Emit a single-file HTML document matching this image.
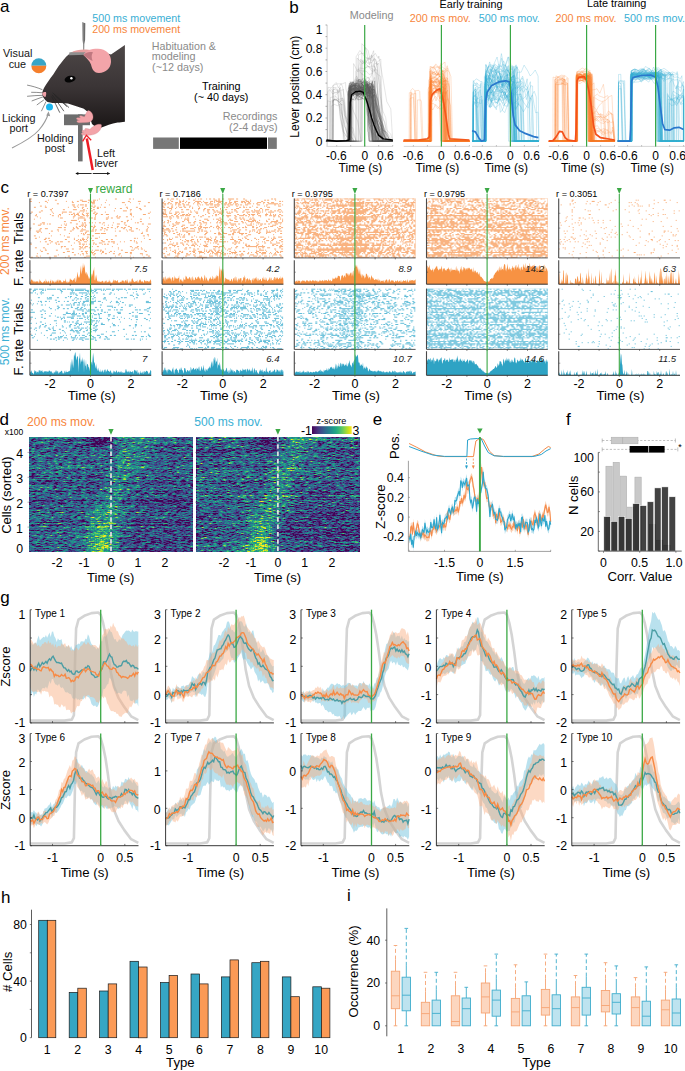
<!DOCTYPE html><html><head><meta charset="utf-8"><style>html,body{margin:0;padding:0;background:#fff}svg{display:block}</style></head><body><svg width="685" height="1071" viewBox="0 0 685 1071" font-family='"Liberation Sans", sans-serif'><rect width="685" height="1071" fill="#fff"/><text x="0.1" y="12.3" font-size="17">a</text>
<text x="92.3" y="22.4" font-size="10.7" fill="#3aafd4">500 ms movement</text>
<text x="92.2" y="32.6" font-size="10.7" fill="#f7853b">200 ms movement</text>
<text x="151.8" y="50" font-size="10.7" fill="#8a8a8a">Habituation &amp;</text>
<text x="151.8" y="60.4" font-size="10.8" fill="#8a8a8a">modeling</text>
<text x="152.1" y="70.7" font-size="10.8" fill="#8a8a8a">(~12 days)</text>
<text x="202" y="90.2" font-size="10.8">Training</text>
<text x="194.1" y="100.7" font-size="10.8">(~ 40 days)</text>
<text x="222.8" y="120" font-size="10.8" fill="#8a8a8a">Recordings</text>
<text x="229.1" y="131" font-size="10.8" fill="#8a8a8a">(2-4 days)</text>
<rect x="153.1" y="137.5" width="25.7" height="11.4" fill="#777"/>
<rect x="180" y="137.5" width="87" height="11.4" fill="#000"/>
<rect x="268" y="137.5" width="8.8" height="11.4" fill="#777"/>
<text x="3.1" y="57" font-size="10.8" fill="#151515">Visual</text>
<text x="8.7" y="67.5" font-size="10.8" fill="#151515">cue</text>
<text x="2" y="122" font-size="10.8" fill="#151515">Licking</text>
<text x="9.4" y="132.2" font-size="10.8" fill="#151515">port</text>
<text x="37" y="142.1" font-size="10.8" fill="#151515">Holding</text>
<text x="44.7" y="152" font-size="10.8" fill="#151515">post</text>
<text x="96.9" y="156.7" font-size="10.8" fill="#151515">Left</text>
<text x="94.4" y="167" font-size="10.8" fill="#151515">lever</text>
<path d="M31.3 65.8a7.5 7.5 0 0 1 15 0z" fill="#36a5c8"/>
<path d="M31.3 65.8a7.5 7.5 0 0 0 15 0z" fill="#f57f2c"/>
<defs><linearGradient id="mg" x1="0" y1="0" x2="0" y2="1"><stop offset="0" stop-color="#4d4747"/><stop offset="0.5" stop-color="#3b3536"/><stop offset="1" stop-color="#1a1616"/></linearGradient><linearGradient id="pg" x1="0" y1="0" x2="1" y2="0"><stop offset="0" stop-color="#a0a0a0"/><stop offset="1" stop-color="#5a5a5a"/></linearGradient></defs>
<path d="M82.1 22 L85.3 23.2 L85.1 40 L84.3 44 L84.2 50 L83.2 50 L83.1 44 L82.4 40z" fill="url(#pg)"/>
<path d="M12 148 C22 143 33 137 39 130 C44 124 47 118 48.2 114" stroke="#9a9a9a" stroke-width="1.1" fill="none"/>
<path d="M46.2 115.6 L48.6 111.3 L50.2 116.2z" fill="#9a9a9a"/>
<rect x="64" y="114.4" width="26" height="10.8" fill="#6d6d6d"/>
<rect x="78" y="114.4" width="4.6" height="47" fill="#6d6d6d"/>
<path d="M42.2 93.5 C42.6 91 43.3 89 44.4 87.2 C45.8 85 47 83 48.5 81 C50 78.5 51.8 76.5 53.4 74.3 C55 71.5 56.8 68.8 58.5 66.3 C60.2 64 61.9 61.8 63.6 59.7 C65.2 57.8 67 56 68.7 54.6 C70 53.6 71.2 52.7 72.5 52 L88 50.5 C95 50.2 104 52 111 54.6 L124.9 45.1 L124.9 121.8 C122 122.3 120 122.5 117.6 122.5 C114.5 123 111.5 123.8 108.8 124.7 C106 125.6 103.5 126.7 101.5 127.6 L97 128 L92 124 L91 121 L89 113 C88.3 112 87.4 111.3 86.3 110.7 C85.3 110 84.3 109.2 83.3 108.6 C81 107.8 79 107.2 77.1 106.6 C74 105.4 71 104.3 67.9 103.5 C63 103.2 57.5 103.1 52.6 103 C50.9 102.7 49.2 102.4 47.5 102 C45.8 100.7 44.5 99.2 43.4 97.4 C42.8 96.2 42.3 94.9 42.2 93.5z" fill="url(#mg)"/>
<path d="M72 52 C76 49.3 86 48.5 93 50.5 L92 53 L72 53.5z" fill="#e8a0a0"/>
<path d="M69.5 52.2 L88.4 52.2 L88.4 54.8 L69 55.2z" fill="#8f8f8f"/>
<path d="M83.5 55 C85.5 50.5 91.5 48.6 98 48.7 C106 49 111.5 54 111 62 C110.5 68.5 106 72.8 99 72.9 C93.5 73 92 68.5 91 64.5 C89.5 60.5 86.5 58 83.5 55z" fill="#f3a4a9"/>
<path d="M83.5 55 C85.5 52.3 89.5 51.2 93 52.3 C91.2 54.8 91.4 57.8 92.6 61 C90 59.6 86.5 58 83.5 55z" fill="#c07880"/>
<ellipse cx="70.1" cy="79.1" rx="5.6" ry="3.3" fill="#050505" transform="rotate(-12 70.1 79.1)"/>
<circle cx="71.4" cy="78.2" r="1.2" fill="#fff"/>
<path d="M42 93.4 C42.5 92.2 44.5 91.6 46 92 C46.4 93.6 46.2 95.6 45.4 97 C44 96.6 42.6 95.4 42 93.4z" fill="#f0a0a8"/>
<path d="M42.4 89.7 C37.5 87.6 32 86 27.1 85.1 M42.4 92.8 C38.5 92.4 34.8 92.3 31.2 92.3 M42.9 95.3 C37.5 95.4 32 95.8 27.1 96.3 M42.9 96.9 C39 98.3 35.2 99.6 31.7 101 M43.9 99.9 C41.5 101.6 39 103.3 36.8 105 M46 101.5 C44.5 104.8 43 108 41.4 111.2" stroke="#303030" stroke-width="0.55" fill="none"/>
<path d="M52.6 92.8 C58 97.5 64 102.5 69 107.6 M52.1 94.8 C56 100 60 105.5 63.9 111.2 M51.6 96.4 C54.5 101.8 57.2 107.2 59.8 112.7 M54.7 95.3 C58.8 99 62.8 102.8 66.9 106.6" stroke="#242424" stroke-width="0.7" fill="none"/>
<circle cx="49.5" cy="107.1" r="3.5" fill="#1db6ee"/>
<path d="M88 110.5 C91 111 93.5 114 93 118 C92.5 121 90 122.5 86 122.5 L80 122.8 C78 122.8 76.5 122 76.8 121 C77 120.3 78.5 120.2 79.5 120.3 C77.5 120 76 119.2 76.5 118.2 C77 117.4 79 117.6 80.5 118 C79.5 117.2 79.2 116.2 80 115.8 C81 115.4 83 116.3 84.5 116.8 C85.5 114.5 86.5 112 88 110.5z" fill="#f3a4a9" stroke="#c88088" stroke-width="0.3"/>
<path d="M101.5 125 C101.5 129 99 132.5 95 134 C92 135.2 88 135.5 84 135.2 C82 135 81 134.3 81.3 133.5 C81.6 132.8 83 132.7 84 132.8 C82.3 132.3 81.5 131.5 82 130.8 C82.5 130.2 84 130.3 85.5 130.6 C84.5 129.8 84.5 129 85.3 128.6 C86.5 128.2 88.5 129 90 129.3 C92 127 95 125 98 124.3 C100 124 101.5 124.3 101.5 125z" fill="#f3a4a9" stroke="#c88088" stroke-width="0.3"/>
<path d="M76 173.5H91.6M92.8 173.5H109.4" stroke="#111" stroke-width="0.9"/>
<path d="M75.3 173.5l3-1.6v3.2zM110.1 173.5l-3-1.6v3.2z" fill="#111"/>
<path d="M92.7 170 L86.8 138.5" stroke="#ee1c24" stroke-width="2.5" fill="none"/>
<path d="M82.6 141.4 L86.4 135.2 L91.2 140.2" stroke="#ee1c24" stroke-width="1.3" fill="none"/>
<text x="289.3" y="12.6" font-size="17">b</text>
<text x="349.7" y="19" font-size="10.8" fill="#8a8a8a">Modeling</text>
<text x="439.5" y="7.7" font-size="10.8">Early training</text>
<text x="586.9" y="7.4" font-size="10.8">Late training</text>
<text x="409.8" y="21.9" font-size="10.8" fill="#f7853b">200 ms mov.</text>
<text x="478.8" y="21.9" font-size="10.8" fill="#3aafd4">500 ms mov.</text>
<text x="555.5" y="21.9" font-size="10.8" fill="#f7853b">200 ms mov.</text>
<text x="624.1" y="21.9" font-size="10.8" fill="#3aafd4">500 ms mov.</text>
<path d="M327.1 24.9L327.1 146.4" stroke="#c0c0c0" stroke-width="0.8"/>
<path d="M325.5 141.2L327.1 141.2" stroke="#777" stroke-width="0.6"/>
<path d="M325.5 129.6L327.1 129.6" stroke="#777" stroke-width="0.6"/>
<path d="M325.5 118L327.1 118" stroke="#777" stroke-width="0.6"/>
<path d="M325.5 106.3L327.1 106.3" stroke="#777" stroke-width="0.6"/>
<path d="M325.5 94.7L327.1 94.7" stroke="#777" stroke-width="0.6"/>
<path d="M325.5 83.1L327.1 83.1" stroke="#777" stroke-width="0.6"/>
<path d="M325.5 71.5L327.1 71.5" stroke="#777" stroke-width="0.6"/>
<path d="M325.5 59.9L327.1 59.9" stroke="#777" stroke-width="0.6"/>
<path d="M325.5 48.2L327.1 48.2" stroke="#777" stroke-width="0.6"/>
<path d="M325.5 36.6L327.1 36.6" stroke="#777" stroke-width="0.6"/>
<path d="M325.5 25L327.1 25" stroke="#777" stroke-width="0.6"/>
<text x="315.7" y="145.6" font-size="12">0</text>
<text x="305.8" y="122.4" font-size="12">0.2</text>
<text x="305.5" y="99.1" font-size="12">0.4</text>
<text x="305.7" y="75.9" font-size="12">0.6</text>
<text x="305.7" y="52.6" font-size="12">0.8</text>
<text x="315.8" y="33.6" font-size="12">1</text>
<text x="298.7" y="137.7" font-size="12" transform="rotate(-90 298.7 137.7)">Lever position (cm)</text>
<path d="M326.5 146.4L392.7 146.4" stroke="#d0d0d0" stroke-width="0.9"/>
<path d="M336.7 146.4L336.7 145" stroke="#888" stroke-width="0.5"/>
<path d="M350.7 146.4L350.7 145" stroke="#888" stroke-width="0.5"/>
<path d="M364.7 146.4L364.7 145" stroke="#888" stroke-width="0.5"/>
<path d="M378.7 146.4L378.7 145" stroke="#888" stroke-width="0.5"/>
<path d="M392.7 146.4L392.7 145" stroke="#888" stroke-width="0.5"/>
<path d="M326.5 141.2l24.2 0 0.2-57.4 2.6 1.4 3.4-1.8 4.1 0.5 4.2-4.4 4.1 8.1 0.1 0.7 2 33.7 1.9 3.5 1.9 5.6 2 10.1 15.5 0M326.5 141.2l23.1 0 0.2-48.5 3.4-0.3 3.6 3.2 1.9-0.4 2.6-4.5 4.2-2.1 2.8 2.2 1.3 11.4 1.3 11.5 1.3 17.9 1.3 9.6 19.2 0M326.5 141.2l23.1 0 0.2-49.1 2 1.4 2.7-8.4 2.7 8.4 4.3 1.6 3.9-10.7 3.1 7.7 2.7-0.5 0.5 10.7 0.5 4.8 0.5 12.2 0.4 21.9 19.6 0M326.5 141.2l23.3 0 0.2-46.8 2.9 1.6 4.3-4 3.6-4.6 2.2 9.1 3.4-2.9 2.1 0.2 4.3-0.9 0.5 7.9 1.7 9.1 1.6 7.2 1.6 11.4 1.6 12.7 12.9 0M326.5 141.2l23.9 0 0.2-53.9 3.4-3.4 2.7 5.2 4.1-2 3.7 0.7 2.1-5.9 2 0.6 2.5 1.2 2.2 3.9 0.5-1.5 3.2 35.6 3.1 3 3.1 7.8 3.2 8.7 6.3 0M326.5 141.2l22.7 0 0.2-46.7 3.4 0.9 2.1-3.4 2.7-1.3 3.7 4.1 3.6-3.6 2.5 4.5 1.5 22.6 1.6 4.4 1.6 3 1.5 15.5 19.1 0M326.5 141.2l22.1 0 0.2-50.8 2.5-2.6 2.1 2.2 3.4-0.9 3.7 0.7 2.6-0.5 4.3 5 2.3 2.3 1.1-6.2 0.7 6.6 0.6 26.3 0.6 4.2 0.7 13.7 19.3 0M326.5 141.2l23.1 0 0.2-54 4.4 2 2.3-9.1 4.4 4.1 4.4 2.4 4.1-5 0.6 9.2 3.1 11.8 3.2 22.9 3.1 6.9 3.1 8.8 10.2 0M326.5 141.2l22.6 0 0.2-52.7 3.4-6.5 2.7 10.8 3.6-5.6 3.3 0.9 4.4-2.8 2.2-1.8 3.7 32 3.6 7.3 3.7 3.5 3.6 14.9 9.2 0M326.5 141.2l23.2 0 0.1-46.8 4.4-4.4 2.4 5.5 2.6-2.1 3.9-3.5 2.1 6.8 2.8 2.7 3.3-7.9 2.2-2 0.5 10.1 0.5 8.9 0.5 10.6 0.5 22.1 17.2 0M326.5 141.2l22.1 0 0.2-55.8 3.6 0.3 3.3-0.1 3-0.4 3 6 3.5-9.6 1.2 4.6 3.2 21.8 3.1 8.4 3.2 7.8 3.1 17 13.7 0M326.5 141.2l21.3 0 0.2-47.5 4.5-2.7 4-0.7 4.2 8.3 3.5-3.3 3.9-3.8 3.1 4.1 3.5 17.5 3.4 11.8 3.5 11 3.4 5.3 7.7 0M326.5 141.2l23.1 0 0.2-48.9 1.9-1.5 3.3-3.6 3 6.9 3.8 0.1 2.5-0.5 4.3-1.3 2.8-1.5 2.3 24.8 2.4 10 2.3 4 2.3 11.5 12 0M326.5 141.2l22.9 0 0.2-45 3.5-0.5 2.4-4 4.1 2.4 2.5 4.4 4.5-0.5 0.9 4.7 0.4 0.7 0.5 12.3 0.5 13 0.4 12.5 23.4 0M326.5 141.2l23.4 0 0.2-49.7 2.3-3.7 4.4 4.3 3.9 1.5 3.4-0.4 2.2-5.3 2.9-0.6 1.9 4.2 3.1 13.4 3 18.7 3 11.2 3.1 6.4 9.4 0M326.5 141.2l22.6 0 0.2-54.4 3.5-1.3 4.4 1.1 3.8-0.7 4.1-3.8 0.2 5.8 1.6 9.6 1.6 27.5 1.7 4.6 1.6 11.6 20.9 0M326.5 141.2l23.3 0 0.2-49.2 2.3-6 4.2 9.4 2-8.8 3.2 1.9 2.9 2.5 3.4 1.1 3.1-2.5 3.6-0.1 3.7 36.2 3.6 6 3.7 6.1 3.6 3.4 3.4 0M326.5 141.2l24.2 0 0.2-53.1 2.7-4.3 4.1-0.3 4.3 5.8 2.5-4.7 3.5 5 4-4.3 0.2-1.7 0.8 20.8 0.7 15.9 0.7 2.2 0.8 18.7 17.5 0M326.5 141.2l22.9 0 0.2-50.8 4.2 4.1 2.7-5.9 3.3-1 2.2 5.4 1.9-6.3 4.2 5.5 2.7 0.7 2.9 0.2 0.2-7.8 2.2 24.6 2.2 19.1 2.3 1.9 2.2 10.3 9.9 0M326.5 141.2l23.8 0 0.2-54.3 3.4-1.2 4.2 0.6 3.7-2.6 1.9-2.9 2.9 3 2.7 7.6 1.9-8.1 3.6 12.6 3.6 20.1 3.5 7.4 3.6 17.8 7.2 0M326.5 141.2l22.1 0 0.2-54.3 4.3-0.1 4-4.2 3.4 5.1 3.5 3.5 3.8-3.6 3.9 24 3.9 9.5 3.9 10.4 3.9 9.7 9.3 0M326.5 141.2l22.3 0 0.1-49.6 2.4 7.3 3.9 1.2 3.4-6.1 4.5-5 4.4 6.2 4.5 2.9 2.7-3.6 3.3 20.7 3.4 6.5 3.3 8 3.3 11.5 4.7 0M326.5 141.2l24 0 0.1-55.1 2-2.2 2.3 2.6 3.5-7.3 2.7 4.2 3.3 2.7 3.9 1.3 0.7 2.1 3.2 19.1 3.3 8.8 3.2 9.7 3.3 14.1 10.7 0M326.5 141.2l23.7 0 0.2-53.5 2.5-2.6 3.2 2.2 4.5 5 4.2-7.9 2.1 12.1 3.4-1.3 3.4-2.6 0.9-11.8 4 41.1 4 7.1 3.9 5.5 4 6.7 2.2 0M326.5 141.2l23.2 0 0.2-55.6 4.1-3.8 3.7 8.6 2.1-0.8 2.7-7.3 3.3 1.9 3.8 2.4 0.8 25.1 0.7 4.6 0.8 14.4 0.7 10.5 20.1 0M326.5 141.2l25.5 0 0.2-44.1 3.2-3.5 2.5 6.2 4-0.6 1.9-5.5 3.9 7.8 3.9 19.4 4 7.6 4 5.5 3.9 7.2 9.2 0M326.5 141.2l21.5 0 0.2-52.7 3-2.8 2.2 1.3 3.6-2.7 4.5 8.8 2.3-3.7 3 0.1 2.6-6.3 2.5 7.9 0.1-5.5 1.6 20.6 1.6 20.7 1.6 2.5 1.6 11.8 14.3 0M326.5 141.2l24 0 0.2-53.6 3.7-2.8 2.7 9.6 3.3-5.9 2.3-2.5 2.5-2.1 3.9 1.4 2.7 3.3 1.1 18.3 1.1 5.8 1.1 12.7 1.1 15.8 16.5 0M326.5 141.2l21.9 0 0.2-47.7 4.3 1.7 3.7-0.6 3.3-0.7 2.3-1.2 3.4-2.8 2.6 4.2 0.5-4.8 2.2 26.1 2.1 16.4 2.1 4.5 2.1 4.9 15.5 0M326.5 141.2l21.5 0 0.2-50.1 3.8-3 3.8 2.4 2.3-1.1 4.3 2.7 2.5-4.7 2.8 9.4 4.4-9.4 0-2 1.8 27.5 1.8 17.8 1.8 3.6 1.7 6.9 13.5 0M326.5 141.2l23.7 0 0.1-47 4.6-4.4 2.9 6.8 3.4-5.3 3.6 5.5 2.6 18.4 2.6 3.6 2.5 10.2 2.6 12.2 17.6 0M326.5 141.2l23 0 0.2-52.5 1.9-1.6 2.2 1.2 3.3 2.1 4.6-3.9 4.4 5.7 4.2 1.7 1.6-5.4 1.3 19.2 1.2 16.3 1.3 10.4 1.2 6.8 15.8 0M326.5 141.2l22 0 0.2-48.6 4.6-0.2 1.9-2.5 4.2 4.8 2.4-1.8 2.8 1.3 4.6 1.8 2.8 1.7 2.1 14.6 2.1 6.8 2.1 5.9 2.1 16.2 12.3 0M326.5 141.2l22.1 0 0.2-50.9 4.2-2 2.2-0.7 1.9 0.7 4 1 3.8 0.1 2.3 3.6 4.5-6.6 2 11.4 0.5-3.6 3.1 3.9 3.1 16.2 3.1 12.5 3.1 14.4 6.1 0M326.5 141.2l24.7 0 0.2-51.7 3.4 3.9 3-5.2 2.3 4 2.5-4.8 4.1 3.3 1.3-2.8 2.4 11.6 2.5 9.6 2.5 10.5 2.4 21.6 14.9 0M326.5 141.2l23.7 0 0.2-54.7 2.6 1.9 2.3-2.3 2.6-1.7 3.3-3.8 2.4 12.3 3.5-9.5 1.2 6.3 1.1 14.5 1 24.2 1.1 2.9 1.1 9.9 20.1 0M326.5 141.2l22.6 0 0.1-57.8 4.3 1.3 3.6-1.4 3.3-2.3 2.2-2.2 3.2 7.6 1.7 5.4 1.8 30.6 1.8 5.1 1.8 13.7 19.8 0M326.5 141.2l23.7 0 0.2-54.2 2.9 4.8 2.6-5.3 3.7 4.3 3.3 3.2 4.2-12.8 3.1 7 2.3-6.5 0.9 25.1 0.8 14.7 0.8 13.3 0.9 6.4 16.8 0M326.5 141.2l24.3 0 0.2-43.3 2.1 1.9 3.8-5.4 3.1 2.5 4.5 2.9 3.3-0.6 3.3-2.4 2.9-2 4 13.2 4.1 22 4 1.7 4 9.5 2.6 0M326.5 141.2l23.5 0 0.2-54.4 2.7-3.9 4.6 2.9 4.2 9.8 4.1-15.4 4.2 8.8 4 0.6 2.1 4.8 2.1 17.3 2.1 4.5 2.1 25 10.3 0M326.5 141.2l22.6 0 0.2-50.4 3.5-1.7 4.3 4 4-2.9 4.7 4.2 0.4-4.8 0.8 19.1 0.8 22.5 0.8 1.6 0.7 8.4 23.4 0M326.5 141.2l22.1 0 0.2-46.8 3.2 1.6 3.6-3.8 3.3 5.3 4.1-5.2 2.8 2.1 2.5-1.6 2.2 2.8 0.2 0.5 3.4 3.1 3.4 7.9 3.4 11.4 3.5 22.7 8.3 0M326.5 141.2l22.8 0 0.2-57.4 3.1-2 3.1 3.6 3.9-6.4 3.6 7.2 2 0.3 2.7 25.2 2.8 6.7 2.7 15.9 2.8 6.9 16.5 0M326.5 141.2l23.9 0 0.2-52 3.5-0.6 4.1-1.1 2.1 3.4 2.2-6.8 2.2 5.4 3.5-5 1.2 11 1.2 12.8 1.2 19.4 1.2 13.5 19.7 0M326.5 141.2l22.9 0 0.2-48.8 3.1 1.5 3.3 5.3 2.1-8.5 2.4-2.7 3.6 6.2 3.6-2 1.2 29.9 1.1 2 1.1 4.4 1.2 12.7 20.4 0M326.5 141.2l24.2 0 0.2-51.3 3.7 2.9 2 0.1 4.3-6.2 3.3 5.1 3.5-6.2 2.1 5.4 1.4 34.5 1.4 8 1.4 5 1.3 2.7 17.4 0M326.5 141.2l24.4 0 0.2-56.9 4.6 4.2 2.6-2.5 2.2-3.5 3.3 3.6 4.4-1.7 4.2-0.4 0.6 15.1 0.6 8 0.5 22.5 0.6 11.6 18 0M326.5 141.2l22.4 0 0.2-49.9 3.7-1.8 4 0.2 2.2-4.5 2.5 7.9 2.6-1.8 2.6-3.7 1.9 3.7 2.9-2.3 1.3 9.1 2.9 9.7 2.8 6 2.8 12.8 2.8 14.6 8.6 0M326.5 141.2l23.3 0 0.2-46.8 2.1-1.3 3.6 0.9 2.3-4.6 4.3 6.4 3.4-4.8 0.4-2.4 3.5 19.4 3.5 21.8 3.5 6.7 3.5 4.7 12.6 0M326.5 141.2l23.2 0 0.2-53.3 3.5 0.3 4.6-0.9 4.3-1.9 2.7 5.2 2-4.6 0.5-3.1 0.4 39.2 0.3 11.8 0.4 3.5 0.4 3.8 23.7 0M326.5 141.2l22.7 0 0.2-52.8 4.4-3 3.4-0.6 3.1 6.1 4.3 1 3.3-1.5 2 0.3 0.7 28.2 0.6 5.4 0.6 10.5 0.7 6.4 20.2 0M326.5 141.2l24 0 0.2-51.4 3.6-0.9 3.8-0.1 3.6 2.1 2.5 1.4 4.2-6.4 0 8.7 0.4 21.4 0.4 10.4 0.5 10 0.4 4.8 22.6 0M326.5 141.2l24.1 0 0.2-49.8 3.5-2.9 4.3 5.9 4.2-5.4 4.6 2.1 2.5-5.4 0.2 5.7 2.2 17.8 2.2 9 2.3 3.4 2.2 19.6 13.7 0M326.5 141.2l23 0 0.2-51.6 3.4 0 4-2.4 2-1.6 3.9 2.3 3.8 5 3.6-2.8 3.2 24.6 3.1 16 3.2 4.5 3.2 6 9.6 0M326.5 141.2l23.7 0 0.2-48.3 2 0.3 2.9 1.3 3.1-3.1 4.3-1.9 2 0.2 3.1-5.7 2.9 3.8 2.4 8.3 0.2-1.4 3.2 15.9 3.3 6.8 3.2 15.7 3.3 8.1 6.4 0M326.5 141.2l22.9 0 0.2-54.9 2.2 3.1 2 4.8 3.2-9.5 3.2-0.6 3.1-1.5 4.4 4 2.2 3.7 2.3-8.7 1.6 5.6 1.2 10.8 1.2 24.7 1.2 7.9 1.2 10.6 14.1 0" stroke="#5a5a5a" stroke-width="0.55" fill="none" opacity="0.55"/>
<path d="M326.5 141.2l6.8 0 0.2-40.8 2.1-4.3 3.1 3.5 4-1.7 1.1 2.5 3.1 23 3 2.3 3.1 2.5 3 13-7.5 0 0.2-54.1 1.9-4.3 4.5 3.6 2.9-0.1 2-2.8 2.5 7.3 2.5-5.3 2.5 0.8 2.7-3 1.9 1.4 0.7 6.2 2.7 28 2.8 2.3 2.7 3.7 2.8 16.3 8.9 0M326.5 141.2l3.2 0 0.2-51.4 2.7 4.1 4.2-1.6 3.3-2 2.6-0.2 0.7-1 1 19.8 1 9 1 6.9 1 16.4 9.6 0 0.2-83.2 2.9 3.4 3.1 2.6 3.3-5.7 3 0.6 2-1 3.8-4.5 3 5.1 0.5-2.5 4 21.8 4 23.8 4 7.3 1.9 32.3 0 0M326.5 141.2l1 0 0.2-40.7 2.3 1.5 3.3-2.4 3.9-0.7 3.1 2.8 1.9-3.5 1.6 4.2 1 23.9 1.1 2.4 1 4.9 1.1 7.6 0.1 0 0.2-49.6 2.5-2.4 3.5 2.1 1.9 0.9 2.3-0.2 3.9 1.6 3 0.3 4 8.6 4 15.1 4 13.4 4 10.2 11.3 0M326.5 141.2l35.6 0 0.2-80.3 2.9 1.4 3.8-3.3 3.1 1.4 3.7-1 0.7 2.7 1.6 13 1.5 10.6 1.6 38.3 1.6 17.2 9.9 0M326.5 141.2l24.3 0 0.2-59.4 2.5 0.5 3.7-4.7 2.9 11.1 4.3-5.3 3.8 2.1 1.2 12 1.2 28.4 1.3 9.1 1.2 6.2 19.6 0M326.5 141.2l29.3 0 0.2-69.8 2.1-2.2 3.7 1.7 4.6 0.4 2.7 3.2 2.8-0.9 2-10.1 2.1 12.7 4 39.4 4 14.6 4 3.6 3.9 7.4 0.8 0M326.5 141.2l5.9 0 0.2-40.7 3.3-1.5 3 3.5 2.8-2 1.2-0.5 2.8 18.8 2.8 8 2.7 9.5 2.8 4.9-2.6 0 0.2-50.6 2.9-1.2 2.6-0.2 4.1 4.2 3.6-4.9 2.5-2.2 3 4.1 2.8 22.3 2.8 8.2 2.8 5.3 2.7 15 11.3 0M326.5 141.2l35.5 0 0.2-67.1 4.2 2.9 3.1 1.6 4.5-7.9 4.1 4 2.1 1.3 1.6 40 1.6 3.9 1.5 2.6 1.6 18.7 6.2 0M326.5 141.2l5.1 0 0.2-37.6 2.4-3.9 3 0.7 3.3 2.8 3.5 22.1 3.4 8.4 3.5 2.8 3.5 4.7-4.4 0 0.2-52.4 2.6 2.3 3.8-0.9 4.1-4.8 3.4 12.2 0.6-1.9 3.3 11.9 3.2 15.8 3.2 9.4 3.2 8.4 15.1 0M326.5 141.2l6.5 0 0.2-52.2 2.3 0.8 2.3 1 2.2 23.6 2.3 10.2 2.2 11.6 2.2 5 3.2 0 0.2-59 3.1 1.3 3.1-0.1 4-4.5 3.8 8.3 3-5.2 2.4-2.6 3.5 2.7 1.7-4.7 2.3 11.2 2.2 22.2 2.3 6.1 2.2 24.3 9 0M326.5 141.2l3.7 0 0.1-43.6 3.5-0.9 2.8-2.7 3.6-2.7 1.1 10.3 0.5 5.6 0.6 6.3 0.5 14.1 0.5 13.6 6.6 0 0.2-59.8 2.9 6.9 3-3.1 4.3-3.9 4.4 2.1 1.9-5.1 2.1-1 0.6 5.5 2.1 10.3 2.1 7.6 2.1 27.5 2.1 13 14.9 0M326.5 141.2l6.7 0 0.2-41.2 3.7-0.3 2.9 8.2 2.9 10.1 2.9 10.8 3 12.4 1.3 0 0.2-53.1 3.6-4.9 2.6 5.8 2-5.2 2.9 6.1 3.5 2.1 2.1-2.3 2.8 0.4 1.4-3.2 3.7 24.9 3.6 8.9 3.7 5.5 3.6 15 6.9 0M326.5 141.2l25.6 0 0.2-57 4.4-8.3 4.2 12.3 4.4-9.6 2.3 8.5 2 1.6 4.1 8.6 4 12.2 4.1 8 4 23.7 6.9 0M326.5 141.2l32.5 0 0.2-73.3 4.6 0.7 3.4-1.6 3.8-0.8 3.4-0.1 1.5 3.1 1.9 18 1.8 36.2 1.9 11.4 1.9 6.4 9.3 0M326.5 141.2l34 0 0.2-80.8 4.6 3 2.6-4.7 4-3.8 3.3 9.1 4.4-3.9 1.2-1 0.5 16.6 0.5 27.8 0.5 22.1 0.5 15.6 9.9 0M326.5 141.2l1 0 0.2-49.2 2.8-3.4 3.6 3.9 2.8-0.4 2.2 0 0.4-4 2.9 37.1 2.9 10.5 2.9 1.4 2.9 4.1-1.9 0 0.1-53.3 2.2 1.2 2-3.7 2 0.3 4.4-0.5 3.7 2.5 2.6-5 3.3 8.9 2.9-11.3 2.4 11.9 2.6 5.2 2.6 20 2.7 7 2.6 16.8 7.4 0M326.5 141.2l29.5 0 0.1-84.4 3.8-6.3 4.6 6.2 3.1 1.3 2.9 0.6 3.1-7.9 0.6 7.7 2.3 54.7 2.3 8.3 2.3 3.3 2.3 16.5 9.3 0M326.5 141.2l6.5 0 0.2-55.9 4.5-1.5 4.5 0.1 3.3-1.4 0.4 6.5 3.8 11.1 3.9 11.5 3.8 8.5 3.8 21.1-10.6 0 0.2-50.6 3.6-2.8 3.4 2.7 2.2-6 3.7 9.4 3.7-6.3 3.2 0.4 2.1 2.9 0.4 6.1 0.3 22.7 0.4 11.4 0.4 10.1 18.5 0M326.5 141.2l6.1 0 0.2-50.7 2.5-2.1 3 2.8 2-4.1 4 28 4 5.2 4.1 11.8 4 9.1-6.9 0 0.1-55.8 3.9 2.5 2.1-6 4.2 2.5 2.7-2.7 3 7.8 3.1 26.4 3.2 16.8 3.2 1.8 3.1 6.7 14.6 0M326.5 141.2l1.3 0 0.2-53.9 3.6 0.6 2.1-3.2 2.6-2.2 2.1 5.5 2.6-4.4 1.6 3.2 2.1 14.4 2.2 20.8 2.1 3.3 2.2 15.9-0.4 0 0.2-57.3 4.6-2.8 4.1 0.1 4.5 1.3 4.3-1.2 2.1-0.2 1.7 17.2 1.7 29.3 1.7 6.9 1.7 6.7 15.3 0M326.5 141.2l26.9 0 0.2-77.6 4.3 8.4 2.4-12.7 2.2 1.1 2.2-0.2 2.6 3 4.6-0.7 2.8-4.3 2.5 6.7 1.5-1.7 4 53.2 4 13.6 4 4.1 2 7.1 0 0M326.5 141.2l6.2 0 0.2-53.8 3.2 0.2 1.4 1.4 2.8 29.7 2.8 13.3 2.8 2.7 2.7 6.5 1.1 0 0.2-49.5 2.7-2.6 4.5 6.1 1.9-5.3 1.9-2.1 3.8 0.9 3 7.9 1.6 27.5 1.6 7.7 1.7 2.6 1.6 6.8 18.5 0M326.5 141.2l34.3 0 0.2-77 3.3-2.3 3.2 4.2 4.2 2.2 3.2 2.4 2.2-7.7 2.8 30.9 2.9 17.1 2.9 6.5 2.9 23.7 4.1 0M326.5 141.2l4.6 0 0.2-35.3 3.4-1.5 2.6 1.3 2.5-1.4 1.2 14.6 1.3 9.5 1.2 6.4 1.3 6.4 5 0 0.2-52.9 3-2.3 3.6 2 4-0.2 4.5-1.7 2.1 0.2 0.5 8.8 0.9 3.8 0.9 25.8 0.9 11.1 0.9 5.4 21.4 0M326.5 141.2l23.8 0 0.2-56.3 3.6 6.2 2.1-11.8 4.4 2.9 3.3-4.4 4 10.9 2.9-0.7 3-4 0.3 1.5 0.8 33.1 0.8 8.2 0.8 2.5 0.9 11.9 15.3 0M326.5 141.2l35.2 0 0.2-97.5 4.6 5.1 1.7 1.9 3.5 15.5 3.6 24.3 3.6 15.2 3.5 35.5 10.3 0M326.5 141.2l3.4 0 0.2-38 4.7-3.5 3.5 1.2 3.3 4.2 0.3-1.1 0.6 10.8 0.6 4.9 0.6 14.8 0.6 6.7 3.1 0 0.2-49.5 2.3-0.7 2.8 3.3 2.6-8.7 2.7 14.6 2.7-9.2 3.7-2.8 4.4 2.4 1.7 0.4 2.8 18.6 2.8 11.2 2.8 6.8 2.8 13.6 11 0M326.5 141.2l31.8 0 0.2-86.4 3.3-1.5 1.8 0.7 2.1-6.3 3.7 17.4 2.4-9.7 0.8 46.3 0.8 4.1 0.8 17.8 0.8 17.6 17.7 0M326.5 141.2l32.3 0 0.2-71.1 3 4.3 2.4-5.4 3.6-3.4 4 5.8 2.7-1.5 2.4-0.1 0.8 33.9 0.8 11.5 0.8 6.7 0.8 19.3 12.4 0" stroke="#5a5a5a" stroke-width="0.5" fill="none" opacity="0.3"/>
<path d="M326.4 140l10.3 1.2 9.3-0.6 3.1-0.6 1.1-37.1 1.4-8.2 3.8-2.9 4.6-0.6 3.3 1.2 1.4 3.5 2.3 5.8 2.4 8.1 2.3 8.2 2.3 6.9 2.4 5.8 2.3 4.7 4.7 3.5 9.3 1.1" stroke="#000" stroke-width="1.4" fill="none" stroke-linejoin="round"/>
<path d="M364.7 25L364.7 146.4" stroke="#3aa845" stroke-width="1.2"/>
<text x="326.1" y="159.6" font-size="12">-0.6</text>
<text x="361.4" y="159.6" font-size="12">0</text>
<text x="377" y="159.6" font-size="12">0.6</text>
<text x="338.6" y="171.5" font-size="12">Time (s)</text>
<path d="M403.8 146.4L469.4 146.4" stroke="#d0d0d0" stroke-width="0.9"/>
<path d="M413.4 146.4L413.4 145" stroke="#888" stroke-width="0.5"/>
<path d="M427.4 146.4L427.4 145" stroke="#888" stroke-width="0.5"/>
<path d="M441.4 146.4L441.4 145" stroke="#888" stroke-width="0.5"/>
<path d="M455.4 146.4L455.4 145" stroke="#888" stroke-width="0.5"/>
<path d="M469.4 146.4L469.4 145" stroke="#888" stroke-width="0.5"/>
<path d="M403.8 141.2l26.6 0 0.2-57.2 3.9-3.4 3.8 5.1 3.5-6.2 3.5 2.5 3-1.1 0.9 5 2.3 55.3 17.9 0M403.8 141.2l24.2 0 0.1-52.1 2-3.8 2.8 3.2 2.9-2.7 3.4 6 2.6-5.7 2.2 2.6 1.4 13.1 1.7 39.4 22.3 0M403.8 141.2l26.2 0 0.2-69.5 3.9-4.9 4.1 8.2 2.9-12.1 0.5 9.9 0.5 68.4 27.3 0M403.8 141.2l26.2 0 0.2-49.3 4.5 0.8 3.2-2.4 3.6 4.5 2.1 46.4 25.8 0M403.8 141.2l25 0 0.2-50.5 2.4 3.9 2.8-3.3 4.4 1.3 2.6-4.5 2.9 4.1 1.8 49 23.5 0M403.8 141.2l25.4 0 0.2-56.8 2.4 1.6 3.3-6 2.1 6.4 4.2-0.8 1.2 6.3 0.6 49.3 26.2 0M403.8 141.2l27.3 0 0.2-62.4 4.4-2.4 2.1 9.2 2.6-5.8 2.4-3.6 1.6 5.1 1.7 59.9 23.3 0M403.8 141.2l5.3 0 0.2-48.5 2-0.3 0.2 48.8 20.2 0 0.2-68.2 2.6-0.8 2.4 2.7 3.8-1.1 4.6-1.4 2.3-2.5 1.5 2.4 1.6 68.9 18.7 0M403.8 141.2l26.9 0 0.2-62.9 4-0.7 3.9-4.1 4.3 8.2 3.8-1 0.8-2.8 1.6 63.3 20.1 0M403.8 141.2l27 0 0.2-63.4 3.5 1.3 3 0.6 4.5-1.7 2.6 2.7 1.1-0.7 0.3 61.2 23.4 0M403.8 141.2l26.6 0 0.1-60.2 2.2-0.5 3.6 10.4 4.5-9.4 4.7-1 0.8-3.3 0.8 64 22.3 0M403.8 141.2l25.5 0 0.2-47.8 3 2.6 3.4-3.6 3 0.9 2.2 0.5 2.1 2.1 0.9-3.6 0.7 48.9 24.6 0M403.8 141.2l26.9 0 0.1-51.3 3.7-1.7 4.6-5.7 3.9 11.2 2.2-5.5 1.5 53 22.7 0M403.8 141.2l6.1 0 0.2-42.8 3.4-1 1.5 43.8 16.2 0 0.2-66.2 2.7-3.4 1.9 3.7 3.8-2.7 2.6 0.6 1.7 68 25.3 0M403.8 141.2l6.6 0 0.2-46.3 2.9-0.4 0 0 1.8 46.7 15.1 0 0.2-68.6 2.4 0.6 3.5 2.5 4-5.5 3 1.1 2 0.1 1.2-1.7 2.3 71.5 20.4 0M403.8 141.2l25.6 0 0.2-69.9 4 0.7 2.9 3.3 3.1-4.8 3.4 3.4 2.3 6 1.9 61.3 22.2 0M403.8 141.2l26.6 0 0.2-61.6 2.5 2.7 3.1-2.9 3.8-3.8 2.7 6.3 0.4 59.3 26.3 0M403.8 141.2l26.8 0 0.2-58 2.1-0.7 4.4-4.4 2.2 5.4 2.7-0.9 1.6-4.6 1.6 63.2 24 0M403.8 141.2l26.1 0 0.1-57.5 4 2.2 2.2 3.3 2.6-4.9 0.3-3.7 1.7 60.6 28.6 0M403.8 141.2l25.9 0 0.2-72.3 3.5-2.3 1.9-0.7 3.6 1.4 3.3 3.1 2.3 3 2.2 67.8 22.7 0M403.8 141.2l27 0 0.2-37.6 2.8 0.1 4 5 4.3-5.9 2.9-4 0.9 9.6 1.6 32.8 21.9 0M403.8 141.2l6.8 0 0.2-50.9 1.9-1.8 2.3 2.4 1.5 50.3 12 0 0.2-49.3 4.4-1.2 4.2 2.3 3.2-2.9 1.5 51.1 27.4 0M403.8 141.2l27.5 0 0.2-59.6 3.6 2.5 3.4-3.5 3.2-1.5 1.5-6.2 0.4 68.3 25.8 0M403.8 141.2l7.1 0 0.1-48.3 2.7 0.9 2.1-0.6 0.4 48 14 0 0.2-48.7 4 0 2.3 0 3 6.1 3.8-7.8 0 8.4 0.5 42 25.4 0M403.8 141.2l25.8 0 0.2-64.3 3.4-0.4 4.6 3.3 2.9-6.1 3.2 1.2 0.7 4.2 1.6 62.1 23.2 0M403.8 141.2l24.9 0 0.2-53.8 2.7-3 3.7 1.6 2.9 6.3 4.3-9 2.9 1.4 3.4-1 0.5 8.8 1.5 48.7 18.6 0M403.8 141.2l26.5 0 0.2-67 4.5-2.8 2.2 1.3 2.9 4.5 2.7-6.5 2.1 1.7 0.6 68.8 23.9 0M403.8 141.2l26 0 0.2-74.8 3.7 1.8 4.4-1 2.6-2.2 2.4 2.9 2.8 1.6 1.4-3.8 2 75.5 20.1 0M403.8 141.2l25.9 0 0.2-45.8 2.8-5.8 3.3 11.3 3.8-11 4 7.3 3.9-7.2 2.3 51.2 19.4 0M403.8 141.2l25.9 0 0.2-49.4 2.9 1.7 4.6-3 2.8 8.6 1.6-8.4 0.6 50.5 27 0M403.8 141.2l26.5 0 0.2-59.5 4.4-2.6 4.4 2.3 3.4 4 0.4-4.2 1.1 60 25.2 0M403.8 141.2l27.7 0 0.2-55.1 2.8-1.4 2.2 2.1 2.5-0.7 2.5-3.6 1.7 5.1 0.8 53.6 25.2 0M403.8 141.2l26.8 0 0.2-54 4-1.8 4.3 1 3.1 0.4 3.3 2.2 1.5-3.6 1.8 55.8 20.6 0M403.8 141.2l25.9 0 0.2-36 2.9 4.8 2.8-5.6 4.2 4.6 3.4-1.1 4.6-9.4 2.8 7.2 1.1 35.5 17.7 0M403.8 141.2l26.7 0 0.2-59.2 4.5 0 3.8-1.2 2.7 1.9 4.1-2.4 0.3 1.6 1 59.3 22.3 0M403.8 141.2l27 0 0.2-67.8 3.7-5 2 3 3.2 3.6 3.5-4.2 2-0.5 2.4-2.5 3.1 8.8 1.7 64.6 16.8 0M403.8 141.2l26.9 0 0.2-65.4 2.2-1.3 2.4-1 3 1.5 3.6-4 3.5 10.7 1.3 59.5 22.5 0M403.8 141.2l26.6 0 0.2-61.4 2.4 4.5 2.9-3.4 3.1-4.6 3 1.6 3.4 8 0.9-3.3 1.8 58.6 21.3 0M403.8 141.2l26.5 0 0.2-59.8 3.8 0.5 3.4 0.3 2.5-2.3 3.6-2.8 3.6 4.6 1.6 5.2 1.2 54.3 19.2 0M403.8 141.2l11.1 0 0.2-50.4 3.6-0.5 1 1.2 2.3 49.7 8 0 0.2-56.8 4.6 0.6 4.4 2.2 2.5-3.4 3.4 1.5 2.1 55.9 22.2 0M403.8 141.2l25.9 0 0.1-50.9 3.9 4.9 2.2-6.3 3.9 2.5 2.4-8.7 2.8 11 1.2-2.6 1.3 50.1 21.9 0M403.8 141.2l26.8 0 0.1-71.4 3.2 5.7 3.1-3.5 2.6-5.5 2.4 5.5 1-2.6 1.2 71.8 25.2 0M403.8 141.2l26.2 0 0.2-62.7 2.5 4.2 3.6-0.3 3.8 2.2 0.2-5.3 2 61.9 27.1 0M403.8 141.2l26.8 0 0.2-74.5 2.5 1.2 2.5-4 3.9 4.9 3.1-5.2 2.3-1.5 0.5 79.1 23.8 0M403.8 141.2l26.5 0 0.2-51.9 2 6.6 3.7-2.6 3.3-6.5 2.3 9.8 1.2-4.6 2.2 49.2 24.2 0M403.8 141.2l28.1 0 0.2-53.3 3.5 1.2 2.6 2.8 1-4.3 1.6 53.6 28.6 0M403.8 141.2l26.6 0 0.2-52.2 3.1-3.5 3.2 4.1 2.9-1.2 2.9-1.9 2 54.7 24.7 0M403.8 141.2l13.5 0 0.2-41.3 3.3 0.1 0.7 1.9 1.5 39.3 7 0 0.2-50.2 3.8 0.8 4-0.9 3.2-0.6 2.2-0.6 0.9 51.5 25.1 0M403.8 141.2l26.7 0 0.2-49.3 4.5-3.6 2.1 0.9 3.7 4.4 1-2.5 0.9 50.1 26.5 0M403.8 141.2l24.7 0 0.2-61.4 4.5-2.5 3.5-2.3 2.9 1 3.5 8 2.1 57.2 24.2 0M403.8 141.2l25.4 0 0.2-59.9 2.9-0.2 3.7 0.6 4.7 1.1 2 5.3 1.8-2.2 1.2 55.3 23.7 0M403.8 141.2l26.2 0 0.1-59.3 2 7.6 4.2-2.6 3.8-2.9 2-9.4 1 7.1 2.1 59.5 24.2 0M403.8 141.2l27.6 0 0.2-61.4 3.6-2.3 2.4 1.2 1.8 4.5 2.7-5.7 1.8 2.9 1.4 60.8 24.1 0M403.8 141.2l26.2 0 0.2-43.3 2.2 3.5 2.9-5.2 4.6 5.5 3.1-2 3.1-7.7 2.1 7.8 1.6 41.4 19.6 0M403.8 141.2l26.1 0 0.2-55.7 3.8-0.6 4.6 3.5 2.6 0.5 3.1 0.1 0.1-4.3 0.8 56.5 24.3 0" stroke="#fb7f2c" stroke-width="0.55" fill="none" opacity="0.4"/>
<path d="M403.6 140l14.5 0 9.3-1.1 2.1-2.3 0.9-36.1 1.7-5.8 4.6-4.6 3.3-1.2 1.4 3.5 2.3 10.5 2.4 15.1 2.3 16.2 1.4 4.7 19.6 1.1" stroke="#f4591c" stroke-width="1.7" fill="none" stroke-linejoin="round"/>
<path d="M441.4 25L441.4 146.4" stroke="#3aa845" stroke-width="1.2"/>
<text x="402.8" y="159.6" font-size="12">-0.6</text>
<text x="438.1" y="159.6" font-size="12">0</text>
<text x="453.7" y="159.6" font-size="12">0.6</text>
<text x="415.6" y="171.5" font-size="12">Time (s)</text>
<path d="M472 146.4L538.9 146.4" stroke="#d0d0d0" stroke-width="0.9"/>
<path d="M482.4 146.4L482.4 145" stroke="#888" stroke-width="0.5"/>
<path d="M496.4 146.4L496.4 145" stroke="#888" stroke-width="0.5"/>
<path d="M510.4 146.4L510.4 145" stroke="#888" stroke-width="0.5"/>
<path d="M524.4 146.4L524.4 145" stroke="#888" stroke-width="0.5"/>
<path d="M538.4 146.4L538.4 145" stroke="#888" stroke-width="0.5"/>
<path d="M472 141.2l1.1 0 0.2-45.6 2.5-0.6 2.6-3.3 0.8 4 2 45.5 3.6 0 0.2-51.2 3.2 2.2 3.6 0.4 4.3 6.9 3.8-8.1 2-1.8 2.7 8.2 2-12.1 3.9 9.2 4.3-1.9 1 9.8 1.1 38.4 21.5 0M472 141.2l12.2 0 0.2-64.6 2.2-3.1 3.1-11.6 3.6 16.9 3-8.8 2.8 13.2 4.4-2.7 3.8-14.2 4.7 15.2 3.7-10.9 1.6-3.9 2.3 74.5 18.8 0M472 141.2l12.6 0 0.2-52.7 2.7 6.6 2-17.3 2.1 24.7 4.1-11.2 2.7-4.6 4.1 0.6 3.5 2.5 2-0.3 4.4 4.1 1.1-11.9 2.3 59.5 22.6 0M472 141.2l13.4 0 0.1-67.8 2.5 6.6 2.3-11 1.9 1 4.6 7.1 4.4 0.9 3.3-9.1 3.7 10.6 3.6-1.9 1.6-10.7 1.2 74.3 23.8 0M472 141.2l13.2 0 0.2-58.6 3.4-4.9 1.9 11.5 1.9-10.5 3.6 5.2 3.6 0.2 3.2 0.8 3.8 2.6 4-7 3.7 1.8 4.6 0.3 3.5-6.4 2.8 9.7 1.8-7.1 1 62.4 10.2 0M472 141.2l13.3 0 0.1-65.6 3.5 0.4 2.5 4.6 4.1-5.3 3.1-3.5 3.8-0.3 2.8 1 4.2 13.7 2.4-14.9 2.8 11.4 1.1 2.7 1.2 55.8 21.5 0M472 141.2l1.1 0 0.2-50.2 2.6-1.8 0.3 6.4 2 45.6 7.6 0 0.2-71.8 2.8-3.4 4.1-0.2 2.6 7 3.1-8.4 3 2 1.9 4.6 4.5-14.1 3.1 24.2 4.5-15.4 3.8 5.5 1.9 70 17.1 0M472 141.2l13 0 0.2-57.3 3.5-2.2 2.6 1.5 4.4 2.3 3.9-12.6 4.3 16.7 3.5-15.3 2.4 8.8 2.6 4.5 1.1 53.6 24.9 0M472 141.2l12.8 0 0.2-52.4 4.3 10 2.9-11.5 2.4 11.9 2.3-8.1 4.1-11.6 4.2 14.2 1.9 3.1 2 0.3 2.1-7.7 1.3 51.8 25.9 0M472 141.2l13.9 0 0.2-44.2 2-2.1 2-0.1 4.6 0.7 3.3 3.4 2.8 0.2 3.6-7.1 3.5 7.4 2.8-5.3 2.1-2.4 1.8 49.5 23.8 0M472 141.2l13.9 0 0.2-62.6 3.6-1.1 4.1 6.7 3.6-0.5 3.3-7.4 3.8 10.2 3.1-12.2 2.6 13.1 2.1-6.8 0.5 3.5 2.1 57.1 23.5 0M472 141.2l13.7 0 0.2-45.9 3.2-8.8 2.2 5.5 4.3 11.2 4.1-3.2 3.4 3.5 2.2-7.7 2.3-0.2 4-2.7 2.2 1.7 4.3 0.2 3.1-0.6 0.5 47 16.7 0M472 141.2l12.9 0 0.2-44.4 4.1-9.6 3.3 7.4 3.9-5.3 4.5 1.5 2 9.4 4.2-10.1 2.5 4.8 3.6-2.1 4 8.4 3-7.8 2.8 5.5 3.3-3.3 2.3-4.7 1.8 50.3 8 0M472 141.2l1.1 0 0.2-56.8 3.6-1.6 2.2 2.8 1.1-1.1 1.4 56.7 3.7 0 0.2-53.6 3.1 13 3.9-14.8 2.4-2.4 3.5 5.9 3.8-5.6 4.6 6.5 3-11.3 0.5 4.1 0.8 58.2 27.3 0M472 141.2l1.1 0 0.2-48.8 2.3 2.6 0.5 46.2 8.7 0 0.2-54.4 4.7-9 3.2 14.3 4.2-1.5 4.2 2.4 3.8-3.9 4.3 5.4 3.6-13.2 1.3 59.9 24.1 0M472 141.2l1.1 0 0.2-55.7 2.3 0.1 1.4-2.3 1.8 57.9 6 0 0.2-39.8 4.3-3.6 4.2 6.2 2.8 5.7 2.1-12.6 2.1 1.9 2.9 6.6 3.5-3.9 2.8 0.3 3.1 3.4 3.5-4.3 4.4 6 0.5 34.1 17.2 0M472 141.2l1.1 0 0.2-38.1 4.5 4.2 2.3-8.5 1.8 42.4 4 0 0.2-71.6 2.7 3.8 4.1 3.8 2.6-8 3.7 15.2 3.4-19.9 2.9 0.7 3.8 7.6 0.3 3.6 0.6 64.8 28.2 0M472 141.2l13.2 0 0.2-54.4 2.2-2.9 2.8 4.3 3.9 4.7 3.6-1.8 3.2-2.9 2.1-4.7 3.8 3.1 4 7.5 2.8-6.7 4.3-6.2 2 10 4.1-4.2 2.8 2.8 3.4-8.1 1.8 59.5 6.2 0M472 141.2l13.6 0 0.2-54.8 4-1.7 3.9 0.2 3.1-2 3.9-0.4 3.5 12.7 2.3-5.8 3.4-5.3 3.1 0.9 1.9 56.2 23.5 0M472 141.2l1.1 0 0.2-60.7 3.5 6.3 3.7 0.8 0.5-5 1.3 58.6 3.5 0 0.2-65.7 3.6-11 3.9 1 3.7 9.9 3.2 6.5 2.4-5.4 3.4-7.7 3.7 5.1 1.8 8.7 2.2 58.6 24.5 0M472 141.2l13.7 0 0.2-67.6 2.8-7.8 2.6 1.4 4.4 3 2.8-2.7 2.2 12.6 4.3 4.2 3.9-2.8 3.9-2.1 3.4-14.6 2.1 76.4 20.1 0M472 141.2l13.5 0 0.1-48.7 2.5-0.7 2.3 9.7 3.4-9.2 3 3.1 3.2 1.1 4-1.1 4.4-5.1 3.8 5.9 0.8-7.9 1.3 52.9 24.1 0M472 141.2l13.4 0 0.2-58.7 3.2 3.2 2.4-4.1 3-2.5 2.3 0.6 2.4 2.3 3.2-0.6 3.1 0.7 3 1 3 1.2 1.3-0.7 2.2 57.6 23.7 0M472 141.2l1.1 0 0.2-48.6 2.2-5.4 0.6 3.6 0.8 50.4 8.6 0 0.2-63.9 4.1 13.2 2.7-16.1 2.5 4 3.7-11.7 2.8 3.3 4.6 2.4 3.5 3.5 2.1 1.4 2.4-1.9 0.4 1.5 1.6 64.3 22.3 0M472 141.2l13.9 0 0.2-76.7 4.5 12.3 1.9-9.6 4.6-10.2 2.1 10.6 2.2-14 2.9 15.3 4.5-12 2.3 8.2 2.5 8.8 1.4 67.3 23.4 0M472 141.2l13.1 0 0.1-64.5 2.7 6.5 2.3-5 3.9 6.3 2.9-4.4 3.9-3.7 1.9 9.9 3.8-11.6 2.1 1.1 3.7-10.2 0.3 2.6 1.1 73 24.6 0M472 141.2l12.6 0 0.2-57.3 2.1 11.7 2.2-20.3 3.4 6.8 3.7 0.3 2.5-1.7 3.7 2.2 3.5-3.2 4.6 3.9 0.1-1.1 1.1 58.7 26.7 0M472 141.2l14.1 0 0.2-46.7 2.4-1.1 4.2-1.1 2.2-12.8 2.4 12.7 4.4-3.3 2.5 2.2 4.2 9.6 1.7-0.7 1.8 41.2 26.3 0M472 141.2l13 0 0.2-67.2 3.5-7.1 4.2 5.1 3.1-5 3.9 2.3 3.3 2.2 2 11.5 3.1-5.9 3.7 0.1 2.8-0.7 0.2-7.8 1.1 72.5 22.3 0M472 141.2l1.1 0 0.2-39.7 3.5 2.4 0.1-6.3 1.1 43.6 7.4 0 0.2-70 4.5 3 4.4-9.3 4.1 8.4 3-15.1 2.6 13.2 4.5-1.2 3.9-1.4 2.7 10.7 2-7.3 3.9 0 2.9-7.1 3.9 6.2 2.2 4.7 2.7-2.8 2.3-3.2 2.9 6.1 0.8 65.1-0.5 0M472 141.2l12 0 0.2-54.7 3.1 7.1 2.9-6 4.3 0.3 4.3-7.8 4.1 7.6 4.2-5.4 1.8-0.7 3.4-0.4 0.8 4.3 0.6 55.7 24.7 0M472 141.2l13.6 0 0.2-36 1.9-3.4 2.4-2.7 2.8 5.6 2 3 2.8-1.7 2.5-2.7 2.6 7.7 2 1.6 3.8-10.9 4.4 2 2.3 5.6 3.9-5.8 4.2 8.4 3.5-6 1.9-4.1 3.6-6.7 3.2 17.7 2.3-0.8 1 29.2-0.5 0M472 141.2l12.3 0 0.2-49.7 2.4 7.4 3.4 9.2 3-12.7 4.1-9 3.1 1.9 2.8 4.1 3.3 8.8 4.2-15.6 2.6 7 1.5 48.6 23.5 0M472 141.2l13.3 0 0.2-51.5 2.2-0.4 3.7 5.2 4.4-9.9 4.6 7.4 4.4 0.7 2.4 5.1 2.7-15.4 2.6-6 2.8 17.6 3-3.7 2.5-3.7 4.6-0.6 2.5 1.7 2.1 11.4 4.2-7.9 2.1 5.8 0.3 44.2 1.8 0M472 141.2l1.1 0 0.2-36.9 3.3-2.4 4.6 1.7 0.9-3.9 0.6 41.5 2 0 0.2-57.1 4.6-9.9 3.8 11.9 2 0.6 4-4.3 4.1-1.6 4.4-10.8 3.3 9.7 3-0.1 0.3 0.9 2.3 60.7 21.7 0M472 141.2l1.1 0 0.2-39.1 2.4-11 0.6 15.4 2.3 34.7 7.2 0 0.2-63.5 2.5 8.7 3.3-20 3.8 11.7 2.8-1.5 4-0.4 3.2 8.9 3.3-0.7 4.2-9.3 2.5 13.8 1.3-3.7 2 56 19.5 0M472 141.2l1.1 0 0.2-59.3 3-3.1 4.3 2.7 1.5 0.1 2.1 59.6 1.4 0 0.2-63.7 4.1-8.8 3.4 9.3 4-6.5 3.1 2.1 2.3 8.1 3.2-1.1 3-0.8 3.5-7.2 4.6-5.7 0.2 15.2 1.9 59.1 19.3 0M472 141.2l1.1 0 0.2-42.7 3.6 1.8 3.2-10.7 2.1 13.2 2.1 38.4 1.6 0 0.2-64.8 4.6-1 3.4 8.5 2-10.4 3.1-2.9 2 14 4.3 4 2.9-23.1 2.4 22.4 3.1-7.9 4.3-2.3 2.7 4 2.1 0.6 1 58.9 14.4 0M472 141.2l13.4 0 0.2-65.7 2.5 5.5 2.2-11.3 2.1 7.8 2-6.3 3.4-2.1 3.9 9.8 4.2-10.2 3.1 17.7 1.5-9.7 2.1 64.5 25.8 0M472 141.2l13.2 0 0.2-41.2 2.4-3.5 2.1 10.5 1.9-6.6 4.2-1 2.4 1.5 3.3-6.6 3.1 11.6 3.1 0.3 2.1-15 2.1 10 0.8 7.9 2.3 32.1 23.2 0M472 141.2l1.1 0 0.2-48.8 2.2-3.5 1.1 52.3 9.2 0 0.2-42.9 3.5-2.9 2.9 5.5 2.1-1.7 4.5 0.2 3.4 1.1 2.5-1.1 3.1-5.6 2.7 10.2 4.6-1.9 2.5 2.3 2.7-8.6 2.3 4.3 1.5 41.1 14.1 0M472 141.2l13.6 0 0.2-40.4 2.4-5.7 2.7 3.5 2.4-0.6 4.2 5.8 4.5-12.4 3 0.6 2.5 8.2 3.2-0.9 3-5 2 15.4 3-6.1 2.5-5.1 2.6 4.1 2.2 3.2 2.5 2 2.6-9.6 1.2 3.9 1.6 39.1 4.5 0M472 141.2l13.1 0 0.1-64.2 3.4 6.7 3.1-2 2.1-7.3 3.2 13.8 3.5-9.8 3.8-13.7 2.5 5.3 2.8 22.5 4.6-11.9 0.8-4 1.8 64.6 21.6 0M472 141.2l13.3 0 0.2-47.4 3.2 2 3.4-6.1 3.3 8.9 3.5-6.6 2.1 5.3 4 1.2 3.7-3.1 2.1 45.8 27.6 0M472 141.2l14.5 0 0.2-57 1.9 4.1 2.8 4.5 3.2-4.6 3.9-2.2 3.4 0.3 3.4-3.9 2.8 2.4 2.9 3 2.5 2.8 2.1-10.5 2 8 3.3-4.3 1-0.9 1.3 58.3 15.2 0M472 141.2l13.7 0 0.1-64.7 2.1 0.8 4.5-5.8 2.2-1.3 3.1 8.4 2.6-5.8 3.4 4.5 3.3-2.1 3.6-2.7 1.9 68.7 25.9 0M472 141.2l13.6 0 0.2-56 2.5 15.2 2.8-19.4 4-0.2 2.6-3 3.3 15.6 4-16.6 3.3 10.8 4.1 3.3 2.6 1.7 2.9-5.3 2-6.1 2.5-3.3 4 21.7 4.2-13.9 2 0.3 0.3 55.2 5.5 0M472 141.2l12.9 0 0.2-57.6 2.3-9.5 3.2 10.7 4-5.5 3.7-1.6 3.5 4.2 3.7-1 2.6 2.3 0.4 58 29.9 0M472 141.2l13.5 0 0.2-51.2 2.6-4 3.8-0.7 3.8 4.7 2.4-6.8 2.8 5.4 4.5-7 3 2.2 4.1 14.4 2.8-11.1 2.5 12.9 2.8-13 2.5 5.3 2.8-3.6 3.2 8.9 0.9 43.6 8.2 0M472 141.2l1.1 0 0.2-44.7 2.3-0.4 1.6 45.1 8 0 0.2-61.6 3.9 7.9 3.4-3.4 2-6.7 4.1 4.9 4.5-2.7 3.5 4.5 2.2-0.1 4.6-7.1 1-2.1 2.3 66.4 21.5 0M472 141.2l1.1 0 0.2-48.8 1.8-0.3 3.8-4.8 0.3 53.9 6.3 0 0.1-76.6 3.8 9.3 2.7-4.5 2.7-5.6 2.3 2.6 4.5 0 2-5.5 2.1 4.6 4 8.9 3.3-7.9 1.4-0.2 1.6 74.9 22.4 0M472 141.2l13.3 0 0.1-59 3.8-5.4 3.9 8.1 3.4 2.4 3.6-9.2 1.9 7.4 2.6-12.2 3.2 9.1 3.7-5.6 0.7 6 1.3 58.4 24.9 0M472 141.2l1.1 0 0.2-36.6 2.3-4.6 2.2 2.9 1.2 38.3 5 0 0.2-58.8 2.6-2.1 4.3 7 3.1-2.8 2-1.1 2.9 8.6 3.9-9 2.5-4.7 2.4 10.6 3.9-1.4 2.2-5.8 2.9 7.3 3.3-3.1 0.5-5.1 1.1 60.4 16.6 0M472 141.2l13.2 0 0.1-40.5 3.9 6.6 4.6-13.1 4.4-1.1 2.2 19.3 2.7-3.8 4.3-13 2.2 8.6 2.5-6.4 2.8 8.3 0 7.1 0.7 28 22.8 0M472 141.2l1.1 0 0.2-44.1 2.1-2 2.4 3.7 4.2-2.6 1 45 2.9 0 0.2-41.4 2.7-12.4 2.5 19.6 2.9-5.2 3.3 1.3 4.5-13.9 4 9.7 2.6 2.9 2.4-10.6 4.4-4 0.2 6.2 0.5 47.8 22.3 0" stroke="#35acd0" stroke-width="0.55" fill="none" opacity="0.45"/>
<path d="M472.1 130.7l3.3 1.2 3.3 5.8 2.8 3.5 3-1.2 1.2-39.5 1.4-8.1 4.6-7 7-3.5 7-1.1 3.8 1.1 1.8 12.8 1.9 20.9 1.9 9.3 4.6 5.8 4.7 2.4 9.3 3.5 4.7 1.1" stroke="#2a78cc" stroke-width="1.7" fill="none" stroke-linejoin="round"/>
<path d="M510.4 25L510.4 146.4" stroke="#3aa845" stroke-width="1.2"/>
<text x="471.8" y="159.6" font-size="12">-0.6</text>
<text x="507.1" y="159.6" font-size="12">0</text>
<text x="523.2" y="159.6" font-size="12">0.6</text>
<text x="484.4" y="171.5" font-size="12">Time (s)</text>
<path d="M548.9 146.4L615.1 146.4" stroke="#d0d0d0" stroke-width="0.9"/>
<path d="M558.6 146.4L558.6 145" stroke="#888" stroke-width="0.5"/>
<path d="M572.6 146.4L572.6 145" stroke="#888" stroke-width="0.5"/>
<path d="M586.6 146.4L586.6 145" stroke="#888" stroke-width="0.5"/>
<path d="M600.6 146.4L600.6 145" stroke="#888" stroke-width="0.5"/>
<path d="M614.6 146.4L614.6 145" stroke="#888" stroke-width="0.5"/>
<path d="M548.9 141.2l28 0 0.2-65.9 4.4-0.7 4.1 0.6 3.4 1.3 2.6-1.6 0.7 66.3 22.3 0M548.9 141.2l27.8 0 0.2-66.5 3.9 2.8 4.3-3.3 3.3 1 1.7 66 1.1 0 0.2-22.6 3.3-1.2 2.1-1.2 4.5 0.4 2.7 4.2 4.4 2.1 1-2.2 2 20.5 3.2 0M548.9 141.2l27.2 0 0.2-66.1 4.2-1.3 2-1.1 2.6 1.7 3.4 2.3 2.2-1.9 2.3 66.4 21.6 0M548.9 141.2l27.5 0 0.1-65.3 4-1.6 2.8 5.1 2.1-2.1 2.1-1.8 2.1-2.5 1.5 68.2 23.5 0M548.9 141.2l27.6 0 0.1-65.8 4.4-0.7 4.6 1.2 1.9 3.9 2.6-7.3 2.5 3.6 2.3 65.1 19.7 0M548.9 141.2l27.8 0 0.2-62.7 2.9-0.4 4.6 0.5 2-0.3 2.3-0.2 0.2 2 0.9 61.1 24.8 0M548.9 141.2l9.6 0 0.2-58.2 2 0.6 3.2-0.6 0.4-4 0.5 62.2 11.9 0 0.2-64.8 3.3-0.2 4.7 2 3.2-1.9 1.3-1.7 0.3 66.6 24.9 0M548.9 141.2l27.7 0 0.2-69.4 2.5-0.3 4.3-0.9 2.3-2.6 3.4 2.6 0.6-0.5 2.1 71.1 0.7 0 0.1-10.7 3.7 0.2 4.1-0.1 2.2 2.7 1.4-3.9 2.1 11.8 8.3 0M548.9 141.2l28.4 0 0.2-62.7 3.7-2.2 3.8 2.6 4.5-4.4 1-0.2 2.3 66.9 0.5 0 0.2-44.3 3.8-2.8 1.9 1.8 4.6 1.7 3.8-2 0.4 0.7 1.6 44.9 5 0M548.9 141.2l27.6 0 0.2-59.2 1.9 0 4.4-2.3 4 0.2 4.3 5.5 2.5-2.2 0.3-0.4 2.1 58.4 18.4 0M548.9 141.2l27.4 0 0.2-61.7 1.9 1.7 4.3-0.6 3.6-2.2 4-0.2 1.3 63 23 0M548.9 141.2l8.7 0 0.2-56.8 4.6-0.4 3.6 0.1 1.5-0.7 1.1 57.8 7.6 0 0.2-63.9 4.3 1.4 4-4.7 2.4 1.9 1.9 2.5 1.1 62.8 1.7 0 0.2-19.3 4.1-4.2 2.3 3.1 2.3 2.1 3.2 0.5 3.5-4 1.7 21.8 5.5 0M548.9 141.2l5.5 0 0.2-61.4 2.9-2.3 4 0.6 3.8 1.8 0 0.6 2.1 60.7 9.1 0 0.2-61.9 3.1 1 4.5 0.2 4-4.5 1.7 4.7 0.5 60.5 24.1 0M548.9 141.2l27.4 0 0.2-62.3 2.1-1.9 2.4-0.6 4.3 4.1 2.9-3.2 3.6 0.2 0.2 0.4 2.2 63.3 20.4 0M548.9 141.2l7.6 0 0.2-59.3 4.5-0.8 2.3-0.5 1.3 60.6 11.8 0 0.2-64.6 3.5-2.7 4.6 3.9 2.2 0.4 3.9 0.6 0.4 0.3 0.9 62.1 1.9 0 0.2-43.7 4.5 2.9 3 1.1 3.8-1.2 2.7-3.1 3.5-1.8 2.3 45.8 0.4 0M548.9 141.2l27.4 0 0.1-65.9 2.4 2.6 3.6-1.9 2.9-3 2.3 3.1 1.3-5.1 2.3 70.2 0.5 0 0.1-27 4.5-2.6 3.5 3 1-1.3 0.8 27.9 13 0M548.9 141.2l28.4 0 0.2-62.4 4.5-1.5 3.8-1.1 2.4 1.3 1.4 63.7 1.4 0 0.2-19.5 2.3 0.4 2.2-2.4 2.2 1.6 2-1.6 4.4 2 0.5 1.1 1.6 18.4 8.2 0M548.9 141.2l27.1 0 0.2-67.2 3.8 0.4 3.3 1.8 2.3-3.3 2.2 2.8 0.4 65.5 26.4 0M548.9 141.2l8.9 0 0.2-60.3 2-0.8 3-2.2 0.5 63.3 12.8 0 0.1-60.3 2.4-0.5 4.2 0 3.4 1.7 2 1.6 0.6 57.5 25.6 0M548.9 141.2l27.8 0 0.1-68.1 4.2 0 3.6-1.9 4.4 0.4 2.7 3.7 0.2 0.7 1.5 65.2 1.3 0 0.2-25.6 2 1.2 4.2 0.1 3.8 0.4 3.6-6.3 2.8 2.1 1.2 6.7 2.1 21.4 0 0M548.9 141.2l27.4 0 0.1-61.5 2.9 0.9 2.1-0.4 3.4 1.5 0.9-0.9 0.6 60.4 28.3 0M548.9 141.2l8.4 0 0.2-63.9 3.6-2.1 3.6 0.3 1.9 1.6 1.5 0.9 1 63.2 7.3 0 0.2-69.3 4.3-0.1 4-0.5 3 2 2-1 1.1 68.9 1.7 0 0.2-9.3 4.6 0.3 4-1.6 3.8 2.8 4-0.8 2.4 1.7 0.7-7.3 2.2 14.2 0 0M548.9 141.2l27.8 0 0.1-64.6 4.3 1.1 2.5-3.3 3.3 0.9 1.1 1.1 0.8 64.8 25.8 0M548.9 141.2l28.1 0 0.2-67.4 2.1 0.1 2.5-2.5 4.3 3.5 3.3-2.3 1.6 0.2 1.2 68.4 22.4 0M548.9 141.2l27.8 0 0.2-66 3.4 2 2.1 1.2 4.3-4.4 1.4-1.3 0.3 68.5 2.5 0 0.2-51.1 4-0.6 1.9-0.8 2.8 4.6 3.6-9 1.4 10.5 0.5 46.4 9.3 0M548.9 141.2l28.5 0 0.2-69.7 4.6-3.5 3.9 2.1 2.5 0.9 0.7 70.2 25.3 0M548.9 141.2l6.5 0 0.2-62.1 2.5-1.4 2.5 2.1 3.7-0.3 1 0.3 1.7 61.4 9.4 0 0.2-62 4.5-1.4 2.4 4.2 2.5-6.8 1.9 2.8 3.2-1.8 2.2 65 0.6 0 0.2-10.9 3.2-1.9 3.9 1.4 1.5 1.5 1.1 9.9 10.8 0M548.9 141.2l27.8 0 0.2-62.9 1.9-0.6 3.1 3.3 2.2-2.1 4.3-2.8 3.1 0.1 0.6 65 22.5 0M548.9 141.2l27.6 0 0.2-61.9 1.9 2.8 2.3-4.1 1.9 0.7 3.1-0.8 2.5 2.1 0.9 61.2 25.3 0M548.9 141.2l27.5 0 0.2-58.8 3.4 1.2 2.9-2 3.1 1.6 2.3-2.6 0.4 3.3 2.3 57.3 0.5 0 0.2-23.7 2.3 0.8 2 2.2 4.2-3.7 4.5 1.4 3.4 1.6 0.8 21.4 5.7 0M548.9 141.2l6.5 0 0.2-58.2 4.6-0.7 3 1.3 1.9 1.6 2.7-1.8 0.4 57.8 8.1 0 0.2-62.6 3-1.6 4.5 0.7 2.6-1.6 3.5 6.1 0.7 59 23.8 0M548.9 141.2l28.9 0 0.1-60.6 3.4 0 3-2.1 3.8 0.8 3.3 3.5 1.7 58.4 21.5 0M548.9 141.2l6.3 0 0.2-57 2.6 0.5 3.7-0.2 0.3-2.9 0.6 59.6 13.9 0 0.2-64.6 4-1.9 3.4 3.2 2.9-2 1.2 0.5 1.4 64.8 25 0M548.9 141.2l27.2 0 0.2-63.5 3.7 2.2 3.5-1.6 2.4-3.1 3.2 3.2 2.2 62.8 23.3 0M548.9 141.2l27.5 0 0.2-66.2 2.4-1.5 3.3 1.9 3.7-2 2.7-0.4 0.7 4.3 0.9 63.9 24.3 0M548.9 141.2l27.7 0 0.2-65.4 1.9 1.2 2.5 0.6 2.5-3.5 2.6 2 1.4 2.3 0.8 62.8 2 0 0.2-9.5 2.1-1.4 4.1 0.7 1.9 0.2 4.6 3.9 3.4-5 4.6 2.8 1.3-3 1.7 11.3 0.2 0M548.9 141.2l5.8 0 0.2-62.4 2.1 1.1 3-1.2 2.7-0.2 2.2 2.1 2.1-2.3 1.8 62.9 6.9 0 0.2-64.8 4.3 1 4.4-3.4 2.9 1.7 2.1 1.1 2.2 64.4 22.8 0M548.9 141.2l28.4 0 0.2-63.9 4.3-1.1 3.5 3.9 1.8-0.1 0.9 61.2 26.6 0M548.9 141.2l28.4 0 0.2-65.5 2.4 1.1 3.2-2.3 3 2.3 3.1-1.6 0 1.2 2.1 64.8 23.3 0M548.9 141.2l7.9 0 0.2-61.2 3.8-0.7 3.5 2.4 2.7 1 1.9 58.5 7.7 0 0.1-62.6 4.6-2.6 2.9 3.8 3.3-1.3 1.4 3.2 2.2 59.5 23.5 0M548.9 141.2l27.5 0 0.2-62.9 2.4-2.4 1.9-1 2.7 4.3 2-2.2 2.3 4 3-3.9 0.8 64.1 22.9 0M548.9 141.2l4 0 0.2-64.2 1.9 0.7 2.4-0.9 1.9 1 3.2 0.1 1.9-2.1 1.5 65.4 10.3 0 0.1-63.4 3.9-1.4 3.6 2.2 2.2-0.8 1.8-0.8 2.1 64.2 0.7 0 0.2-35.7 2.8 1.2 3 3.4 2.4-4.6 3-2.7 1-1.4 1.6 39.8 10 0M548.9 141.2l28 0 0.2-66.6 4.4 2.3 2.2-3 3.1-0.1 4 4.2 1 63.2 1.8 0 0.2-27.7 3.5 0.8 2.5 0.4 1.9 0.2 3 3 2.7-2.5 4.4-2.4 0.3 1.8 1.8 26.4 0.7 0M548.9 141.2l28.2 0 0.2-63.6 3.6 0.6 2.4-2.3 2.1 3.1 1.9-1.2 1.2 63.4 26.1 0M548.9 141.2l6.8 0 0.2-65.4 1.9 0.8 3-0.2 2.3-0.2 2.1 65 11.5 0 0.2-64.7 2.8 0.3 4.6 0.8 4.6-2.6 1.3-1 1 67.2 1.9 0 0.1-20.9 2-0.9 3.2-2.7 3.3 2.6 2.9 0 3.3-0.1 2.8 3.4 2.7-0.9 1.7 19.5-0.5 0M548.9 141.2l27.1 0 0.2-64.4 3.9-3.2 3.3 5.4 3.2-2.9 3 0.8 1.2 2.2 1.5 62.1 22.3 0M548.9 141.2l6.7 0 0.2-60.2 3-0.7 3.5-0.5 0.9 61.4 13.2 0 0.2-65.4 2.6 2.5 2-3.5 3.8-2.4 2.4 2.2 3.9-0.8 0.8 67.4 22.5 0M548.9 141.2l27.8 0 0.1-64.7 4 1.5 2.8-2.3 2.9 2.4 2.2-0.8 0.2 4.4 1.8 59.5 23.9 0M548.9 141.2l27.9 0 0.2-66.8 4-2.3 2.3 0.6 3.6 4.7 2.1-2.7 0.3 66.5 25.3 0M548.9 141.2l27.7 0 0.2-63.9 4.6-2.8 1.9 4.5 4.6-2.8 1.4 0.7 0.5 64.3 24.8 0M548.9 141.2l27.6 0 0.2-65.9 4.5-1.5 3.6 4.8 2-3.1 1.7 65.7 26.1 0M548.9 141.2l28.3 0 0.2-64.7 2.5 0.4 3.6-0.8 3.1 0.5 3.5-0.9 0.1-2 0.8 67.5 23.6 0M548.9 141.2l28.1 0 0.2-66.1 2.3-1.3 4.3 2.7 2.8-1.3 2.7 1.1 0.7 0.2 1.3 64.7 1.5 0 0.2-28.5 3.6-2.3 2.7 5 3.8-0.9 2.9 2.9 3.4-4.8 2.8 2.1 0.7-0.4 2 26.9-0.3 0M548.9 141.2l27.4 0 0.2-65.1 4.6-1.7 3.2 2.4 3.7 1.6 2.9-2.2 1.5-2.4 1.9 67.4 20.3 0M548.9 141.2l27.1 0 0.1-65.9 2.4 0.9 2.5-0.1 3-0.1 2.9-1.3 1.6 0.9 1.3 65.6 1.5 0 0.2-13.6 3.1-1.2 2.9-0.7 2.9 4.6 3.2-1.7 3.1 1 0.8-0.4 0.5 12 6.6 0" stroke="#fb7f2c" stroke-width="0.55" fill="none" opacity="0.4"/>
<path d="M548.8 141.2l4.2-0.6 3.3-4 3.2-5.3 2.8 0.6 2.8 5.8 2.8 2.3 7.5 1.2 0.7-11.6 0.9-48.8 1.7-3.5 5.6-0.6 2.3 4.1 2.3 10.4 2.4 15.1 2.3 19.8 2.3 8.1 4.7 3.5 14 2.3" stroke="#f4501a" stroke-width="1.7" fill="none" stroke-linejoin="round"/>
<path d="M586.6 25L586.6 146.4" stroke="#3aa845" stroke-width="1.2"/>
<text x="548" y="159.6" font-size="12">-0.6</text>
<text x="583.3" y="159.6" font-size="12">0</text>
<text x="599.4" y="159.6" font-size="12">0.6</text>
<text x="561" y="171.5" font-size="12">Time (s)</text>
<path d="M617.9 146.4L685 146.4" stroke="#d0d0d0" stroke-width="0.9"/>
<path d="M627.6 146.4L627.6 145" stroke="#888" stroke-width="0.5"/>
<path d="M641.6 146.4L641.6 145" stroke="#888" stroke-width="0.5"/>
<path d="M655.6 146.4L655.6 145" stroke="#888" stroke-width="0.5"/>
<path d="M669.6 146.4L669.6 145" stroke="#888" stroke-width="0.5"/>
<path d="M683.6 146.4L683.6 145" stroke="#888" stroke-width="0.5"/>
<path d="M617.9 141.2l13.3 0 0.2-62.1 1.9 4.1 3.7-5 4.4-0.6 2.6 0.2 3.4 1.6 2.4-0.2 2.7-2.7 2.3 4.1 4.1-3.1 2.2-0.3 1.9 1.1 2.5 1.7 4.6-1.9 4.5 2 3.4-0.5 0.1 0.6 2.2 61 3.3 0M617.9 141.2l14.1 0 0.2-65.2 3.6-0.8 1.8 1.5 2.8 0.7 4.1 0.1 3.2-1.7 3.9-4.2 1.9 2.7 4 1.5 1.1 0.5 1.9 64.9 7.4 0 0.2-41.9 2.9 0.5 2-0.2 2.3-2.5 4 2.9 4.3-3.7 0 44.9M617.9 141.2l13.2 0 0.2-62.3 4.1-0.3 4.5 0.7 2.1 0.9 4.5-3.3 2.8 0.1 2.7 2.9 2.8-1.3 2.3-0.3 1.7 2.8 0.6 60.1 24.2 0M617.9 141.2l0.4 0 0.2-60.3 3.1 0.3 3.1-0.5 0.3 60.5 5.1 0 0.2-64.8 3.2-0.5 3.9 1.3 4.5 1.3 2.2 0.1 3.1-4.2 2.7-0.7 3.1-0.7 4.6 3.4 2.5 2.8 1.2 62 22.3 0M617.9 141.2l13.4 0 0.2-65.2 4.5 1.5 2.8 0 2.2-1 4.3-3.5 2.8 2.4 3.8 3.6 3.8-3.1 3.8 1.8 0.4-1.3 1.9 64.8 21.8 0M617.9 141.2l13.8 0 0.1-64.7 1.9 1.3 3.8-0.9 3.2-1.4 4.1 3.3 2.8-0.5 4.2 0.4 2.8-4.1 3.8 4.8 4.6-4.9 0.7 2.6 1.3 64.1 18.6 0M617.9 141.2l13.8 0 0.2-61.6 2.3 2.6 4.1-0.3 3-1 3.6-1.6 3.9 2.8 2-3.5 3.7-0.5 2.4 2.5 1.4 1.3 0.3 59.3 25 0M617.9 141.2l13.4 0 0.1-67 3-1 3.6 2.1 4.4-0.4 1.8 0.5 3-2 2.2 0 2 2.3 3.6-3.3 2.8 0.6 1 5 2 63.2 6.8 0 0.2-45.7 3 4.3 4.2-2.2 2.2 0.5 3.6 5.5 2.8-4.7 0 42.3M617.9 141.2l12.9 0 0.2-70.2 2.2-1.4 3.6 0.1 3.1 2.4 2.5 0.1 3-5.7 4.5 2.5 2.6 3.2 4.6 0.6 2.8-1.8 1.3-2 0.8 72.2 21.6 0M617.9 141.2l13.3 0 0.2-68.6 4-0.1 3.4 0.4 2.6-3.1 2.6 4 2.6-4.1 2.7-1.4 3.6 6.8 3.5-2.9 4-1.7 0.7 0.1 0.9 70.6 21.6 0M617.9 141.2l13.2 0 0.2-67.9 3.5-0.4 2 0.4 4.4-1.9 4.3 2.2 4.1-0.2 3.1 2.3 3.6-1.2 1.3 2.6 1.1 64.1 24.9 0M617.9 141.2l13.4 0 0.2-67.2 2.1-1.3 3 3.6 2.7-3 2.3 4.5 3.2-1.8 2.8-1.3 2.3 2.1 2-1.1 2.5-3 3.8 4.1 0.1-5.5 2.3 69.9 23 0M617.9 141.2l13.4 0 0.2-66 4.6 0.5 3.8-1.5 4.5-0.1 2.2 2.5 2.4-0.3 3.6-1.9 2.9 0.6 2.1-1.9 3.9 1.3 4.3-0.4 1.4-0.2 0.9 67.4 15.5 0M617.9 141.2l12.5 0 0.1-66.6 4.5-0.9 3.4 1.9 3.4-0.1 2.6-0.9 2.2 2.1 2.5-0.1 2.4-4.1 3.9 2.5 3.7 0.2 2.1-2.3 0.8 0.1 0.8 68.2 10.4 0 0.1-46.6 4.4 3 4.1-3.4 1.8-5.1 0 52.1M617.9 141.2l0.4 0 0.2-66.7 2.3-0.2 1.6 66.9 8.9 0 0.2-65.5 2.9 0.8 2.5 0.4 2.9-3.3 2.9-0.1 3.7-0.3 4.1 5.6 3.3-4.5 3.6 3.9 0.7-1.3 1.1 64.3 24.4 0M617.9 141.2l0.4 0 0.2-55.3 1.8 0 2.1 55.3 9.6 0 0.2-67.4 3.6 1.7 2.1-2.6 2.3 0 3-0.6 4.3 0.7 2.7-0.3 2.3 1.4 3.2-1.6 1.9-0.2 1.7 2.2 2.2 66.7 22.1 0M617.9 141.2l13.1 0 0.2-63.9 2.7 1.3 2.3 1.2 2.5-3.7 2.1 1 2.9-1.4 2.8 1.9 3.2 0.3 3.8-3.4 2.4 2.6 4.5-2.4 3.6 6.9 1.1-6.3 0.2 65.9 18.3 0M617.9 141.2l0.4 0 0.2-58.5 2.1-2.2 3.2 1.1 2.2 59.6 5.7 0 0.2-67.1 2 0 3-0.5 2 0.6 2.7-1.8 2-2.8 2.4 3.5 3.3 2.8 2.1-3 2.8-0.4 4.4 0.3 3.5 0.6 2 1.7 3.3 1.3 3-2.4 3.1 0.7 0.9 66.5 9.2 0M617.9 141.2l12.5 0 0.2-67 2.1-0.5 2.8 3.7 2.2-4.3 2.1 0.5 3.1 1.8 2-0.6 3.8-1.7 2.7 0.8 2.9-1.2 2.8 0.4 1.1 1.1 2.1 67 23.3 0M617.9 141.2l12.9 0 0.1-66.4 3.8-2.7 3.8 3.5 2.6-1.5 2.2 2.3 2.1-2.3 3.7-0.5 2.7-1.5 3.4 1.5 1.7 0.6 0.5 67 26.2 0M617.9 141.2l13.4 0 0.1-69.8 2.8-2.3 4.2 2.1 3.9-1.6 2.4 0.5 3.8 5.1 4.1-5.2 2.2 2.9 1-5.1 1.2 73.4 14.3 0 0.2-43.3 3 5.6 4.5-7.7 3.4-2.5 1.2 5.5 0 42.4M617.9 141.2l13.5 0 0.2-64 3.2 0.1 4.3 0.8 2.7-1.7 2.4 2.3 4-0.9 2.5 0.2 4.6-1.9 4.3-0.3 0.2 3.4 1.1 62 22.7 0M617.9 141.2l13.6 0 0.1-63.9 4.4-0.7 2.5 0.3 3.7 1.9 4.3 0.8 2.9-0.1 1.9 0.1 2.4-2.1 3 0 2.7-0.6 0.3 1.9 1.8 62.4 22.1 0M617.9 141.2l13.6 0 0.2-70.5 3.4 0.4 4.1 1.1 3.8-3.3 3.3 2 2.1-0.9 2.9 3.3 3.8-1.2 2.7-2.6 3.9 1.8 2.1-0.6 4.5 2.6 4.4-1.3 4 1.8 0.5-2.2 1.3 69.6 5.1 0M617.9 141.2l13.2 0 0.2-66.7 1.8 0.9 3.7-1.6 4.4-1.3 3 3.3 2.1-0.4 3.9 1.2 2.9-3 2.7 1.7 2.7 1.9 2.3-0.1 3.6-2.7 0.3 66.8 18.9 0M617.9 141.2l13.1 0 0.2-68.5 3.3 3.1 4.4-2.7 3.6-1.8 4.5 1.2 2.2-0.2 3.5 1.2 2.4-0.2 3.5 1 3.9 0.5 2.1 1.2 4.5-3.7 2.3 1.8 1.5 67.1 10.7 0M617.9 141.2l14 0 0.2-66.7 2.1-2.7 2.3 3.3 4-0.1 3.9-1.8 3.9 4.2 4.4-5.3 4.6 3 2.2-1.1 2.4 0.1 2.9 2.9 4-3.2 2.1 2.5 1.7-3.1 1 68-4.5 0 0.2-38.5 2.2 2.8 3.7-0.9 3.3-10.1 2.1 10.1 3-1.4 0 38M617.9 141.2l13 0 0.2-64.1 2.7-0.2 3.3 1.2 3.4 1.9 2.7-1.1 3.4-4.7 2 4 3.7-1.7 2.1 0.7 3.2-0.9 4.6 2.5 4.5-1.2 2.1 1.5 1.9-4.5 4 2.7 2.6-0.4 3.1 1.8 1.5-3 0.3 65.5 1.4 0M617.9 141.2l13.7 0 0.2-65.8 3.8-0.8 3.3-0.9 4 1.1 3.1 3.7 3.7-1 3.7-2.5 4 0.3 3-2.2 0.2 4.6 2.2 63.5 20.8 0M617.9 141.2l14 0 0.2-66.2 3-5.5 2.5 6.5 3-0.8 2.7-2.2 3.7 1.2 3.2 0 2 3.5 4.4-5.2 2.4-0.8 4.6 2.9 2.1 1.2 0.7 65.4 17.2 0M617.9 141.2l13.2 0 0.2-66.8 2.6 0 4.1 1.7 2.3 3 3.8-4.1 2.1-2.5 2.9 0.3 2.9 3.9 4.6-2.6 2.5 1.6 0.1-0.7 1.3 66.2 23.1 0M617.9 141.2l13.6 0 0.2-68.2 3.1 2.4 4-2.4 2.1 0.5 2.9-0.5 2.8-1.5 3.2 1.3 3.7-1.3 3.3 2.2 3.9-4.7 2.1 5.6 2.3 66.6 18.5 0M617.9 141.2l13.8 0 0.2-70.9 2.9-0.9 4.5 1.6 4.2-2.8 2.2 3.3 3.5-2.8 2.4 2.2 2.1-0.8 2.7-2.6 0.8 73.7 26.4 0M617.9 141.2l14.1 0 0.2-67 3.6 1.8 2.6-3.4 2.6 0.2 4.4 2.7 2.3-1.7 4-0.1 3.4-0.1 1.2 0.5 2 67.1 25.3 0M617.9 141.2l13.4 0 0.2-65.8 3.6-1.8 2.5 1 2 1.1 3.8-0.8 3.2 0.2 3.6-1.8 2.1 3.9 3.7-2.2 3.9 1.2 1.6-0.7 0.3 65.7 21.8 0M617.9 141.2l13.7 0 0.1-61.2 4.6-0.3 2.8-0.5 2.1 2.9 3.7-3.3 2.3-0.2 3.8-0.2 3.2 5 2.2-1.7 2.5 0.4 2.2 59.1 8.2 0 0.2-41 3.4-0.1 3.7 5.5 4.2-8.3 2.7 0.8 0.1 0.4 0 42.7M617.9 141.2l13.6 0 0.2-65.1 2.1 3.4 3.6-4.7 2 3.2 4.6 0 3.9-3.5 2.6 2.9 2.2-2.1 2 1.2 1.7 1.4 2 63.3 16.1 0 0.1-42.7 2.1 0.7 4.5-2.8 2.4-1.2 0 46M617.9 141.2l13.1 0 0.2-64.8 2.6-1.6 4.5 0.3 4.5 2.1 4-1 2.2 0.9 4.7-0.5 3.4 1.1 2.9-1.8 2.3 65.3 21.3 0M617.9 141.2l13.5 0 0.1-68.9 4.5 1.4 3.3-4.3 2.3-1 3.2 2.5 3.1-0.6 3.2 3.1 2.7-1.1 3.2 1.3 4-0.6 2.4-0.2 3.8-0.4 3.4 0.7 0.5 68.1 12.5 0M617.9 141.2l13.7 0 0.2-67.6 2.1 0.8 3.5-0.8 2-1.6 3.9-0.5 2.8 0.1 3.6 3.3 4.3 0.3 4.4-1.3 1.6-1.8 2.1 69.1 21.5 0M617.9 141.2l13 0 0.2-67.4 4 0 4.5 0.1 2.7-1.6 3.1 3.6 4.2-1.4 3.9 0.7 3.3-0.8 4.1 1.7 2.3-2.2 2.1-0.1 1.9 67.4 16.4 0M617.9 141.2l13.4 0 0.2-65.6 2.5-0.2 4.2 1.2 3.7 0.4 2.5-1.4 3.7-0.3 3.5 0.3 3.1 2 2.7-1.9 1 1.5 1.5 64 16.5 0 0.1-54.7 4 5 2.1-6.8 1 2.3 0 54.2M617.9 141.2l14.1 0 0.1-66.6 3.1-0.1 4.1 2.2 2-2.4 4.1 0 4.2 2.7 3.6-1.7 3.6 2.6 1.9-7.2 2.4 7.4 2.1-3.1 1.6-1.1 1 67.3 17.8 0M617.9 141.2l0.4 0 0.2-52.3 2.7-0.3 1.1 52.6 8.7 0 0.1-67.1 3.1-1.7 1.9 4.6 3.8-3.7 4.3 2 4.3 1.5 4.4-3.2 3.7 2.3 3.7-3.8 3.1 3.9 2.5-1.3 3.7-1.8 1.2 1.1 1.3 67.2 4.1 0 0.2-55.6 4.2 2.2 2.9-6.2 0.1 1.3 0 58.3M617.9 141.2l13.5 0 0.2-67.7 4.6-1.5 4.2 3.3 2.1-5.4 2.2 3 3.6 0.5 4 3.2 3.1-3.6 4.5 2.1 0.6-0.3 0.6 66.4 6.2 0 0.2-47.6 3.1 6 2.5-8.4 2.7 1.8 3.3 1.8 2.5 1.1 2 1.7 0 43.6M617.9 141.2l0.4 0 0.2-58.4 2.2 0.4 2.8-0.4 2.2 58.4 5.2 0 0.2-70.4 3.7-2 3.1 1.5 3.1-0.3 3.2-0.3 2 1.7 2.7 0.6 2.1 0.1 2.7-5.1 2.2 6.2 2.1-5.8 2.8 2.8 3.2-1.9 2.1 1.5 3 2.2 1.2 69.2 13.3 0M617.9 141.2l13.6 0 0.2-66.8 2.8-3.3 3.3 2 3.1 3.1 3.7-0.5 3.1-0.2 2.2 2.2 2.8-4.7 2.8 3.2 2.4-0.4 1.1 1.2 0.3 64.2 24.3 0M617.9 141.2l13.5 0 0.2-66.4 3.7-1.9 2.4 1.5 2.7 1.1 4.3 1.2 4.2 0.6 2.4-0.2 3.2-1.3 1.1-3.2 0.5 68.6 17 0 0.2-41.5 4.3 4.2 4.6-8.6 1.4 1.2 0 44.7M617.9 141.2l13.2 0 0.2-67.5 2.6 0.1 2.4 3.4 3-5.6 2.6 3.5 3.5-0.1 3.2-1.2 4.1-0.5 3.8 0.4 3.4-2 3.3-0.4 2.8 4.2 2.8-1 4.4-0.1 2 0.7 2.7-1.4 0.3 67.5 5.4 0M617.9 141.2l14 0 0.2-66 2.7-0.1 2.6-0.6 4.6 0.4 4-2.6 4 4.5 2.6-2.2 2.1-0.6 2.3 1.6 1.9 1.6 0.2 64 10 0 0.1-57.7 2.8-4 3.9 9.5 3.9-9.3 2.9 6.1 0.9 0.2 0 55.2M617.9 141.2l0.4 0 0.2-59.2 2.8 2.2 1.8 57 8 0 0.2-66.9 3.5-0.3 2.8 1.5 3.6-2.2 4.3 0.6 2.3 1.8 1.9-0.3 1.8-0.5 2.8-0.8 3.7-1 1.9 2.4 1.7 65.7 22 0M617.9 141.2l13.2 0 0.2-67.3 3.9 3.6 3.6-3.8 3.8-0.7 3.2 0.4 3.4-1.8 2.8 0.7 3.2 4.9 2.7-2.8 1 1.7 1.6 65.1 23.1 0M617.9 141.2l13.2 0 0.1-65.8 2.3 2.1 2.4-2.8 2.1 0.4 3.3 0.5 2.7-1.5 2.3 1.1 3-0.4 2.9 1 3.8-0.1 2.5 0 2.6-1.7 0.3 2.6 0.8 64.6 21.4 0M617.9 141.2l13.1 0 0.2-66.4 4 2 4.6-1.6 3.3 0 3.7 0.9 2.9-3.6 3.6 4.3 4.4-0.3 1.2-0.9 1.8 65.6 22.9 0M617.9 141.2l12.8 0 0.2-63.8 2.5 2.1 3.8-2.2 4.1 4.2 3.1-4.9 3.4-0.7 3.9 1.6 4.5-2.7 1.4 1.1 1.6 65.3 24.4 0" stroke="#35acd0" stroke-width="0.55" fill="none" opacity="0.45"/>
<path d="M617.8 141.2l12.1 0 0.7-11.6 1-48.8 1.6-3.5 8.4-1.8 9.3-0.5 4.7 2.3 2.3 9.3 2.4 19.7 2.3 17.5 2.3 5.8 4.7 0.6 4.7-2.4 4.6-0.5 4.7 2.3" stroke="#2a78cc" stroke-width="1.7" fill="none" stroke-linejoin="round"/>
<path d="M655.6 25L655.6 146.4" stroke="#3aa845" stroke-width="1.2"/>
<text x="617" y="159.6" font-size="12">-0.6</text>
<text x="652.3" y="159.6" font-size="12">0</text>
<text x="669.3" y="159.6" font-size="12">0.6</text>
<text x="630.4" y="171.5" font-size="12">Time (s)</text>
<text x="0.4" y="192.5" font-size="17">c</text>
<text x="95.4" y="192.5" font-size="12.2" fill="#3aa845">reward</text>
<text x="27.3" y="196.5" font-size="9.1">r = 0.7397</text>
<path d="M88 188L93 188L90.5 194z" fill="#3aa845"/>
<path d="M29.9 199h2m67 0h1m15 0h2m12 0h2m2 0h1M47.9 200.2h1m6 0h2m23 0h3m5 0h3m2 0h3m1 0h1m8 0h1M29.9 201.4h2m13 0h2m19 0h1m5 0h1m4 0h2m3 0h5m3 0h2m1 0h2m33 0h2m8 0h3M38.9 202.6h1m7 0h1m24 0h2m14 0h1m2 0h4m10 0h1m16 0h3m5 0h1m17 0h2M56.9 203.8h2m33 0h3m44 0h1M71.9 204.9h3m3 0h1m1 0h4m1 0h2m14 0h1m7 0h1m15 0h1M39.9 206.1h2m3 0h1m27 0h2m2 0h1m7 0h2m4 0h2m1 0h2m48 0h2M33.9 207.3h2m9 0h2m21 0h1m5 0h2m2 0h1m3 0h2m9 0h2m2 0h2m1 0h1m3 0h2m20 0h2m8 0h2M51.9 208.5h1m29 0h1m4 0h1m3 0h1m5 0h2m16 0h1m4 0h2m5 0h1m11 0h2M49.9 209.7h2m11 0h2m8 0h4m6 0h2m8 0h2m35 0h2m8 0h2M40.9 210.9h2m8 0h1m28 0h5m1 0h1m4 0h2m21 0h1m8 0h4m3 0h1M30.9 212.1h2m6 0h2m11 0h1m9 0h5m2 0h3m7 0h1m3 0h1m10 0h2m9 0h1m44 0h1M52.9 213.3h1m8 0h1m10 0h2m2 0h2m3 0h1m3 0h3m4 0h2m1 0h2m32 0h2m16 0h2M35.9 214.5h1m13 0h1m8 0h2m8 0h1m1 0h2m1 0h1m1 0h3m3 0h2m3 0h1m7 0h2m4 0h2m3 0h3m21 0h2m11 0h3M34.9 215.7h2m15 0h2m4 0h1m1 0h1m13 0h2m2 0h2m3 0h2m1 0h3m6 0h1m21 0h1m13 0h1M36.9 216.8h1m20 0h1m14 0h2m5 0h3m4 0h1m7 0h1m12 0h1m7 0h2m1 0h2m5 0h2m5 0h1M39.9 218h1m19 0h3m10 0h1m4 0h7m4 0h4m1 0h2m10 0h3m2 0h2m4 0h3m29 0h1M33.9 219.2h1m43 0h1m5 0h2m8 0h2m10 0h2m23 0h1m8 0h2M70.9 220.4h6m7 0h2m41 0h2M63.9 221.6h2m13 0h1m41 0h2m4 0h1m12 0h2M41.9 222.8h3m25 0h2m10 0h1m1 0h2m3 0h2m1 0h1m2 0h1m3 0h2m2 0h2m8 0h1m10 0h2m9 0h1m1 0h2M32.9 224h2m5 0h2m1 0h2m2 0h1m1 0h2m13 0h1m1 0h1m9 0h2m4 0h2m1 0h1m16 0h1m14 0h3m4 0h1m17 0h2m4 0h3M37.9 225.2h3m20 0h1m3 0h2m14 0h3m1 0h2m7 0h1m9 0h1m3 0h1m3 0h1m12 0h2M75.9 226.4h1m2 0h2m1 0h1m1 0h2m5 0h2m1 0h2m21 0h2m9 0h2m17 0h1M57.9 227.6h4m2 0h2m7 0h1m2 0h2m7 0h1m7 0h2m6 0h2m4 0h2m2 0h2m4 0h1m3 0h2m1 0h2m4 0h2m16 0h1M29.9 228.7h1m9 0h2m3 0h3m25 0h2m2 0h2m3 0h1m10 0h1m8 0h1m1 0h2m9 0h1m7 0h2m6 0h1m4 0h2m9 0h1M29.9 229.9h1m8 0h2m16 0h2m5 0h2m6 0h2m7 0h5m6 0h2m1 0h2m3 0h2m4 0h2m18 0h1m2 0h3m7 0h1m6 0h2M35.9 231.1h5m10 0h2m5 0h1m11 0h2m8 0h3m3 0h3m2 0h3m1 0h1m8 0h1m10 0h1m3 0h2m6 0h1m3 0h3m12 0h2M36.9 232.3h2m2 0h1m43 0h2m55 0h1M48.9 233.5h1m19 0h1m11 0h1m1 0h1m1 0h1m9 0h5m1 0h5m35 0h2M59.9 234.7h1m22 0h2m2 0h3m57 0h2M33.9 235.9h2m15 0h1m12 0h1m13 0h1m13 0h2m21 0h2m26 0h2m3 0h1M38.9 237.1h1m27 0h3m17 0h2m10 0h1M34.9 238.3h2m8 0h2m1 0h2m24 0h1m7 0h2m3 0h1m2 0h2m3 0h3m36 0h2m1 0h1m6 0h1M43.9 239.5h2m19 0h2m7 0h1m3 0h1m1 0h1m1 0h3m1 0h1m19 0h2m3 0h2m36 0h2M48.9 240.6h2m25 0h2m2 0h2m1 0h1m3 0h1m4 0h2m7 0h2m27 0h2m2 0h1M39.9 241.8h1m4 0h2m4 0h2m4 0h2m1 0h3m5 0h2m8 0h2m4 0h3m3 0h1m11 0h3m3 0h2m1 0h4m5 0h1m3 0h1m9 0h1m1 0h1m4 0h1M49.9 243h1m4 0h2m17 0h1m4 0h2m12 0h2m4 0h3m11 0h2m21 0h2M29.9 244.2h2m15 0h2m7 0h1m1 0h2m19 0h2m1 0h3m1 0h1m2 0h1m3 0h1m1 0h2m5 0h1m1 0h2m1 0h2m8 0h1M70.9 245.4h1m11 0h1M60.9 246.6h2m1 0h2m13 0h2m1 0h1m2 0h3m4 0h1m4 0h2m13 0h1m17 0h2m5 0h2M34.9 247.8h2m6 0h2m16 0h1m18 0h3m1 0h2m3 0h2m27 0h1m13 0h1m2 0h3m3 0h1M44.9 249h1m20 0h3m3 0h2m5 0h2m2 0h1m21 0h1m12 0h1m15 0h1m3 0h1m2 0h2M39.9 250.2h1m4 0h2m9 0h2m34 0h1m2 0h4m1 0h2m19 0h2m8 0h3m10 0h1M40.9 251.4h2m24 0h3m11 0h2m2 0h3m2 0h2m2 0h1m5 0h1m1 0h2m6 0h2m2 0h1m30 0h2M62.9 252.5h2m7 0h2m12 0h1m4 0h3m8 0h2m5 0h1m15 0h3m2 0h2M36.9 253.7h1m9 0h2m29 0h1m3 0h2m2 0h2m4 0h1m1 0h2m5 0h1m3 0h2m6 0h2m4 0h2m9 0h2m8 0h3M57.9 254.9h1m15 0h2m4 0h1m2 0h1m9 0h2m23 0h2m22 0h1m3 0h2M35.9 256.1h2m2 0h1m13 0h3m11 0h2m16 0h5m24 0h1m5 0h1m8 0h1m17 0h2M30.9 257.3h2m5 0h1m10 0h2m14 0h1m18 0h2m9 0h1m37 0h1m9 0h2" stroke="#f8ab74" stroke-width="1" fill="none"/>
<path d="M29.9 284.2l0-2.9 0.5 0.8 0.5-2.2 0.5 0.2 0.5-1.7 0.5 3.2 0.5-1.8 0.5 2.8 0.5-2.1 0.5 0.7 0.5 1.4 0.5-0.6 0.5-0.9 0.5 0.4 0.5 0.1 0.5 0 0.5-0.4 0.5 0.6 0.5 1.6 0.5-2.3 0.5-2.1 0.5 2.5 0.5-0.5 0.5 1.3 0.5-0.1 0.5 0.2 0.5 0.5 0.5-1.7 0.5 1.2 0.5-1.6 0.5 0.3 0.5 1.9 0.5-4.6 0.5 3.3 0.5-0.6 0.5 0.7 0.5 0.9 0.5-1.4 0.5-0.7 0.5 3.3 0.5-2.7 0.6-0.1 0.5-2.2 0.5 4.8 0.5-1.6 0.5-2.3 0.5 2.4 0.5-1.8 0.5 2.1 0.5 0.2 0.5-2.4 0.5 1.6 0.5 0.7 0.5-1.4 0.5-1.4 0.5 1.6 0.5-3 0.5 4.5 0.5-3.7 0.5 1.7 0.5-0.8 0.5 0.2 0.5 1.3 0.5 0 0.5 1.3 0.5-0.8 0.5 0 0.5-2.1 0.5 1.8 0.5-1 0.5 0.5 0.5-3 0.5 3.9 0.5 0.2 0.5-2 0.5 3 0.5-2.3 0.5 1.3 0.5-0.2 0.5-0.9 0.5-3.2 0.5 1.5 0.5-0.1 0.5 0.4 0.5-0.2 0.5 1.7 0.5-1.6 0.5 0.3 0.5-1.6 0.5-0.7 0.5 3.9 0.5 0.3 0.5-6.3 0.5 5.6 0.5-5.6 0.5-4.2 0.5 4 0.5 1.6 0.5 0.9 0.5-1.3 0.5-3 0.5-8.5 0.5 6.2 0.5 3.2 0.5-9.9 0.5 6.7 0.5-8.8 0.5 5.2 0.5-0.2 0.5-3.5 0.5 6.2 0.5 3.9 0.5-2.3 0.5 0.6 0.5 3.4 0.5-2.9 0.5 2.8 0.5 1.2 0.5 2.2 0.5-1 0.5-1.3 0.5 1.9 0.6-1.2 0.5-3 0.5-1.3 0.5 3 0.5-6.9 0.5 2.3 0.5-5.2 0.5 13.2 0.5 1 0.5-3.7 0.5-2.6 0.5 3.4 0.5 2.4 0.5 1.6 0.5-1.3 0.5 1.2 0.5 0.5 0.5-1.1 0.5 1 0.5-0.5 0.5 0.6 0.5-0.7 0.5-0.9 0.5 0.6 0.5-0.3 0.5 1.7 0.5 0.5 0.5-1.7 0.5-0.1 0.5-0.9 0.5 2.6 0.5-2.9 0.5 1.3 0.5 1.2 0.5-0.6 0.5-0.2 0.5-2.2 0.5 2.2 0.5-0.9 0.5 1.5 0.5 0.6 0.5-0.8 0.5 1.1 0.5-1.6 0.5-0.2 0.5-2.4 0.5 2.8 0.5-2 0.5 0.6 0.5-0.2 0.5 0.7 0.5 0.4 0.5-0.7 0.5-0.9 0.5 2.5 0.5 0.5 0.5-0.8 0.5 1.1 0.5-1.3 0.5-0.1 0.5 0.5 0.5-0.7 0.5-1.7 0.5 1.4 0.5-1.3 0.5 1.6 0.5-0.4 0.5 1.9 0.5-3.3 0.5 1.2 0.5-1.5 0.5 2 0.5 0.6 0.5-3.3 0.5 3.9 0.5 1.2 0.5-3.5 0.5 2.3 0.5 0.1 0.5-1.8 0.6 1.4 0.5-3.3 0.5-0.4 0.5 0 0.5 3.4 0.5-1.9 0.5 2 0.5-0.2 0.5-0.3 0.5-0.1 0.5-0.7 0.5 0.9 0.5-2.2 0.5 3.5 0.5-2.2 0.5 2.5 0.5-2.7 0.5-0.8 0.5-0.5 0.5 1.2 0.5 0.5 0.5 1.1 0.5-0.3 0.5-0.7 0.5 1.1 0.5 0.7 0.5-3.2 0.5 0.9 0.5 0.1 0.5 1.1 0.5-1.4 0.5 1.4 0.5-1.1 0.5 0.5 0.5 0 0.5 0.9 0.5-1.7 0.5 1.9 0.5-3 0.5 0.8 0.5 1.5 0 2.6z" fill="#f79243"/>
<path d="M29.9 289.2h2m2 0h4m1 0h5m1 0h1m1 0h9m1 0h4m1 0h4m1 0h7m1 0h11m4 0h2m2 0h8m1 0h2m1 0h5m1 0h3m1 0h7m1 0h2m2 0h3m1 0h6m1 0h6m2 0h4M32.9 290.4h3m6 0h2m1 0h1m14 0h2m9 0h3m1 0h9m1 0h4m1 0h4m1 0h2m4 0h1m1 0h1m1 0h1m6 0h2m4 0h1m7 0h1m15 0h1M32.9 291.6h1m7 0h1m19 0h2m9 0h1m14 0h2m1 0h2m2 0h2m40 0h1m12 0h1M29.9 292.9h3m2 0h1m4 0h4m17 0h1m8 0h5m4 0h8m1 0h1m3 0h2m2 0h2m12 0h2m15 0h1m5 0h1m11 0h1M36.9 294.1h1m3 0h1m28 0h2m1 0h1m1 0h2m5 0h1m3 0h2m1 0h1m13 0h2m4 0h2m3 0h1m21 0h2m5 0h2M51.9 295.3h2m22 0h2m7 0h2m7 0h1m35 0h3m4 0h2M67.9 296.5h1m1 0h2m9 0h2m4 0h2m2 0h1m1 0h1m39 0h1M37.9 297.7h2m7 0h1m1 0h3m5 0h2m6 0h2m3 0h1m4 0h2m8 0h2m3 0h1m3 0h2m8 0h2m10 0h1m4 0h2m1 0h3m9 0h2m12 0h1M46.9 298.9h5m22 0h1m2 0h2m1 0h2m3 0h1m1 0h2m3 0h2m9 0h3m12 0h2m14 0h1M30.9 300.2h1m23 0h2m15 0h2m2 0h1m9 0h3m1 0h1m4 0h1m10 0h1M37.9 301.4h1m1 0h2m3 0h2m2 0h1m8 0h2m4 0h1m2 0h2m11 0h1m2 0h6m2 0h5m2 0h3m10 0h1m4 0h2m2 0h1m25 0h3M29.9 302.6h1m10 0h1m14 0h1m17 0h3m1 0h2m3 0h2m5 0h4m8 0h1m7 0h1m5 0h3m3 0h2m22 0h5M32.9 303.8h1m3 0h1m32 0h1m2 0h2m4 0h1m2 0h2m6 0h4m25 0h1M31.9 305h1m8 0h2m2 0h1m15 0h2m3 0h4m1 0h1m1 0h2m2 0h3m2 0h4m1 0h1m1 0h1m10 0h2m16 0h1m6 0h1m3 0h4M56.9 306.2h2m12 0h1m12 0h1m22 0h6m16 0h2M48.9 307.4h1m8 0h2m11 0h2m4 0h2m2 0h2m12 0h2m3 0h1m11 0h1m1 0h2m5 0h2m12 0h1m13 0h2M49.9 308.7h2m5 0h2m4 0h2m2 0h2m6 0h3m2 0h2m2 0h2m4 0h1m56 0h3M30.9 309.9h2m9 0h2m11 0h1m21 0h7m2 0h1m1 0h2m1 0h4m2 0h2m2 0h2m5 0h3m3 0h1m1 0h2m2 0h3m12 0h3m1 0h2m3 0h3M39.9 311.1h2m2 0h2m27 0h2m7 0h2m3 0h3m4 0h2m5 0h2m44 0h2M29.9 312.3h5m31 0h2m5 0h2m10 0h2m3 0h1m13 0h2m1 0h1m9 0h4m11 0h2m3 0h1m12 0h1M44.9 313.5h1m5 0h1m14 0h5m1 0h3m1 0h1m2 0h1m2 0h2m1 0h2m3 0h2m1 0h1m4 0h1m1 0h2m16 0h3m8 0h2m8 0h4M40.9 314.7h2m20 0h3m5 0h6m5 0h2m10 0h3m1 0h2m8 0h3m37 0h2M48.9 316h2m4 0h1m16 0h3m2 0h4m2 0h2m2 0h1m1 0h2m1 0h1m6 0h1m8 0h2m3 0h2m17 0h2m1 0h3M29.9 317.2h3m8 0h2m14 0h2m1 0h1m2 0h2m2 0h7m10 0h2m1 0h2m3 0h1m6 0h1m17 0h1m3 0h1m13 0h3M34.9 318.4h1m8 0h2m15 0h2m1 0h1m6 0h3m3 0h1m1 0h4m4 0h1m6 0h3m2 0h3m5 0h1m4 0h3m9 0h1m4 0h1m14 0h2m4 0h1M60.9 319.6h1m23 0h1m2 0h1m1 0h2m16 0h2m9 0h1m11 0h1m4 0h2m8 0h2M29.9 320.8h1m23 0h3m7 0h2m11 0h2m11 0h5m1 0h2m1 0h1m8 0h1m40 0h1M39.9 322h2m22 0h2m1 0h1m1 0h1m2 0h2m2 0h2m6 0h9m3 0h1m1 0h1m21 0h1m15 0h1M29.9 323.3h2m4 0h1m8 0h1m10 0h1m18 0h4m2 0h1m4 0h1m3 0h2m3 0h2m4 0h2m9 0h1M41.9 324.5h2m6 0h1m19 0h2m4 0h1m2 0h3m1 0h1m5 0h3m2 0h1m6 0h4m8 0h2m20 0h2M39.9 325.7h1m4 0h2m9 0h1m5 0h1m6 0h2m3 0h2m3 0h1m13 0h2m1 0h2m15 0h3m2 0h1m10 0h2m4 0h2m4 0h1M38.9 326.9h2m3 0h2m7 0h1m8 0h2m5 0h2m6 0h2m8 0h1m7 0h2m13 0h1m24 0h1M29.9 328.1h2m3 0h2m2 0h1m8 0h2m2 0h2m12 0h1m7 0h3m1 0h2m1 0h3m1 0h2m2 0h1m3 0h2m38 0h1m15 0h2M33.9 329.3h1m14 0h2m2 0h1m5 0h2m10 0h2m7 0h2m5 0h1m2 0h2m3 0h3m25 0h2M35.9 330.6h1m9 0h2m5 0h3m6 0h2m6 0h4m1 0h3m1 0h2m5 0h2m2 0h1m2 0h4m21 0h1M29.9 331.8h1m33 0h1m8 0h2m1 0h3m4 0h2m6 0h1m3 0h1m10 0h1m5 0h3m19 0h2m5 0h1m2 0h2M40.9 333h1m10 0h4m4 0h1m4 0h1m11 0h3m8 0h3M34.9 334.2h1m15 0h1m18 0h1m16 0h1m13 0h3m22 0h1m21 0h1M30.9 335.4h2m11 0h1m5 0h2m11 0h1m2 0h1m8 0h2m2 0h1m2 0h3m4 0h3m5 0h3m10 0h2m2 0h2m16 0h2m1 0h2m11 0h2M33.9 336.6h1m23 0h1m1 0h3m8 0h1m3 0h1m9 0h2m5 0h2m6 0h1m4 0h2m17 0h1m16 0h3m2 0h1m2 0h2M31.9 337.8h2m13 0h1m7 0h2m1 0h4m2 0h3m4 0h5m1 0h1m2 0h5m8 0h3m3 0h2m5 0h2M49.9 339.1h2m1 0h2m3 0h2m7 0h1m5 0h2m1 0h1m2 0h4m2 0h4m1 0h4m1 0h1m8 0h2m1 0h3m16 0h3m2 0h1m1 0h2m5 0h1m1 0h1m3 0h1M36.9 340.3h1m18 0h1m6 0h1m8 0h2m8 0h2m11 0h2m43 0h1" stroke="#62bdd8" stroke-width="1" fill="none"/>
<path d="M29.9 375.3l0-1.8 0.5-2.3 0.5 0.7 0.5-1.9 0.5 2.5 0.5 0.6 0.5-0.4 0.5 2.1 0.5-1.8 0.5-1.8 0.5-1.4 0.5 2 0.5-0.9 0.5 2.4 0.5-2.5 0.5 1.3 0.5 0.2 0.5 0.1 0.5-2.3 0.5 0 0.5 1.3 0.5-1.4 0.5 2 0.5-1.6 0.5 0.6 0.5 1.5 0.5-2.8 0.5 3.4 0.5-1.2 0.5-1.1 0.5 1.1 0.5-0.9 0.5 0.6 0.5-0.8 0.5 1.8 0.5-1.7 0.5 1 0.5-0.2 0.5-1.1 0.5-0.2 0.5 0.6 0.6 0.5 0.5 0.2 0.5-0.8 0.5 1.8 0.5-0.2 0.5 1.5 0.5-0.8 0.5-1.8 0.5 0.8 0.5 0.7 0.5-1.6 0.5-1.3 0.5 1.1 0.5 1.6 0.5-1.4 0.5-0.5 0.5 2.9 0.5-0.6 0.5-0.6 0.5-1 0.5 0.6 0.5-0.8 0.5-0.5 0.5 0 0.5 2 0.5 1 0.5-1.2 0.5 1.4 0.5-3.5 0.5 1.3 0.5 1.2 0.5-2.9 0.5 2.1 0.5-0.4 0.5 0.4 0.5-0.4 0.5-0.6 0.5 0.4 0.5-0.5 0.5-0.6 0.5-9.2 0.5 10.7 0.5-13.8 0.5 7.3 0.5-7 0.5 10 0.5-3.6 0.5-10.8 0.5 2.6 0.5-4.3 0.5 0 0.5 5.7 0.5 2.3 0.5-4.1 0.5 0 0.5 1.3 0.5 15 0.5-13.3 0.5-1.7 0.5-5.2 0.5 12.4 0.5-5.9 0.5 2.2 0.5 1.2 0.5-5.3 0.5 5.6 0.5-3.5 0.5 13.6 0.5-14.5 0.5 7 0.5 1.2 0.5-7.4 0.5 11.4 0.5-6.6 0.5 0.4 0.5 0.4 0.5 2.7 0.5-0.1 0.5 4.1 0.5-4.1 0.5-9.9 0.6 4.5 0.5 0.6 0.5 3.1 0.5-6.7 0.5-6.1 0.5 4.2 0.5 5.5 0.5 0.1 0.5 2.6 0.5 2.2 0.5 1.6 0.5-5.6 0.5 7.9 0.5-1.6 0.5-2 0.5 2.5 0.5 1.7 0.5-0.1 0.5-2.7 0.5 3.4 0.5-1.8 0.5 1.9 0.5-1.2 0.5-1.8 0.5 3.2 0.5-0.8 0.5-2.3 0.5 0.3 0.5 2.8 0.5-3.9 0.5 2.3 0.5 0.9 0.5-3.1 0.5 0.8 0.5 1.5 0.5-0.4 0.5 0.4 0.5 0.9 0.5-0.5 0.5-1.5 0.5 1.3 0.5 2.1 0.5-1.6 0.5 1.9 0.5-0.2 0.5-3.3 0.5 2.1 0.5-1.5 0.5 0.6 0.5 1.2 0.5-1.5 0.5-1.3 0.5 2 0.5 1 0.5-2 0.5 1.3 0.5-0.7 0.5 1.1 0.5 0.1 0.5-1 0.5-0.7 0.5 1.2 0.5 1.2 0.5-1.5 0.5 0.3 0.5 1.1 0.5-1.4 0.5 1.1 0.5-0.2 0.5-3.2 0.5-0.6 0.5 1.7 0.5 1.7 0.5-0.6 0.5-1.4 0.5 2.2 0.5-2 0.5 2.4 0.5-1.8 0.5 0.3 0.6 0.4 0.5 0.3 0.5-0.4 0.5-1 0.5 3.1 0.5-1.8 0.5-2.7 0.5 1.2 0.5-0.5 0.5 1 0.5 0.8 0.5-1.4 0.5-0.8 0.5 3.9 0.5-0.3 0.5-1.8 0.5 3.4 0.5-1.8 0.5-2.7 0.5 2.8 0.5-1 0.5 1.5 0.5-2.5 0.5 1.9 0.5 1.1 0.5-3.3 0.5 2.2 0.5-2.4 0.5 0.8 0.5 1 0.5-2 0.5 0.6 0.5 0 0.5 0.6 0.5 1.1 0.5 1.1 0.5-0.3 0.5-1 0.5-1.7 0.5-1.1 0.5 1.5 0 4z" fill="#2ea3c4"/>
<path d="M29.9 198.4L29.9 257.9" stroke="#4a4a4a" stroke-width="1.1"/>
<path d="M29.9 213.3L31.5 213.3" stroke="#444" stroke-width="0.5"/>
<path d="M29.9 228.1L31.5 228.1" stroke="#444" stroke-width="0.5"/>
<path d="M29.9 243L31.5 243" stroke="#444" stroke-width="0.5"/>
<path d="M29.9 260.3L29.9 284.2" stroke="#4a4a4a" stroke-width="1.1"/>
<path d="M29.9 272.2L31.5 272.2" stroke="#444" stroke-width="0.5"/>
<path d="M29.9 288.6L29.9 349.4" stroke="#4a4a4a" stroke-width="1.1"/>
<path d="M29.9 303.8L31.5 303.8" stroke="#444" stroke-width="0.5"/>
<path d="M29.9 319L31.5 319" stroke="#444" stroke-width="0.5"/>
<path d="M29.9 334.2L31.5 334.2" stroke="#444" stroke-width="0.5"/>
<path d="M29.9 351.2L29.9 375.3" stroke="#4a4a4a" stroke-width="1.1"/>
<path d="M29.9 363.2L31.5 363.2" stroke="#444" stroke-width="0.5"/>
<path d="M29.9 257.9L151.2 257.9" stroke="#555" stroke-width="1.0"/>
<path d="M29.9 284.2L151.2 284.2" stroke="#333" stroke-width="1.0"/>
<path d="M29.9 349.4L151.2 349.4" stroke="#555" stroke-width="1.0"/>
<path d="M29.9 375.3L151.2 375.3" stroke="#333" stroke-width="1.0"/>
<path d="M50.1 257.9L50.1 259.4" stroke="#333" stroke-width="0.6"/>
<path d="M50.1 284.2L50.1 285.7" stroke="#333" stroke-width="0.6"/>
<path d="M50.1 349.4L50.1 350.9" stroke="#333" stroke-width="0.6"/>
<path d="M50.1 375.3L50.1 376.8" stroke="#333" stroke-width="0.6"/>
<path d="M70.3 257.9L70.3 259.4" stroke="#333" stroke-width="0.6"/>
<path d="M70.3 284.2L70.3 285.7" stroke="#333" stroke-width="0.6"/>
<path d="M70.3 349.4L70.3 350.9" stroke="#333" stroke-width="0.6"/>
<path d="M70.3 375.3L70.3 376.8" stroke="#333" stroke-width="0.6"/>
<path d="M90.5 257.9L90.5 259.4" stroke="#333" stroke-width="0.6"/>
<path d="M90.5 284.2L90.5 285.7" stroke="#333" stroke-width="0.6"/>
<path d="M90.5 349.4L90.5 350.9" stroke="#333" stroke-width="0.6"/>
<path d="M90.5 375.3L90.5 376.8" stroke="#333" stroke-width="0.6"/>
<path d="M110.8 257.9L110.8 259.4" stroke="#333" stroke-width="0.6"/>
<path d="M110.8 284.2L110.8 285.7" stroke="#333" stroke-width="0.6"/>
<path d="M110.8 349.4L110.8 350.9" stroke="#333" stroke-width="0.6"/>
<path d="M110.8 375.3L110.8 376.8" stroke="#333" stroke-width="0.6"/>
<path d="M130.9 257.9L130.9 259.4" stroke="#333" stroke-width="0.6"/>
<path d="M130.9 284.2L130.9 285.7" stroke="#333" stroke-width="0.6"/>
<path d="M130.9 349.4L130.9 350.9" stroke="#333" stroke-width="0.6"/>
<path d="M130.9 375.3L130.9 376.8" stroke="#333" stroke-width="0.6"/>
<path d="M90.5 194L90.5 375.3" stroke="#3aa845" stroke-width="1.1"/>
<text x="147.4" y="272" font-size="9.6" text-anchor="end" fill="#1a1a1a" font-style="italic">7.5</text>
<text x="147.4" y="361.6" font-size="9.6" text-anchor="end" fill="#1a1a1a" font-style="italic">7</text>
<text x="44.6" y="387.9" font-size="12.5">-2</text>
<text x="87.1" y="387.9" font-size="12.5">0</text>
<text x="127.5" y="387.9" font-size="12.5">2</text>
<text x="67.7" y="400.3" font-size="13.2">Time (s)</text>
<text x="159.5" y="196.5" font-size="9.1">r = 0.7186</text>
<path d="M220.2 188L225.2 188L222.8 194z" fill="#3aa845"/>
<path d="M167.1 199h2m2 0h3m2 0h2m10 0h2m5 0h1m2 0h1m1 0h2m4 0h1m2 0h2m2 0h2m3 0h2m2 0h2m4 0h6m2 0h2m5 0h2m26 0h2m1 0h2M170.1 200.2h1m8 0h1m3 0h1m9 0h2m19 0h3m1 0h2m9 0h2m14 0h2m3 0h1m13 0h2m1 0h2m6 0h1M164.1 201.4h1m6 0h2m6 0h2m1 0h2m2 0h1m8 0h6m2 0h1m6 0h3m1 0h1m1 0h7m6 0h1m4 0h4m3 0h4m1 0h3m1 0h1m10 0h2m16 0h2m1 0h1M162.1 202.6h2m4 0h2m5 0h3m1 0h2m4 0h1m2 0h2m4 0h1m2 0h2m2 0h1m2 0h4m2 0h1m3 0h1m3 0h3m4 0h2m2 0h3m2 0h2m5 0h2m1 0h2m2 0h2m7 0h4m2 0h2m2 0h2m2 0h3M162.1 203.8h4m1 0h2m1 0h2m3 0h2m1 0h2m2 0h2m4 0h1m4 0h1m3 0h3m5 0h2m2 0h4m4 0h2m2 0h1m2 0h3m1 0h3m2 0h1m1 0h3m7 0h1m1 0h4m2 0h1m2 0h2m5 0h1m4 0h10m1 0h2M164.1 204.9h2m6 0h1m2 0h1m2 0h3m2 0h2m1 0h3m8 0h1m2 0h1m1 0h1m3 0h3m1 0h3m1 0h6m4 0h2m1 0h2m1 0h3m2 0h2m1 0h1m1 0h2m3 0h3m9 0h3m6 0h2m6 0h2m2 0h1m3 0h1M162.1 206.1h2m7 0h2m5 0h1m4 0h2m4 0h2m7 0h1m15 0h2m1 0h2m9 0h2m6 0h2m5 0h1m8 0h1m11 0h1m1 0h1m11 0h3M163.1 207.3h2m2 0h2m2 0h2m3 0h1m2 0h3m2 0h2m3 0h1m2 0h1m6 0h1m9 0h5m1 0h2m5 0h1m1 0h1m1 0h2m11 0h2m2 0h2m1 0h1m2 0h2m5 0h2m9 0h3M169.1 208.5h3m3 0h1m16 0h1m5 0h2m4 0h2m14 0h1m15 0h3m21 0h2M162.1 209.7h4m5 0h1m9 0h2m3 0h3m9 0h1m4 0h2m2 0h3m2 0h2m6 0h1m1 0h1m2 0h2m4 0h2m1 0h2m9 0h4m5 0h1m4 0h1m2 0h1m2 0h4m9 0h3M164.1 210.9h2m4 0h1m19 0h1m3 0h1m8 0h1m3 0h2m4 0h2m1 0h2m3 0h3m10 0h3m6 0h2m6 0h2m1 0h6m2 0h1m2 0h1m4 0h2m2 0h2m1 0h2m2 0h1M162.1 212.1h2m1 0h1m3 0h1m5 0h4m2 0h3m6 0h2m3 0h3m9 0h2m5 0h2m1 0h7m2 0h2m1 0h1m1 0h2m3 0h2m4 0h2m2 0h4m2 0h3m1 0h3m1 0h1m1 0h1m5 0h6m5 0h2m1 0h1M163.1 213.3h3m3 0h3m3 0h2m2 0h1m8 0h1m7 0h2m10 0h2m3 0h1m5 0h4m4 0h4m16 0h1m9 0h3m6 0h1m3 0h1M163.1 214.5h4m7 0h2m2 0h1m3 0h3m1 0h2m1 0h2m14 0h1m9 0h2m1 0h1m2 0h1m15 0h2m4 0h2m3 0h2m1 0h4m2 0h1m7 0h3m2 0h1m2 0h1m1 0h1m3 0h2M162.1 215.7h1m3 0h1m4 0h2m3 0h2m2 0h4m1 0h5m8 0h1m3 0h2m8 0h1m2 0h2m6 0h1m2 0h5m3 0h2m3 0h5m1 0h2m2 0h1m2 0h2m4 0h3m4 0h2m2 0h3m1 0h3m2 0h1m2 0h2M163.1 216.8h5m1 0h2m2 0h1m2 0h3m14 0h2m5 0h2m6 0h2m12 0h1m4 0h2m6 0h2m11 0h1m11 0h1m12 0h2m3 0h2M169.1 218h3m5 0h2m2 0h1m3 0h1m1 0h2m30 0h2m13 0h2m3 0h2m1 0h2m6 0h1m1 0h2m26 0h1M170.1 219.2h1m13 0h5m6 0h1m8 0h4m5 0h1m2 0h3m1 0h3m6 0h2m4 0h2m3 0h2m1 0h2m4 0h3m1 0h2m13 0h2m3 0h1m6 0h1m1 0h1M162.1 220.4h1m4 0h2m15 0h1m2 0h2m10 0h2m6 0h2m9 0h3m1 0h1m5 0h1m1 0h3m11 0h1m1 0h3m3 0h4m3 0h1m6 0h1m9 0h2m4 0h1M164.1 221.6h1m3 0h1m1 0h1m5 0h1m5 0h2m4 0h1m5 0h2m6 0h2m13 0h1m2 0h4m10 0h4m3 0h2m5 0h6m1 0h1m1 0h1m8 0h2m3 0h7m4 0h1M163.1 222.8h2m2 0h2m6 0h5m8 0h3m2 0h2m4 0h2m2 0h4m3 0h1m5 0h2m1 0h4m1 0h3m2 0h2m11 0h2m1 0h1m5 0h1m4 0h4m10 0h2m2 0h3m1 0h4M172.1 224h2m2 0h3m15 0h1m5 0h2m4 0h1m14 0h1m2 0h4m2 0h6m2 0h2m6 0h1m3 0h2m1 0h1m4 0h1m1 0h3m1 0h2m2 0h2m5 0h3m2 0h1M163.1 225.2h2m4 0h1m3 0h3m6 0h3m5 0h4m3 0h1m2 0h1m4 0h1m11 0h1m2 0h1m4 0h1m5 0h3m1 0h1m11 0h5m4 0h1m3 0h2m10 0h4M163.1 226.4h3m6 0h2m7 0h2m16 0h3m8 0h2m4 0h3m17 0h1m8 0h1m6 0h2m5 0h1m8 0h1m1 0h3m6 0h2M176.1 227.6h1m7 0h1m1 0h2m6 0h2m2 0h1m1 0h2m1 0h5m1 0h1m3 0h1m2 0h1m1 0h2m1 0h1m2 0h1m3 0h2m1 0h2m6 0h1m2 0h2m1 0h2m5 0h2m2 0h2m6 0h3m10 0h1m3 0h2M162.1 228.7h2m2 0h3m2 0h2m9 0h4m4 0h4m4 0h3m4 0h1m11 0h2m1 0h1m9 0h1m6 0h2m17 0h1m3 0h2m1 0h1m14 0h3M162.1 229.9h8m5 0h2m5 0h2m10 0h1m3 0h2m1 0h2m15 0h1m2 0h2m9 0h5m2 0h2m4 0h2m5 0h3m3 0h3m5 0h1m7 0h2m2 0h2M162.1 231.1h3m3 0h3m1 0h2m6 0h1m1 0h13m4 0h1m1 0h2m1 0h3m3 0h1m10 0h2m7 0h2m1 0h2m3 0h2m9 0h2m1 0h1m1 0h1m2 0h1m1 0h1m6 0h2m1 0h1m1 0h4m2 0h2m1 0h2M164.1 232.3h2m3 0h1m6 0h2m8 0h2m9 0h2m7 0h2m10 0h2m2 0h2m9 0h3m1 0h3m9 0h1m6 0h2m1 0h2m5 0h5m4 0h1M162.1 233.5h1m1 0h1m8 0h2m4 0h1m8 0h2m15 0h2m7 0h2m2 0h3m2 0h4m5 0h2m5 0h5m1 0h2m11 0h2m6 0h1m13 0h2M164.1 234.7h3m10 0h3m1 0h1m2 0h1m3 0h2m14 0h2m12 0h4m6 0h3m1 0h2m7 0h2m5 0h3m22 0h1M163.1 235.9h1m2 0h2m11 0h1m3 0h2m9 0h1m28 0h1m22 0h2M175.1 237.1h3m2 0h1m1 0h3m6 0h2m3 0h1m2 0h4m1 0h2m4 0h1m4 0h2m3 0h5m6 0h2m5 0h1m5 0h2m14 0h4m4 0h1m4 0h2m3 0h4M169.1 238.3h1m2 0h1m33 0h3m2 0h1m3 0h1m16 0h1m9 0h1m2 0h2m7 0h2m8 0h2m5 0h1m1 0h3M163.1 239.5h1m3 0h1m1 0h3m8 0h1m4 0h1m5 0h3m3 0h1m2 0h1m5 0h5m3 0h2m4 0h2m1 0h1m6 0h4m4 0h3m6 0h2m7 0h1m1 0h1m4 0h2m7 0h2m7 0h2M167.1 240.6h1m14 0h1m3 0h3m1 0h2m5 0h1m10 0h1m1 0h2m2 0h1m1 0h2m16 0h2m4 0h2m9 0h1m14 0h3m2 0h2m6 0h2M170.1 241.8h1m13 0h2m1 0h2m2 0h2m1 0h1m2 0h2m5 0h2m1 0h2m5 0h4m1 0h7m1 0h1m6 0h4m1 0h1m18 0h1m3 0h1m1 0h1m5 0h1m5 0h1m4 0h2M164.1 243h2m7 0h1m2 0h2m2 0h3m11 0h2m9 0h1m4 0h1m2 0h1m1 0h2m5 0h2m8 0h2m1 0h2m1 0h2m3 0h1m12 0h1m7 0h2m4 0h2m4 0h4M169.1 244.2h4m3 0h2m4 0h2m2 0h2m4 0h2m1 0h2m3 0h1m5 0h2m9 0h2m15 0h2m9 0h2m10 0h2m13 0h4m6 0h1M168.1 245.4h1m3 0h4m7 0h1m4 0h1m2 0h4m2 0h1m5 0h4m15 0h2m21 0h2m1 0h2m6 0h2m4 0h1m9 0h2m2 0h2m2 0h2M174.1 246.6h1m2 0h2m15 0h1m4 0h1m4 0h4m5 0h5m1 0h5m12 0h2m8 0h11m1 0h7m14 0h4M164.1 247.8h3m2 0h2m14 0h2m2 0h2m24 0h1m2 0h2m4 0h1m6 0h1m3 0h2m5 0h2m12 0h1m1 0h1m3 0h2m3 0h3m9 0h2M163.1 249h2m1 0h1m11 0h1m5 0h3m6 0h2m2 0h2m5 0h1m8 0h2m10 0h1m2 0h3m17 0h1m10 0h2m13 0h2m5 0h2M170.1 250.2h1m3 0h2m17 0h3m8 0h1m1 0h1m2 0h3m2 0h2m2 0h2m1 0h1m5 0h1m6 0h1m21 0h1m2 0h5m1 0h1m9 0h1M166.1 251.4h1m5 0h2m1 0h1m3 0h2m1 0h1m6 0h2m1 0h3m3 0h4m2 0h1m1 0h1m1 0h2m1 0h2m2 0h1m1 0h2m2 0h1m7 0h2m4 0h1m3 0h2m2 0h2m11 0h3m7 0h1m9 0h2m2 0h3M162.1 252.5h1m11 0h2m2 0h1m2 0h2m10 0h2m4 0h5m3 0h2m3 0h2m2 0h5m1 0h2m7 0h6m11 0h1m2 0h1m3 0h2m2 0h2m1 0h4m4 0h1m4 0h1m1 0h2m1 0h1M163.1 253.7h2m4 0h1m5 0h1m1 0h3m6 0h2m2 0h1m4 0h1m3 0h1m4 0h1m5 0h1m1 0h1m1 0h4m2 0h3m1 0h2m1 0h1m1 0h2m1 0h1m1 0h2m5 0h2m4 0h2m7 0h2m3 0h5m3 0h1m1 0h1m2 0h2M167.1 254.9h3m7 0h2m7 0h4m3 0h2m14 0h1m5 0h3m2 0h1m1 0h4m10 0h2m1 0h5m6 0h4m3 0h1m4 0h1m10 0h4m2 0h2M164.1 256.1h2m9 0h3m7 0h2m7 0h2m3 0h3m7 0h4m4 0h1m1 0h2m7 0h1m6 0h1m4 0h2m7 0h1m3 0h4m2 0h2m3 0h3m2 0h1m2 0h1m7 0h2M165.1 257.3h2m7 0h1m2 0h2m4 0h1m13 0h10m14 0h2m7 0h2m2 0h3m21 0h1m23 0h1" stroke="#f8ab74" stroke-width="1" fill="none"/>
<path d="M162.1 284.2l0-3.3 0.5-2.2 0.5 0.5 0.5-1.6 0.5-0.9 0.5 3 0.5 2 0.5-5.8 0.5 2 0.5 1.5 0.5 0.4 0.5-1.7 0.5-0.8 0.5 2 0.5-3 0.5 2.5 0.5-1.6 0.5 2.4 0.5-1.9 0.5 4.4 0.5-4.7 0.5-0.2 0.5 0.4 0.5 3.4 0.5-0.8 0.5-4.9 0.5 4 0.5-2 0.5 0.8 0.5 0.7 0.5 0.2 0.5-0.4 0.5-0.5 0.5 0 0.5-3.1 0.5 8 0.5-3.2 0.5-0.3 0.5-0.7 0.5 2.3 0.5-1.1 0.6 1.7 0.5 0 0.5-4.8 0.5 3.3 0.5-1.1 0.5 1.1 0.5-5 0.5 2.2 0.5-1.6 0.5 2.9 0.5 0.1 0.5-0.7 0.5 1.3 0.5-2 0.5-0.7 0.5 1.1 0.5 2.4 0.5-3.5 0.5 4.3 0.5-1.4 0.5-3.7 0.5 2.4 0.5 2.3 0.5-0.7 0.5 0.4 0.5-3.3 0.5 0.5 0.5 1 0.5 0.7 0.5-0.4 0.5-2.1 0.5 0.8 0.5-1.8 0.5 3.6 0.5-1.8 0.5 0.5 0.5 3.1 0.5-5.1 0.5 0.9 0.5 0.8 0.5 0.7 0.5 2.8 0.5-1.8 0.5-1.3 0.5-3.5 0.5 2.1 0.5 4.3 0.5-2.4 0.5-1.5 0.5 2.3 0.5 1.5 0.5-1 0.5 2 0.5-3.9 0.5 1.4 0.5-3 0.5 2.2 0.5 0 0.5 0.8 0.5-0.3 0.5-3.6 0.5 1.7 0.5 3.3 0.5-3.3 0.5 1.7 0.5-0.1 0.5-1.6 0.5-2.8 0.5 3.4 0.5-2.6 0.5 1.4 0.5-0.5 0.5 6.1 0.5-17 0.5 5.4 0.5 8.9 0.5-11.2 0.5 3.3 0.5-3 0.5 3.7 0.6-4.2 0.5 1.6 0.5 5.1 0.5 5.6 0.5 2.5 0.5-5.1 0.5 0 0.5 1.6 0.5-0.9 0.5 1 0.5 0 0.5 0.4 0.5-0.9 0.5 2.8 0.5-2.7 0.5 1.8 0.5 0.4 0.5-2.3 0.5-0.3 0.5 1.7 0.5 1.7 0.5-3.9 0.5 0.2 0.5-1.4 0.5 3.7 0.5-0.3 0.5-4.1 0.5 1.2 0.5 3.4 0.5-1.5 0.5 3 0.5-3.1 0.5-1.3 0.5 2.4 0.5-2.2 0.5 0 0.5 0 0.5-0.2 0.5 4.9 0.5-3.2 0.5 1.2 0.5-2.8 0.5-1.3 0.5 1.4 0.5-3.3 0.5 3.3 0.5 4.2 0.5-3 0.5-0.3 0.5-0.5 0.5-0.6 0.5 3 0.5-1.7 0.5-1 0.5 1.6 0.5 0.1 0.5 0.6 0.5 3.1 0.5-4.2 0.5 1.1 0.5-2.6 0.5 3.5 0.5-4.1 0.5 2.5 0.5-2 0.5-0.4 0.5 1.3 0.5 1.2 0.5-3.5 0.5 2.5 0.5 2.5 0.5-3.7 0.5 3.3 0.5-0.8 0.5-0.5 0.5-1 0.5 0.4 0.5 1.9 0.5 0.1 0.5-2.8 0.5-0.8 0.6 2.5 0.5-3.9 0.5 3.2 0.5 0.6 0.5 0.4 0.5-3.4 0.5 1.8 0.5 1.4 0.5 0.5 0.5 0.6 0.5-2.3 0.5 1.2 0.5-2 0.5-1.3 0.5 4.4 0.5-4 0.5 0.6 0.5 3.1 0.5-1 0.5 0 0.5-1.9 0.5 3.1 0.5-4.1 0.5 0 0.5 1 0.5 2.1 0.5-3.2 0.5 1.9 0.5-1.9 0.5 1.6 0.5 0.6 0.5 0 0.5-1.5 0.5 0 0.5 1.9 0.5-3.7 0.5 3 0.5-0.6 0.5-0.4 0.5-1.3 0.5 4 0 3.6z" fill="#f79243"/>
<path d="M162.1 289.2h1m9 0h1m69 0h1m33 0h2m4 0h1M175.1 290.4h2m13 0h4m1 0h4m1 0h2m1 0h2m5 0h1m2 0h2m3 0h2m8 0h3m2 0h3m1 0h5m5 0h2m8 0h2m5 0h1m6 0h4m1 0h2m2 0h2M169.1 291.6h2m2 0h2m3 0h2m2 0h1m8 0h3m8 0h1m3 0h1m10 0h3m1 0h2m6 0h2m5 0h2m8 0h2m9 0h2m4 0h1m3 0h1m4 0h2m6 0h1m1 0h1M170.1 292.9h2m1 0h1m4 0h1m1 0h1m5 0h1m3 0h1m3 0h3m1 0h2m6 0h4m1 0h3m1 0h4m2 0h10m2 0h5m9 0h5m2 0h1m2 0h1m7 0h2m4 0h2m4 0h1m3 0h1M164.1 294.1h1m3 0h1m1 0h4m2 0h2m12 0h2m1 0h1m3 0h2m2 0h5m5 0h1m4 0h10m5 0h2m8 0h2m1 0h2m1 0h3m1 0h2m4 0h2m1 0h2m3 0h2m6 0h1m1 0h3M166.1 295.3h1m2 0h2m2 0h2m1 0h1m2 0h2m12 0h4m1 0h2m5 0h1m2 0h1m1 0h5m7 0h3m2 0h1m1 0h3m12 0h1m4 0h1m4 0h1m5 0h2m1 0h1m9 0h5m1 0h2m1 0h1M163.1 296.5h2m5 0h1m6 0h2m2 0h1m1 0h1m6 0h2m13 0h1m2 0h3m1 0h4m3 0h2m1 0h1m10 0h2m16 0h2m11 0h4m3 0h1m1 0h2m1 0h2m1 0h2M164.1 297.7h4m4 0h2m3 0h1m4 0h1m1 0h1m6 0h1m1 0h2m1 0h2m6 0h4m3 0h2m1 0h2m2 0h2m4 0h2m1 0h3m2 0h1m6 0h3m1 0h2m22 0h1m2 0h1m3 0h1m2 0h1m3 0h1M166.1 298.9h2m3 0h3m7 0h3m2 0h2m3 0h2m2 0h7m7 0h2m2 0h3m3 0h3m1 0h2m5 0h2m4 0h3m2 0h4m1 0h1m6 0h1m9 0h7m3 0h2m1 0h1m1 0h2M172.1 300.2h2m3 0h1m1 0h5m10 0h1m4 0h2m3 0h1m2 0h5m2 0h4m5 0h1m3 0h2m1 0h2m1 0h1m5 0h2m1 0h2m2 0h2m3 0h1m3 0h3m5 0h1m2 0h4m4 0h1M165.1 301.4h2m3 0h1m6 0h2m13 0h3m8 0h1m3 0h1m1 0h4m1 0h4m1 0h2m3 0h2m10 0h2m13 0h1m4 0h1m1 0h2m9 0h1m1 0h1M165.1 302.6h1m2 0h1m4 0h1m1 0h2m2 0h1m1 0h2m5 0h2m3 0h3m2 0h1m4 0h1m2 0h5m1 0h4m2 0h2m1 0h1m2 0h3m9 0h2m1 0h1m1 0h3m10 0h3m3 0h3m1 0h1m3 0h2M166.1 303.8h1m9 0h2m2 0h1m5 0h2m2 0h4m1 0h1m4 0h1m8 0h5m1 0h6m3 0h1m1 0h1m9 0h2m2 0h2m3 0h4m11 0h2m3 0h1m2 0h2m9 0h2m1 0h1M165.1 305h2m5 0h2m7 0h1m2 0h1m3 0h1m1 0h2m3 0h2m3 0h3m2 0h4m1 0h2m1 0h1m1 0h1m2 0h2m3 0h2m3 0h1m2 0h2m1 0h2m2 0h1m4 0h1m5 0h2m2 0h1m2 0h2m1 0h2m1 0h2m1 0h2m1 0h2m6 0h2m1 0h2M163.1 306.2h1m2 0h2m1 0h5m1 0h2m2 0h2m1 0h1m1 0h1m1 0h1m1 0h5m6 0h1m2 0h1m2 0h3m2 0h2m2 0h5m1 0h2m5 0h1m5 0h2m1 0h4m3 0h3m1 0h1m5 0h4m5 0h3m4 0h2m5 0h3M163.1 307.4h1m1 0h5m1 0h2m2 0h3m5 0h1m1 0h1m3 0h2m6 0h2m6 0h4m6 0h3m1 0h2m2 0h1m2 0h2m3 0h6m1 0h1m1 0h6m9 0h1m5 0h1m1 0h3m5 0h1m2 0h1m3 0h2m1 0h2M164.1 308.7h1m3 0h1m2 0h1m7 0h1m3 0h4m8 0h2m4 0h2m2 0h1m6 0h7m1 0h3m7 0h3m1 0h1m1 0h2m2 0h7m3 0h2m1 0h1m2 0h4m2 0h1m2 0h3m4 0h1m7 0h2M163.1 309.9h2m5 0h1m2 0h5m7 0h2m4 0h3m1 0h5m1 0h1m7 0h2m4 0h4m2 0h5m4 0h2m9 0h2m4 0h1m6 0h1m1 0h1m1 0h3m1 0h3m1 0h1m2 0h1m2 0h1m1 0h1m4 0h1M165.1 311.1h2m1 0h3m1 0h1m3 0h1m1 0h1m2 0h3m6 0h2m4 0h2m1 0h1m2 0h2m1 0h2m3 0h2m1 0h6m1 0h5m1 0h3m4 0h2m2 0h3m8 0h1m1 0h2m4 0h2m5 0h3m2 0h2m4 0h2m1 0h5M167.1 312.3h2m6 0h3m14 0h2m19 0h1m1 0h3m1 0h2m4 0h2m8 0h1m1 0h1m13 0h2m9 0h2m2 0h5m1 0h2m4 0h1M166.1 313.5h3m5 0h2m2 0h3m2 0h3m10 0h7m1 0h2m2 0h2m1 0h2m3 0h3m6 0h3m2 0h2m1 0h2m6 0h2m13 0h2m4 0h2m11 0h2M168.1 314.7h1m2 0h1m2 0h1m1 0h2m1 0h1m3 0h6m1 0h2m2 0h2m1 0h2m3 0h3m5 0h3m2 0h5m3 0h1m5 0h6m1 0h1m6 0h6m3 0h3m2 0h1m1 0h3m1 0h3m2 0h3m2 0h3M168.1 316h7m1 0h1m3 0h3m1 0h1m1 0h4m1 0h2m6 0h2m1 0h4m8 0h1m5 0h3m3 0h5m1 0h3m3 0h1m1 0h2m1 0h3m1 0h1m1 0h2m2 0h3m6 0h5m1 0h1m7 0h3m1 0h1M165.1 317.2h1m2 0h2m9 0h1m5 0h1m1 0h3m1 0h1m13 0h2m1 0h4m4 0h2m1 0h1m4 0h3m2 0h3m4 0h1m5 0h2m6 0h2m2 0h2m1 0h1m4 0h1m2 0h2m1 0h2m11 0h2M169.1 318.4h2m9 0h3m1 0h1m2 0h1m5 0h2m1 0h2m3 0h2m1 0h2m4 0h2m3 0h1m1 0h2m15 0h1m1 0h1m3 0h1m4 0h3m1 0h4m6 0h2m1 0h2m1 0h3m6 0h5m3 0h1M167.1 319.6h2m29 0h3m4 0h2m1 0h2m3 0h4m1 0h1m6 0h1m15 0h1m15 0h1m17 0h1m4 0h1M171.1 320.8h1m2 0h3m6 0h1m1 0h3m3 0h2m1 0h1m2 0h2m11 0h1m2 0h2m4 0h1m2 0h1m2 0h2m3 0h3m1 0h3m18 0h2m15 0h4m5 0h1M181.1 322h2m1 0h1m7 0h2m1 0h3m3 0h1m3 0h1m2 0h1m1 0h2m5 0h1m1 0h2m4 0h4m5 0h2m5 0h1m14 0h3m5 0h3m6 0h1m2 0h3m1 0h1M163.1 323.3h2m19 0h2m7 0h2m1 0h2m2 0h4m1 0h1m6 0h1m3 0h1m2 0h2m1 0h2m2 0h2m17 0h2m4 0h2m4 0h2m6 0h4m7 0h2m2 0h1m1 0h1M170.1 324.5h1m5 0h5m4 0h2m1 0h2m9 0h2m2 0h4m3 0h2m1 0h2m2 0h2m8 0h1m12 0h1m1 0h1m1 0h1m5 0h1m18 0h3m6 0h2m1 0h2M162.1 325.7h1m7 0h2m1 0h2m2 0h1m1 0h4m1 0h5m2 0h2m3 0h5m1 0h1m6 0h1m1 0h6m2 0h2m1 0h1m1 0h1m2 0h1m1 0h3m1 0h1m3 0h1m1 0h4m2 0h2m1 0h2m3 0h4m2 0h6m1 0h2m2 0h2m1 0h1m2 0h2m2 0h3M174.1 326.9h1m4 0h2m3 0h4m8 0h1m3 0h1m1 0h4m5 0h1m11 0h1m2 0h1m1 0h2m3 0h1m1 0h1m3 0h4m1 0h1m4 0h5m1 0h2m4 0h1m11 0h2m2 0h2M163.1 328.1h1m5 0h3m6 0h2m3 0h1m7 0h2m3 0h2m9 0h1m5 0h1m1 0h2m3 0h3m6 0h1m7 0h3m3 0h2m7 0h2m6 0h2m8 0h1m7 0h2m2 0h1M167.1 329.3h1m1 0h2m3 0h3m5 0h4m12 0h3m8 0h3m8 0h2m12 0h3m18 0h1m5 0h2m16 0h1M163.1 330.6h2m2 0h2m3 0h4m1 0h1m8 0h2m1 0h2m1 0h2m4 0h1m3 0h2m8 0h2m1 0h1m2 0h1m4 0h6m2 0h2m8 0h1m8 0h2m4 0h2m10 0h2m3 0h1m1 0h2m4 0h1M163.1 331.8h1m4 0h2m1 0h1m6 0h1m13 0h2m4 0h1m8 0h1m1 0h5m2 0h2m1 0h1m7 0h1m1 0h1m13 0h2m5 0h2m5 0h4m10 0h7m2 0h3M164.1 333h1m3 0h2m7 0h5m2 0h1m1 0h2m1 0h1m1 0h2m14 0h1m4 0h2m1 0h4m6 0h4m2 0h3m1 0h1m4 0h1m2 0h5m2 0h1m5 0h2m2 0h3m1 0h1m3 0h4m1 0h2m7 0h1M167.1 334.2h2m1 0h4m1 0h1m1 0h3m3 0h2m7 0h5m6 0h2m1 0h1m8 0h1m1 0h8m2 0h3m2 0h1m1 0h1m1 0h4m4 0h2m2 0h1m2 0h1m2 0h3m2 0h1m1 0h1m5 0h4M164.1 335.4h3m6 0h2m1 0h2m3 0h2m2 0h4m1 0h2m2 0h2m5 0h1m2 0h1m8 0h2m1 0h1m1 0h3m2 0h1m5 0h2m3 0h3m1 0h1m2 0h1m1 0h1m1 0h2m11 0h2m5 0h3m4 0h3m4 0h2m1 0h1M164.1 336.6h2m5 0h3m4 0h1m8 0h6m17 0h3m2 0h4m6 0h2m4 0h1m3 0h2m6 0h1m1 0h1m8 0h1m4 0h2m1 0h1m4 0h1m1 0h3m2 0h2m2 0h1m2 0h1M164.1 337.8h2m2 0h2m1 0h2m6 0h1m6 0h1m1 0h1m10 0h4m10 0h2m1 0h2m2 0h2m8 0h2m1 0h4m7 0h1m4 0h2m4 0h4m6 0h2m4 0h2M166.1 339.1h2m4 0h1m5 0h2m2 0h2m1 0h3m3 0h1m3 0h1m11 0h2m8 0h2m8 0h2m1 0h2m2 0h2m5 0h2m3 0h1m2 0h2m5 0h3m1 0h1m14 0h1m3 0h2M164.1 340.3h2m8 0h2m4 0h1m8 0h8m2 0h3m1 0h2m1 0h3m2 0h1m3 0h8m1 0h1m2 0h3m1 0h5m1 0h5m3 0h2m4 0h2m4 0h2m1 0h2m1 0h7m2 0h1m3 0h3M162.1 341.5h4m1 0h2m2 0h2m4 0h3m1 0h2m2 0h4m2 0h2m1 0h1m3 0h2m2 0h2m3 0h1m1 0h2m2 0h7m2 0h1m1 0h4m4 0h5m1 0h2m1 0h2m5 0h2m4 0h1m4 0h3m1 0h3m2 0h2m7 0h1m2 0h1M164.1 342.7h1m14 0h2m8 0h2m1 0h3m5 0h2m5 0h4m3 0h2m4 0h2m3 0h2m8 0h1m13 0h4m2 0h1m2 0h2m4 0h4m4 0h1m3 0h1M168.1 343.9h2m8 0h2m7 0h1m5 0h2m1 0h1m4 0h1m2 0h2m1 0h1m5 0h2m1 0h4m3 0h2m2 0h7m6 0h1m7 0h2m2 0h2m13 0h2m1 0h1m1 0h2m2 0h1m1 0h2M162.1 345.1h1m10 0h2m12 0h2m17 0h1m12 0h2m33 0h1m15 0h1M162.1 346.4h1m23 0h1m2 0h1m17 0h2m21 0h1m3 0h2m11 0h2m13 0h2m1 0h2M162.1 347.6h1m1 0h3m6 0h6m10 0h1m8 0h5m2 0h1m1 0h2m2 0h4m6 0h3m1 0h2m4 0h1m5 0h1m3 0h8m2 0h2m3 0h2m3 0h1m1 0h4m3 0h1m1 0h2M163.1 348.8h2m7 0h3m2 0h1m2 0h3m7 0h3m1 0h1m1 0h1m7 0h3m4 0h3m2 0h5m4 0h4m3 0h2m6 0h2m4 0h2m1 0h1m2 0h1m5 0h5m2 0h1m7 0h2m2 0h5" stroke="#62bdd8" stroke-width="1" fill="none"/>
<path d="M162.1 375.3l0-3.6 0.5 0.3 0.5-0.3 0.5-2.2 0.5 1.3 0.5-3 0.5-0.3 0.5 3.1 0.5-0.8 0.5 1.2 0.5 2.6 0.5-4.4 0.5 1.8 0.5-2.3 0.5 1.4 0.5-0.8 0.5 1.1 0.5 0.2 0.5 0.1 0.5 1.9 0.5-2.9 0.5-0.6 0.5-2 0.5 4 0.5 3.1 0.5-2.5 0.5-3.2 0.5 1.8 0.5-1.1 0.5-1.3 0.5 2.2 0.5 0 0.5 2.5 0.5 0.6 0.5-3.8 0.5 0.3 0.5-2.2 0.5 2.5 0.5 0 0.5-3 0.5 3.2 0.6 0.1 0.5 2.2 0.5 0.9 0.5-5.1 0.5-0.2 0.5 0.1 0.5 1.9 0.5 2.4 0.5-1 0.5-1.3 0.5-0.1 0.5 0.3 0.5 1.3 0.5-1.7 0.5 0.7 0.5 2.5 0.5-6.5 0.5 1.4 0.5 2.7 0.5-2.3 0.5 1.5 0.5-2.1 0.5-0.1 0.5 1.5 0.5 0.6 0.5-0.8 0.5-0.4 0.5-1.3 0.5 3.7 0.5-2.7 0.5 0.6 0.5-2.5 0.5 4.1 0.5-4.5 0.5 4.4 0.5 0.8 0.5-1.2 0.5-1.8 0.5-2.5 0.5 2.8 0.5 1.9 0.5-2.6 0.5-3.1 0.5 5 0.5 1.8 0.5-3.7 0.5 4.7 0.5-3.9 0.5 1.6 0.5 0.7 0.5-2.1 0.5-0.7 0.5 0.6 0.5-2.9 0.5 1.7 0.5 1 0.5-1.8 0.5-5.7 0.5 2.4 0.5 3.9 0.5-6.8 0.5 6 0.5-8.8 0.5 3.1 0.5-3.9 0.5 0.7 0.5 6.6 0.5-3.5 0.5 1.5 0.5-4.9 0.5 11.7 0.5-4 0.5-0.8 0.5 1.8 0.5-4.3 0.5 3.1 0.5 4.1 0.5 1.2 0.5-1.8 0.5 3.6 0.6-2.4 0.5 0.3 0.5-1.4 0.5 3.2 0.5-0.7 0.5-1.5 0.5 2.3 0.5-3.7 0.5-0.3 0.5 3.1 0.5 1.4 0.5-2.5 0.5 3.7 0.5-1.1 0.5-2.9 0.5 2.9 0.5-4.9 0.5 3.6 0.5-1.8 0.5 0.8 0.5 1.4 0.5 1.3 0.5-2.8 0.5 1.6 0.5-0.5 0.5 1 0.5 0.9 0.5-3.1 0.5-0.4 0.5 0.7 0.5-0.6 0.5 1.6 0.5-0.5 0.5 0 0.5 2.7 0.5-3.2 0.5-0.7 0.5 1.8 0.5-0.3 0.5-3 0.5 3.5 0.5-2.4 0.5 1.2 0.5 0 0.5-0.9 0.5-0.2 0.5 0.3 0.5 3 0.5-3.1 0.5 0.2 0.5-1.4 0.5 3.3 0.5-1.9 0.5 0.8 0.5-1.9 0.5 2.3 0.5 0.6 0.5-0.2 0.5-1.2 0.5-2.9 0.5 3.5 0.5 2.9 0.5-3.3 0.5-2.4 0.5 1.9 0.5 0.2 0.5 2.9 0.5-2.6 0.5-0.2 0.5 3.4 0.5-1.4 0.5 1.6 0.5 0.6 0.5-4.8 0.5 2.6 0.5-1.2 0.5-2 0.5 3 0.5-1.7 0.5-0.6 0.5 2.5 0.6 0.6 0.5-2.1 0.5 0.7 0.5 0 0.5 1.4 0.5-2.9 0.5-2.6 0.5 4.6 0.5 0.3 0.5-1 0.5 2.6 0.5-2.4 0.5-0.7 0.5 0.5 0.5-1.2 0.5 3.4 0.5-1.8 0.5 1.1 0.5-0.4 0.5-1.6 0.5 1.2 0.5-1.1 0.5-1.1 0.5 0.1 0.5 2.5 0.5 0.3 0.5-0.9 0.5-2.8 0.5 1.2 0.5 0.3 0.5 0.3 0.5 1.5 0.5-0.4 0.5-1.7 0.5 0.3 0.5 2.8 0.5-4.1 0.5 1.4 0.5-0.5 0.5 2.6 0.5-2.2 0 5.1z" fill="#2ea3c4"/>
<path d="M162.1 198.4L162.1 257.9" stroke="#4a4a4a" stroke-width="1.1"/>
<path d="M162.1 213.3L163.7 213.3" stroke="#444" stroke-width="0.5"/>
<path d="M162.1 228.1L163.7 228.1" stroke="#444" stroke-width="0.5"/>
<path d="M162.1 243L163.7 243" stroke="#444" stroke-width="0.5"/>
<path d="M162.1 260.3L162.1 284.2" stroke="#4a4a4a" stroke-width="1.1"/>
<path d="M162.1 272.2L163.7 272.2" stroke="#444" stroke-width="0.5"/>
<path d="M162.1 288.6L162.1 349.4" stroke="#4a4a4a" stroke-width="1.1"/>
<path d="M162.1 303.8L163.7 303.8" stroke="#444" stroke-width="0.5"/>
<path d="M162.1 319L163.7 319" stroke="#444" stroke-width="0.5"/>
<path d="M162.1 334.2L163.7 334.2" stroke="#444" stroke-width="0.5"/>
<path d="M162.1 351.2L162.1 375.3" stroke="#4a4a4a" stroke-width="1.1"/>
<path d="M162.1 363.2L163.7 363.2" stroke="#444" stroke-width="0.5"/>
<path d="M162.1 257.9L283.4 257.9" stroke="#555" stroke-width="1.0"/>
<path d="M162.1 284.2L283.4 284.2" stroke="#333" stroke-width="1.0"/>
<path d="M162.1 349.4L283.4 349.4" stroke="#555" stroke-width="1.0"/>
<path d="M162.1 375.3L283.4 375.3" stroke="#333" stroke-width="1.0"/>
<path d="M182.3 257.9L182.3 259.4" stroke="#333" stroke-width="0.6"/>
<path d="M182.3 284.2L182.3 285.7" stroke="#333" stroke-width="0.6"/>
<path d="M182.3 349.4L182.3 350.9" stroke="#333" stroke-width="0.6"/>
<path d="M182.3 375.3L182.3 376.8" stroke="#333" stroke-width="0.6"/>
<path d="M202.6 257.9L202.6 259.4" stroke="#333" stroke-width="0.6"/>
<path d="M202.6 284.2L202.6 285.7" stroke="#333" stroke-width="0.6"/>
<path d="M202.6 349.4L202.6 350.9" stroke="#333" stroke-width="0.6"/>
<path d="M202.6 375.3L202.6 376.8" stroke="#333" stroke-width="0.6"/>
<path d="M222.8 257.9L222.8 259.4" stroke="#333" stroke-width="0.6"/>
<path d="M222.8 284.2L222.8 285.7" stroke="#333" stroke-width="0.6"/>
<path d="M222.8 349.4L222.8 350.9" stroke="#333" stroke-width="0.6"/>
<path d="M222.8 375.3L222.8 376.8" stroke="#333" stroke-width="0.6"/>
<path d="M242.9 257.9L242.9 259.4" stroke="#333" stroke-width="0.6"/>
<path d="M242.9 284.2L242.9 285.7" stroke="#333" stroke-width="0.6"/>
<path d="M242.9 349.4L242.9 350.9" stroke="#333" stroke-width="0.6"/>
<path d="M242.9 375.3L242.9 376.8" stroke="#333" stroke-width="0.6"/>
<path d="M263.1 257.9L263.1 259.4" stroke="#333" stroke-width="0.6"/>
<path d="M263.1 284.2L263.1 285.7" stroke="#333" stroke-width="0.6"/>
<path d="M263.1 349.4L263.1 350.9" stroke="#333" stroke-width="0.6"/>
<path d="M263.1 375.3L263.1 376.8" stroke="#333" stroke-width="0.6"/>
<path d="M222.8 194L222.8 375.3" stroke="#3aa845" stroke-width="1.1"/>
<text x="279.6" y="272" font-size="9.6" text-anchor="end" fill="#1a1a1a" font-style="italic">4.2</text>
<text x="279.6" y="361.6" font-size="9.6" text-anchor="end" fill="#1a1a1a" font-style="italic">6.4</text>
<text x="176.8" y="387.9" font-size="12.5">-2</text>
<text x="219.3" y="387.9" font-size="12.5">0</text>
<text x="259.7" y="387.9" font-size="12.5">2</text>
<text x="199.9" y="400.3" font-size="13.2">Time (s)</text>
<text x="291.7" y="196.5" font-size="9.1">r = 0.9795</text>
<path d="M352.4 188L357.4 188L354.9 194z" fill="#3aa845"/>
<rect x="294.3" y="198.4" width="121.3" height="59.5" fill="#f9b381"/>
<path d="M294.3 199h3m1 0h4m3 0h1m4 0h2m1 0h1m3 0h2m2 0h1m1 0h2m8 0h3m2 0h2m1 0h3m4 0h1m15 0h9m7 0h3m1 0h1m1 0h2m1 0h1m3 0h3m1 0h1m2 0h2m3 0h2m2 0h3m2 0h1M299.3 200.2h2m1 0h2m1 0h5m3 0h1m4 0h4m1 0h1m8 0h2m2 0h1m2 0h1m3 0h5m1 0h2m4 0h2m2 0h1m1 0h5m4 0h4m1 0h3m5 0h3m1 0h2m2 0h3m1 0h4m4 0h1m4 0h6M294.3 201.4h10m2 0h3m1 0h5m1 0h2m1 0h4m1 0h7m1 0h1m1 0h1m3 0h1m3 0h3m3 0h2m2 0h7m1 0h2m2 0h12m1 0h5m1 0h4m1 0h3m2 0h6m1 0h1m1 0h3m2 0h6m1 0h1M295.3 202.6h1m2 0h2m1 0h1m7 0h2m4 0h1m2 0h3m1 0h1m4 0h5m2 0h2m1 0h3m2 0h4m18 0h1m8 0h1m4 0h2m1 0h1m2 0h2m1 0h1m3 0h2m6 0h3m4 0h2m1 0h1M295.3 203.8h2m2 0h2m2 0h2m1 0h1m2 0h5m1 0h1m2 0h2m1 0h3m1 0h2m4 0h5m2 0h2m1 0h1m1 0h2m1 0h2m1 0h1m14 0h1m1 0h1m2 0h2m1 0h5m2 0h1m1 0h4m2 0h5m1 0h5m1 0h1m1 0h4m4 0h2m2 0h2M295.3 204.9h1m1 0h6m1 0h2m1 0h3m1 0h2m8 0h2m1 0h2m2 0h4m29 0h1m1 0h2m3 0h1m4 0h3m3 0h1m6 0h1m3 0h1m1 0h2m2 0h6m1 0h1m10 0h1M295.3 206.1h1m3 0h4m2 0h1m3 0h2m3 0h2m3 0h1m1 0h2m2 0h2m1 0h1m6 0h1m11 0h2m15 0h1m2 0h4m6 0h2m3 0h2m6 0h1m1 0h2m4 0h2m5 0h2m5 0h1m1 0h1M296.3 207.3h1m1 0h1m1 0h5m3 0h1m3 0h10m1 0h3m2 0h3m1 0h2m1 0h3m1 0h3m2 0h11m1 0h4m3 0h4m1 0h1m1 0h2m1 0h1m2 0h2m2 0h4m2 0h2m2 0h4m3 0h1m1 0h5m3 0h3m1 0h2m1 0h1M295.3 208.5h1m1 0h2m3 0h1m4 0h1m1 0h4m2 0h2m2 0h1m1 0h5m7 0h1m1 0h4m3 0h2m4 0h1m3 0h2m3 0h1m5 0h2m2 0h2m3 0h1m5 0h4m3 0h1m2 0h2m1 0h1m2 0h4m2 0h2m1 0h7m1 0h4M295.3 209.7h4m1 0h1m1 0h4m4 0h1m2 0h3m2 0h10m1 0h2m1 0h5m3 0h4m2 0h1m13 0h2m8 0h1m1 0h1m3 0h2m1 0h1m3 0h1m2 0h1m1 0h3m2 0h1m3 0h2m1 0h1m3 0h2m1 0h2m2 0h1M295.3 210.9h3m3 0h4m1 0h1m2 0h3m3 0h1m1 0h1m1 0h1m4 0h1m4 0h2m9 0h2m4 0h1m2 0h2m2 0h2m13 0h4m6 0h3m1 0h1m2 0h1m4 0h1m3 0h1m2 0h4m6 0h2m3 0h1M295.3 212.1h2m4 0h2m1 0h4m2 0h1m1 0h2m1 0h2m1 0h5m1 0h1m1 0h4m1 0h1m4 0h2m2 0h1m25 0h4m2 0h3m2 0h3m1 0h3m3 0h4m2 0h2m3 0h1m2 0h5m4 0h1m1 0h3M294.3 213.3h2m4 0h2m4 0h3m5 0h1m3 0h1m2 0h3m2 0h1m2 0h2m4 0h2m4 0h2m2 0h1m18 0h1m1 0h3m4 0h7m1 0h1m4 0h2m1 0h1m1 0h2m7 0h1m1 0h2m10 0h1M294.3 214.5h1m2 0h1m1 0h2m1 0h3m1 0h1m1 0h3m2 0h2m1 0h7m2 0h6m1 0h11m1 0h2m2 0h7m3 0h2m1 0h2m2 0h2m3 0h3m2 0h1m5 0h8m4 0h2m1 0h1m3 0h1m1 0h2m1 0h2m3 0h1m2 0h2M294.3 215.7h5m1 0h4m3 0h4m1 0h2m4 0h1m1 0h2m3 0h1m1 0h4m1 0h3m3 0h2m2 0h2m3 0h2m4 0h1m2 0h2m1 0h3m1 0h8m5 0h1m2 0h3m1 0h5m4 0h5m1 0h2m2 0h1m1 0h3m1 0h2m3 0h2M296.3 216.8h5m7 0h3m12 0h4m3 0h2m3 0h1m6 0h1m30 0h1m4 0h1m1 0h1m2 0h2m1 0h1m6 0h2m10 0h1m1 0h2m4 0h2M304.3 218h1m3 0h2m2 0h3m6 0h4m9 0h1m3 0h1m3 0h1m23 0h1m1 0h3m3 0h1m2 0h4m2 0h2m4 0h2m2 0h1m4 0h3m3 0h2m2 0h3m1 0h3M294.3 219.2h1m1 0h1m6 0h1m1 0h1m1 0h3m1 0h1m1 0h4m1 0h2m1 0h2m3 0h1m3 0h3m1 0h1m32 0h2m1 0h3m4 0h4m2 0h2m1 0h3m2 0h1m1 0h3m1 0h2m3 0h4m2 0h3m2 0h2M294.3 220.4h2m2 0h1m2 0h5m4 0h3m1 0h2m1 0h4m1 0h1m4 0h1m7 0h1m1 0h1m1 0h1m2 0h2m5 0h1m12 0h2m2 0h5m5 0h3m1 0h3m2 0h3m2 0h2m1 0h3m1 0h7m5 0h1m2 0h1M295.3 221.6h2m2 0h1m3 0h1m3 0h1m3 0h1m1 0h1m1 0h1m13 0h1m2 0h1m28 0h1m1 0h3m3 0h2m4 0h3m5 0h1m2 0h2m1 0h2m5 0h1m1 0h1m7 0h2m1 0h3m1 0h1M295.3 222.8h1m8 0h2m5 0h4m5 0h3m5 0h6m3 0h2m3 0h3m1 0h1m4 0h2m4 0h7m1 0h2m2 0h2m2 0h7m1 0h2m2 0h2m1 0h1m3 0h1m2 0h5m1 0h1m1 0h3m3 0h2m2 0h2M297.3 224h5m2 0h1m1 0h3m3 0h14m1 0h2m1 0h4m1 0h7m4 0h2m3 0h4m1 0h3m2 0h3m1 0h5m2 0h15m5 0h1m1 0h4m4 0h3m2 0h4m1 0h3M294.3 225.2h1m3 0h4m4 0h2m2 0h4m3 0h2m3 0h1m13 0h4m3 0h3m2 0h1m19 0h1m12 0h1m9 0h2m9 0h3m1 0h3m1 0h3M296.3 226.4h9m1 0h3m7 0h7m2 0h2m4 0h2m1 0h4m4 0h1m1 0h2m1 0h5m3 0h2m2 0h6m4 0h2m2 0h3m2 0h1m2 0h2m1 0h4m1 0h2m2 0h7m1 0h2m1 0h5m2 0h2M294.3 227.6h1m1 0h1m3 0h3m4 0h2m1 0h2m3 0h2m1 0h2m1 0h2m2 0h1m1 0h6m6 0h1m4 0h2m6 0h4m4 0h6m1 0h1m3 0h1m2 0h5m1 0h4m1 0h2m2 0h3m1 0h2m1 0h5m1 0h4m1 0h1m1 0h1m2 0h3M297.3 228.7h4m1 0h1m2 0h2m2 0h2m2 0h2m3 0h1m3 0h2m5 0h3m1 0h2m1 0h8m2 0h2m8 0h1m12 0h1m1 0h3m1 0h2m2 0h2m1 0h2m1 0h2m3 0h2m6 0h2m2 0h2m2 0h1m1 0h2m2 0h3M294.3 229.9h1m5 0h2m3 0h2m10 0h3m2 0h5m1 0h2m6 0h5m2 0h3m20 0h2m2 0h4m4 0h1m1 0h1m1 0h3m3 0h1m5 0h2m4 0h1m1 0h4m2 0h5M294.3 231.1h2m1 0h6m3 0h1m4 0h5m2 0h4m2 0h1m1 0h4m3 0h1m6 0h2m4 0h2m3 0h2m5 0h1m2 0h1m3 0h3m1 0h4m5 0h2m4 0h3m1 0h2m1 0h2m5 0h4m1 0h1m4 0h4M299.3 232.3h1m4 0h3m9 0h4m4 0h1m13 0h1m11 0h1m12 0h2m19 0h1m4 0h2m3 0h2m4 0h1m5 0h2m4 0h2M295.3 233.5h2m6 0h2m6 0h2m5 0h1m1 0h1m1 0h3m3 0h1m1 0h2m1 0h3m2 0h2m1 0h2m3 0h2m2 0h1m5 0h1m1 0h1m3 0h2m1 0h1m1 0h8m1 0h3m2 0h6m1 0h1m1 0h6m3 0h1m1 0h2m1 0h5m1 0h2M296.3 234.7h5m2 0h2m4 0h3m11 0h2m4 0h4m1 0h1m1 0h2m3 0h3m1 0h1m9 0h1m8 0h2m2 0h1m9 0h1m11 0h2m5 0h1m2 0h2m1 0h1m1 0h4m4 0h1M294.3 235.9h1m1 0h5m1 0h3m1 0h2m1 0h4m1 0h1m4 0h1m1 0h1m4 0h3m1 0h4m6 0h2m1 0h2m1 0h5m3 0h2m1 0h2m2 0h3m1 0h2m3 0h3m2 0h3m3 0h1m1 0h4m2 0h3m1 0h5m2 0h2m2 0h3m3 0h1m2 0h2M295.3 237.1h1m1 0h3m1 0h4m1 0h1m4 0h1m3 0h2m2 0h4m1 0h2m1 0h1m3 0h2m1 0h2m2 0h1m4 0h2m1 0h1m6 0h2m7 0h2m13 0h2m1 0h4m3 0h3m2 0h1m1 0h1m9 0h2m1 0h1m1 0h2m3 0h1M297.3 238.3h1m12 0h1m3 0h1m1 0h2m9 0h1m46 0h1m3 0h3m6 0h2m6 0h2m3 0h1m1 0h1m1 0h5m2 0h1m1 0h2M294.3 239.5h1m1 0h1m1 0h5m1 0h8m1 0h2m1 0h3m2 0h4m1 0h2m1 0h2m2 0h1m1 0h2m2 0h1m9 0h2m2 0h1m1 0h3m2 0h1m5 0h3m2 0h2m1 0h7m1 0h1m2 0h8m1 0h3m2 0h2m1 0h1m3 0h1m3 0h1m2 0h1M295.3 240.6h5m1 0h1m1 0h2m2 0h7m2 0h2m2 0h1m2 0h3m1 0h2m1 0h2m1 0h3m1 0h3m4 0h2m6 0h2m3 0h1m4 0h2m1 0h2m2 0h1m1 0h3m1 0h1m3 0h1m2 0h1m3 0h3m1 0h3m1 0h7m1 0h1m1 0h5m2 0h4M295.3 241.8h1m1 0h1m1 0h1m2 0h1m1 0h1m2 0h1m2 0h3m1 0h2m1 0h1m2 0h10m2 0h5m5 0h3m1 0h3m2 0h4m3 0h1m3 0h3m4 0h12m3 0h3m3 0h1m3 0h1m1 0h4m1 0h1m1 0h2m6 0h1m1 0h2M296.3 243h2m2 0h7m3 0h6m2 0h15m2 0h1m1 0h2m2 0h1m6 0h3m1 0h1m9 0h3m1 0h3m5 0h2m1 0h3m2 0h2m2 0h7m1 0h1m1 0h7m3 0h5m2 0h2M294.3 244.2h2m5 0h4m1 0h1m4 0h1m5 0h1m7 0h2m2 0h1m1 0h2m36 0h3m2 0h2m5 0h1m2 0h1m1 0h3m1 0h1m4 0h7m1 0h3m1 0h2m1 0h4M303.3 245.4h5m1 0h2m6 0h3m11 0h1m5 0h1m31 0h2m10 0h1m7 0h2m2 0h4m2 0h1m1 0h4m1 0h1m1 0h1m1 0h1m1 0h2M294.3 246.6h2m2 0h4m1 0h1m1 0h1m2 0h2m2 0h1m1 0h4m2 0h9m3 0h9m2 0h2m2 0h5m1 0h2m2 0h3m1 0h3m3 0h5m2 0h5m1 0h2m1 0h6m3 0h2m1 0h4m2 0h4m1 0h8M294.3 247.8h2m5 0h1m1 0h2m4 0h9m1 0h1m1 0h2m1 0h2m2 0h3m2 0h2m3 0h2m14 0h1m4 0h1m9 0h1m3 0h1m1 0h2m3 0h2m2 0h3m5 0h2m1 0h1m8 0h3m4 0h3M296.3 249h5m13 0h2m64 0h2m1 0h3m3 0h1m3 0h2m7 0h1m2 0h1m4 0h5M297.3 250.2h1m4 0h3m1 0h1m5 0h2m1 0h2m49 0h3m4 0h1m5 0h2m2 0h2m5 0h2m2 0h1m6 0h2m2 0h2m1 0h2M294.3 251.4h6m1 0h3m1 0h6m4 0h1m1 0h1m3 0h2m1 0h3m2 0h3m4 0h2m1 0h3m1 0h1m5 0h3m1 0h2m11 0h4m4 0h1m3 0h1m3 0h2m2 0h3m1 0h1m2 0h1m2 0h2m1 0h1m1 0h4m4 0h3M300.3 252.5h1m2 0h1m2 0h5m1 0h1m6 0h2m2 0h1m3 0h3m4 0h1m26 0h2m2 0h2m8 0h3m7 0h2m4 0h1m1 0h1m1 0h3m1 0h2m7 0h2M298.3 253.7h2m1 0h1m5 0h2m7 0h2m4 0h1m1 0h5m4 0h6m4 0h1m1 0h1m1 0h2m3 0h3m5 0h2m1 0h1m1 0h2m3 0h3m1 0h1m1 0h2m4 0h4m3 0h2m4 0h2m2 0h7m2 0h3M294.3 254.9h2m1 0h3m3 0h2m1 0h1m1 0h1m1 0h5m1 0h1m12 0h3m4 0h2m1 0h2m5 0h1m6 0h2m4 0h6m3 0h3m1 0h6m1 0h1m1 0h1m2 0h1m2 0h2m2 0h1m2 0h2m4 0h2m2 0h1m1 0h8M296.3 256.1h2m1 0h2m2 0h1m7 0h1m2 0h2m1 0h2m5 0h1m1 0h2m1 0h1m1 0h3m3 0h6m1 0h1m2 0h4m4 0h2m5 0h3m2 0h2m1 0h1m3 0h3m3 0h4m1 0h2m1 0h4m3 0h3m2 0h3m2 0h4m1 0h3m1 0h1M300.3 257.3h1m2 0h2m1 0h2m8 0h1m3 0h2m1 0h1m3 0h6m1 0h4m3 0h5m4 0h2m1 0h1m15 0h5m2 0h2m1 0h3m7 0h2m1 0h1m4 0h2m2 0h6m2 0h3" stroke="#fff" stroke-width="1.2" fill="none"/>
<path d="M294.3 284.2l0-3.3 0.5-0.1 0.5 0.5 0.5 0.6 0.5-1.6 0.5 1 0.5 0.6 0.5-1.6 0.5 0.1 0.5 0.5 0.5-0.3 0.5 0.3 0.5 0.4 0.5 2.2 0.5-2.5 0.5 0.3 0.5 0 0.5-1.5 0.5 1.4 0.5-1 0.5 1.2 0.5-1.2 0.5 1.6 0.5-0.1 0.5-1.8 0.5 0.8 0.5-0.2 0.5 0 0.5 0.8 0.5 0.2 0.5 0 0.5-1.3 0.5 0.2 0.5 0.3 0.5 0.3 0.5 0.8 0.5-2 0.5 0.9 0.5 0.4 0.5-1.1 0.5 0.7 0.6 0.9 0.5-1.8 0.5 1.4 0.5 0 0.5-0.7 0.5 0.3 0.5 1.6 0.5-1.5 0.5 0.8 0.5-0.8 0.5-1.2 0.5 0.7 0.5 0.9 0.5 0 0.5-0.7 0.5 0 0.5-0.7 0.5 1.1 0.5 0.6 0.5-2.2 0.5 1.7 0.5-0.7 0.5-0.3 0.5 0.4 0.5-0.4 0.5 1.1 0.5-0.3 0.5-2.1 0.5 1.7 0.5 0.4 0.5-0.7 0.5-0.5 0.5 1.9 0.5-0.8 0.5 0.7 0.5-2.1 0.5-1.8 0.5 1.1 0.5 0.5 0.5-0.1 0.5-1 0.5 0.2 0.5-1.8 0.5 2.6 0.5-1.5 0.5 0.4 0.5-2.2 0.5 0 0.5 0.3 0.5-0.1 0.5 0.8 0.5 4.2 0.5-1.6 0.5-3.4 0.5-0.5 0.5-0.8 0.5 1.4 0.5 2.2 0.5-2.3 0.5-0.7 0.5 0.9 0.5 1.5 0.5-4.9 0.5 0.9 0.5-0.7 0.5 2.2 0.5-2.4 0.5 3.6 0.5-3.1 0.5 2.7 0.5-2.4 0.5 0 0.5-1.4 0.5 0.6 0.5 3.7 0.5-1.9 0.5-3.2 0.5-1.1 0.5 6.6 0.5-9.2 0.5 0.4 0.6-3.7 0.5 2.7 0.5-0.6 0.5-2 0.5 5.7 0.5-3.7 0.5 7.8 0.5-5.8 0.5 5.9 0.5-6.5 0.5 8 0.5-2.7 0.5 2.9 0.5 2.4 0.5-4.7 0.5 1.6 0.5 1.2 0.5-2.4 0.5 4.9 0.5-2.1 0.5 0.7 0.5-4.8 0.5 1.3 0.5-0.3 0.5 3.4 0.5-2.7 0.5 3.7 0.5 0.2 0.5-1.8 0.5 0.4 0.5 3.5 0.5-3.5 0.5-2 0.5 1.9 0.5 0.5 0.5 1.8 0.5-1.8 0.5 2.5 0.5-0.2 0.5 0.5 0.5-1.6 0.5 0.9 0.5-0.4 0.5 1.1 0.5-0.1 0.5-1.9 0.5 1.9 0.5 1.2 0.5-1.3 0.5-0.6 0.5 3.1 0.5-2 0.5 0.6 0.5-0.6 0.5 0.2 0.5 0.7 0.5-1.7 0.5 2.6 0.5-0.2 0.5-2.6 0.5 1.5 0.5-0.9 0.5-1 0.5 0.2 0.5 1.7 0.5 1.8 0.5-2.3 0.5-1.2 0.5-0.3 0.5 1.7 0.5 1.4 0.5-1.9 0.5-0.1 0.5 0.7 0.5-0.5 0.5-0.4 0.5 0.9 0.5 0.9 0.5 0.6 0.5-1 0.6-0.9 0.5 0.6 0.5 0.6 0.5-0.9 0.5-0.9 0.5 1.6 0.5 0.3 0.5-0.6 0.5-0.2 0.5-0.9 0.5 2.3 0.5-2.6 0.5 3 0.5-1.8 0.5 1 0.5-1.2 0.5-0.9 0.5 1.1 0.5-0.1 0.5-0.1 0.5-0.6 0.5 0.5 0.5 2 0.5-3.7 0.5 1.6 0.5 1.5 0.5 0.3 0.5-2.6 0.5 1.6 0.5-2 0.5 1.5 0.5-0.5 0.5-0.1 0.5-0.4 0.5 0.6 0.5-0.8 0.5 1.5 0.5-1.1 0.5 0.7 0.5-1.1 0.5-0.4 0 4.9z" fill="#f79243"/>
<path d="M302.3 289.2h1m3 0h1m4 0h4m2 0h1m1 0h2m2 0h2m4 0h1m1 0h1m1 0h1m4 0h2m1 0h5m3 0h2m3 0h7m2 0h2m1 0h1m5 0h2m4 0h2m5 0h1m2 0h3m6 0h3m3 0h3m5 0h1m2 0h1M295.3 290.4h2m14 0h2m7 0h2m1 0h2m3 0h1m1 0h1m1 0h1m1 0h4m2 0h2m2 0h2m1 0h3m2 0h6m1 0h2m6 0h2m3 0h2m6 0h1m5 0h2m5 0h1m2 0h1m11 0h4m2 0h1M294.3 291.6h2m15 0h2m3 0h3m5 0h2m8 0h6m1 0h1m1 0h3m4 0h6m1 0h4m4 0h3m5 0h2m2 0h1m1 0h1m13 0h2m4 0h1m7 0h1m4 0h1M300.3 292.9h2m1 0h2m2 0h2m3 0h2m10 0h1m13 0h1m2 0h1m1 0h2m4 0h2m2 0h3m3 0h1m3 0h1m4 0h2m4 0h2m1 0h1m4 0h1m4 0h2m3 0h2M294.3 294.1h5m1 0h1m10 0h1m3 0h2m2 0h5m2 0h5m3 0h1m1 0h1m5 0h5m1 0h2m2 0h6m1 0h6m1 0h5m3 0h3m5 0h6m9 0h2m13 0h1M296.3 295.3h2m1 0h2m12 0h2m5 0h8m1 0h2m6 0h2m1 0h1m6 0h2m1 0h2m1 0h7m1 0h3m1 0h9m4 0h1m3 0h3m1 0h2m16 0h2m3 0h2M295.3 296.5h2m17 0h1m7 0h1m16 0h1m8 0h4m3 0h6m1 0h1m3 0h4m5 0h3m2 0h1m1 0h4m2 0h3m13 0h4m2 0h1M295.3 297.7h2m4 0h1m6 0h2m5 0h1m1 0h1m18 0h1m2 0h2m1 0h3m9 0h2m1 0h4m1 0h3m4 0h1m2 0h3m1 0h1m14 0h5m2 0h1m7 0h1M294.3 298.9h2m16 0h1m1 0h1m2 0h1m1 0h6m3 0h2m4 0h1m7 0h2m1 0h2m2 0h2m1 0h4m2 0h5m5 0h4m2 0h3m6 0h3m8 0h2m1 0h1m3 0h1m2 0h1m7 0h2M301.3 300.2h2m12 0h1m1 0h1m6 0h2m7 0h3m3 0h2m3 0h4m2 0h2m6 0h2m1 0h2m1 0h3m11 0h2m10 0h2M298.3 301.4h1m1 0h2m5 0h3m1 0h1m5 0h2m3 0h3m3 0h2m4 0h1m1 0h7m4 0h3m2 0h6m1 0h5m4 0h2m2 0h3m1 0h1m5 0h1m3 0h3m15 0h4m4 0h2M295.3 302.6h1m2 0h1m1 0h1m16 0h2m5 0h4m6 0h1m2 0h6m2 0h1m2 0h1m2 0h1m1 0h3m1 0h3m4 0h1m1 0h2m3 0h3m3 0h3m1 0h3m4 0h1m5 0h2m8 0h1m1 0h4m3 0h2M296.3 303.8h2m3 0h1m1 0h1m2 0h2m4 0h2m6 0h1m3 0h3m3 0h4m1 0h3m2 0h3m2 0h2m1 0h1m3 0h3m2 0h5m1 0h3m6 0h1m1 0h1m2 0h2m4 0h2m1 0h5m2 0h2m7 0h4m3 0h2m1 0h2M307.3 305h2m11 0h1m2 0h2m5 0h2m1 0h2m2 0h3m3 0h3m7 0h1m1 0h3m1 0h3m12 0h1m2 0h2m1 0h1m13 0h3m6 0h1m1 0h5M295.3 306.2h2m9 0h2m2 0h2m5 0h3m3 0h2m2 0h3m1 0h1m13 0h2m1 0h2m1 0h4m4 0h1m1 0h2m4 0h1m8 0h3m8 0h1m1 0h4m1 0h2m4 0h2m3 0h2M304.3 307.4h1m4 0h2m2 0h2m2 0h1m9 0h3m4 0h2m3 0h2m10 0h2m1 0h2m1 0h3m3 0h1m1 0h2m2 0h2m3 0h2m1 0h3m7 0h3m2 0h2m17 0h4M294.3 308.7h2m6 0h1m6 0h1m1 0h3m2 0h2m3 0h2m4 0h2m10 0h14m1 0h2m1 0h3m6 0h2m5 0h4m3 0h4m3 0h3m1 0h2m4 0h1m3 0h2m3 0h2m5 0h2M294.3 309.9h1m2 0h3m8 0h2m2 0h3m4 0h1m6 0h1m3 0h1m1 0h4m6 0h3m2 0h2m4 0h9m4 0h3m2 0h2m7 0h2m2 0h1m5 0h1m3 0h2m2 0h3m1 0h2m6 0h1m3 0h1M296.3 311.1h3m8 0h2m1 0h2m18 0h2m6 0h2m1 0h6m1 0h2m1 0h5m2 0h5m2 0h2m4 0h1m1 0h1m10 0h3m2 0h1m2 0h1m1 0h2m15 0h1m2 0h1M296.3 312.3h1m11 0h1m1 0h2m3 0h1m2 0h2m5 0h3m2 0h2m2 0h2m5 0h3m1 0h1m1 0h1m6 0h6m1 0h2m23 0h3m7 0h1m13 0h1M298.3 313.5h4m1 0h1m4 0h3m1 0h2m7 0h1m1 0h3m10 0h4m3 0h3m2 0h1m1 0h8m1 0h1m1 0h2m1 0h2m3 0h1m2 0h6m1 0h2m3 0h3m2 0h1m8 0h2m1 0h2m7 0h2M312.3 314.7h1m2 0h1m11 0h2m6 0h1m3 0h4m1 0h2m5 0h2m3 0h5m3 0h1m4 0h1m2 0h1m20 0h2m1 0h3m7 0h2M300.3 316h2m13 0h2m7 0h1m4 0h1m3 0h4m1 0h7m1 0h2m1 0h5m1 0h1m1 0h5m1 0h2m1 0h1m4 0h1m1 0h2m1 0h2m4 0h1m11 0h1m7 0h1m5 0h2m2 0h1M297.3 317.2h3m2 0h1m9 0h2m10 0h1m8 0h2m4 0h2m2 0h1m3 0h2m6 0h2m1 0h1m2 0h1m2 0h2m8 0h2m18 0h3m8 0h2m3 0h2M295.3 318.4h1m4 0h2m1 0h1m1 0h2m9 0h2m5 0h4m3 0h3m6 0h11m2 0h3m1 0h3m1 0h3m6 0h1m13 0h2m19 0h1M305.3 319.6h3m12 0h1m7 0h3m1 0h1m12 0h2m1 0h1m1 0h1m3 0h2m3 0h2m4 0h2m2 0h1m1 0h3m4 0h2m1 0h4m8 0h1m11 0h1m1 0h2M306.3 320.8h2m11 0h1m2 0h1m6 0h2m7 0h3m2 0h1m1 0h2m6 0h5m2 0h3m1 0h4m7 0h3m16 0h3m3 0h3m7 0h3M302.3 322h2m1 0h1m9 0h2m3 0h5m5 0h6m1 0h1m5 0h3m2 0h2m1 0h1m1 0h1m2 0h4m6 0h1m6 0h2m1 0h2m9 0h3m5 0h2m14 0h1M297.3 323.3h1m4 0h4m2 0h4m3 0h2m9 0h2m2 0h3m3 0h1m2 0h2m2 0h5m1 0h7m1 0h2m1 0h2m2 0h1m5 0h1m5 0h2m7 0h2m4 0h1m8 0h4m5 0h1M295.3 324.5h2m7 0h1m2 0h1m11 0h1m4 0h1m1 0h3m9 0h3m3 0h3m5 0h1m1 0h4m5 0h1m2 0h2m2 0h2m1 0h1m1 0h1m5 0h1m1 0h2m1 0h2m1 0h1m5 0h3m6 0h2M296.3 325.7h2m5 0h3m2 0h2m1 0h1m8 0h1m11 0h1m2 0h2m2 0h4m1 0h1m2 0h1m3 0h3m1 0h4m2 0h1m2 0h1m22 0h2m2 0h2m13 0h4M299.3 326.9h1m8 0h1m11 0h3m4 0h1m2 0h1m11 0h1m3 0h2m4 0h1m4 0h1m11 0h3m2 0h2m3 0h1m3 0h2m11 0h1m9 0h3m4 0h1M294.3 328.1h2m8 0h1m5 0h2m11 0h1m1 0h3m2 0h3m3 0h1m2 0h2m1 0h3m2 0h2m5 0h3m3 0h1m1 0h1m1 0h2m6 0h2m5 0h2m1 0h1m5 0h4m3 0h2m16 0h1M295.3 329.3h2m10 0h4m4 0h2m1 0h1m6 0h3m1 0h3m2 0h2m1 0h2m1 0h1m1 0h4m1 0h1m5 0h1m4 0h3m5 0h2m2 0h3m11 0h3m6 0h3m11 0h2m3 0h2M298.3 330.6h1m15 0h3m9 0h2m5 0h1m1 0h2m2 0h1m1 0h2m2 0h1m1 0h2m1 0h6m2 0h2m3 0h1m22 0h2m2 0h2m5 0h5m3 0h2m5 0h3M302.3 331.8h1m9 0h3m4 0h1m3 0h1m19 0h2m1 0h3m1 0h3m6 0h2m3 0h6m1 0h4m7 0h5m1 0h1m3 0h1m7 0h1m2 0h1m2 0h1m1 0h4m2 0h1M297.3 333h1m1 0h1m6 0h1m14 0h2m2 0h1m4 0h2m7 0h2m1 0h3m6 0h2m3 0h3m1 0h1m4 0h2m1 0h2m1 0h5m5 0h1m1 0h2m7 0h2m7 0h4m8 0h1M295.3 334.2h2m3 0h2m1 0h3m3 0h2m1 0h2m1 0h2m2 0h1m1 0h3m1 0h1m1 0h6m2 0h2m3 0h1m1 0h3m1 0h2m1 0h1m1 0h3m1 0h1m2 0h2m4 0h2m5 0h2m5 0h2m9 0h2m2 0h1m2 0h2m8 0h1M297.3 335.4h2m6 0h6m6 0h1m2 0h5m6 0h8m2 0h2m2 0h2m1 0h2m3 0h2m1 0h1m1 0h1m2 0h8m1 0h2m2 0h2m5 0h1m5 0h1m4 0h2m1 0h2m14 0h4M299.3 336.6h1m22 0h2m6 0h1m6 0h2m4 0h1m1 0h3m2 0h3m4 0h1m1 0h2m13 0h2m9 0h3m8 0h1m1 0h6m5 0h2m2 0h2M309.3 337.8h1m10 0h4m2 0h2m3 0h2m6 0h8m8 0h8m6 0h2m2 0h2m1 0h2m13 0h3m1 0h5M301.3 339.1h2m17 0h2m4 0h1m17 0h2m7 0h1m1 0h2m1 0h2m25 0h1M296.3 340.3h2m3 0h1m5 0h2m2 0h1m2 0h1m2 0h2m3 0h2m11 0h7m6 0h8m1 0h1m1 0h1m7 0h4m21 0h2m6 0h1m4 0h2m4 0h1m2 0h1M303.3 341.5h1m14 0h1m2 0h2m15 0h2m19 0h3m17 0h2m13 0h2m4 0h1M298.3 342.7h2m3 0h2m1 0h2m1 0h2m3 0h5m3 0h2m1 0h1m1 0h1m4 0h2m3 0h2m7 0h5m3 0h1m1 0h3m1 0h4m3 0h2m11 0h2m12 0h1m11 0h4m3 0h1M296.3 343.9h2m4 0h4m7 0h2m3 0h2m3 0h2m1 0h1m1 0h1m1 0h1m5 0h10m2 0h3m5 0h3m2 0h1m7 0h2m1 0h2m2 0h2m3 0h2m9 0h1m2 0h6m4 0h6m2 0h1M296.3 345.1h3m2 0h1m2 0h2m4 0h1m6 0h3m7 0h6m2 0h1m2 0h4m5 0h2m1 0h2m1 0h2m2 0h3m4 0h2m1 0h2m2 0h3m1 0h2m13 0h5m2 0h1m4 0h2m5 0h4m1 0h1M294.3 346.4h3m4 0h1m13 0h1m4 0h3m5 0h4m1 0h2m1 0h1m2 0h1m3 0h3m1 0h4m3 0h1m1 0h2m1 0h2m3 0h1m2 0h1m8 0h2m1 0h1m11 0h2m6 0h1m2 0h2m7 0h2M300.3 347.6h2m1 0h1m4 0h2m7 0h1m5 0h2m8 0h1m1 0h1m5 0h1m4 0h2m6 0h2m1 0h2m2 0h1m9 0h1m5 0h2m23 0h2m5 0h1M301.3 348.8h1m7 0h3m1 0h2m1 0h1m2 0h1m1 0h4m1 0h3m2 0h2m2 0h1m3 0h2m3 0h3m4 0h5m1 0h2m1 0h1m3 0h3m1 0h1m5 0h1m2 0h1m11 0h2m10 0h2m2 0h2m1 0h3" stroke="#62bdd8" stroke-width="1" fill="none"/>
<path d="M294.3 375.3l0-5.3 0.5 2.7 0.5 0.1 0.5-1 0.5-0.5 0.5 0.7 0.5-0.6 0.5 1.2 0.5-1 0.5 1 0.5-1.6 0.5 1.7 0.5 0.4 0.5-2.2 0.5 1.4 0.5 0.4 0.5-0.5 0.5-0.6 0.5-1.4 0.5 1.8 0.5-0.6 0.5 1.5 0.5-0.6 0.5-0.3 0.5-0.4 0.5 1.1 0.5-0.2 0.5-1.8 0.5 0.6 0.5 1 0.5 0.3 0.5-0.1 0.5-0.4 0.5-0.4 0.5 0.3 0.5 0.4 0.5 0.3 0.5-0.6 0.5-0.3 0.5 0.3 0.5-0.1 0.6 0.4 0.5-1.3 0.5 0.7 0.5-0.3 0.5-0.1 0.5 1.2 0.5-1.1 0.5-0.2 0.5 0.2 0.5-0.6 0.5-0.9 0.5-0.6 0.5 2.8 0.5-1.2 0.5-0.6 0.5 1.1 0.5 0.5 0.5 0.6 0.5-3.1 0.5 1.9 0.5-1.6 0.5 0.6 0.5-0.5 0.5 0.4 0.5-2.2 0.5 1.9 0.5 1.1 0.5-1.3 0.5-2 0.5 2 0.5-1.2 0.5-1.3 0.5 0 0.5 0.2 0.5-0.9 0.5 2.2 0.5-0.3 0.5 0.5 0.5-2.2 0.5 2 0.5 0.9 0.5-3.3 0.5-2.8 0.5 1.6 0.5 4.1 0.5-1.8 0.5-2.3 0.5 1.6 0.5-4.2 0.5 3.8 0.5 0.8 0.5-4.6 0.5 0.8 0.5 0.3 0.5 3.2 0.5-3 0.5-0.3 0.5 1.1 0.5-1.5 0.5 2.8 0.5-0.4 0.5-0.6 0.5-1.1 0.5 2.6 0.5-4.2 0.5 4.3 0.5-0.4 0.5-2.5 0.5-0.9 0.5-2.8 0.5 3.4 0.5 1.8 0.5 0.2 0.5 2.1 0.5-2.3 0.5-2.7 0.5 0.5 0.5-2.6 0.5 4.8 0.5-5.7 0.5 0.5 0.6-5.8 0.5 1.9 0.5 1 0.5-1.6 0.5-1.1 0.5 1.8 0.5 5.7 0.5 1 0.5-0.6 0.5 4 0.5-0.8 0.5-1.6 0.5 0.8 0.5 0.7 0.5 0.9 0.5-4.1 0.5 7.6 0.5-2.7 0.5 1.3 0.5-2.5 0.5 3.4 0.5-1.2 0.5-2.1 0.5 1.9 0.5-0.4 0.5 3.5 0.5 0.4 0.5-2 0.5-0.8 0.5 2 0.5-0.2 0.5 0.1 0.5 0.5 0.5 0 0.5-0.3 0.5 1.5 0.5-1.1 0.5 0.2 0.5 0 0.5-0.8 0.5 1.4 0.5-1.5 0.5 1.4 0.5 0.7 0.5-1.9 0.5 0.4 0.5-0.7 0.5 0.4 0.5 0.4 0.5 0.8 0.5-1.1 0.5 0.4 0.5 0.6 0.5-0.2 0.5 0.1 0.5 1 0.5-1.7 0.5 0.4 0.5 1.3 0.5-0.6 0.5 0.3 0.5-0.1 0.5-0.3 0.5-0.7 0.5 1.5 0.5-1.2 0.5 1.3 0.5-1 0.5-0.6 0.5-0.4 0.5 1.3 0.5 0.2 0.5-0.2 0.5 0.2 0.5-2 0.5 0.7 0.5 1.5 0.5-1.8 0.5-0.1 0.5 2.6 0.6-2.5 0.5 1.2 0.5 0.2 0.5 0.7 0.5-0.9 0.5 0.9 0.5-1.2 0.5 1 0.5-1.2 0.5 1.4 0.5-1.4 0.5 0 0.5 1.5 0.5-1.2 0.5 1.8 0.5-2.6 0.5 0.1 0.5 1.5 0.5-0.3 0.5-0.4 0.5 2.1 0.5-2.2 0.5-0.2 0.5 0.9 0.5-1.4 0.5 0.3 0.5 0.2 0.5 0 0.5-1.1 0.5 2.7 0.5-2.9 0.5 1.3 0.5-0.3 0.5 1.1 0.5 1.4 0.5-1.1 0.5-0.7 0.5 0.2 0.5-0.2 0.5-0.6 0.5 0.4 0 3.5z" fill="#2ea3c4"/>
<path d="M294.3 198.4L294.3 257.9" stroke="#4a4a4a" stroke-width="1.1"/>
<path d="M294.3 213.3L295.9 213.3" stroke="#444" stroke-width="0.5"/>
<path d="M294.3 228.1L295.9 228.1" stroke="#444" stroke-width="0.5"/>
<path d="M294.3 243L295.9 243" stroke="#444" stroke-width="0.5"/>
<path d="M294.3 260.3L294.3 284.2" stroke="#4a4a4a" stroke-width="1.1"/>
<path d="M294.3 272.2L295.9 272.2" stroke="#444" stroke-width="0.5"/>
<path d="M294.3 288.6L294.3 349.4" stroke="#4a4a4a" stroke-width="1.1"/>
<path d="M294.3 303.8L295.9 303.8" stroke="#444" stroke-width="0.5"/>
<path d="M294.3 319L295.9 319" stroke="#444" stroke-width="0.5"/>
<path d="M294.3 334.2L295.9 334.2" stroke="#444" stroke-width="0.5"/>
<path d="M294.3 351.2L294.3 375.3" stroke="#4a4a4a" stroke-width="1.1"/>
<path d="M294.3 363.2L295.9 363.2" stroke="#444" stroke-width="0.5"/>
<path d="M294.3 257.9L415.6 257.9" stroke="#555" stroke-width="1.0"/>
<path d="M294.3 284.2L415.6 284.2" stroke="#333" stroke-width="1.0"/>
<path d="M294.3 349.4L415.6 349.4" stroke="#555" stroke-width="1.0"/>
<path d="M294.3 375.3L415.6 375.3" stroke="#333" stroke-width="1.0"/>
<path d="M314.5 257.9L314.5 259.4" stroke="#333" stroke-width="0.6"/>
<path d="M314.5 284.2L314.5 285.7" stroke="#333" stroke-width="0.6"/>
<path d="M314.5 349.4L314.5 350.9" stroke="#333" stroke-width="0.6"/>
<path d="M314.5 375.3L314.5 376.8" stroke="#333" stroke-width="0.6"/>
<path d="M334.7 257.9L334.7 259.4" stroke="#333" stroke-width="0.6"/>
<path d="M334.7 284.2L334.7 285.7" stroke="#333" stroke-width="0.6"/>
<path d="M334.7 349.4L334.7 350.9" stroke="#333" stroke-width="0.6"/>
<path d="M334.7 375.3L334.7 376.8" stroke="#333" stroke-width="0.6"/>
<path d="M354.9 257.9L354.9 259.4" stroke="#333" stroke-width="0.6"/>
<path d="M354.9 284.2L354.9 285.7" stroke="#333" stroke-width="0.6"/>
<path d="M354.9 349.4L354.9 350.9" stroke="#333" stroke-width="0.6"/>
<path d="M354.9 375.3L354.9 376.8" stroke="#333" stroke-width="0.6"/>
<path d="M375.1 257.9L375.1 259.4" stroke="#333" stroke-width="0.6"/>
<path d="M375.1 284.2L375.1 285.7" stroke="#333" stroke-width="0.6"/>
<path d="M375.1 349.4L375.1 350.9" stroke="#333" stroke-width="0.6"/>
<path d="M375.1 375.3L375.1 376.8" stroke="#333" stroke-width="0.6"/>
<path d="M395.3 257.9L395.3 259.4" stroke="#333" stroke-width="0.6"/>
<path d="M395.3 284.2L395.3 285.7" stroke="#333" stroke-width="0.6"/>
<path d="M395.3 349.4L395.3 350.9" stroke="#333" stroke-width="0.6"/>
<path d="M395.3 375.3L395.3 376.8" stroke="#333" stroke-width="0.6"/>
<path d="M354.9 194L354.9 375.3" stroke="#3aa845" stroke-width="1.1"/>
<text x="411.8" y="272" font-size="9.6" text-anchor="end" fill="#1a1a1a" font-style="italic">8.9</text>
<text x="411.8" y="361.6" font-size="9.6" text-anchor="end" fill="#1a1a1a" font-style="italic">10.7</text>
<text x="309" y="387.9" font-size="12.5">-2</text>
<text x="351.5" y="387.9" font-size="12.5">0</text>
<text x="391.9" y="387.9" font-size="12.5">2</text>
<text x="332.1" y="400.3" font-size="13.2">Time (s)</text>
<text x="423.9" y="196.5" font-size="9.1">r = 0.9795</text>
<path d="M484.6 188L489.6 188L487.1 194z" fill="#3aa845"/>
<rect x="426.5" y="198.4" width="121.3" height="59.5" fill="#f9b381"/>
<path d="M426.5 199h2m1 0h2m7 0h1m2 0h3m11 0h2m7 0h1m2 0h3m1 0h1m1 0h1m4 0h1m1 0h6m4 0h2m1 0h2m2 0h2m6 0h1m5 0h4m12 0h4m1 0h2m3 0h3m2 0h1m1 0h3M426.5 200.2h6m1 0h2m1 0h1m1 0h2m2 0h3m5 0h4m1 0h6m1 0h1m1 0h5m1 0h2m7 0h2m1 0h5m1 0h5m2 0h4m2 0h7m2 0h1m2 0h3m2 0h1m1 0h3m3 0h1m7 0h13M426.5 201.4h2m2 0h2m2 0h3m1 0h2m2 0h2m1 0h1m2 0h1m5 0h1m6 0h2m1 0h3m6 0h3m2 0h3m1 0h5m1 0h1m2 0h1m1 0h2m3 0h2m9 0h4m1 0h2m2 0h4m3 0h3m1 0h3m4 0h1m1 0h6m1 0h2M426.5 202.6h1m1 0h1m1 0h2m1 0h5m1 0h2m4 0h2m2 0h1m2 0h4m5 0h2m1 0h7m1 0h2m2 0h1m3 0h1m2 0h2m1 0h10m1 0h4m1 0h1m1 0h5m2 0h1m3 0h5m3 0h2m2 0h2m4 0h2m1 0h1m1 0h1m1 0h3m1 0h3M427.5 203.8h4m1 0h8m3 0h2m1 0h4m1 0h3m1 0h2m1 0h1m3 0h2m1 0h3m1 0h13m2 0h3m5 0h1m2 0h1m1 0h6m1 0h3m3 0h2m2 0h2m1 0h1m4 0h2m2 0h2m4 0h2m2 0h1m2 0h1m4 0h2M426.5 204.9h2m1 0h2m6 0h1m1 0h4m3 0h2m3 0h3m2 0h1m2 0h4m1 0h3m6 0h3m5 0h1m2 0h1m2 0h1m1 0h2m2 0h2m4 0h2m7 0h3m1 0h2m1 0h4m1 0h4m4 0h1m2 0h1m2 0h2m2 0h3m1 0h3M426.5 206.1h4m11 0h1m1 0h11m2 0h1m1 0h1m2 0h1m1 0h2m1 0h5m2 0h2m1 0h2m3 0h2m1 0h4m1 0h4m6 0h6m1 0h4m5 0h1m1 0h1m2 0h6m1 0h1m3 0h3m4 0h4m1 0h2M429.5 207.3h2m1 0h2m1 0h2m1 0h1m2 0h1m1 0h10m3 0h6m1 0h1m1 0h5m1 0h1m3 0h2m1 0h4m1 0h2m1 0h2m2 0h1m2 0h2m9 0h4m1 0h1m1 0h6m1 0h1m1 0h3m1 0h1m3 0h3m2 0h1m1 0h1m1 0h1m1 0h2m2 0h2m1 0h1M436.5 208.5h4m3 0h3m2 0h1m3 0h3m6 0h2m5 0h2m1 0h2m3 0h4m1 0h5m1 0h1m1 0h2m20 0h2m1 0h1m2 0h7m1 0h2m3 0h4m2 0h1M426.5 209.7h2m1 0h1m1 0h1m6 0h1m2 0h1m1 0h3m2 0h1m1 0h3m1 0h2m1 0h5m15 0h3m2 0h1m2 0h4m2 0h2m3 0h4m4 0h5m7 0h2m2 0h1m4 0h2m1 0h2m5 0h2m1 0h5M426.5 210.9h4m6 0h9m1 0h1m3 0h2m2 0h5m3 0h5m2 0h2m2 0h3m1 0h2m1 0h1m2 0h1m4 0h1m1 0h2m2 0h1m1 0h4m1 0h3m3 0h11m1 0h3m4 0h10m3 0h1m2 0h5M426.5 212.1h1m1 0h2m2 0h2m4 0h1m1 0h4m1 0h1m3 0h2m2 0h1m2 0h3m4 0h10m1 0h3m2 0h4m2 0h1m2 0h1m1 0h5m1 0h1m1 0h2m1 0h1m1 0h2m2 0h1m2 0h4m1 0h4m3 0h1m2 0h1m1 0h2m1 0h2m2 0h6m2 0h3m1 0h1M427.5 213.3h2m4 0h1m4 0h1m3 0h4m2 0h6m1 0h1m11 0h5m1 0h3m1 0h2m1 0h1m1 0h3m2 0h2m4 0h3m3 0h1m1 0h1m3 0h2m4 0h4m3 0h2m1 0h1m4 0h1m2 0h2m3 0h3m3 0h4m1 0h2M426.5 214.5h4m1 0h3m1 0h6m2 0h1m2 0h3m3 0h1m1 0h7m2 0h2m3 0h4m1 0h5m2 0h1m1 0h3m1 0h4m1 0h1m2 0h6m2 0h3m2 0h2m1 0h1m1 0h2m2 0h5m3 0h4m4 0h10m1 0h4M488.5 215.7h1m4 0h3m48 0h1M428.5 216.8h2m3 0h4m1 0h1m1 0h3m1 0h1m2 0h2m1 0h3m3 0h3m1 0h1m2 0h2m1 0h2m1 0h1m2 0h2m1 0h2m3 0h3m3 0h4m1 0h2m3 0h4m5 0h2m2 0h2m2 0h2m2 0h1m4 0h2m2 0h5m2 0h1m1 0h2m1 0h2m4 0h3M426.5 218h1m1 0h1m4 0h4m2 0h4m1 0h2m2 0h3m1 0h2m4 0h1m2 0h3m1 0h2m1 0h3m2 0h2m6 0h1m2 0h1m1 0h4m2 0h1m2 0h1m3 0h1m2 0h3m1 0h5m3 0h2m6 0h3m3 0h2m1 0h1m1 0h1m2 0h1m1 0h6M428.5 219.2h2m1 0h2m21 0h3m9 0h1m10 0h2m13 0h4m12 0h1m6 0h5m6 0h2M426.5 220.4h3m2 0h1m3 0h1m3 0h4m3 0h1m1 0h2m2 0h5m3 0h1m8 0h5m5 0h4m1 0h3m3 0h1m3 0h2m1 0h9m2 0h4m2 0h2m10 0h2m2 0h3m3 0h1m3 0h1m1 0h1m1 0h3M426.5 221.6h2m2 0h4m5 0h1m5 0h1m1 0h2m5 0h2m1 0h3m2 0h1m10 0h2m1 0h3m2 0h3m3 0h1m1 0h3m1 0h2m1 0h3m1 0h1m1 0h1m2 0h3m1 0h3m3 0h2m2 0h4m3 0h1m1 0h3m2 0h2m1 0h2m1 0h6M444.5 222.8h1m2 0h2m8 0h2m3 0h2m4 0h5m1 0h1m6 0h4m1 0h6m5 0h1m1 0h2m3 0h1m6 0h2m1 0h4m2 0h3m1 0h3m3 0h2m6 0h2m1 0h4M431.5 224h1m13 0h1m3 0h1m28 0h4m2 0h2m6 0h2m3 0h1m39 0h2M431.5 225.2h4m1 0h2m4 0h2m1 0h1m2 0h2m4 0h2m2 0h7m1 0h2m2 0h3m1 0h3m1 0h4m1 0h4m5 0h1m1 0h2m7 0h1m1 0h8m2 0h3m3 0h5m2 0h3m1 0h2m2 0h4m5 0h2M430.5 226.4h1m6 0h3m2 0h2m7 0h1m5 0h2m2 0h1m1 0h1m6 0h2m1 0h6m3 0h2m2 0h1m4 0h1m3 0h2m4 0h5m2 0h2m4 0h1m2 0h2m2 0h3m1 0h2m1 0h1m1 0h2m2 0h1m1 0h4m1 0h5M446.5 227.6h2m6 0h1m2 0h2m10 0h1m4 0h4m3 0h2m2 0h1m8 0h2m16 0h1m4 0h2m3 0h2m19 0h4M426.5 228.7h9m1 0h5m1 0h9m2 0h4m1 0h2m1 0h3m1 0h2m3 0h5m2 0h5m2 0h7m2 0h1m2 0h4m1 0h3m2 0h6m5 0h3m2 0h5m1 0h2m5 0h1m1 0h2m1 0h2m1 0h4M515.5 229.9h3m28 0h1M426.5 231.1h2m2 0h1m3 0h1m6 0h2m3 0h1m2 0h1m1 0h2m2 0h1m4 0h2m4 0h4m3 0h1m3 0h1m2 0h4m1 0h2m1 0h2m2 0h1m7 0h1m2 0h1m7 0h2m1 0h2m2 0h2m9 0h3m1 0h1m2 0h2M430.5 232.3h2m3 0h1m3 0h1m1 0h4m1 0h5m2 0h6m1 0h5m1 0h3m3 0h3m1 0h7m2 0h3m1 0h8m2 0h2m3 0h3m2 0h3m3 0h2m3 0h2m1 0h2m2 0h1m1 0h5m1 0h1m1 0h2m1 0h1m2 0h2M427.5 233.5h2m2 0h2m1 0h6m1 0h3m3 0h2m2 0h6m1 0h2m4 0h8m1 0h1m2 0h2m1 0h6m1 0h2m1 0h6m1 0h6m2 0h5m1 0h1m1 0h2m1 0h1m2 0h1m1 0h1m3 0h1m2 0h5m3 0h2m2 0h1m1 0h1m1 0h4M426.5 234.7h1m13 0h3m2 0h4m1 0h2m1 0h2m4 0h2m1 0h1m9 0h1m1 0h2m6 0h7m1 0h3m2 0h4m3 0h2m3 0h1m4 0h2m1 0h1m2 0h1m12 0h1m2 0h1m3 0h2m1 0h2M432.5 235.9h1m2 0h1m3 0h3m1 0h2m1 0h1m4 0h1m1 0h6m2 0h1m2 0h3m1 0h4m1 0h3m2 0h2m5 0h6m1 0h2m2 0h4m2 0h2m1 0h2m3 0h2m2 0h1m1 0h2m1 0h1m6 0h1m3 0h1m1 0h3m1 0h2m2 0h2m1 0h2M427.5 237.1h2m2 0h8m1 0h4m2 0h4m1 0h5m1 0h1m1 0h2m8 0h1m2 0h2m2 0h3m1 0h3m2 0h1m1 0h2m2 0h2m2 0h2m1 0h2m9 0h1m3 0h2m2 0h2m2 0h2m4 0h2m1 0h1m7 0h1m2 0h2M429.5 238.3h2m6 0h2m4 0h2m3 0h2m5 0h2m3 0h4m6 0h3m6 0h3m1 0h2m1 0h7m8 0h2m4 0h3m3 0h1m4 0h4m8 0h2m3 0h5m5 0h2M426.5 239.5h1m2 0h2m14 0h3m4 0h2m3 0h1m18 0h2m6 0h2m2 0h3m49 0h2M438.5 240.6h1m12 0h3m2 0h1m1 0h1m1 0h1m2 0h2m9 0h1m2 0h1m3 0h1m2 0h4m1 0h2m1 0h3m2 0h2m1 0h2m1 0h2m2 0h1m8 0h3m3 0h2m1 0h1m5 0h4m5 0h2m2 0h2M426.5 241.8h2m1 0h3m1 0h1m3 0h3m9 0h7m1 0h2m1 0h2m1 0h1m1 0h3m2 0h1m3 0h2m1 0h3m4 0h1m1 0h4m3 0h2m1 0h1m2 0h3m2 0h1m2 0h1m1 0h1m1 0h2m1 0h4m1 0h1m1 0h8m1 0h2m1 0h3m3 0h2M443.5 243h1m10 0h1m3 0h2m14 0h1m1 0h2m4 0h1m1 0h2m1 0h1m8 0h1m7 0h1m12 0h3m10 0h1m5 0h3m2 0h1m1 0h1M426.5 244.2h5m2 0h1m1 0h1m2 0h2m8 0h2m3 0h1m1 0h1m4 0h2m2 0h3m4 0h1m1 0h2m1 0h2m1 0h5m3 0h3m7 0h1m1 0h2m10 0h1m6 0h1m7 0h1m1 0h1m5 0h1m1 0h2m5 0h3M429.5 245.4h2m1 0h2m2 0h2m3 0h1m3 0h2m4 0h3m1 0h3m2 0h2m1 0h1m4 0h3m4 0h1m6 0h3m2 0h5m6 0h4m6 0h3m3 0h2m5 0h2m1 0h2m1 0h6m4 0h1m1 0h1m3 0h4M426.5 246.6h5m1 0h4m5 0h8m2 0h1m1 0h2m1 0h3m9 0h4m1 0h3m1 0h1m6 0h1m1 0h1m1 0h1m1 0h3m5 0h2m1 0h2m3 0h4m3 0h3m5 0h3m5 0h2m3 0h2m2 0h3m1 0h1m3 0h1M443.5 247.8h1m1 0h1m6 0h4m6 0h1m6 0h2m3 0h1m6 0h3m1 0h3m6 0h2m1 0h1m6 0h2m7 0h2m14 0h1M428.5 249h1m4 0h1m5 0h1m1 0h1m5 0h3m1 0h5m4 0h1m1 0h1m1 0h1m6 0h3m1 0h1m1 0h1m1 0h4m1 0h3m3 0h8m2 0h4m2 0h5m2 0h2m1 0h1m1 0h2m1 0h3m5 0h6m1 0h1m2 0h1m1 0h2m1 0h3M426.5 250.2h4m6 0h3m1 0h4m1 0h1m1 0h3m7 0h1m2 0h4m2 0h1m4 0h2m2 0h4m6 0h3m1 0h2m1 0h2m1 0h2m1 0h1m3 0h2m3 0h1m5 0h4m5 0h2m5 0h3m4 0h1m1 0h1m1 0h1m3 0h2M427.5 251.4h5m1 0h4m1 0h2m3 0h2m1 0h3m1 0h1m2 0h1m1 0h2m6 0h7m1 0h1m1 0h2m4 0h2m1 0h2m1 0h2m1 0h2m2 0h3m1 0h2m2 0h2m4 0h2m1 0h3m2 0h2m4 0h1m2 0h3m4 0h3m13 0h1M429.5 252.5h3m50 0h3m57 0h1M428.5 253.7h5m10 0h4m2 0h1m2 0h1m1 0h4m1 0h3m1 0h1m2 0h1m1 0h2m8 0h1m2 0h9m2 0h7m1 0h1m3 0h4m3 0h1m3 0h2m1 0h3m1 0h2m2 0h6m3 0h5m5 0h2M442.5 254.9h2m2 0h1m33 0h5m6 0h2M426.5 256.1h1m3 0h1m4 0h2m4 0h2m3 0h2m1 0h2m1 0h1m1 0h1m1 0h1m5 0h1m9 0h1m1 0h2m2 0h1m1 0h2m2 0h3m1 0h4m4 0h2m1 0h3m2 0h6m2 0h4m1 0h2m2 0h5m2 0h2m1 0h1m2 0h1m1 0h1m5 0h3M428.5 257.3h1m5 0h1m3 0h1m1 0h1m2 0h1m3 0h1m1 0h1m4 0h1m2 0h5m1 0h1m2 0h6m1 0h2m1 0h8m2 0h1m1 0h5m1 0h1m2 0h2m2 0h3m2 0h2m1 0h1m7 0h12m9 0h1m1 0h2m1 0h1m2 0h1" stroke="#fff" stroke-width="1.2" fill="none"/>
<path d="M426.5 284.2l0-15.9 0.5 3 0.5-5.7 0.5 0.7 0.5 1.6 0.5-1 0.5-2.4 0.5 5.8 0.5-1.7 0.5 1.4 0.5 0.5 0.5-0.2 0.5-0.7 0.5-1.7 0.5 4.6 0.5-3 0.5-0.1 0.5-1 0.5-0.5 0.5-1.4 0.5 0.3 0.5-1.3 0.5 3.3 0.5 0.1 0.5 1.5 0.5-0.5 0.5-1.6 0.5 1.6 0.5-1.7 0.5 1.4 0.5-4.2 0.5 2.6 0.5 4.2 0.5-4.3 0.5 1.6 0.5-1.7 0.5 0.7 0.5 1.3 0.5 0.1 0.5 1 0.5-0.6 0.6-1.8 0.5 0.7 0.5-0.5 0.5-1.7 0.5 2.7 0.5-0.9 0.5 3.8 0.5-3.1 0.5-2 0.5 3.8 0.5-2.2 0.5 1.4 0.5-0.9 0.5 0.6 0.5-0.6 0.5 0.5 0.5-0.2 0.5 0.8 0.5-4.9 0.5 3.6 0.5 2 0.5-3.5 0.5 3.6 0.5-1.1 0.5-0.1 0.5 3.7 0.5-4.4 0.5-0.3 0.5-3.6 0.5 3 0.5 3.3 0.5-3 0.5 1.4 0.5-3.5 0.5 0.4 0.5 1.5 0.5-0.9 0.5 2.9 0.5-3 0.5 1.2 0.5 1.1 0.5-2.7 0.5 1.7 0.5-1.7 0.5 0.9 0.5-0.7 0.5 2.1 0.5-0.4 0.5 0.1 0.5-1.2 0.5 2.5 0.5 1.7 0.5-5.3 0.5 4.5 0.5 1.2 0.5-2.3 0.5 0.5 0.5-0.8 0.5 3.3 0.5-1.3 0.5-0.5 0.5 0.3 0.5 2.4 0.5-1.4 0.5 3.2 0.5-4.6 0.5 3.9 0.5 1.5 0.5-0.3 0.5 0.3 0.5 1 0.5 0.5 0.5 0.5 0.5 1.2 0.5 0.8 0.5 0.1 0.5 0.5 0.5-0.2 0.5 0.4 0.5 0.2 0.5-0.2 0.6-0.6 0.5 0.6 0.5-0.2 0.5-0.2 0.5-0.8 0.5-1.6 0.5 0.1 0.5-0.4 0.5-1 0.5 1.5 0.5-1.8 0.5 0.8 0.5-2.8 0.5-0.5 0.5-0.9 0.5-0.9 0.5-0.7 0.5-0.1 0.5-1.1 0.5-0.5 0.5-1.3 0.5 2.6 0.5-2.2 0.5-3.7 0.5 3.8 0.5 0.6 0.5-2.4 0.5-1.8 0.5 4.3 0.5-1.6 0.5-0.3 0.5 1.7 0.5-3.8 0.5-2.4 0.5-0.3 0.5 1.1 0.5 6 0.5-3.3 0.5 4.1 0.5-8.6 0.5 3.2 0.5 2.7 0.5 1 0.5-3.5 0.5 2.6 0.5 0.6 0.5-1.6 0.5 3.2 0.5-3.5 0.5 0.1 0.5-2.4 0.5 1.8 0.5 1.2 0.5-2.2 0.5 4.2 0.5-3.3 0.5-1.7 0.5-0.9 0.5 5.1 0.5-3.3 0.5 1.7 0.5-4.8 0.5 4.8 0.5 1.4 0.5-2.6 0.5 4.1 0.5-3.1 0.5-1.5 0.5 1.1 0.5 2.7 0.5-1.5 0.5-5.4 0.5 3.1 0.5 1.4 0.5-0.9 0.5-4.2 0.5 6.1 0.5-0.9 0.5 0.5 0.5-3.7 0.6 1.6 0.5 1.3 0.5 1.7 0.5-3.2 0.5-3.6 0.5 5.1 0.5-1.9 0.5 1.3 0.5-0.8 0.5-0.1 0.5-0.6 0.5-0.9 0.5 2.5 0.5 1.6 0.5-5.2 0.5 6.9 0.5-3.5 0.5 1.6 0.5-2.6 0.5 0.5 0.5 2.2 0.5 1.3 0.5-4.2 0.5 1 0.5-2.1 0.5 1.7 0.5 3.9 0.5-0.4 0.5 0.2 0.5-0.7 0.5-0.3 0.5-4.4 0.5 2.4 0.5-2.8 0.5 6.8 0.5 0 0.5-5.7 0.5 4.4 0.5-2.4 0.5 2.9 0.5 1.4 0 12.5z" fill="#f79243"/>
<rect x="426.5" y="288.6" width="121.3" height="60.8" fill="#80cae0"/>
<path d="M433.5 289.2h5m1 0h7m5 0h4m1 0h6m1 0h2m1 0h2m2 0h8m1 0h8m1 0h1m2 0h2m1 0h2m3 0h5m1 0h3m1 0h3m4 0h2m2 0h14m1 0h4m2 0h2m1 0h2M430.5 290.4h1m1 0h1m2 0h1m1 0h2m4 0h2m1 0h1m9 0h2m1 0h2m1 0h1m1 0h5m4 0h2m2 0h1m1 0h2m3 0h10m3 0h2m3 0h1m6 0h1m1 0h2m1 0h4m3 0h3m6 0h1m6 0h2m1 0h3m2 0h1M426.5 291.6h1m7 0h2m6 0h2m1 0h2m2 0h4m8 0h1m6 0h1m4 0h2m7 0h2m8 0h1m2 0h2m1 0h2m2 0h2m5 0h1m9 0h1m2 0h1m5 0h2m1 0h2m9 0h2m2 0h1M428.5 292.9h3m1 0h2m2 0h1m4 0h1m5 0h2m2 0h4m6 0h3m1 0h3m4 0h2m3 0h3m2 0h1m6 0h1m1 0h2m3 0h1m12 0h2m1 0h2m5 0h1m2 0h2m1 0h2m3 0h1m4 0h2m5 0h2M426.5 294.1h1m3 0h2m9 0h2m9 0h2m1 0h1m29 0h1m1 0h2m1 0h2m10 0h5m3 0h2m3 0h2m8 0h3m5 0h3M431.5 295.3h5m9 0h1m9 0h1m1 0h2m4 0h1m4 0h1m2 0h2m2 0h1m3 0h2m4 0h4m1 0h1m3 0h1m3 0h3m4 0h2m5 0h2m13 0h1m2 0h1m5 0h2m2 0h2m3 0h2M426.5 296.5h2m2 0h1m1 0h2m1 0h2m1 0h4m1 0h3m3 0h1m2 0h1m6 0h4m1 0h2m2 0h3m1 0h2m2 0h5m1 0h3m1 0h3m1 0h3m1 0h11m1 0h1m1 0h8m1 0h1m3 0h4m2 0h2m1 0h2m1 0h3m2 0h8M426.5 297.7h3m1 0h1m2 0h2m1 0h2m1 0h1m3 0h1m5 0h2m2 0h3m6 0h12m1 0h1m4 0h3m1 0h2m2 0h2m1 0h4m1 0h9m2 0h7m1 0h1m4 0h4m3 0h2m1 0h1m9 0h7M428.5 298.9h3m1 0h5m1 0h1m1 0h2m2 0h2m1 0h1m1 0h2m1 0h1m3 0h1m5 0h2m1 0h2m11 0h3m4 0h5m2 0h2m4 0h3m1 0h1m1 0h2m4 0h2m1 0h1m3 0h6m2 0h2m1 0h1m5 0h5m3 0h4M427.5 300.2h2m3 0h3m2 0h3m1 0h5m1 0h2m2 0h2m1 0h2m1 0h2m2 0h4m1 0h2m1 0h1m1 0h3m1 0h1m1 0h4m2 0h4m2 0h2m5 0h3m1 0h6m1 0h1m3 0h2m1 0h9m2 0h3m4 0h1m2 0h5m1 0h2m1 0h1m1 0h1M441.5 301.4h2m1 0h3m2 0h1m2 0h2m10 0h3m6 0h2m6 0h2m1 0h7m1 0h2m1 0h2m11 0h1m16 0h1m3 0h2m7 0h2M431.5 302.6h2m2 0h1m1 0h2m1 0h2m2 0h2m1 0h5m2 0h2m5 0h2m3 0h2m7 0h3m2 0h2m1 0h3m1 0h1m5 0h2m1 0h2m4 0h2m3 0h3m10 0h1m11 0h2m3 0h2M426.5 303.8h3m3 0h4m2 0h4m10 0h1m3 0h2m1 0h13m3 0h2m1 0h2m5 0h1m1 0h1m2 0h5m5 0h2m1 0h3m2 0h2m6 0h1m1 0h1m1 0h7m1 0h2m2 0h5m2 0h2m1 0h1m1 0h3M427.5 305h3m2 0h1m3 0h1m1 0h2m1 0h2m1 0h1m2 0h1m1 0h2m1 0h7m1 0h1m2 0h2m1 0h2m2 0h4m4 0h5m2 0h4m1 0h4m1 0h1m1 0h5m2 0h2m2 0h1m1 0h2m4 0h1m1 0h4m1 0h1m1 0h4m1 0h2m3 0h3m1 0h5M443.5 306.2h3m1 0h1m2 0h1m4 0h1m1 0h2m6 0h2m1 0h2m2 0h1m1 0h2m2 0h1m5 0h4m2 0h1m8 0h1m1 0h4m5 0h2m6 0h3m6 0h2m3 0h2m4 0h2m6 0h1M426.5 307.4h2m3 0h4m1 0h6m4 0h4m1 0h2m2 0h7m5 0h1m7 0h1m2 0h1m2 0h4m2 0h1m10 0h2m2 0h2m1 0h2m1 0h2m4 0h2m4 0h1m3 0h2m5 0h1m1 0h10m1 0h3M426.5 308.7h1m2 0h1m40 0h1m11 0h1m2 0h3m6 0h1M426.5 309.9h2m1 0h2m1 0h2m2 0h1m4 0h2m2 0h2m1 0h6m2 0h2m1 0h2m1 0h2m1 0h2m1 0h3m5 0h1m1 0h5m2 0h1m1 0h2m1 0h3m2 0h2m2 0h9m1 0h3m2 0h7m1 0h2m1 0h4m2 0h6m1 0h3m1 0h5M426.5 311.1h3m1 0h1m2 0h2m2 0h8m4 0h3m1 0h4m1 0h1m1 0h3m1 0h1m1 0h4m1 0h2m1 0h3m1 0h6m1 0h9m1 0h1m1 0h2m2 0h2m1 0h13m2 0h10m1 0h7m1 0h2m2 0h5M429.5 312.3h1m8 0h1m8 0h1m5 0h2m1 0h2m6 0h2m8 0h2m5 0h1m2 0h3m1 0h3m2 0h2m1 0h1m8 0h1m3 0h2m5 0h5m20 0h1m1 0h1M427.5 313.5h2m1 0h1m1 0h4m1 0h4m2 0h2m2 0h6m1 0h2m3 0h2m1 0h2m1 0h2m3 0h3m1 0h1m3 0h1m1 0h2m1 0h3m3 0h1m1 0h1m2 0h3m2 0h2m1 0h1m3 0h6m1 0h1m1 0h2m1 0h3m3 0h4m2 0h2m1 0h2m1 0h3m1 0h7M426.5 314.7h1m1 0h1m3 0h3m4 0h1m3 0h3m1 0h1m6 0h1m5 0h3m1 0h4m3 0h4m3 0h2m1 0h2m8 0h2m5 0h3m4 0h2m1 0h6m1 0h3m1 0h9m1 0h5m1 0h4m1 0h5m1 0h1M427.5 316h5m3 0h2m5 0h2m1 0h2m1 0h2m6 0h1m3 0h1m2 0h2m2 0h1m1 0h3m1 0h2m1 0h3m4 0h1m1 0h2m1 0h1m1 0h3m1 0h3m2 0h1m1 0h1m5 0h1m2 0h1m2 0h3m1 0h2m1 0h2m4 0h1m4 0h4m3 0h1m1 0h1m3 0h1M431.5 317.2h2m6 0h1m4 0h1m1 0h2m3 0h3m1 0h1m1 0h4m6 0h1m4 0h2m2 0h1m6 0h3m2 0h1m7 0h1m1 0h2m2 0h1m3 0h2m4 0h3m2 0h1m6 0h1m7 0h2m1 0h7M433.5 318.4h2m10 0h3m2 0h1m6 0h2m13 0h1m4 0h2m6 0h1m13 0h1m15 0h1M426.5 319.6h2m1 0h5m2 0h1m2 0h5m1 0h3m1 0h4m2 0h1m1 0h2m1 0h1m1 0h4m1 0h4m3 0h5m2 0h2m1 0h1m3 0h4m6 0h1m1 0h1m1 0h1m2 0h2m3 0h3m1 0h3m5 0h3m2 0h2m1 0h1m1 0h1m1 0h1m2 0h3m5 0h2M428.5 320.8h1m1 0h1m1 0h5m2 0h2m1 0h1m3 0h7m5 0h5m2 0h5m4 0h2m3 0h1m1 0h2m1 0h3m1 0h5m4 0h2m6 0h2m4 0h2m8 0h4m3 0h1m1 0h5m5 0h2m3 0h2M431.5 322h1m2 0h1m2 0h2m3 0h1m2 0h1m2 0h2m2 0h1m1 0h2m2 0h3m17 0h2m2 0h1m2 0h1m2 0h2m3 0h1m3 0h3m3 0h3m11 0h1m4 0h3m2 0h2m2 0h2m2 0h3m3 0h1M428.5 323.3h3m1 0h4m1 0h1m1 0h2m3 0h4m1 0h2m1 0h2m1 0h2m1 0h4m1 0h7m2 0h2m1 0h1m1 0h5m1 0h2m1 0h1m2 0h6m1 0h8m1 0h2m1 0h9m1 0h4m1 0h2m1 0h6m1 0h5m1 0h2m2 0h4M428.5 324.5h2m2 0h2m1 0h1m6 0h1m2 0h2m3 0h2m7 0h2m7 0h2m1 0h2m1 0h2m1 0h3m1 0h2m5 0h1m13 0h4m2 0h1m5 0h1m9 0h1m14 0h2M426.5 325.7h1m2 0h1m3 0h3m8 0h1m3 0h1m2 0h4m2 0h1m2 0h1m2 0h1m2 0h5m3 0h5m1 0h2m1 0h3m1 0h2m3 0h2m1 0h1m3 0h2m1 0h4m3 0h1m3 0h3m10 0h1m1 0h3m6 0h2m3 0h3m1 0h1M426.5 326.9h4m1 0h1m1 0h2m1 0h1m2 0h5m1 0h1m7 0h3m2 0h1m1 0h2m2 0h3m2 0h1m1 0h4m1 0h2m2 0h5m1 0h2m1 0h5m1 0h3m1 0h2m7 0h3m3 0h2m1 0h2m4 0h3m4 0h2m1 0h2m7 0h1m1 0h1M427.5 328.1h2m1 0h2m1 0h1m1 0h1m1 0h2m2 0h3m1 0h2m4 0h1m1 0h2m2 0h2m2 0h1m1 0h2m1 0h6m1 0h2m4 0h2m1 0h5m2 0h2m3 0h3m1 0h2m5 0h8m2 0h5m3 0h3m1 0h1m1 0h2m3 0h2m1 0h1m3 0h3M426.5 329.3h4m2 0h1m3 0h2m4 0h2m4 0h1m4 0h1m4 0h1m12 0h1m9 0h2m4 0h2m3 0h2m1 0h1m2 0h1m7 0h3m10 0h1m12 0h2M427.5 330.6h1m10 0h2m1 0h2m1 0h1m1 0h4m15 0h1m2 0h3m2 0h8m1 0h1m1 0h1m1 0h2m2 0h3m1 0h4m1 0h2m3 0h2m5 0h1m1 0h2m1 0h2m4 0h4m2 0h1m2 0h2m3 0h1m1 0h1m3 0h1m3 0h1M431.5 331.8h3m1 0h13m2 0h4m2 0h2m2 0h2m2 0h5m2 0h2m1 0h2m2 0h1m1 0h1m1 0h4m1 0h2m2 0h4m1 0h8m1 0h2m3 0h2m2 0h2m5 0h1m2 0h1m1 0h2m2 0h6m3 0h3m2 0h2M427.5 333h1m2 0h3m2 0h2m3 0h1m2 0h1m2 0h4m3 0h3m6 0h4m2 0h1m3 0h3m2 0h6m1 0h3m2 0h8m2 0h1m2 0h1m1 0h2m1 0h2m2 0h3m5 0h1m1 0h2m1 0h1m2 0h1m7 0h2m7 0h1m1 0h1M436.5 334.2h2m18 0h1m5 0h1m5 0h1m3 0h1m3 0h1m9 0h7m2 0h1m4 0h2m22 0h2m10 0h1M427.5 335.4h1m1 0h3m11 0h1m4 0h4m1 0h1m1 0h2m1 0h2m1 0h2m1 0h2m4 0h1m1 0h1m1 0h3m1 0h3m3 0h3m10 0h2m1 0h7m1 0h1m6 0h1m6 0h3m2 0h1m6 0h5m2 0h1M433.5 336.6h1m3 0h3m2 0h1m5 0h1m5 0h2m3 0h2m2 0h2m1 0h2m3 0h1m4 0h1m4 0h2m4 0h2m6 0h2m5 0h2m5 0h1m4 0h1m1 0h1m4 0h1m2 0h2m1 0h1m3 0h1m1 0h1m8 0h3M431.5 337.8h3m1 0h1m12 0h3m1 0h2m12 0h1m6 0h2m5 0h1m6 0h1m1 0h3m3 0h1m6 0h4m1 0h1m2 0h2m2 0h1m8 0h1m1 0h1m3 0h3m2 0h3m3 0h2M428.5 339.1h1m5 0h1m2 0h1m1 0h5m1 0h1m1 0h7m1 0h5m1 0h2m1 0h1m1 0h2m2 0h1m2 0h7m1 0h5m1 0h1m1 0h2m1 0h2m2 0h7m1 0h1m1 0h2m1 0h2m3 0h5m1 0h1m2 0h10m2 0h1m1 0h2m1 0h5m1 0h1M426.5 340.3h2m4 0h6m1 0h4m1 0h3m1 0h1m7 0h4m2 0h2m1 0h1m1 0h1m4 0h2m3 0h2m3 0h5m2 0h4m2 0h2m1 0h2m1 0h2m2 0h2m3 0h3m1 0h1m1 0h1m1 0h3m2 0h8m2 0h2m1 0h1m2 0h3m2 0h3M428.5 341.5h1m17 0h1m12 0h1m1 0h1m6 0h2m4 0h1m4 0h1m3 0h2m2 0h3m5 0h2m18 0h1m12 0h1M430.5 342.7h1m1 0h2m1 0h2m3 0h3m2 0h3m3 0h2m4 0h3m6 0h2m1 0h8m2 0h6m2 0h2m1 0h1m4 0h1m2 0h3m3 0h2m6 0h2m1 0h2m1 0h2m1 0h1m3 0h3m3 0h1m1 0h2m1 0h3m2 0h2M475.5 343.9h1m4 0h1m28 0h2m30 0h1m2 0h1M427.5 345.1h1m4 0h1m2 0h2m6 0h1m1 0h2m6 0h2m5 0h1m2 0h6m3 0h1m1 0h2m2 0h1m2 0h9m3 0h2m5 0h1m2 0h3m3 0h2m7 0h1m2 0h1m6 0h2m3 0h1m5 0h2m3 0h3M426.5 346.4h2m2 0h1m1 0h3m2 0h2m4 0h2m1 0h4m1 0h6m2 0h2m1 0h1m5 0h2m1 0h5m1 0h2m1 0h2m2 0h2m2 0h6m1 0h2m3 0h3m1 0h3m1 0h1m1 0h3m2 0h4m1 0h1m1 0h4m2 0h2m2 0h2m1 0h3m3 0h2m1 0h2M429.5 347.6h1m7 0h1m4 0h1m8 0h3m2 0h3m2 0h1m1 0h3m4 0h1m4 0h1m1 0h2m4 0h5m3 0h1m2 0h1m1 0h1m6 0h2m6 0h2m14 0h3m2 0h1m3 0h1m2 0h2m3 0h3M426.5 348.8h2m1 0h2m1 0h8m2 0h1m2 0h5m1 0h1m4 0h1m1 0h3m2 0h1m1 0h2m2 0h2m1 0h4m2 0h4m3 0h3m2 0h1m1 0h8m1 0h2m2 0h2m2 0h7m1 0h3m1 0h1m3 0h1m1 0h2m3 0h3m2 0h2m4 0h3" stroke="#fff" stroke-width="1.2" fill="none"/>
<path d="M426.5 375.3l0-14.9 0.5-1.3 0.5 1.6 0.5-0.4 0.5-1.9 0.5 0.8 0.5 0.7 0.5-0.8 0.5-1.4 0.5 4.8 0.5-2.9 0.5 0.8 0.5-0.2 0.5-1.9 0.5-1 0.5 7.5 0.5-5.4 0.5 1.8 0.5-0.3 0.5 0.7 0.5-2.1 0.5-1.3 0.5 1.1 0.5 0.5 0.5 2.6 0.5-3.4 0.5 1.1 0.5 0.4 0.5-2 0.5-0.8 0.5-0.5 0.5 5.3 0.5 1.2 0.5-3.2 0.5-0.6 0.5 0.4 0.5-1.6 0.5-0.9 0.5 3.9 0.5-1.1 0.5-1.2 0.6 1.2 0.5-1.3 0.5 0.9 0.5 2.1 0.5-0.9 0.5-4.2 0.5 2.6 0.5 0.1 0.5 0.2 0.5-0.5 0.5-0.8 0.5 1.2 0.5-1.3 0.5 3.1 0.5 0.3 0.5-2.4 0.5 0 0.5 2.9 0.5-5.3 0.5 2.9 0.5-1.1 0.5-3.8 0.5 4.5 0.5 2.5 0.5-3.3 0.5 2.9 0.5-3.6 0.5 0.9 0.5 1.6 0.5 0.3 0.5-2.1 0.5 3.5 0.5-1.8 0.5 0.3 0.5-2.2 0.5 2.1 0.5 0.7 0.5 0.8 0.5-0.9 0.5-0.4 0.5-1 0.5-1 0.5 2 0.5 2.9 0.5-4.4 0.5 1.5 0.5-0.8 0.5 0 0.5 1.6 0.5-1.6 0.5 0.5 0.5 2.4 0.5-2.5 0.5 0.3 0.5 3.8 0.5-3.7 0.5 3.1 0.5-0.1 0.5 0.6 0.5-1.3 0.5 1.7 0.5 0.6 0.5 0.4 0.5 1.6 0.5 0.1 0.5 1 0.5-1 0.5 0.9 0.5 0.4 0.5 1.2 0.5-0.8 0.5 1.9 0.5-0.8 0.5 0.9 0.5 1 0.5-0.4 0.5 0.8 0.5-0.2 0.5 0.4 0.5-0.2 0.5 0.1 0.6 0.2 0.5 0.3 0.5-0.7 0.5-0.3 0.5 0.2 0.5-1.2 0.5-0.3 0.5-0.4 0.5-0.3 0.5-0.2 0.5-0.7 0.5-0.6 0.5 0.1 0.5-0.6 0.5-0.7 0.5-1.3 0.5-0.4 0.5 0.9 0.5 1.2 0.5-1.7 0.5-3.2 0.5 1 0.5 1.6 0.5-1.4 0.5-3.4 0.5 0 0.5 0.6 0.5 0 0.5 2.3 0.5 0.4 0.5 2.2 0.5-6.4 0.5-1.6 0.5 2.4 0.5 2.7 0.5-4.6 0.5 2.5 0.5-4.3 0.5 4.1 0.5-2.9 0.5 1.9 0.5 0.5 0.5-2.3 0.5 0.1 0.5 3.3 0.5 0.9 0.5-2.4 0.5 2.1 0.5-3.1 0.5 0.3 0.5 1.7 0.5 0.7 0.5 0 0.5-3.4 0.5-1.5 0.5 1 0.5 4.8 0.5-1 0.5 1.6 0.5-3.6 0.5-0.7 0.5 2.5 0.5-1.2 0.5 0 0.5 0.8 0.5-4 0.5 3.6 0.5-2.5 0.5 2.5 0.5-1.5 0.5-0.4 0.5 2.4 0.5-1.2 0.5 2.4 0.5-0.5 0.5-4.8 0.5 1 0.5 2.1 0.5 2.8 0.5-4.2 0.6-0.1 0.5 4 0.5-0.5 0.5-0.5 0.5-0.6 0.5 0.1 0.5-1.6 0.5 2.8 0.5-2.2 0.5-1 0.5 0.8 0.5 1 0.5-2.1 0.5 0.1 0.5 1.1 0.5 0.5 0.5 1.7 0.5 0.3 0.5-2.4 0.5-0.6 0.5 1.4 0.5-0.7 0.5 0.7 0.5-3.7 0.5 1 0.5 4.5 0.5-4.1 0.5-2.3 0.5 2.4 0.5 0.8 0.5 1.2 0.5-0.4 0.5-2.6 0.5 4 0.5-1.6 0.5 0.1 0.5 3.4 0.5-5.3 0.5 2.9 0.5 0.4 0.5-2.2 0 15.4z" fill="#2ea3c4"/>
<path d="M426.5 198.4L426.5 257.9" stroke="#4a4a4a" stroke-width="1.1"/>
<path d="M426.5 213.3L428.1 213.3" stroke="#444" stroke-width="0.5"/>
<path d="M426.5 228.1L428.1 228.1" stroke="#444" stroke-width="0.5"/>
<path d="M426.5 243L428.1 243" stroke="#444" stroke-width="0.5"/>
<path d="M426.5 260.3L426.5 284.2" stroke="#4a4a4a" stroke-width="1.1"/>
<path d="M426.5 272.2L428.1 272.2" stroke="#444" stroke-width="0.5"/>
<path d="M426.5 288.6L426.5 349.4" stroke="#4a4a4a" stroke-width="1.1"/>
<path d="M426.5 303.8L428.1 303.8" stroke="#444" stroke-width="0.5"/>
<path d="M426.5 319L428.1 319" stroke="#444" stroke-width="0.5"/>
<path d="M426.5 334.2L428.1 334.2" stroke="#444" stroke-width="0.5"/>
<path d="M426.5 351.2L426.5 375.3" stroke="#4a4a4a" stroke-width="1.1"/>
<path d="M426.5 363.2L428.1 363.2" stroke="#444" stroke-width="0.5"/>
<path d="M426.5 257.9L547.8 257.9" stroke="#555" stroke-width="1.0"/>
<path d="M426.5 284.2L547.8 284.2" stroke="#333" stroke-width="1.0"/>
<path d="M426.5 349.4L547.8 349.4" stroke="#555" stroke-width="1.0"/>
<path d="M426.5 375.3L547.8 375.3" stroke="#333" stroke-width="1.0"/>
<path d="M446.7 257.9L446.7 259.4" stroke="#333" stroke-width="0.6"/>
<path d="M446.7 284.2L446.7 285.7" stroke="#333" stroke-width="0.6"/>
<path d="M446.7 349.4L446.7 350.9" stroke="#333" stroke-width="0.6"/>
<path d="M446.7 375.3L446.7 376.8" stroke="#333" stroke-width="0.6"/>
<path d="M466.9 257.9L466.9 259.4" stroke="#333" stroke-width="0.6"/>
<path d="M466.9 284.2L466.9 285.7" stroke="#333" stroke-width="0.6"/>
<path d="M466.9 349.4L466.9 350.9" stroke="#333" stroke-width="0.6"/>
<path d="M466.9 375.3L466.9 376.8" stroke="#333" stroke-width="0.6"/>
<path d="M487.1 257.9L487.1 259.4" stroke="#333" stroke-width="0.6"/>
<path d="M487.1 284.2L487.1 285.7" stroke="#333" stroke-width="0.6"/>
<path d="M487.1 349.4L487.1 350.9" stroke="#333" stroke-width="0.6"/>
<path d="M487.1 375.3L487.1 376.8" stroke="#333" stroke-width="0.6"/>
<path d="M507.3 257.9L507.3 259.4" stroke="#333" stroke-width="0.6"/>
<path d="M507.3 284.2L507.3 285.7" stroke="#333" stroke-width="0.6"/>
<path d="M507.3 349.4L507.3 350.9" stroke="#333" stroke-width="0.6"/>
<path d="M507.3 375.3L507.3 376.8" stroke="#333" stroke-width="0.6"/>
<path d="M527.5 257.9L527.5 259.4" stroke="#333" stroke-width="0.6"/>
<path d="M527.5 284.2L527.5 285.7" stroke="#333" stroke-width="0.6"/>
<path d="M527.5 349.4L527.5 350.9" stroke="#333" stroke-width="0.6"/>
<path d="M527.5 375.3L527.5 376.8" stroke="#333" stroke-width="0.6"/>
<path d="M487.1 194L487.1 375.3" stroke="#3aa845" stroke-width="1.1"/>
<text x="544" y="272" font-size="9.6" text-anchor="end" fill="#1a1a1a" font-style="italic">14.2</text>
<text x="544" y="361.6" font-size="9.6" text-anchor="end" fill="#1a1a1a" font-style="italic">14.6</text>
<text x="441.2" y="387.9" font-size="12.5">-2</text>
<text x="483.7" y="387.9" font-size="12.5">0</text>
<text x="524.1" y="387.9" font-size="12.5">2</text>
<text x="464.3" y="400.3" font-size="13.2">Time (s)</text>
<text x="556.1" y="196.5" font-size="9.1">r = 0.3051</text>
<path d="M616.8 188L621.8 188L619.3 194z" fill="#3aa845"/>
<path d="M571.7 200.2h2m41 0h1m20 0h1m1 0h1m15 0h1m9 0h2m4 0h1M571.7 201.4h1m14 0h1m4 0h3m5 0h1M574.7 202.6h1m22 0h1m12 0h1m7 0h1m9 0h1m1 0h1m3 0h1m22 0h1m7 0h1m10 0h1M569.7 203.8h1m2 0h1m12 0h1m3 0h1m18 0h1m27 0h1m16 0h1M560.7 204.9h1m8 0h1m26 0h1m7 0h2m25 0h1m5 0h1m10 0h1M628.7 206.1h1m4 0h1m3 0h1m1 0h1m1 0h1m6 0h1M573.7 207.3h1m33 0h1M652.7 208.5h1M571.7 209.7h1m12 0h1m13 0h1m16 0h1m8 0h1m13 0h1m23 0h1M571.7 210.9h1m15 0h1m1 0h1m22 0h1m24 0h1m7 0h1m27 0h1m4 0h1M571.7 212.1h1m56 0h1M638.7 213.3h1m18 0h1m15 0h1M588.7 214.5h2m58 0h1m3 0h1m9 0h1m1 0h1M571.7 215.7h1m78 0h1m6 0h1M566.7 216.8h1M565.7 218h1m12 0h2m2 0h1m5 0h1m2 0h1m74 0h1M571.7 219.2h1m12 0h1m56 0h1m3 0h1M565.7 220.4h1m12 0h1m13 0h1m4 0h1m4 0h1m6 0h1m19 0h1m45 0h1M564.7 221.6h1m87 0h1m7 0h1M559.7 222.8h1m14 0h1m2 0h1m2 0h1m12 0h1m3 0h1m4 0h1M571.7 224h1m8 0h1m39 0h1M560.7 225.2h1m17 0h1m48 0h1m12 0h1M568.7 226.4h1m45 0h1m6 0h1m10 0h1m29 0h1m7 0h1M572.7 227.6h1m27 0h1m4 0h1M603.7 228.7h1m33 0h1m38 0h1M572.7 229.9h1m7 0h1m30 0h1M563.7 231.1h1m2 0h1m18 0h1m8 0h1m44 0h1m11 0h1m11 0h2m2 0h1m9 0h1M610.7 232.3h1m4 0h1m10 0h1m36 0h1m6 0h1M564.7 233.5h1m7 0h1m22 0h1m8 0h1m9 0h1m33 0h1M583.7 234.7h1m5 0h1m18 0h1m7 0h1m4 0h1m26 0h1m23 0h1m2 0h1M579.7 235.9h1m5 0h1m5 0h1m36 0h1m32 0h1m10 0h1m1 0h1M564.7 237.1h1m5 0h2m34 0h1m3 0h1m3 0h1m14 0h1m9 0h1m13 0h1M572.7 238.3h1m1 0h1m12 0h1m7 0h1m5 0h1M559.7 239.5h1m3 0h1m4 0h1m4 0h1m10 0h1m1 0h1m15 0h1m29 0h1m17 0h2m7 0h1m8 0h1M566.7 240.6h1m39 0h1m38 0h1m5 0h1m6 0h1m15 0h1m2 0h1M560.7 241.8h1m3 0h1m4 0h1m4 0h1m2 0h1m8 0h1m1 0h1m58 0h1m8 0h1m7 0h1M582.7 243h1m16 0h1m38 0h1M559.7 244.2h1m2 0h1m21 0h1m14 0h1m59 0h1m6 0h1M588.7 245.4h1m1 0h1m44 0h1m8 0h1m17 0h1m8 0h1m4 0h1M581.7 246.6h1m83 0h1m10 0h1M562.7 247.8h1m1 0h1m8 0h1m12 0h1m17 0h1m57 0h1M558.7 249h1m5 0h1m57 0h1m30 0h1m23 0h1M592.7 250.2h1m9 0h1m13 0h1m3 0h1m6 0h1m25 0h1m17 0h1M572.7 251.4h1m22 0h1m6 0h1M585.7 252.5h1m10 0h1m11 0h1m24 0h2m15 0h1m1 0h1m22 0h1M568.7 253.7h1m10 0h1m70 0h1m16 0h1M571.7 254.9h1m30 0h1m33 0h1m1 0h1m1 0h1m2 0h1M597.7 256.1h1m13 0h1m10 0h1m37 0h1M572.7 257.3h1m12 0h1m17 0h1m53 0h1" stroke="#f8ab74" stroke-width="1" fill="none"/>
<path d="M558.7 284.2l0-9.8 0.5-1.3 0.5 8.3 0.5 2.1 0.5 0.6 0.5-5.6 0.5 5 0.5-3.4 0.5 3.4 0.5-13 0.5 0.1 0.5 13.6 0.5-1.7 0.5 1.1 0.5-11.1 0.5 11 0.5-11.5 0.5 2.7 0.5 1 0.5 7.8 0.5 0.7 0.5 0 0.5-0.1 0.5-4.5 0.5 3.9 0.5 0 0.5-1.5 0.5 1.5 0.5-1 0.5 1 0.5 0 0.5 0.4 0.5-0.4 0.5-5.3 0.5 0.5 0.5 0.5 0.5 4.3 0.5-6.2 0.5-1.6 0.5 3.3 0.5 3.8 0.6-2.2 0.5 1.7 0.5-8.4 0.5-1.4 0.5 11 0.5-1.2 0.5 1.7 0.5-7.4 0.5 5.6 0.5 2 0.5-0.7 0.5 0.5 0.5 0 0.5-4.1 0.5-7.1 0.5 5.1 0.5 1 0.5 4.6 0.5-15.4 0.5 12 0.5-4.9 0.5 8.3 0.5 0.5 0.5-0.5 0.5-11.2 0.5 11.2 0.5-0.5 0.5 0.5 0.5 0 0.5-6.2 0.5 6.2 0.5 0.7 0.5-6.9 0.5-2.1 0.5 8.3 0.5 0 0.5 0.7 0.5-0.7 0.5 0.3 0.5 0.4 0.5-15.2 0.5 7.7 0.5 7.4 0.5-0.6 0.5-12.2 0.5 12.2 0.5-0.5 0.5 0.5 0.5-1.3 0.5 1.8 0.5-0.5 0.5 0.4 0.5 0.2 0.5-0.6 0.5-0.1 0.5-6.2 0.5 6.3 0.5-3.4 0.5 0.2 0.5 3.2 0.5-10.8 0.5 10.8 0.5 0 0.5-11.1 0.5-4.5 0.5 15.6 0.5-0.4 0.5-0.8 0.5-1.8 0.5 3.7 0.5-0.4 0.5-8.9 0.5 1 0.5-7.2 0.5 15.5 0.5-3.2 0.5 1 0.5 2.1 0.5 0.1 0.5-2.1 0.5 1.3 0.6 0.7 0.5-0.1 0.5 0.2 0.5-0.1 0.5 0 0.5-2.7 0.5 2.1 0.5-9.7 0.5 9.7 0.5 0 0.5 0 0.5 0.6 0.5-1.3 0.5-0.7 0.5-2.3 0.5 4.4 0.5-3.7 0.5 3 0.5 0 0.5-11.6 0.5 11.6 0.5 0 0.5 0.3 0.5-0.6 0.5 1 0.5-0.7 0.5 0 0.5-5.4 0.5 1.5 0.5 3.9 0.5-7.5 0.5 6.4 0.5-0.5 0.5 1.6 0.5 0 0.5 0.2 0.5 0.5 0.5-10.7 0.5 10 0.5 0.6 0.5-1.8 0.5-5.9 0.5 7.1 0.5-13.9 0.5 14.5 0.5-0.6 0.5 0 0.5 0 0.5 0 0.5-0.8 0.5-4 0.5-8.5 0.5 8.6 0.5 4.7 0.5-6.3 0.5 4 0.5 2.7 0.5-0.4 0.5 0 0.5-6.8 0.5-5.7 0.5 11.9 0.5-7.4 0.5 7.2 0.5-4.4 0.5 3.8 0.5 1.4 0.5 0 0.5-2.2 0.5-6.4 0.5-2.9 0.5 11.5 0.5 0.7 0.5-9.3 0.5 7.7 0.5 0.1 0.5 0.8 0.5 0.7 0.5-0.7 0.5-13 0.6 13 0.5-14.8 0.5-0.3 0.5 4.1 0.5 9.1 0.5-5.5 0.5 7.4 0.5 0.4 0.5-5.1 0.5 0 0.5 5.4 0.5-8.9 0.5 8.2 0.5-12.5 0.5 13.2 0.5-0.7 0.5-9 0.5 9 0.5-8.2 0.5 8.5 0.5-2.2 0.5-7.1 0.5-2.7 0.5 1.3 0.5 9.7 0.5 0.7 0.5-13.7 0.5 8.5 0.5 5.2 0.5 0 0.5 0 0.5-2.4 0.5-3 0.5 4.7 0.5 0.7 0.5 0 0.5 0 0.5-14.2 0.5 14.4 0.5-10.6 0.5 11.1 0 0z" fill="#f79243"/>
<path d="M561.7 289.2h1m19 0h1m47 0h1m4 0h1M582.7 290.4h1m6 0h1m24 0h1m5 0h1M650.7 291.6h2M592.7 294.1h1m17 0h1m2 0h1m7 0h1m5 0h1m19 0h1m16 0h1m2 0h2m8 0h1M592.7 295.3h1m24 0h1m1 0h1m14 0h1M603.7 296.5h1m24 0h1m10 0h1m30 0h1M590.7 297.7h1m26 0h1m1 0h2m16 0h1m2 0h1M619.7 298.9h1m12 0h1m21 0h1m3 0h1M562.7 300.2h1m23 0h1m56 0h1M561.7 301.4h1m10 0h1m4 0h1m9 0h1m9 0h1M587.7 302.6h1m23 0h1m10 0h1m12 0h1m38 0h1M568.7 303.8h1m10 0h1m34 0h1m5 0h1m39 0h1m6 0h1M563.7 305h1m48 0h2M571.7 306.2h1m41 0h1m1 0h1m12 0h1m13 0h1M569.7 307.4h1m8 0h1m49 0h1m6 0h1m12 0h1m24 0h1M561.7 308.7h1m24 0h1m20 0h1m59 0h1M569.7 309.9h1m24 0h1m17 0h1m2 0h1m15 0h1M586.7 311.1h1m7 0h1m29 0h1m9 0h1M564.7 312.3h1m11 0h1m3 0h1m25 0h1m31 0h1M676.7 313.5h1M577.7 314.7h1m75 0h1m10 0h1M568.7 316h1m24 0h1m44 0h1m1 0h1m2 0h1m32 0h1M567.7 317.2h1m51 0h1m33 0h1m6 0h1M561.7 318.4h1m18 0h1m35 0h1m24 0h1m35 0h1M577.7 319.6h1m6 0h1m20 0h1m14 0h1m24 0h1m28 0h1M583.7 320.8h1m22 0h1m3 0h1m19 0h1m2 0h1m32 0h1M570.7 322h1m27 0h1m45 0h1m1 0h1m16 0h1M563.7 323.3h1M564.7 325.7h1m22 0h1m9 0h1m3 0h1m61 0h1m14 0h1M616.7 326.9h1m3 0h1m48 0h1M620.7 328.1h1m2 0h1m43 0h1M565.7 329.3h1m24 0h1m24 0h1m52 0h1M598.7 330.6h1m14 0h1M570.7 331.8h1M563.7 333h1m47 0h1m10 0h1M568.7 334.2h1m12 0h1m18 0h1m3 0h1m33 0h1m14 0h1M580.7 335.4h1m84 0h1M599.7 336.6h1m11 0h1m17 0h1m48 0h1M608.7 337.8h1m9 0h1m6 0h1m8 0h1m21 0h1m8 0h2m3 0h1m5 0h1M568.7 339.1h1m64 0h1m12 0h1M610.7 340.3h1m8 0h1m12 0h1m23 0h1m8 0h1M575.7 341.5h1m16 0h1m5 0h1m22 0h1m18 0h1m24 0h1m3 0h1M581.7 342.7h1m5 0h1m3 0h1m1 0h1m23 0h2m41 0h1m16 0h1M575.7 343.9h1m22 0h1m19 0h1m9 0h1m5 0h1m10 0h1m5 0h1m5 0h1M605.7 345.1h1m20 0h1m22 0h1M577.7 346.4h2m18 0h1m11 0h1m34 0h1m3 0h1m21 0h1M631.7 347.6h1m1 0h1M607.7 348.8h1m11 0h1m23 0h1m4 0h1m8 0h1" stroke="#62bdd8" stroke-width="1" fill="none"/>
<path d="M558.7 375.3l0-5.2 0.5 4.7 0.5-2.9 0.5 2.9 0.5 0 0.5 0 0.5-5.1 0.5 5.1 0.5 0.5 0.5-6.3 0.5 5.8 0.5 0 0.5-2.9 0.5 2.5 0.5 0.7 0.5-2 0.5-1.4 0.5 3 0.5-4.9 0.5 4.3 0.5 0.7 0.5-0.8 0.5-2 0.5-1.7 0.5 3.7 0.5 0.8 0.5 0.5 0.5-0.4 0.5-0.1 0.5 0.1 0.5 0.4 0.5-3.5 0.5 2.7 0.5 0.3 0.5 0 0.5-2 0.5-0.3 0.5-1.4 0.5 3.7 0.5 0 0.5 0.5 0.6-0.5 0.5 0 0.5 0 0.5 0 0.5 0 0.5 0 0.5-5 0.5 5.4 0.5-4.8 0.5 4.4 0.5-4.2 0.5 4.2 0.5 0 0.5 0 0.5-4.4 0.5 3.3 0.5 1.1 0.5 0.5 0.5-0.1 0.5-0.9 0.5 1 0.5-0.5 0.5-3.7 0.5 3.9 0.5-0.2 0.5-1.8 0.5 0.4 0.5-0.6 0.5 2.4 0.5-3.8 0.5 3.4 0.5 0 0.5-4.7 0.5 4 0.5-0.5 0.5 1.2 0.5-6.3 0.5 6 0.5 0.6 0.5 0.2 0.5-1 0.5 0.4 0.5-1.7 0.5 0.5 0.5 1.3 0.5-2.7 0.5 2.7 0.5 0 0.5 0 0.5-0.6 0.5-0.4 0.5 1 0.5-3.8 0.5 3.2 0.5 1 0.5-0.2 0.5-2.3 0.5 1.8 0.5 0.3 0.5 0.5 0.5-0.3 0.5 0.3 0.5-0.5 0.5 0.5 0.5-0.2 0.5-0.3 0.5 0 0.5 0 0.5-3.9 0.5 3 0.5 1.2 0.5-0.3 0.5-4.8 0.5 5.3 0.5-3.1 0.5 2.6 0.5 0 0.5 0 0.5-0.1 0.5-2 0.5-0.7 0.6-5.5 0.5-7.9 0.5-5.3 0.5 2.2 0.5 7.9 0.5 1.9 0.5 7 0.5 2.2 0.5-1 0.5-3.9 0.5 5.6 0.5-0.9 0.5 0.5 0.5-4.2 0.5 3.4 0.5 1.2 0.5-3.4 0.5 3 0.5 0 0.5 0 0.5 0 0.5 0.5 0.5-0.5 0.5 0 0.5-5.9 0.5 5.9 0.5 0.2 0.5-0.2 0.5 0 0.5 0.2 0.5-0.5 0.5 0.3 0.5-0.5 0.5 1 0.5-2.1 0.5 1.6 0.5 0 0.5 0.5 0.5-2.2 0.5 2.1 0.5-0.4 0.5-0.3 0.5 0.3 0.5 0 0.5-1.6 0.5 1.6 0.5 0 0.5 0 0.5-1.7 0.5 1.7 0.5 0 0.5 0 0.5 0 0.5 0 0.5 0.5 0.5-4.3 0.5 0.1 0.5 0.9 0.5 2.8 0.5 0 0.5-2.6 0.5 2.6 0.5 0.1 0.5-0.1 0.5 0 0.5 0 0.5 0.1 0.5 0.4 0.5-4.6 0.5 4.1 0.5-1 0.5 1 0.5-0.3 0.5 0.8 0.5-4.5 0.5 3.4 0.5-1.9 0.5-0.4 0.5 3.1 0.5-0.2 0.6-1.2 0.5 1.2 0.5-4.7 0.5 4.7 0.5 0 0.5 0 0.5 0 0.5-1.8 0.5 1.8 0.5 0.2 0.5 0.1 0.5-0.3 0.5-3.9 0.5 0.8 0.5 3.6 0.5-3.1 0.5 2.9 0.5 0.2 0.5-0.3 0.5-6.6 0.5 6.4 0.5 0.2 0.5-0.8 0.5 0.2 0.5 0.4 0.5 0 0.5-4.1 0.5 4.1 0.5 0.5 0.5-2 0.5 1.5 0.5 0.4 0.5-5.1 0.5 5.2 0.5-0.5 0.5 0.4 0.5 0 0.5-0.4 0.5 0 0.5 0.3 0.5-0.3 0 0.5z" fill="#2ea3c4"/>
<path d="M558.7 198.4L558.7 257.9" stroke="#4a4a4a" stroke-width="1.1"/>
<path d="M558.7 213.3L560.3 213.3" stroke="#444" stroke-width="0.5"/>
<path d="M558.7 228.1L560.3 228.1" stroke="#444" stroke-width="0.5"/>
<path d="M558.7 243L560.3 243" stroke="#444" stroke-width="0.5"/>
<path d="M558.7 260.3L558.7 284.2" stroke="#4a4a4a" stroke-width="1.1"/>
<path d="M558.7 272.2L560.3 272.2" stroke="#444" stroke-width="0.5"/>
<path d="M558.7 288.6L558.7 349.4" stroke="#4a4a4a" stroke-width="1.1"/>
<path d="M558.7 303.8L560.3 303.8" stroke="#444" stroke-width="0.5"/>
<path d="M558.7 319L560.3 319" stroke="#444" stroke-width="0.5"/>
<path d="M558.7 334.2L560.3 334.2" stroke="#444" stroke-width="0.5"/>
<path d="M558.7 351.2L558.7 375.3" stroke="#4a4a4a" stroke-width="1.1"/>
<path d="M558.7 363.2L560.3 363.2" stroke="#444" stroke-width="0.5"/>
<path d="M558.7 257.9L680 257.9" stroke="#555" stroke-width="1.0"/>
<path d="M558.7 284.2L680 284.2" stroke="#333" stroke-width="1.0"/>
<path d="M558.7 349.4L680 349.4" stroke="#555" stroke-width="1.0"/>
<path d="M558.7 375.3L680 375.3" stroke="#333" stroke-width="1.0"/>
<path d="M578.9 257.9L578.9 259.4" stroke="#333" stroke-width="0.6"/>
<path d="M578.9 284.2L578.9 285.7" stroke="#333" stroke-width="0.6"/>
<path d="M578.9 349.4L578.9 350.9" stroke="#333" stroke-width="0.6"/>
<path d="M578.9 375.3L578.9 376.8" stroke="#333" stroke-width="0.6"/>
<path d="M599.1 257.9L599.1 259.4" stroke="#333" stroke-width="0.6"/>
<path d="M599.1 284.2L599.1 285.7" stroke="#333" stroke-width="0.6"/>
<path d="M599.1 349.4L599.1 350.9" stroke="#333" stroke-width="0.6"/>
<path d="M599.1 375.3L599.1 376.8" stroke="#333" stroke-width="0.6"/>
<path d="M619.3 257.9L619.3 259.4" stroke="#333" stroke-width="0.6"/>
<path d="M619.3 284.2L619.3 285.7" stroke="#333" stroke-width="0.6"/>
<path d="M619.3 349.4L619.3 350.9" stroke="#333" stroke-width="0.6"/>
<path d="M619.3 375.3L619.3 376.8" stroke="#333" stroke-width="0.6"/>
<path d="M639.5 257.9L639.5 259.4" stroke="#333" stroke-width="0.6"/>
<path d="M639.5 284.2L639.5 285.7" stroke="#333" stroke-width="0.6"/>
<path d="M639.5 349.4L639.5 350.9" stroke="#333" stroke-width="0.6"/>
<path d="M639.5 375.3L639.5 376.8" stroke="#333" stroke-width="0.6"/>
<path d="M659.7 257.9L659.7 259.4" stroke="#333" stroke-width="0.6"/>
<path d="M659.7 284.2L659.7 285.7" stroke="#333" stroke-width="0.6"/>
<path d="M659.7 349.4L659.7 350.9" stroke="#333" stroke-width="0.6"/>
<path d="M659.7 375.3L659.7 376.8" stroke="#333" stroke-width="0.6"/>
<path d="M619.3 194L619.3 375.3" stroke="#3aa845" stroke-width="1.1"/>
<text x="676.2" y="272" font-size="9.6" text-anchor="end" fill="#1a1a1a" font-style="italic">6.3</text>
<text x="676.2" y="361.6" font-size="9.6" text-anchor="end" fill="#1a1a1a" font-style="italic">11.5</text>
<text x="573.4" y="387.9" font-size="12.5">-2</text>
<text x="615.9" y="387.9" font-size="12.5">0</text>
<text x="656.3" y="387.9" font-size="12.5">2</text>
<text x="596.5" y="400.3" font-size="13.2">Time (s)</text>
<text x="8.6" y="274.9" font-size="12" fill="#f7853b" transform="rotate(-90 8.6 274.9)">200 ms mov.</text>
<text x="22.8" y="244.2" font-size="13.2" transform="rotate(-90 22.8 244.2)">Trials</text>
<text x="22.8" y="286.1" font-size="13.2" transform="rotate(-90 22.8 286.1)">F. rate</text>
<text x="8.7" y="365.2" font-size="12" fill="#3aafd4" transform="rotate(-90 8.7 365.2)">500 ms mov.</text>
<text x="23.2" y="334.7" font-size="13.2" transform="rotate(-90 23.2 334.7)">Trials</text>
<text x="23.2" y="375.5" font-size="13.2" transform="rotate(-90 23.2 375.5)">F. rate</text>
<text x="-0.6" y="424.8" font-size="17">d</text>
<text x="27.1" y="425.5" font-size="12.1" fill="#f7853b">200 ms mov.</text>
<text x="194.2" y="425.5" font-size="12.1" fill="#3aafd4">500 ms mov.</text>
<text x="4.8" y="434.9" font-size="8.5">x100</text>
<defs><filter id="h1" x="0" y="0" width="1" height="1" color-interpolation-filters="sRGB"><feTurbulence type="fractalNoise" baseFrequency="0.22 2.2" numOctaves="3" seed="21" result="n"/><feColorMatrix in="n" type="matrix" values="1 0 0 0 0 1 0 0 0 0 1 0 0 0 0 0 0 0 0 1" result="g"/><feComposite in="SourceGraphic" in2="g" operator="arithmetic" k1="0" k2="1" k3="1.450" k4="-0.725" result="c"/><feComponentTransfer in="c"><feFuncR type="table" tableValues="0.267 0.282 0.278 0.255 0.224 0.192 0.165 0.137 0.122 0.133 0.208 0.329 0.478 0.647 0.824 0.992"/><feFuncG type="table" tableValues="0.004 0.102 0.184 0.267 0.337 0.408 0.471 0.537 0.604 0.659 0.718 0.773 0.820 0.859 0.886 0.906"/><feFuncB type="table" tableValues="0.329 0.424 0.490 0.529 0.549 0.557 0.557 0.557 0.541 0.518 0.475 0.408 0.318 0.212 0.106 0.145"/><feFuncA type="linear" slope="0" intercept="1"/></feComponentTransfer></filter></defs>
<g filter="url(#h1)">
<rect x="29" y="437" width="163.6" height="115" fill="#505050"/>
<path d="M92.8 437.5h12M94.8 438.5h8M88.9 439.5h20M88.9 440.5h20M90.8 441.5h16M92.8 443.5h12M90.8 444.5h18M136.7 500.5h55.9M134.7 525.5h57.9" stroke="#050505" fill="none"/>
<path d="M90.8 437.5h2M104.8 437.5h2M92.8 438.5h2M102.8 438.5h2M86.9 439.5h2M108.8 439.5h2M86.9 440.5h2M108.8 440.5h2M94.8 442.5h8M90.8 443.5h2M104.8 443.5h2M88.9 444.5h2M108.8 444.5h2M92.8 445.5h12M29 500.5h59.9M130.8 500.5h6M126.8 525.5h8M128.8 548.5h63.8" stroke="#101010" fill="none"/>
<path d="M88.9 437.5h2M90.8 438.5h2M104.8 438.5h2M84.9 439.5h2M110.8 439.5h2M84.9 440.5h2M110.8 440.5h2M88.9 441.5h2M106.8 441.5h2M92.8 442.5h2M102.8 442.5h2M88.9 443.5h2M106.8 443.5h2M84.9 444.5h4M110.8 444.5h2M88.9 445.5h4M104.8 445.5h4M88.9 500.5h6M126.8 500.5h4M142.7 503.5h49.9M136.7 522.5h55.9M132.7 524.5h59.9M29 525.5h47.9M124.8 525.5h2M132.7 538.5h59.9M122.8 548.5h6M128.8 550.5h63.8" stroke="#1b1b1b" fill="none"/>
<path d="M86.9 437.5h2M106.8 437.5h2M88.9 438.5h2M106.8 438.5h2M82.9 439.5h2M112.8 439.5h2M80.9 440.5h4M112.8 440.5h2M86.9 441.5h2M108.8 441.5h2M90.8 442.5h2M104.8 442.5h2M86.9 443.5h2M108.8 443.5h2M82.9 444.5h2M112.8 444.5h2M86.9 445.5h2M108.8 445.5h4M86.9 482.5h14M140.7 482.5h51.9M144.7 483.5h47.9M94.8 500.5h4M122.8 500.5h4M140.7 501.5h51.9M132.7 503.5h10M134.7 507.5h57.9M132.7 511.5h59.9M134.7 520.5h57.9M128.8 522.5h8M126.8 524.5h6M76.9 525.5h8M120.8 525.5h4M132.7 530.5h59.9M124.8 538.5h8M132.7 543.5h59.9M120.8 548.5h2M122.8 550.5h6" stroke="#252525" fill="none"/>
<path d="M108.8 437.5h2M86.9 438.5h2M78.9 439.5h4M114.8 439.5h2M76.9 440.5h4M114.8 440.5h2M84.9 441.5h2M110.8 441.5h2M88.9 442.5h2M106.8 442.5h2M84.9 443.5h2M110.8 443.5h2M74.9 444.5h8M114.8 444.5h2M82.9 445.5h4M112.8 445.5h2M90.8 446.5h18M98.8 458.5h8M166.7 458.5h25.9M88.9 469.5h18M146.7 469.5h45.9M29 482.5h57.9M100.8 482.5h4M134.7 482.5h6M29 483.5h73.8M136.7 483.5h8M146.7 484.5h45.9M152.7 488.5h39.9M138.7 490.5h53.9M140.7 491.5h51.9M138.7 493.5h53.9M140.7 499.5h51.9M98.8 500.5h4M120.8 500.5h2M132.7 501.5h8M29 503.5h59.9M128.8 503.5h4M140.7 504.5h51.9M29 507.5h49.9M128.8 507.5h6M138.7 508.5h53.9M29 511.5h47.9M128.8 511.5h4M132.7 513.5h59.9M128.8 520.5h6M130.8 521.5h61.8M29 522.5h47.9M124.8 522.5h4M29 524.5h49.9M124.8 524.5h2M84.9 525.5h4M118.8 525.5h2M130.8 528.5h61.8M126.8 530.5h6M126.8 531.5h65.8M126.8 534.5h65.8M122.8 538.5h2M126.8 540.5h65.8M130.8 541.5h61.8M124.8 543.5h8M29 548.5h51.9M118.8 548.5h2M128.8 549.5h63.8M120.8 550.5h2M126.8 551.5h65.8" stroke="#303030" fill="none"/>
<path d="M84.9 437.5h2M110.8 437.5h2M108.8 438.5h2M29 439.5h49.9M116.8 439.5h2M172.6 439.5h20M29 440.5h47.9M116.8 440.5h2M166.7 440.5h25.9M82.9 441.5h2M112.8 441.5h2M86.9 442.5h2M108.8 442.5h2M82.9 443.5h2M112.8 443.5h2M29 444.5h45.9M116.8 444.5h2M156.7 444.5h35.9M29 445.5h53.9M114.8 445.5h2M166.7 445.5h25.9M86.9 446.5h4M108.8 446.5h4M29 452.5h49.9M96.8 452.5h14M158.7 452.5h33.9M29 458.5h69.8M106.8 458.5h4M148.7 458.5h18M96.8 461.5h10M158.7 461.5h33.9M98.8 464.5h6M29 469.5h59.9M106.8 469.5h4M140.7 469.5h6M88.9 471.5h18M146.7 471.5h45.9M88.9 476.5h16M144.7 476.5h47.9M29 478.5h39.9M82.9 478.5h21.9M142.7 478.5h49.9M90.8 480.5h10M144.7 480.5h47.9M104.8 482.5h4M130.8 482.5h4M102.8 483.5h4M132.7 483.5h4M29 484.5h71.8M136.7 484.5h10M86.9 488.5h10M138.7 488.5h14M29 490.5h69.8M132.7 490.5h6M29 491.5h67.8M134.7 491.5h6M29 493.5h67.8M132.7 493.5h6M144.7 496.5h47.9M146.7 498.5h45.9M132.7 499.5h8M102.8 500.5h4M114.8 500.5h6M29 501.5h63.8M128.8 501.5h4M140.7 502.5h51.9M88.9 503.5h6M124.8 503.5h4M132.7 504.5h8M78.9 507.5h10M126.8 507.5h2M130.8 508.5h8M148.7 509.5h43.9M76.9 511.5h10M124.8 511.5h4M29 513.5h47.9M126.8 513.5h6M132.7 515.5h59.9M134.7 519.5h57.9M29 520.5h51.9M124.8 520.5h4M126.8 521.5h4M76.9 522.5h8M122.8 522.5h2M78.9 524.5h6M120.8 524.5h4M88.9 525.5h2M116.8 525.5h2M126.8 528.5h4M29 530.5h45.9M122.8 530.5h4M124.8 531.5h2M138.7 532.5h53.9M132.7 533.5h59.9M122.8 534.5h4M126.8 537.5h65.8M29 538.5h51.9M120.8 538.5h2M126.8 539.5h65.8M122.8 540.5h4M124.8 541.5h6M120.8 543.5h4M126.8 544.5h65.8M126.8 546.5h65.8M80.9 548.5h2M116.8 548.5h2M122.8 549.5h6M29 550.5h51.9M118.8 550.5h2M122.8 551.5h4" stroke="#3a3a3a" fill="none"/>
<path d="M80.9 437.5h4M112.8 437.5h2M84.9 438.5h2M110.8 438.5h2M118.8 439.5h2M158.7 439.5h14M118.8 440.5h2M156.7 440.5h10M78.9 441.5h4M114.8 441.5h2M84.9 442.5h2M110.8 442.5h2M80.9 443.5h2M114.8 443.5h2M118.8 444.5h2M150.7 444.5h6M116.8 445.5h2M154.7 445.5h12M76.9 446.5h10M112.8 446.5h2M174.6 446.5h18M102.8 448.5h8M176.6 448.5h16M29 449.5h85.8M158.7 449.5h33.9M29 450.5h57.9M96.8 450.5h16M160.7 450.5h31.9M78.9 452.5h18M110.8 452.5h4M148.7 452.5h10M100.8 453.5h8M166.7 453.5h25.9M96.8 456.5h12M158.7 456.5h33.9M110.8 458.5h4M142.7 458.5h6M98.8 460.5h8M174.6 460.5h18M29 461.5h67.8M106.8 461.5h4M146.7 461.5h12M94.8 462.5h14M154.7 462.5h37.9M29 464.5h69.8M104.8 464.5h4M146.7 464.5h45.9M110.8 469.5h2M134.7 469.5h6M98.8 470.5h4M29 471.5h59.9M106.8 471.5h2M138.7 471.5h8M90.8 473.5h14M148.7 473.5h43.9M94.8 474.5h8M152.7 474.5h39.9M29 476.5h59.9M104.8 476.5h2M138.7 476.5h6M90.8 477.5h12M146.7 477.5h45.9M68.9 478.5h14M104.8 478.5h2M136.7 478.5h6M29 480.5h61.8M100.8 480.5h4M136.7 480.5h8M88.9 481.5h12M142.7 481.5h49.9M108.8 482.5h2M126.8 482.5h4M106.8 483.5h2M128.8 483.5h4M100.8 484.5h4M132.7 484.5h4M144.7 487.5h47.9M29 488.5h57.9M96.8 488.5h4M132.7 488.5h6M98.8 490.5h4M128.8 490.5h4M96.8 491.5h4M128.8 491.5h6M146.7 492.5h45.9M96.8 493.5h4M128.8 493.5h4M138.7 494.5h53.9M134.7 496.5h10M140.7 497.5h51.9M134.7 498.5h12M29 499.5h65.8M128.8 499.5h4M106.8 500.5h8M92.8 501.5h4M124.8 501.5h4M132.7 502.5h8M94.8 503.5h4M122.8 503.5h2M29 504.5h59.9M128.8 504.5h4M134.7 505.5h57.9M88.9 507.5h6M122.8 507.5h4M29 508.5h55.9M126.8 508.5h4M132.7 509.5h16M136.7 510.5h55.9M86.9 511.5h4M122.8 511.5h2M76.9 513.5h10M124.8 513.5h2M29 515.5h43.9M126.8 515.5h6M132.7 516.5h59.9M136.7 518.5h55.9M128.8 519.5h6M80.9 520.5h6M122.8 520.5h2M29 521.5h53.9M122.8 521.5h4M84.9 522.5h4M120.8 522.5h2M84.9 524.5h4M118.8 524.5h2M90.8 525.5h2M114.8 525.5h2M29 528.5h47.9M122.8 528.5h4M132.7 529.5h59.9M74.9 530.5h8M120.8 530.5h2M29 531.5h51.9M120.8 531.5h4M126.8 532.5h12M124.8 533.5h8M29 534.5h49.9M120.8 534.5h2M128.8 536.5h63.8M122.8 537.5h4M80.9 538.5h4M118.8 538.5h2M122.8 539.5h4M29 540.5h47.9M120.8 540.5h2M120.8 541.5h4M126.8 542.5h65.8M29 543.5h49.9M118.8 543.5h2M122.8 544.5h4M126.8 545.5h65.8M122.8 546.5h4M82.9 548.5h2M114.8 548.5h2M120.8 549.5h2M80.9 550.5h2M116.8 550.5h2M120.8 551.5h2" stroke="#454545" fill="none"/>
<path d="M29 437.5h47.9M118.8 437.5h2M168.7 437.5h23.9M76.9 438.5h4M114.8 438.5h4M124.8 439.5h2M146.7 439.5h6M124.8 440.5h2M144.7 440.5h6M118.8 441.5h2M156.7 441.5h14M80.9 442.5h2M118.8 443.5h2M156.7 443.5h14M124.8 444.5h2M138.7 444.5h6M120.8 445.5h4M142.7 445.5h6M116.8 446.5h4M148.7 446.5h8M29 447.5h61.8M110.8 447.5h4M164.7 447.5h27.9M114.8 448.5h4M148.7 448.5h6M116.8 449.5h4M142.7 449.5h6M116.8 450.5h2M144.7 450.5h6M112.8 451.5h4M146.7 451.5h8M118.8 452.5h2M138.7 452.5h4M112.8 453.5h4M144.7 453.5h6M110.8 454.5h4M146.7 454.5h8M112.8 456.5h4M142.7 456.5h6M29 457.5h47.9M94.8 457.5h16M154.7 457.5h37.9M116.8 458.5h4M130.8 458.5h6M29 459.5h81.8M150.7 459.5h41.9M110.8 460.5h4M142.7 460.5h6M114.8 461.5h2M134.7 461.5h6M110.8 462.5h4M138.7 462.5h6M29 463.5h79.8M148.7 463.5h43.9M112.8 464.5h2M136.7 464.5h4M90.8 465.5h18M150.7 465.5h41.9M116.8 469.5h14M106.8 470.5h4M138.7 470.5h6M112.8 471.5h4M128.8 471.5h6M29 472.5h69.8M100.8 472.5h6M144.7 472.5h47.9M108.8 473.5h2M134.7 473.5h6M106.8 474.5h4M136.7 474.5h4M29 475.5h57.9M104.8 475.5h4M136.7 475.5h8M110.8 476.5h2M128.8 476.5h4M106.8 477.5h2M132.7 477.5h6M110.8 478.5h2M126.8 478.5h4M108.8 480.5h2M128.8 480.5h4M104.8 481.5h4M130.8 481.5h6M112.8 483.5h10M108.8 484.5h4M122.8 484.5h6M29 485.5h71.8M136.7 485.5h8M29 486.5h71.8M136.7 486.5h6M98.8 487.5h4M130.8 487.5h6M104.8 488.5h4M124.8 488.5h4M106.8 490.5h4M120.8 490.5h4M104.8 491.5h4M120.8 491.5h4M29 492.5h57.9M92.8 492.5h6M130.8 492.5h6M104.8 493.5h4M118.8 493.5h6M94.8 494.5h4M128.8 494.5h4M29 495.5h43.9M80.9 495.5h10M132.7 495.5h10M96.8 496.5h4M126.8 496.5h2M70.9 497.5h25.9M128.8 497.5h4M92.8 498.5h6M126.8 498.5h4M98.8 499.5h4M120.8 499.5h4M100.8 501.5h4M118.8 501.5h2M90.8 502.5h4M124.8 502.5h4M102.8 503.5h4M114.8 503.5h4M94.8 504.5h4M122.8 504.5h2M84.9 505.5h8M126.8 505.5h2M132.7 506.5h27.9M96.8 507.5h4M116.8 507.5h4M90.8 508.5h4M120.8 508.5h4M80.9 509.5h8M124.8 509.5h4M29 510.5h55.9M126.8 510.5h4M94.8 511.5h4M116.8 511.5h2M140.7 512.5h51.9M90.8 513.5h4M118.8 513.5h4M128.8 514.5h6M84.9 515.5h6M122.8 515.5h2M66.9 516.5h18M124.8 516.5h2M132.7 517.5h59.9M29 518.5h51.9M124.8 518.5h4M80.9 519.5h6M122.8 519.5h2M90.8 520.5h2M116.8 520.5h4M86.9 521.5h4M118.8 521.5h2M90.8 522.5h4M116.8 522.5h2M138.7 523.5h53.9M90.8 524.5h2M114.8 524.5h2M94.8 525.5h2M110.8 525.5h2M128.8 526.5h63.8M126.8 527.5h4M84.9 528.5h2M118.8 528.5h2M29 529.5h47.9M122.8 529.5h4M86.9 530.5h2M116.8 530.5h2M84.9 531.5h2M116.8 531.5h2M29 532.5h51.9M120.8 532.5h2M68.9 533.5h12M120.8 533.5h2M82.9 534.5h4M116.8 534.5h2M126.8 535.5h8M29 536.5h47.9M120.8 536.5h2M76.9 537.5h6M118.8 537.5h2M86.9 538.5h2M114.8 538.5h2M78.9 539.5h4M118.8 539.5h2M82.9 540.5h2M116.8 540.5h2M80.9 541.5h2M116.8 541.5h2M29 542.5h47.9M120.8 542.5h2M82.9 543.5h2M74.9 544.5h6M118.8 544.5h2M29 545.5h47.9M120.8 545.5h2M72.9 546.5h8M118.8 546.5h2M132.7 547.5h59.9M86.9 548.5h2M112.8 548.5h2M80.9 549.5h2M116.8 549.5h2M84.9 550.5h2M80.9 551.5h2M116.8 551.5h2" stroke="#5a5a5a" fill="none"/>
<path d="M120.8 437.5h2M158.7 437.5h10M29 438.5h47.9M118.8 438.5h2M166.7 438.5h25.9M126.8 439.5h4M138.7 439.5h8M126.8 440.5h6M136.7 440.5h8M120.8 441.5h2M150.7 441.5h6M74.9 442.5h6M114.8 442.5h2M120.8 443.5h2M150.7 443.5h6M126.8 444.5h12M124.8 445.5h4M134.7 445.5h8M120.8 446.5h2M142.7 446.5h6M114.8 447.5h2M152.7 447.5h12M118.8 448.5h2M142.7 448.5h6M120.8 449.5h2M138.7 449.5h4M118.8 450.5h4M138.7 450.5h6M116.8 451.5h2M142.7 451.5h4M120.8 452.5h6M130.8 452.5h8M116.8 453.5h2M138.7 453.5h6M114.8 454.5h2M140.7 454.5h6M98.8 455.5h10M160.7 455.5h31.9M116.8 456.5h2M136.7 456.5h6M76.9 457.5h18M110.8 457.5h2M146.7 457.5h8M120.8 458.5h10M110.8 459.5h2M144.7 459.5h6M114.8 460.5h2M136.7 460.5h6M116.8 461.5h6M128.8 461.5h6M114.8 462.5h2M134.7 462.5h4M108.8 463.5h4M142.7 463.5h6M114.8 464.5h4M130.8 464.5h6M29 465.5h61.8M108.8 465.5h2M142.7 465.5h8M29 466.5h49.9M88.9 466.5h20M148.7 466.5h43.9M90.8 467.5h16M150.7 467.5h41.9M90.8 468.5h16M148.7 468.5h43.9M110.8 470.5h2M134.7 470.5h4M116.8 471.5h12M106.8 472.5h2M138.7 472.5h6M110.8 473.5h4M130.8 473.5h4M110.8 474.5h2M130.8 474.5h6M108.8 475.5h2M132.7 475.5h4M112.8 476.5h16M108.8 477.5h4M128.8 477.5h4M112.8 478.5h14M158.7 479.5h33.9M110.8 480.5h4M122.8 480.5h6M108.8 481.5h2M126.8 481.5h4M112.8 484.5h10M100.8 485.5h4M130.8 485.5h6M100.8 486.5h4M130.8 486.5h6M102.8 487.5h4M126.8 487.5h4M108.8 488.5h6M116.8 488.5h8M140.7 489.5h51.9M110.8 490.5h10M108.8 491.5h12M98.8 492.5h4M126.8 492.5h4M108.8 493.5h10M98.8 494.5h4M124.8 494.5h4M72.9 495.5h8M90.8 495.5h8M128.8 495.5h4M100.8 496.5h4M122.8 496.5h4M96.8 497.5h4M124.8 497.5h4M98.8 498.5h4M122.8 498.5h4M102.8 499.5h4M116.8 499.5h4M104.8 501.5h14M94.8 502.5h4M122.8 502.5h2M106.8 503.5h8M98.8 504.5h2M118.8 504.5h4M92.8 505.5h4M122.8 505.5h4M29 506.5h53.9M128.8 506.5h4M100.8 507.5h4M112.8 507.5h4M94.8 508.5h4M118.8 508.5h2M88.9 509.5h4M122.8 509.5h2M84.9 510.5h6M122.8 510.5h4M98.8 511.5h4M112.8 511.5h4M130.8 512.5h10M94.8 513.5h2M116.8 513.5h2M29 514.5h55.9M124.8 514.5h4M90.8 515.5h2M118.8 515.5h4M84.9 516.5h4M122.8 516.5h2M128.8 517.5h4M80.9 518.5h6M122.8 518.5h2M86.9 519.5h4M120.8 519.5h2M92.8 520.5h2M114.8 520.5h2M90.8 521.5h2M116.8 521.5h2M94.8 522.5h2M112.8 522.5h4M128.8 523.5h10M92.8 524.5h4M112.8 524.5h2M96.8 525.5h4M108.8 525.5h2M124.8 526.5h4M29 527.5h49.9M122.8 527.5h4M86.9 528.5h4M116.8 528.5h2M76.9 529.5h6M120.8 529.5h2M88.9 530.5h2M114.8 530.5h2M86.9 531.5h2M114.8 531.5h2M80.9 532.5h4M118.8 532.5h2M80.9 533.5h4M118.8 533.5h2M86.9 534.5h2M114.8 534.5h2M122.8 535.5h4M76.9 536.5h6M118.8 536.5h2M82.9 537.5h2M116.8 537.5h2M88.9 538.5h2M112.8 538.5h2M82.9 539.5h2M116.8 539.5h2M84.9 540.5h2M114.8 540.5h2M82.9 541.5h4M76.9 542.5h6M118.8 542.5h2M84.9 543.5h2M114.8 543.5h2M80.9 544.5h4M116.8 544.5h2M76.9 545.5h6M118.8 545.5h2M80.9 546.5h4M116.8 546.5h2M124.8 547.5h8M88.9 548.5h2M82.9 549.5h2M114.8 549.5h2M86.9 550.5h2M112.8 550.5h2M82.9 551.5h2M114.8 551.5h2" stroke="#656565" fill="none"/>
<path d="M122.8 437.5h2M152.7 437.5h6M120.8 438.5h2M156.7 438.5h10M130.8 439.5h8M132.7 440.5h4M122.8 441.5h4M144.7 441.5h6M29 442.5h45.9M116.8 442.5h2M160.7 442.5h31.9M122.8 443.5h2M144.7 443.5h6M128.8 445.5h6M122.8 446.5h4M136.7 446.5h6M116.8 447.5h4M146.7 447.5h6M120.8 448.5h4M136.7 448.5h6M122.8 449.5h16M122.8 450.5h16M118.8 451.5h4M136.7 451.5h6M126.8 452.5h4M118.8 453.5h6M132.7 453.5h6M116.8 454.5h4M134.7 454.5h6M29 455.5h69.8M108.8 455.5h4M148.7 455.5h12M118.8 456.5h6M130.8 456.5h6M112.8 457.5h4M140.7 457.5h6M112.8 459.5h4M138.7 459.5h6M116.8 460.5h4M130.8 460.5h6M122.8 461.5h6M116.8 462.5h6M126.8 462.5h8M112.8 463.5h2M136.7 463.5h6M118.8 464.5h12M110.8 465.5h4M136.7 465.5h6M78.9 466.5h10M108.8 466.5h2M140.7 466.5h8M29 467.5h61.8M106.8 467.5h4M142.7 467.5h8M29 468.5h61.8M106.8 468.5h4M140.7 468.5h8M112.8 470.5h4M128.8 470.5h6M108.8 472.5h4M132.7 472.5h6M114.8 473.5h4M122.8 473.5h8M112.8 474.5h4M124.8 474.5h6M110.8 475.5h4M128.8 475.5h4M112.8 477.5h4M122.8 477.5h6M29 479.5h75.8M140.7 479.5h18M114.8 480.5h8M110.8 481.5h6M120.8 481.5h6M104.8 485.5h4M126.8 485.5h4M104.8 486.5h2M126.8 486.5h4M106.8 487.5h4M122.8 487.5h4M114.8 488.5h2M29 489.5h69.8M134.7 489.5h6M102.8 492.5h4M122.8 492.5h4M102.8 494.5h4M120.8 494.5h4M98.8 495.5h2M124.8 495.5h4M104.8 496.5h4M116.8 496.5h6M100.8 497.5h4M120.8 497.5h4M102.8 498.5h2M118.8 498.5h4M106.8 499.5h10M98.8 502.5h4M118.8 502.5h4M100.8 504.5h6M114.8 504.5h4M96.8 505.5h2M120.8 505.5h2M82.9 506.5h8M124.8 506.5h4M104.8 507.5h8M98.8 508.5h4M114.8 508.5h4M92.8 509.5h4M118.8 509.5h4M90.8 510.5h4M120.8 510.5h2M102.8 511.5h10M29 512.5h51.9M126.8 512.5h4M96.8 513.5h4M112.8 513.5h4M84.9 514.5h4M122.8 514.5h2M92.8 515.5h4M116.8 515.5h2M88.9 516.5h4M118.8 516.5h4M29 517.5h53.9M124.8 517.5h4M86.9 518.5h4M120.8 518.5h2M90.8 519.5h2M118.8 519.5h2M94.8 520.5h4M112.8 520.5h2M92.8 521.5h4M114.8 521.5h2M96.8 522.5h2M110.8 522.5h2M29 523.5h45.9M124.8 523.5h4M96.8 524.5h2M110.8 524.5h2M100.8 525.5h8M29 526.5h51.9M122.8 526.5h2M78.9 527.5h6M120.8 527.5h2M90.8 528.5h2M114.8 528.5h2M82.9 529.5h4M118.8 529.5h2M90.8 530.5h2M112.8 530.5h2M88.9 531.5h2M84.9 532.5h2M116.8 532.5h2M84.9 533.5h2M116.8 533.5h2M88.9 534.5h2M29 535.5h51.9M120.8 535.5h2M82.9 536.5h2M116.8 536.5h2M84.9 537.5h2M114.8 537.5h2M84.9 539.5h2M114.8 539.5h2M86.9 540.5h2M86.9 541.5h2M114.8 541.5h2M82.9 542.5h2M116.8 542.5h2M86.9 543.5h2M112.8 543.5h2M84.9 544.5h2M114.8 544.5h2M82.9 545.5h2M116.8 545.5h2M84.9 546.5h2M114.8 546.5h2M120.8 547.5h4M110.8 548.5h2M84.9 549.5h2M88.9 550.5h2M110.8 550.5h2M84.9 551.5h2" stroke="#707070" fill="none"/>
<path d="M124.8 437.5h4M146.7 437.5h6M122.8 438.5h2M150.7 438.5h6M126.8 441.5h4M138.7 441.5h6M118.8 442.5h4M152.7 442.5h8M124.8 443.5h4M136.7 443.5h8M126.8 446.5h10M120.8 447.5h2M140.7 447.5h6M124.8 448.5h12M122.8 451.5h14M124.8 453.5h8M120.8 454.5h14M112.8 455.5h4M142.7 455.5h6M124.8 456.5h6M116.8 457.5h2M134.7 457.5h6M116.8 459.5h4M132.7 459.5h6M120.8 460.5h10M122.8 462.5h4M114.8 463.5h4M132.7 463.5h4M114.8 465.5h2M132.7 465.5h4M110.8 466.5h4M136.7 466.5h4M110.8 467.5h2M136.7 467.5h6M110.8 468.5h2M136.7 468.5h4M116.8 470.5h12M112.8 472.5h4M128.8 472.5h4M118.8 473.5h4M116.8 474.5h8M114.8 475.5h14M116.8 477.5h6M104.8 479.5h2M134.7 479.5h6M116.8 481.5h4M108.8 485.5h4M122.8 485.5h4M106.8 486.5h4M122.8 486.5h4M110.8 487.5h12M98.8 489.5h4M128.8 489.5h6M106.8 492.5h6M116.8 492.5h6M106.8 494.5h14M100.8 495.5h4M120.8 495.5h4M108.8 496.5h8M104.8 497.5h4M116.8 497.5h4M104.8 498.5h14M102.8 502.5h6M112.8 502.5h6M106.8 504.5h8M98.8 505.5h4M116.8 505.5h4M90.8 506.5h4M122.8 506.5h2M102.8 508.5h12M96.8 509.5h4M116.8 509.5h2M94.8 510.5h2M118.8 510.5h2M80.9 512.5h8M124.8 512.5h2M100.8 513.5h12M88.9 514.5h4M120.8 514.5h2M96.8 515.5h2M114.8 515.5h2M92.8 516.5h2M116.8 516.5h2M82.9 517.5h6M122.8 517.5h2M90.8 518.5h2M118.8 518.5h2M92.8 519.5h2M114.8 519.5h4M98.8 520.5h2M110.8 520.5h2M96.8 521.5h2M112.8 521.5h2M98.8 522.5h4M106.8 522.5h4M74.9 523.5h10M122.8 523.5h2M98.8 524.5h4M106.8 524.5h4M80.9 526.5h6M120.8 526.5h2M84.9 527.5h4M118.8 527.5h2M92.8 528.5h2M112.8 528.5h2M86.9 529.5h2M116.8 529.5h2M92.8 530.5h2M110.8 530.5h2M90.8 531.5h2M112.8 531.5h2M86.9 532.5h2M114.8 532.5h2M86.9 533.5h2M114.8 533.5h2M90.8 534.5h2M112.8 534.5h2M80.9 535.5h4M118.8 535.5h2M84.9 536.5h2M114.8 536.5h2M86.9 537.5h2M90.8 538.5h2M110.8 538.5h2M86.9 539.5h2M88.9 540.5h2M112.8 540.5h2M112.8 541.5h2M84.9 542.5h2M114.8 542.5h2M88.9 543.5h2M86.9 544.5h2M84.9 545.5h2M114.8 545.5h2M86.9 546.5h2M29 547.5h49.9M118.8 547.5h2M90.8 548.5h2M108.8 548.5h2M86.9 549.5h2M112.8 549.5h2M86.9 551.5h2M112.8 551.5h2" stroke="#7a7a7a" fill="none"/>
<path d="M128.8 437.5h6M138.7 437.5h8M124.8 438.5h4M144.7 438.5h6M130.8 441.5h8M122.8 442.5h2M146.7 442.5h6M128.8 443.5h8M122.8 447.5h6M134.7 447.5h6M116.8 455.5h2M136.7 455.5h6M118.8 457.5h16M120.8 459.5h12M118.8 463.5h14M116.8 465.5h16M114.8 466.5h2M130.8 466.5h6M112.8 467.5h4M130.8 467.5h6M112.8 468.5h4M130.8 468.5h6M116.8 472.5h12M106.8 479.5h4M130.8 479.5h4M112.8 485.5h10M110.8 486.5h12M102.8 489.5h4M124.8 489.5h4M112.8 492.5h4M104.8 495.5h6M114.8 495.5h6M108.8 497.5h8M108.8 502.5h4M102.8 505.5h14M94.8 506.5h4M118.8 506.5h4M100.8 509.5h4M112.8 509.5h4M96.8 510.5h4M114.8 510.5h4M88.9 512.5h4M120.8 512.5h4M92.8 514.5h2M116.8 514.5h4M98.8 515.5h4M110.8 515.5h4M94.8 516.5h4M114.8 516.5h2M88.9 517.5h2M120.8 517.5h2M92.8 518.5h4M116.8 518.5h2M94.8 519.5h4M112.8 519.5h2M100.8 520.5h10M98.8 521.5h4M108.8 521.5h4M102.8 522.5h4M84.9 523.5h4M120.8 523.5h2M102.8 524.5h4M86.9 526.5h2M118.8 526.5h2M88.9 527.5h2M116.8 527.5h2M94.8 528.5h2M110.8 528.5h2M88.9 529.5h2M114.8 529.5h2M94.8 530.5h2M108.8 530.5h2M92.8 531.5h2M110.8 531.5h2M88.9 532.5h2M112.8 532.5h2M88.9 533.5h2M112.8 533.5h2M92.8 534.5h2M110.8 534.5h2M84.9 535.5h2M116.8 535.5h2M86.9 536.5h2M88.9 537.5h2M112.8 537.5h2M92.8 538.5h2M108.8 538.5h2M88.9 539.5h2M112.8 539.5h2M90.8 540.5h2M110.8 540.5h2M88.9 541.5h2M86.9 542.5h2M90.8 543.5h2M110.8 543.5h2M88.9 544.5h2M112.8 544.5h2M86.9 545.5h2M112.8 546.5h2M78.9 547.5h4M116.8 547.5h2M92.8 548.5h2M88.9 549.5h2M110.8 549.5h2M90.8 550.5h2M108.8 550.5h2M88.9 551.5h2M110.8 551.5h2" stroke="#858585" fill="none"/>
<path d="M134.7 437.5h4M128.8 438.5h16M124.8 442.5h2M140.7 442.5h6M128.8 447.5h6M118.8 455.5h6M130.8 455.5h6M116.8 466.5h14M116.8 467.5h14M116.8 468.5h14M110.8 479.5h2M126.8 479.5h4M106.8 489.5h4M120.8 489.5h4M110.8 495.5h4M98.8 506.5h4M116.8 506.5h2M104.8 509.5h8M100.8 510.5h14M92.8 512.5h2M118.8 512.5h2M94.8 514.5h4M114.8 514.5h2M102.8 515.5h8M98.8 516.5h4M110.8 516.5h4M90.8 517.5h4M116.8 517.5h4M96.8 518.5h2M112.8 518.5h4M98.8 519.5h4M110.8 519.5h2M102.8 521.5h6M88.9 523.5h2M118.8 523.5h2M88.9 526.5h2M116.8 526.5h2M90.8 527.5h2M114.8 527.5h2M96.8 528.5h2M108.8 528.5h2M90.8 529.5h2M112.8 529.5h2M96.8 530.5h4M106.8 530.5h2M94.8 531.5h4M108.8 531.5h2M90.8 532.5h2M90.8 533.5h2M110.8 533.5h2M108.8 534.5h2M86.9 535.5h2M114.8 535.5h2M88.9 536.5h2M112.8 536.5h2M90.8 537.5h2M110.8 537.5h2M94.8 538.5h2M106.8 538.5h2M90.8 539.5h2M110.8 539.5h2M90.8 541.5h2M110.8 541.5h2M88.9 542.5h2M112.8 542.5h2M108.8 543.5h2M110.8 544.5h2M88.9 545.5h2M112.8 545.5h2M88.9 546.5h2M110.8 546.5h2M82.9 547.5h2M106.8 548.5h2M92.8 550.5h2" stroke="#8f8f8f" fill="none"/>
<path d="M126.8 442.5h14M124.8 455.5h6M112.8 479.5h14M110.8 489.5h10M102.8 506.5h14M94.8 512.5h4M116.8 512.5h2M98.8 514.5h4M110.8 514.5h4M102.8 516.5h8M94.8 517.5h2M114.8 517.5h2M98.8 518.5h4M110.8 518.5h2M102.8 519.5h8M90.8 523.5h2M116.8 523.5h2M90.8 526.5h2M114.8 526.5h2M92.8 527.5h2M112.8 527.5h2M98.8 528.5h10M92.8 529.5h2M110.8 529.5h2M100.8 530.5h6M98.8 531.5h4M104.8 531.5h4M92.8 532.5h2M110.8 532.5h2M92.8 533.5h2M94.8 534.5h4M106.8 534.5h2M88.9 535.5h2M112.8 535.5h2M90.8 536.5h2M110.8 536.5h2M92.8 537.5h2M108.8 537.5h2M96.8 538.5h2M104.8 538.5h2M92.8 539.5h2M92.8 540.5h2M108.8 540.5h2M92.8 541.5h2M108.8 541.5h2M110.8 542.5h2M92.8 543.5h2M90.8 544.5h2M110.8 545.5h2M90.8 546.5h2M84.9 547.5h2M114.8 547.5h2M94.8 548.5h2M104.8 548.5h2M90.8 549.5h2M108.8 549.5h2M106.8 550.5h2M90.8 551.5h2M108.8 551.5h2" stroke="#9a9a9a" fill="none"/>
<path d="M98.8 512.5h4M112.8 512.5h4M102.8 514.5h8M96.8 517.5h4M112.8 517.5h2M102.8 518.5h8M92.8 523.5h2M114.8 523.5h2M92.8 526.5h4M112.8 526.5h2M94.8 527.5h2M110.8 527.5h2M94.8 529.5h4M108.8 529.5h2M102.8 531.5h2M94.8 532.5h2M108.8 532.5h2M94.8 533.5h2M108.8 533.5h2M98.8 534.5h8M90.8 535.5h2M92.8 536.5h2M108.8 536.5h2M94.8 537.5h2M98.8 538.5h6M108.8 539.5h2M94.8 540.5h2M106.8 540.5h2M90.8 542.5h2M94.8 543.5h2M106.8 543.5h2M92.8 544.5h2M108.8 544.5h2M90.8 545.5h2M108.8 546.5h2M86.9 547.5h2M112.8 547.5h2M96.8 548.5h4M102.8 548.5h2M92.8 549.5h2M94.8 550.5h2M104.8 550.5h2" stroke="#a5a5a5" fill="none"/>
<path d="M102.8 512.5h10M100.8 517.5h12M94.8 523.5h4M110.8 523.5h4M96.8 526.5h2M110.8 526.5h2M96.8 527.5h4M108.8 527.5h2M98.8 529.5h2M104.8 529.5h4M96.8 532.5h4M104.8 532.5h4M96.8 533.5h4M104.8 533.5h4M92.8 535.5h2M110.8 535.5h2M94.8 536.5h2M96.8 537.5h2M104.8 537.5h4M94.8 539.5h2M106.8 539.5h2M96.8 540.5h2M104.8 540.5h2M94.8 541.5h2M106.8 541.5h2M92.8 542.5h2M108.8 542.5h2M96.8 543.5h2M104.8 543.5h2M106.8 544.5h2M92.8 545.5h2M108.8 545.5h2M92.8 546.5h2M88.9 547.5h2M100.8 548.5h2M106.8 549.5h2M96.8 550.5h2M102.8 550.5h2M92.8 551.5h2M106.8 551.5h2" stroke="#afafaf" fill="none"/>
<path d="M98.8 523.5h2M108.8 523.5h2M98.8 526.5h4M106.8 526.5h4M100.8 527.5h8M100.8 529.5h4M100.8 532.5h4M100.8 533.5h4M94.8 535.5h2M108.8 535.5h2M96.8 536.5h2M104.8 536.5h4M98.8 537.5h6M96.8 539.5h4M102.8 539.5h4M98.8 540.5h6M96.8 541.5h4M102.8 541.5h4M94.8 542.5h2M106.8 542.5h2M98.8 543.5h6M94.8 544.5h2M106.8 545.5h2M94.8 546.5h2M106.8 546.5h2M110.8 547.5h2M94.8 549.5h2M104.8 549.5h2M98.8 550.5h4M94.8 551.5h2M104.8 551.5h2" stroke="#bababa" fill="none"/>
<path d="M100.8 523.5h8M102.8 526.5h4M96.8 535.5h2M106.8 535.5h2M98.8 536.5h6M100.8 539.5h2M100.8 541.5h2M96.8 542.5h2M104.8 542.5h2M96.8 544.5h2M102.8 544.5h4M94.8 545.5h2M96.8 546.5h2M104.8 546.5h2M90.8 547.5h2M96.8 549.5h2M102.8 549.5h2M96.8 551.5h2M102.8 551.5h2" stroke="#c5c5c5" fill="none"/>
<path d="M98.8 535.5h8M98.8 542.5h6M98.8 544.5h4M96.8 545.5h2M102.8 545.5h4M98.8 546.5h6M92.8 547.5h2M108.8 547.5h2M98.8 549.5h4M98.8 551.5h4" stroke="#cfcfcf" fill="none"/>
<path d="M98.8 545.5h4M106.8 547.5h2" stroke="#dadada" fill="none"/>
<path d="M94.8 547.5h2M104.8 547.5h2" stroke="#e4e4e4" fill="none"/>
<path d="M96.8 547.5h2M102.8 547.5h2" stroke="#efefef" fill="none"/>
<path d="M98.8 547.5h4" stroke="#fafafa" fill="none"/>
</g>
<defs><filter id="h2" x="0" y="0" width="1" height="1" color-interpolation-filters="sRGB"><feTurbulence type="fractalNoise" baseFrequency="0.22 2.2" numOctaves="3" seed="22" result="n"/><feColorMatrix in="n" type="matrix" values="1 0 0 0 0 1 0 0 0 0 1 0 0 0 0 0 0 0 0 1" result="g"/><feComposite in="SourceGraphic" in2="g" operator="arithmetic" k1="0" k2="1" k3="1.450" k4="-0.725" result="c"/><feComponentTransfer in="c"><feFuncR type="table" tableValues="0.267 0.282 0.278 0.255 0.224 0.192 0.165 0.137 0.122 0.133 0.208 0.329 0.478 0.647 0.824 0.992"/><feFuncG type="table" tableValues="0.004 0.102 0.184 0.267 0.337 0.408 0.471 0.537 0.604 0.659 0.718 0.773 0.820 0.859 0.886 0.906"/><feFuncB type="table" tableValues="0.329 0.424 0.490 0.529 0.549 0.557 0.557 0.557 0.541 0.518 0.475 0.408 0.318 0.212 0.106 0.145"/><feFuncA type="linear" slope="0" intercept="1"/></feComponentTransfer></filter></defs>
<g filter="url(#h2)">
<rect x="196.6" y="437" width="163.2" height="115" fill="#454545"/>
<path d="M260.3 437.5h11.9M258.3 438.5h15.9M260.3 440.5h11.9M258.3 441.5h15.9M260.3 442.5h13.9M258.3 443.5h15.9M260.3 444.5h13.9" stroke="#050505" fill="none"/>
<path d="M258.3 437.5h2M272.2 437.5h2M256.3 438.5h2M274.2 438.5h2M258.3 440.5h2M272.2 440.5h2M256.3 441.5h2M274.2 441.5h2M258.3 442.5h2M256.3 443.5h2M274.2 443.5h2M256.3 444.5h4M274.2 444.5h2M290.1 534.5h69.7M288.2 535.5h71.6" stroke="#101010" fill="none"/>
<path d="M256.3 437.5h2M274.2 437.5h2M254.3 438.5h2M276.2 438.5h2M256.3 440.5h2M274.2 440.5h2M256.3 442.5h2M274.2 442.5h2M254.3 443.5h2M276.2 443.5h2M254.3 444.5h2M276.2 444.5h2M266.3 446.5h4M266.3 452.5h6M298.1 499.5h61.7M294.1 513.5h65.7M292.1 519.5h67.7M296.1 525.5h63.7M288.2 529.5h71.6M284.2 534.5h6M284.2 535.5h4M286.2 536.5h73.6" stroke="#1b1b1b" fill="none"/>
<path d="M254.3 437.5h2M276.2 437.5h2M252.3 438.5h2M278.2 438.5h2M254.3 440.5h2M276.2 440.5h2M254.3 441.5h2M276.2 441.5h2M254.3 442.5h2M276.2 442.5h2M252.3 443.5h2M278.2 443.5h2M252.3 444.5h2M262.3 445.5h10M260.3 446.5h6M270.2 446.5h4M196.6 449.5h53.7M260.3 449.5h15.9M324 449.5h35.8M196.6 452.5h69.7M272.2 452.5h4M316 452.5h43.8M324 481.5h35.8M314 483.5h45.8M310 494.5h49.8M196.6 499.5h51.7M292.1 499.5h6M308.1 507.5h51.7M288.2 513.5h6M286.2 519.5h6M290.1 524.5h69.7M286.2 525.5h10M284.2 529.5h4M300.1 531.5h59.7M290.1 532.5h69.7M196.6 534.5h31.8M280.2 534.5h4M196.6 535.5h35.8M280.2 535.5h4M282.2 536.5h4M290.1 539.5h69.7M288.2 540.5h71.6M286.2 543.5h73.6" stroke="#252525" fill="none"/>
<path d="M252.3 437.5h2M250.3 438.5h2M262.3 439.5h8M252.3 440.5h2M252.3 441.5h2M278.2 441.5h2M252.3 442.5h2M248.3 443.5h4M248.3 444.5h4M278.2 444.5h2M258.3 445.5h4M272.2 445.5h2M254.3 446.5h6M274.2 446.5h2M250.3 449.5h10M276.2 449.5h4M314 449.5h10M196.6 450.5h79.6M322 450.5h37.8M276.2 452.5h4M310 452.5h6M266.3 456.5h4M260.3 460.5h10M320 460.5h39.8M196.6 466.5h73.6M310 466.5h49.8M244.4 481.5h19.9M302.1 481.5h21.9M196.6 483.5h39.8M240.4 483.5h21.9M300.1 483.5h13.9M302.1 487.5h57.7M298.1 491.5h61.7M308.1 493.5h51.7M296.1 494.5h13.9M302.1 497.5h57.7M248.3 499.5h8M288.2 499.5h4M314 503.5h45.8M306.1 506.5h53.7M292.1 507.5h15.9M300.1 509.5h59.7M196.6 513.5h47.8M284.2 513.5h4M296.1 514.5h63.7M296.1 515.5h63.7M294.1 516.5h65.7M296.1 518.5h63.7M196.6 519.5h43.8M284.2 519.5h2M290.1 522.5h69.7M286.2 524.5h4M196.6 525.5h37.8M284.2 525.5h2M294.1 526.5h65.7M298.1 528.5h61.7M196.6 529.5h41.8M280.2 529.5h4M286.2 531.5h13.9M284.2 532.5h6M228.4 534.5h11.9M278.2 534.5h2M232.4 535.5h8M278.2 535.5h2M196.6 536.5h39.8M280.2 536.5h2M284.2 539.5h6M282.2 540.5h6M282.2 543.5h4M284.2 547.5h75.6M292.1 549.5h67.7" stroke="#303030" fill="none"/>
<path d="M250.3 437.5h2M278.2 437.5h2M246.4 438.5h4M280.2 438.5h2M260.3 439.5h2M270.2 439.5h2M250.3 440.5h2M278.2 440.5h2M248.3 441.5h4M250.3 442.5h2M278.2 442.5h2M242.4 443.5h6M280.2 443.5h2M196.6 444.5h51.7M280.2 444.5h2M328 444.5h31.8M254.3 445.5h4M274.2 445.5h2M248.3 446.5h6M276.2 446.5h2M280.2 449.5h2M308.1 449.5h6M276.2 450.5h4M312 450.5h10M196.6 451.5h79.6M318 451.5h41.8M280.2 452.5h2M304.1 452.5h6M196.6 456.5h69.7M270.2 456.5h4M314 456.5h45.8M196.6 460.5h63.7M270.2 460.5h4M310 460.5h10M254.3 462.5h17.9M314 462.5h45.8M260.3 464.5h8M335.9 464.5h23.9M258.3 465.5h10M318 465.5h41.8M270.2 466.5h4M304.1 466.5h6M196.6 469.5h19.9M250.3 469.5h19.9M310 469.5h49.8M254.3 472.5h11.9M312 472.5h47.8M254.3 475.5h10M314 475.5h45.8M250.3 476.5h15.9M306.1 476.5h53.7M196.6 481.5h47.8M264.3 481.5h4M296.1 481.5h6M236.4 483.5h4M262.3 483.5h4M294.1 483.5h6M254.3 486.5h2M302.1 486.5h57.7M196.6 487.5h65.7M296.1 487.5h6M300.1 489.5h59.7M196.6 491.5h63.7M292.1 491.5h6M300.1 492.5h59.7M296.1 493.5h11.9M196.6 494.5h61.7M290.1 494.5h6M294.1 497.5h8M256.3 499.5h4M284.2 499.5h4M294.1 502.5h65.7M294.1 503.5h19.9M292.1 506.5h13.9M196.6 507.5h45.8M288.2 507.5h4M294.1 508.5h65.7M290.1 509.5h10M298.1 511.5h61.7M302.1 512.5h57.7M244.4 513.5h6M282.2 513.5h2M290.1 514.5h6M288.2 515.5h8M288.2 516.5h6M290.1 517.5h69.7M288.2 518.5h8M240.4 519.5h6M282.2 519.5h2M286.2 522.5h4M196.6 524.5h41.8M282.2 524.5h4M234.4 525.5h8M280.2 525.5h4M286.2 526.5h8M286.2 528.5h11.9M238.4 529.5h6M278.2 529.5h2M290.1 530.5h69.7M282.2 531.5h4M196.6 532.5h35.8M282.2 532.5h2M290.1 533.5h69.7M240.4 534.5h4M276.2 534.5h2M240.4 535.5h4M276.2 535.5h2M236.4 536.5h6M278.2 536.5h2M284.2 538.5h75.6M280.2 539.5h4M196.6 540.5h29.9M280.2 540.5h2M196.6 543.5h33.8M278.2 543.5h4M284.2 544.5h75.6M292.1 546.5h67.7M280.2 547.5h4M284.2 548.5h75.6M282.2 549.5h10M292.1 550.5h67.7M284.2 551.5h75.6" stroke="#3a3a3a" fill="none"/>
<path d="M240.4 437.5h8M282.2 437.5h2M284.2 438.5h2M322 438.5h17.9M256.3 439.5h2M274.2 439.5h2M240.4 440.5h8M196.6 441.5h47.8M282.2 441.5h2M326 441.5h33.8M236.4 442.5h11.9M337.9 442.5h21.9M284.2 443.5h2M314 443.5h8M284.2 444.5h2M310 444.5h8M244.4 445.5h8M278.2 445.5h2M282.2 446.5h2M312 446.5h8M256.3 447.5h8M272.2 447.5h4M252.3 448.5h8M276.2 448.5h4M314 448.5h10M286.2 449.5h6M294.1 449.5h8M282.2 450.5h4M302.1 450.5h4M280.2 451.5h2M306.1 451.5h4M286.2 452.5h11.9M196.6 453.5h63.7M274.2 453.5h4M312 453.5h11.9M274.2 454.5h4M310 454.5h6M278.2 456.5h2M302.1 456.5h6M274.2 457.5h2M308.1 457.5h8M260.3 458.5h11.9M324 458.5h35.8M264.3 459.5h4M278.2 460.5h2M298.1 460.5h6M274.2 462.5h4M302.1 462.5h4M272.2 464.5h2M304.1 464.5h6M272.2 465.5h4M302.1 465.5h6M276.2 466.5h4M292.1 466.5h6M238.4 467.5h11.9M270.2 467.5h2M304.1 467.5h6M272.2 469.5h4M296.1 469.5h6M270.2 472.5h2M298.1 472.5h6M268.2 475.5h4M298.1 475.5h4M270.2 476.5h2M294.1 476.5h6M196.6 478.5h59.7M260.3 478.5h6M302.1 478.5h15.9M246.4 480.5h17.9M302.1 480.5h57.7M270.2 481.5h4M286.2 481.5h6M196.6 482.5h49.8M262.3 482.5h4M296.1 482.5h6M270.2 483.5h2M286.2 483.5h4M306.1 484.5h53.7M304.1 485.5h55.7M262.3 486.5h4M292.1 486.5h4M266.3 487.5h2M286.2 487.5h6M306.1 488.5h53.7M260.3 489.5h4M290.1 489.5h4M264.3 491.5h2M284.2 491.5h4M258.3 492.5h4M290.1 492.5h4M258.3 493.5h4M288.2 493.5h4M262.3 494.5h4M282.2 494.5h4M256.3 497.5h4M286.2 497.5h4M298.1 498.5h61.7M264.3 499.5h4M276.2 499.5h4M302.1 501.5h57.7M248.3 502.5h6M286.2 502.5h4M248.3 503.5h6M286.2 503.5h4M196.6 504.5h47.8M290.1 504.5h4M290.1 505.5h8M244.4 506.5h8M286.2 506.5h2M250.3 507.5h4M282.2 507.5h2M240.4 508.5h10M286.2 508.5h2M244.4 509.5h6M284.2 509.5h2M292.1 510.5h15.9M196.6 511.5h45.8M286.2 511.5h4M196.6 512.5h43.8M286.2 512.5h6M252.3 513.5h4M276.2 513.5h4M240.4 514.5h8M282.2 514.5h4M240.4 515.5h6M282.2 515.5h4M242.4 516.5h6M282.2 516.5h2M222.5 517.5h21.9M284.2 517.5h2M238.4 518.5h8M282.2 518.5h2M250.3 519.5h2M276.2 519.5h2M290.1 520.5h69.7M288.2 521.5h17.9M240.4 522.5h6M280.2 522.5h2M286.2 523.5h4M244.4 524.5h4M278.2 524.5h2M246.4 525.5h2M276.2 525.5h2M234.4 526.5h8M280.2 526.5h2M196.6 528.5h43.8M280.2 528.5h2M246.4 529.5h2M274.2 529.5h2M196.6 530.5h39.8M282.2 530.5h2M240.4 531.5h4M278.2 531.5h2M240.4 532.5h4M276.2 532.5h2M196.6 533.5h33.8M280.2 533.5h4M246.4 534.5h2M246.4 535.5h2M272.2 535.5h2M244.4 536.5h2M274.2 536.5h2M284.2 537.5h13.9M196.6 538.5h39.8M278.2 538.5h4M238.4 539.5h4M276.2 539.5h2M238.4 540.5h4M276.2 540.5h2M280.2 541.5h4M284.2 542.5h75.6M238.4 543.5h4M274.2 543.5h2M196.6 544.5h35.8M278.2 544.5h2M280.2 546.5h2M234.4 547.5h6M276.2 547.5h2M196.6 548.5h33.8M278.2 548.5h2M196.6 549.5h39.8M276.2 549.5h2M278.2 550.5h4M196.6 551.5h31.8M276.2 551.5h4" stroke="#505050" fill="none"/>
<path d="M196.6 437.5h43.8M284.2 437.5h2M326 437.5h33.8M286.2 438.5h2M316 438.5h6M196.6 440.5h43.8M282.2 440.5h2M322 440.5h37.8M284.2 441.5h2M318 441.5h8M196.6 442.5h39.8M282.2 442.5h2M320 442.5h17.9M286.2 443.5h2M308.1 443.5h6M286.2 444.5h2M306.1 444.5h4M196.6 445.5h47.8M280.2 445.5h2M320 445.5h39.8M284.2 446.5h2M306.1 446.5h6M196.6 447.5h59.7M276.2 447.5h2M324 447.5h35.8M280.2 448.5h2M308.1 448.5h6M292.1 449.5h2M286.2 450.5h15.9M282.2 451.5h4M300.1 451.5h6M278.2 453.5h2M306.1 453.5h6M278.2 454.5h4M304.1 454.5h6M196.6 455.5h43.8M258.3 455.5h15.9M320 455.5h39.8M280.2 456.5h4M296.1 456.5h6M276.2 457.5h4M302.1 457.5h6M196.6 458.5h63.7M272.2 458.5h2M310 458.5h13.9M196.6 459.5h67.7M268.2 459.5h6M312 459.5h47.8M280.2 460.5h6M292.1 460.5h6M278.2 462.5h2M296.1 462.5h6M260.3 463.5h8M322 463.5h37.8M274.2 464.5h4M298.1 464.5h6M276.2 465.5h2M296.1 465.5h6M280.2 466.5h11.9M272.2 467.5h4M298.1 467.5h6M276.2 469.5h2M292.1 469.5h4M258.3 471.5h8M320 471.5h39.8M272.2 472.5h4M292.1 472.5h6M252.3 473.5h13.9M310 473.5h49.8M258.3 474.5h6M322 474.5h37.8M272.2 475.5h2M292.1 475.5h6M272.2 476.5h4M290.1 476.5h4M250.3 477.5h15.9M306.1 477.5h53.7M266.3 478.5h4M296.1 478.5h6M196.6 480.5h49.8M264.3 480.5h4M296.1 480.5h6M274.2 481.5h11.9M266.3 482.5h4M292.1 482.5h4M272.2 483.5h13.9M196.6 484.5h67.7M298.1 484.5h8M196.6 485.5h65.7M296.1 485.5h8M266.3 486.5h4M286.2 486.5h6M268.2 487.5h4M282.2 487.5h4M196.6 488.5h63.7M298.1 488.5h8M264.3 489.5h4M286.2 489.5h4M300.1 490.5h59.7M266.3 491.5h6M280.2 491.5h4M262.3 492.5h4M286.2 492.5h4M262.3 493.5h4M284.2 493.5h4M266.3 494.5h4M278.2 494.5h4M318 496.5h41.8M260.3 497.5h4M282.2 497.5h4M196.6 498.5h53.7M292.1 498.5h6M268.2 499.5h8M296.1 500.5h63.7M294.1 501.5h8M254.3 502.5h4M282.2 502.5h4M254.3 503.5h4M282.2 503.5h4M244.4 504.5h8M286.2 504.5h4M196.6 505.5h53.7M288.2 505.5h2M252.3 506.5h4M282.2 506.5h4M254.3 507.5h4M280.2 507.5h2M250.3 508.5h4M282.2 508.5h4M250.3 509.5h4M282.2 509.5h2M196.6 510.5h43.8M288.2 510.5h4M242.4 511.5h6M284.2 511.5h2M240.4 512.5h6M284.2 512.5h2M256.3 513.5h2M274.2 513.5h2M248.3 514.5h2M280.2 514.5h2M246.4 515.5h4M280.2 515.5h2M248.3 516.5h2M280.2 516.5h2M244.4 517.5h4M280.2 517.5h4M246.4 518.5h2M280.2 518.5h2M252.3 519.5h2M274.2 519.5h2M196.6 520.5h25.9M286.2 520.5h4M196.6 521.5h33.8M284.2 521.5h4M246.4 522.5h2M278.2 522.5h2M196.6 523.5h43.8M282.2 523.5h4M248.3 524.5h2M276.2 524.5h2M248.3 525.5h4M274.2 525.5h2M242.4 526.5h4M278.2 526.5h2M288.2 527.5h71.6M240.4 528.5h4M278.2 528.5h2M248.3 529.5h2M272.2 529.5h2M236.4 530.5h6M278.2 530.5h4M244.4 531.5h2M276.2 531.5h2M244.4 532.5h2M230.4 533.5h10M278.2 533.5h2M248.3 534.5h2M272.2 534.5h2M248.3 535.5h2M246.4 536.5h2M272.2 536.5h2M280.2 537.5h4M236.4 538.5h6M276.2 538.5h2M242.4 539.5h2M274.2 539.5h2M242.4 540.5h2M274.2 540.5h2M196.6 541.5h39.8M278.2 541.5h2M280.2 542.5h4M242.4 543.5h2M232.4 544.5h8M276.2 544.5h2M196.6 546.5h39.8M276.2 546.5h4M240.4 547.5h2M274.2 547.5h2M230.4 548.5h8M276.2 548.5h2M236.4 549.5h4M274.2 549.5h2M196.6 550.5h39.8M276.2 550.5h2M228.4 551.5h10M274.2 551.5h2" stroke="#5a5a5a" fill="none"/>
<path d="M318 437.5h8M288.2 438.5h2M310 438.5h6M254.3 439.5h2M276.2 439.5h2M284.2 440.5h2M316 440.5h6M286.2 441.5h2M312 441.5h6M284.2 442.5h2M314 442.5h6M288.2 443.5h2M302.1 443.5h6M288.2 444.5h4M298.1 444.5h8M282.2 445.5h2M312 445.5h8M286.2 446.5h2M302.1 446.5h4M278.2 447.5h4M314 447.5h10M282.2 448.5h4M302.1 448.5h6M286.2 451.5h13.9M280.2 453.5h4M302.1 453.5h4M282.2 454.5h2M298.1 454.5h6M240.4 455.5h17.9M274.2 455.5h2M310 455.5h10M284.2 456.5h11.9M280.2 457.5h4M298.1 457.5h4M274.2 458.5h4M304.1 458.5h6M274.2 459.5h2M306.1 459.5h6M286.2 460.5h6M256.3 461.5h15.9M316 461.5h43.8M280.2 462.5h15.9M196.6 463.5h63.7M268.2 463.5h4M308.1 463.5h13.9M278.2 464.5h4M292.1 464.5h6M278.2 465.5h4M290.1 465.5h6M276.2 467.5h4M292.1 467.5h6M278.2 469.5h13.9M252.3 470.5h15.9M310 470.5h49.8M196.6 471.5h61.7M266.3 471.5h4M306.1 471.5h13.9M276.2 472.5h4M286.2 472.5h6M196.6 473.5h55.7M266.3 473.5h4M302.1 473.5h8M196.6 474.5h61.7M264.3 474.5h4M304.1 474.5h17.9M274.2 475.5h4M286.2 475.5h6M276.2 476.5h13.9M196.6 477.5h53.7M266.3 477.5h2M300.1 477.5h6M270.2 478.5h2M292.1 478.5h4M268.2 480.5h2M292.1 480.5h4M270.2 482.5h2M288.2 482.5h4M264.3 484.5h2M292.1 484.5h6M262.3 485.5h4M292.1 485.5h4M270.2 486.5h4M282.2 486.5h4M272.2 487.5h10M260.3 488.5h4M292.1 488.5h6M268.2 489.5h4M282.2 489.5h4M196.6 490.5h63.7M294.1 490.5h6M272.2 491.5h8M266.3 492.5h2M282.2 492.5h4M266.3 493.5h6M278.2 493.5h6M270.2 494.5h8M296.1 496.5h21.9M264.3 497.5h4M278.2 497.5h4M250.3 498.5h6M288.2 498.5h4M196.6 500.5h53.7M290.1 500.5h6M196.6 501.5h55.7M288.2 501.5h6M258.3 502.5h4M280.2 502.5h2M258.3 503.5h4M280.2 503.5h2M252.3 504.5h4M282.2 504.5h4M250.3 505.5h4M284.2 505.5h4M256.3 506.5h2M280.2 506.5h2M258.3 507.5h4M276.2 507.5h4M254.3 508.5h2M280.2 508.5h2M254.3 509.5h4M278.2 509.5h4M240.4 510.5h8M284.2 510.5h4M248.3 511.5h4M280.2 511.5h4M246.4 512.5h6M282.2 512.5h2M258.3 513.5h6M270.2 513.5h4M250.3 514.5h4M278.2 514.5h2M250.3 515.5h4M278.2 515.5h2M250.3 516.5h4M276.2 516.5h4M248.3 517.5h4M278.2 517.5h2M248.3 518.5h4M278.2 518.5h2M254.3 519.5h4M272.2 519.5h2M222.5 520.5h19.9M282.2 520.5h4M230.4 521.5h11.9M282.2 521.5h2M248.3 522.5h4M276.2 522.5h2M240.4 523.5h4M280.2 523.5h2M250.3 524.5h2M274.2 524.5h2M252.3 525.5h2M272.2 525.5h2M246.4 526.5h2M276.2 526.5h2M284.2 527.5h4M244.4 528.5h4M276.2 528.5h2M250.3 529.5h4M242.4 530.5h4M276.2 530.5h2M246.4 531.5h2M274.2 531.5h2M246.4 532.5h2M274.2 532.5h2M240.4 533.5h4M276.2 533.5h2M250.3 534.5h2M270.2 534.5h2M250.3 535.5h2M270.2 535.5h2M248.3 536.5h2M270.2 536.5h2M196.6 537.5h41.8M278.2 537.5h2M242.4 538.5h2M244.4 539.5h2M272.2 539.5h2M244.4 540.5h2M272.2 540.5h2M236.4 541.5h4M276.2 541.5h2M196.6 542.5h37.8M278.2 542.5h2M244.4 543.5h2M272.2 543.5h2M240.4 544.5h2M274.2 544.5h2M284.2 545.5h75.6M236.4 546.5h4M242.4 547.5h2M272.2 547.5h2M238.4 548.5h4M274.2 548.5h2M240.4 549.5h2M236.4 550.5h4M274.2 550.5h2M238.4 551.5h4" stroke="#656565" fill="none"/>
<path d="M286.2 437.5h4M312 437.5h6M290.1 438.5h4M302.1 438.5h8M252.3 439.5h2M278.2 439.5h2M286.2 440.5h2M310 440.5h6M288.2 441.5h2M306.1 441.5h6M286.2 442.5h2M308.1 442.5h6M290.1 443.5h11.9M292.1 444.5h6M284.2 445.5h2M306.1 445.5h6M288.2 446.5h13.9M282.2 447.5h2M308.1 447.5h6M286.2 448.5h15.9M284.2 453.5h4M294.1 453.5h8M284.2 454.5h13.9M276.2 455.5h4M304.1 455.5h6M284.2 457.5h13.9M278.2 458.5h2M300.1 458.5h4M276.2 459.5h4M300.1 459.5h6M196.6 461.5h59.7M272.2 461.5h2M308.1 461.5h8M272.2 463.5h4M302.1 463.5h6M282.2 464.5h10M282.2 465.5h8M280.2 467.5h11.9M260.3 468.5h6M328 468.5h31.8M196.6 470.5h55.7M268.2 470.5h4M302.1 470.5h8M270.2 471.5h2M300.1 471.5h6M280.2 472.5h6M270.2 473.5h2M296.1 473.5h6M268.2 474.5h2M298.1 474.5h6M278.2 475.5h8M268.2 477.5h4M294.1 477.5h6M272.2 478.5h4M288.2 478.5h4M250.3 479.5h13.9M304.1 479.5h55.7M270.2 480.5h4M288.2 480.5h4M272.2 482.5h15.9M266.3 484.5h4M288.2 484.5h4M266.3 485.5h4M288.2 485.5h4M274.2 486.5h8M264.3 488.5h2M288.2 488.5h4M272.2 489.5h10M260.3 490.5h4M290.1 490.5h4M268.2 492.5h13.9M272.2 493.5h6M316 495.5h43.8M196.6 496.5h59.7M290.1 496.5h6M268.2 497.5h10M256.3 498.5h4M284.2 498.5h4M250.3 500.5h6M286.2 500.5h4M252.3 501.5h4M286.2 501.5h2M262.3 502.5h4M276.2 502.5h4M262.3 503.5h4M276.2 503.5h4M256.3 504.5h4M280.2 504.5h2M254.3 505.5h4M280.2 505.5h4M258.3 506.5h4M276.2 506.5h4M262.3 507.5h6M270.2 507.5h6M256.3 508.5h4M276.2 508.5h4M258.3 509.5h2M276.2 509.5h2M248.3 510.5h4M282.2 510.5h2M252.3 511.5h4M278.2 511.5h2M252.3 512.5h2M278.2 512.5h4M264.3 513.5h6M254.3 514.5h4M276.2 514.5h2M254.3 515.5h2M274.2 515.5h4M254.3 516.5h2M274.2 516.5h2M252.3 517.5h2M276.2 517.5h2M252.3 518.5h2M276.2 518.5h2M258.3 519.5h4M268.2 519.5h4M242.4 520.5h6M280.2 520.5h2M242.4 521.5h4M280.2 521.5h2M252.3 522.5h2M274.2 522.5h2M244.4 523.5h4M278.2 523.5h2M252.3 524.5h2M272.2 524.5h2M254.3 525.5h2M270.2 525.5h2M248.3 526.5h2M274.2 526.5h2M196.6 527.5h43.8M280.2 527.5h4M248.3 528.5h2M274.2 528.5h2M254.3 529.5h2M270.2 529.5h2M246.4 530.5h2M248.3 531.5h2M272.2 531.5h2M248.3 532.5h2M272.2 532.5h2M244.4 533.5h2M274.2 533.5h2M252.3 534.5h2M268.2 534.5h2M268.2 535.5h2M250.3 536.5h2M238.4 537.5h4M276.2 537.5h2M244.4 538.5h2M274.2 538.5h2M246.4 539.5h2M246.4 540.5h2M240.4 541.5h4M274.2 541.5h2M234.4 542.5h6M276.2 542.5h2M246.4 543.5h2M270.2 543.5h2M242.4 544.5h2M280.2 545.5h4M240.4 546.5h2M274.2 546.5h2M244.4 547.5h2M242.4 548.5h2M272.2 548.5h2M242.4 549.5h2M272.2 549.5h2M240.4 550.5h2M272.2 550.5h2M242.4 551.5h2M272.2 551.5h2" stroke="#707070" fill="none"/>
<path d="M290.1 437.5h2M306.1 437.5h6M294.1 438.5h8M250.3 439.5h2M288.2 440.5h4M304.1 440.5h6M290.1 441.5h15.9M288.2 442.5h4M302.1 442.5h6M286.2 445.5h4M300.1 445.5h6M284.2 447.5h2M302.1 447.5h6M288.2 453.5h6M280.2 455.5h4M300.1 455.5h4M280.2 458.5h6M294.1 458.5h6M280.2 459.5h4M296.1 459.5h4M274.2 461.5h4M302.1 461.5h6M276.2 463.5h2M298.1 463.5h4M196.6 468.5h63.7M266.3 468.5h4M308.1 468.5h19.9M272.2 470.5h2M296.1 470.5h6M272.2 471.5h4M294.1 471.5h6M272.2 473.5h4M292.1 473.5h4M270.2 474.5h4M294.1 474.5h4M272.2 477.5h2M290.1 477.5h4M276.2 478.5h11.9M196.6 479.5h53.7M264.3 479.5h4M298.1 479.5h6M274.2 480.5h13.9M270.2 484.5h4M284.2 484.5h4M270.2 485.5h4M282.2 485.5h6M266.3 488.5h4M284.2 488.5h4M264.3 490.5h2M286.2 490.5h4M296.1 495.5h19.9M256.3 496.5h4M288.2 496.5h2M260.3 498.5h4M280.2 498.5h4M256.3 500.5h4M284.2 500.5h2M256.3 501.5h4M282.2 501.5h4M266.3 502.5h10M266.3 503.5h10M260.3 504.5h4M276.2 504.5h4M258.3 505.5h4M278.2 505.5h2M262.3 506.5h13.9M268.2 507.5h2M260.3 508.5h4M272.2 508.5h4M260.3 509.5h6M270.2 509.5h6M252.3 510.5h4M278.2 510.5h4M256.3 511.5h4M274.2 511.5h4M254.3 512.5h4M276.2 512.5h2M258.3 514.5h2M272.2 514.5h4M256.3 515.5h4M272.2 515.5h2M256.3 516.5h4M272.2 516.5h2M254.3 517.5h2M274.2 517.5h2M254.3 518.5h4M272.2 518.5h4M262.3 519.5h6M248.3 520.5h2M278.2 520.5h2M246.4 521.5h4M278.2 521.5h2M254.3 522.5h2M272.2 522.5h2M248.3 523.5h2M276.2 523.5h2M254.3 524.5h4M270.2 524.5h2M256.3 525.5h2M268.2 525.5h2M250.3 526.5h4M272.2 526.5h2M240.4 527.5h4M278.2 527.5h2M250.3 528.5h2M272.2 528.5h2M256.3 529.5h2M266.3 529.5h4M248.3 530.5h2M274.2 530.5h2M250.3 531.5h2M270.2 531.5h2M250.3 532.5h2M270.2 532.5h2M246.4 533.5h2M254.3 534.5h2M266.3 534.5h2M252.3 535.5h2M266.3 535.5h2M252.3 536.5h2M268.2 536.5h2M242.4 537.5h2M274.2 537.5h2M246.4 538.5h2M272.2 538.5h2M248.3 539.5h2M270.2 539.5h2M248.3 540.5h2M270.2 540.5h2M244.4 541.5h2M240.4 542.5h2M274.2 542.5h2M244.4 544.5h2M272.2 544.5h2M196.6 545.5h37.8M278.2 545.5h2M242.4 546.5h2M272.2 546.5h2M246.4 547.5h2M270.2 547.5h2M244.4 548.5h2M244.4 549.5h2M270.2 549.5h2M242.4 550.5h2M270.2 551.5h2" stroke="#7a7a7a" fill="none"/>
<path d="M292.1 437.5h13.9M246.4 439.5h4M280.2 439.5h2M292.1 440.5h11.9M292.1 442.5h10M290.1 445.5h10M286.2 447.5h15.9M284.2 455.5h15.9M286.2 458.5h8M284.2 459.5h11.9M278.2 461.5h2M296.1 461.5h6M278.2 463.5h6M292.1 463.5h6M270.2 468.5h4M302.1 468.5h6M274.2 470.5h4M292.1 470.5h4M276.2 471.5h4M288.2 471.5h6M276.2 473.5h15.9M274.2 474.5h4M288.2 474.5h6M274.2 477.5h6M282.2 477.5h8M268.2 479.5h2M294.1 479.5h4M274.2 484.5h10M274.2 485.5h8M270.2 488.5h13.9M266.3 490.5h4M280.2 490.5h6M196.6 495.5h59.7M292.1 495.5h4M260.3 496.5h4M284.2 496.5h4M264.3 498.5h6M276.2 498.5h4M260.3 500.5h4M280.2 500.5h4M260.3 501.5h4M278.2 501.5h4M264.3 504.5h11.9M262.3 505.5h4M274.2 505.5h4M264.3 508.5h8M266.3 509.5h4M256.3 510.5h2M276.2 510.5h2M260.3 511.5h4M270.2 511.5h4M258.3 512.5h4M272.2 512.5h4M260.3 514.5h11.9M260.3 515.5h11.9M260.3 516.5h11.9M256.3 517.5h4M270.2 517.5h4M258.3 518.5h2M270.2 518.5h2M250.3 520.5h2M276.2 520.5h2M250.3 521.5h2M276.2 521.5h2M256.3 522.5h4M268.2 522.5h4M250.3 523.5h4M274.2 523.5h2M258.3 524.5h4M266.3 524.5h4M258.3 525.5h10M254.3 526.5h2M270.2 526.5h2M244.4 527.5h4M276.2 527.5h2M252.3 528.5h2M270.2 528.5h2M258.3 529.5h8M250.3 530.5h2M272.2 530.5h2M252.3 531.5h2M268.2 531.5h2M252.3 532.5h2M268.2 532.5h2M248.3 533.5h2M272.2 533.5h2M256.3 534.5h2M264.3 534.5h2M254.3 535.5h4M264.3 535.5h2M254.3 536.5h2M266.3 536.5h2M244.4 537.5h2M248.3 538.5h2M270.2 538.5h2M250.3 539.5h2M268.2 539.5h2M250.3 540.5h2M268.2 540.5h2M272.2 541.5h2M242.4 542.5h2M248.3 543.5h2M268.2 543.5h2M246.4 544.5h2M270.2 544.5h2M234.4 545.5h6M276.2 545.5h2M244.4 546.5h2M268.2 547.5h2M270.2 548.5h2M246.4 549.5h2M244.4 550.5h2M270.2 550.5h2M244.4 551.5h2" stroke="#858585" fill="none"/>
<path d="M196.6 439.5h49.8M282.2 439.5h2M329.9 439.5h29.9M280.2 461.5h15.9M284.2 463.5h8M274.2 468.5h2M296.1 468.5h6M278.2 470.5h13.9M280.2 471.5h8M278.2 474.5h10M280.2 477.5h2M270.2 479.5h4M288.2 479.5h6M270.2 490.5h10M256.3 495.5h4M288.2 495.5h4M264.3 496.5h4M280.2 496.5h4M270.2 498.5h6M264.3 500.5h4M274.2 500.5h6M264.3 501.5h6M272.2 501.5h6M266.3 505.5h8M258.3 510.5h4M272.2 510.5h4M264.3 511.5h6M262.3 512.5h10M260.3 517.5h10M260.3 518.5h10M252.3 520.5h4M274.2 520.5h2M252.3 521.5h4M274.2 521.5h2M260.3 522.5h8M254.3 523.5h2M272.2 523.5h2M262.3 524.5h4M256.3 526.5h2M268.2 526.5h2M248.3 527.5h2M274.2 527.5h2M254.3 528.5h2M268.2 528.5h2M252.3 530.5h2M270.2 530.5h2M254.3 531.5h2M266.3 531.5h2M254.3 532.5h2M266.3 532.5h2M250.3 533.5h2M270.2 533.5h2M258.3 534.5h6M258.3 535.5h6M256.3 536.5h2M264.3 536.5h2M246.4 537.5h2M272.2 537.5h2M246.4 541.5h2M270.2 541.5h2M244.4 542.5h2M272.2 542.5h2M250.3 543.5h2M240.4 545.5h2M274.2 545.5h2M246.4 546.5h2M270.2 546.5h2M248.3 547.5h2M246.4 548.5h2M268.2 548.5h2M268.2 549.5h2M246.4 551.5h2M268.2 551.5h2" stroke="#8f8f8f" fill="none"/>
<path d="M284.2 439.5h2M320 439.5h10M276.2 468.5h4M290.1 468.5h6M274.2 479.5h13.9M260.3 495.5h4M284.2 495.5h4M268.2 496.5h11.9M268.2 500.5h6M270.2 501.5h2M262.3 510.5h10M256.3 520.5h2M270.2 520.5h4M256.3 521.5h2M270.2 521.5h4M256.3 523.5h2M270.2 523.5h2M258.3 526.5h10M250.3 527.5h2M272.2 527.5h2M256.3 528.5h4M266.3 528.5h2M254.3 530.5h2M268.2 530.5h2M256.3 531.5h10M256.3 532.5h10M252.3 533.5h2M268.2 533.5h2M258.3 536.5h6M248.3 537.5h2M270.2 537.5h2M250.3 538.5h2M268.2 538.5h2M252.3 539.5h2M266.3 539.5h2M252.3 540.5h2M266.3 540.5h2M248.3 541.5h2M246.4 542.5h2M270.2 542.5h2M252.3 543.5h2M266.3 543.5h2M248.3 544.5h2M268.2 544.5h2M242.4 545.5h2M272.2 545.5h2M248.3 546.5h2M268.2 546.5h2M250.3 547.5h2M266.3 547.5h2M248.3 548.5h2M248.3 549.5h2M246.4 550.5h2M268.2 550.5h2" stroke="#9a9a9a" fill="none"/>
<path d="M286.2 439.5h2M312 439.5h8M280.2 468.5h10M264.3 495.5h4M278.2 495.5h6M258.3 520.5h4M266.3 520.5h4M258.3 521.5h4M268.2 521.5h2M258.3 523.5h11.9M252.3 527.5h2M270.2 527.5h2M260.3 528.5h6M256.3 530.5h4M264.3 530.5h4M254.3 533.5h2M266.3 533.5h2M250.3 537.5h2M252.3 538.5h2M266.3 538.5h2M254.3 539.5h2M264.3 539.5h2M254.3 540.5h2M264.3 540.5h2M250.3 541.5h2M268.2 541.5h2M248.3 542.5h2M264.3 543.5h2M250.3 544.5h2M266.3 544.5h2M244.4 545.5h2M266.3 548.5h2M266.3 549.5h2M248.3 550.5h2M248.3 551.5h2M266.3 551.5h2" stroke="#a5a5a5" fill="none"/>
<path d="M288.2 439.5h2M308.1 439.5h4M268.2 495.5h10M262.3 520.5h4M262.3 521.5h6M254.3 527.5h2M268.2 527.5h2M260.3 530.5h4M256.3 533.5h4M264.3 533.5h2M252.3 537.5h2M268.2 537.5h2M254.3 538.5h2M264.3 538.5h2M256.3 539.5h8M256.3 540.5h8M266.3 541.5h2M268.2 542.5h2M254.3 543.5h4M262.3 543.5h2M252.3 544.5h2M246.4 545.5h2M270.2 545.5h2M250.3 546.5h2M266.3 546.5h2M252.3 547.5h2M264.3 547.5h2M250.3 548.5h2M250.3 549.5h2M264.3 549.5h2M266.3 550.5h2M250.3 551.5h2" stroke="#afafaf" fill="none"/>
<path d="M290.1 439.5h6M300.1 439.5h8M256.3 527.5h4M266.3 527.5h2M260.3 533.5h4M266.3 537.5h2M256.3 538.5h8M252.3 541.5h2M264.3 541.5h2M250.3 542.5h2M266.3 542.5h2M258.3 543.5h4M264.3 544.5h2M252.3 546.5h2M264.3 546.5h2M254.3 547.5h2M262.3 547.5h2M252.3 548.5h2M264.3 548.5h2M252.3 549.5h2M250.3 550.5h2M264.3 550.5h2M264.3 551.5h2" stroke="#bababa" fill="none"/>
<path d="M296.1 439.5h4M260.3 527.5h6M254.3 537.5h4M264.3 537.5h2M254.3 541.5h2M262.3 541.5h2M252.3 542.5h2M254.3 544.5h4M262.3 544.5h2M248.3 545.5h2M268.2 545.5h2M256.3 547.5h6M254.3 548.5h2M262.3 548.5h2M254.3 549.5h2M262.3 549.5h2M252.3 550.5h2M252.3 551.5h2M262.3 551.5h2" stroke="#c5c5c5" fill="none"/>
<path d="M258.3 537.5h6M256.3 541.5h6M254.3 542.5h2M264.3 542.5h2M258.3 544.5h4M250.3 545.5h2M266.3 545.5h2M254.3 546.5h4M260.3 546.5h4M256.3 548.5h6M256.3 549.5h6M254.3 550.5h2M262.3 550.5h2M254.3 551.5h2M260.3 551.5h2" stroke="#cfcfcf" fill="none"/>
<path d="M256.3 542.5h8M258.3 546.5h2M256.3 550.5h6M256.3 551.5h4" stroke="#dadada" fill="none"/>
<path d="M252.3 545.5h2M264.3 545.5h2" stroke="#e4e4e4" fill="none"/>
<path d="M254.3 545.5h2M262.3 545.5h2" stroke="#efefef" fill="none"/>
<path d="M256.3 545.5h6" stroke="#fafafa" fill="none"/>
</g>
<path d="M111 437L111 552" stroke="#e6e6e6" stroke-width="1.7" stroke-dasharray="4.5 2.8"/>
<path d="M108.4 429L113.6 429L111 434.7z" fill="#3aa845"/>
<text x="51.6" y="566.6" font-size="12.3">-2</text>
<text x="78.6" y="566.6" font-size="12.3">-1</text>
<text x="107.6" y="566.6" font-size="12.3">0</text>
<text x="134.4" y="566.6" font-size="12.3">1</text>
<text x="161.6" y="566.6" font-size="12.3">2</text>
<text x="87.1" y="582" font-size="13">Time (s)</text>
<path d="M27.5 527.1L29 527.1" stroke="#666" stroke-width="0.5"/>
<path d="M27.5 502.2L29 502.2" stroke="#666" stroke-width="0.5"/>
<path d="M27.5 477.3L29 477.3" stroke="#666" stroke-width="0.5"/>
<path d="M27.5 452.4L29 452.4" stroke="#666" stroke-width="0.5"/>
<path d="M277.9 437L277.9 552" stroke="#e6e6e6" stroke-width="1.7" stroke-dasharray="4.5 2.8"/>
<path d="M275.3 429L280.5 429L277.9 434.7z" fill="#3aa845"/>
<text x="218.5" y="566.6" font-size="12.3">-2</text>
<text x="245.5" y="566.6" font-size="12.3">-1</text>
<text x="274.5" y="566.6" font-size="12.3">0</text>
<text x="301.3" y="566.6" font-size="12.3">1</text>
<text x="328.5" y="566.6" font-size="12.3">2</text>
<text x="254" y="582" font-size="13">Time (s)</text>
<path d="M195.1 527.1L196.6 527.1" stroke="#666" stroke-width="0.5"/>
<path d="M195.1 502.2L196.6 502.2" stroke="#666" stroke-width="0.5"/>
<path d="M195.1 477.3L196.6 477.3" stroke="#666" stroke-width="0.5"/>
<path d="M195.1 452.4L196.6 452.4" stroke="#666" stroke-width="0.5"/>
<text x="16.3" y="553" font-size="12.3">0</text>
<text x="16.1" y="533" font-size="12.3">1</text>
<text x="16.3" y="508.1" font-size="12.3">2</text>
<text x="16.3" y="483.2" font-size="12.3">3</text>
<text x="16.3" y="458.2" font-size="12.3">4</text>
<text x="11.5" y="533.8" font-size="13" transform="rotate(-90 11.5 533.8)">Cells (sorted)</text>
<defs><linearGradient id="vg" x1="0" x2="1" y1="0" y2="0"><stop offset="0.000" stop-color="#440154"/><stop offset="0.067" stop-color="#481a6c"/><stop offset="0.133" stop-color="#472f7d"/><stop offset="0.200" stop-color="#414487"/><stop offset="0.267" stop-color="#39568c"/><stop offset="0.333" stop-color="#31688e"/><stop offset="0.400" stop-color="#2a788e"/><stop offset="0.467" stop-color="#23898e"/><stop offset="0.533" stop-color="#1f9a8a"/><stop offset="0.600" stop-color="#22a884"/><stop offset="0.667" stop-color="#35b779"/><stop offset="0.733" stop-color="#54c568"/><stop offset="0.800" stop-color="#7ad151"/><stop offset="0.867" stop-color="#a5db36"/><stop offset="0.933" stop-color="#d2e21b"/><stop offset="1.000" stop-color="#fde725"/></linearGradient></defs>
<rect x="312" y="426.2" width="39.7" height="7.8" fill="url(#vg)"/>
<text x="316.5" y="423.6" font-size="9.1">z-score</text>
<text x="300.9" y="434.7" font-size="12.3">-1</text>
<text x="352.6" y="434.7" font-size="12.3">3</text>
<text x="372.7" y="425.2" font-size="17">e</text>
<path d="M409.1 443.5l7.1 3.5 9.4 5 11.8 4 7.1 0.6 29 0 1.2-8.6 1.2-7 4-2.8 3.5 1.3 2.4 4.5 3.5 7 4.8 4.5 9.4 1.1 28.3 0 7.1-2.6 5.9-5 3.5-2.5 2.4 1" stroke="#f38a4a" stroke-width="1" fill="none"/>
<path d="M409.1 446.5l11.8 4.5 11.8 4 11.8 1.4 22.4 0 0.7-16.4 2.9-1 7-0.5 3.6 0 3.5 7.5 3.6 6.5 5.9 3.3 9.4 0.6 30.7 0 7.1-1.9 4.7-3.5 4.7-2.4" stroke="#2aa2cc" stroke-width="1" fill="none"/>
<text x="399.2" y="458.9" font-size="13" transform="rotate(-90 399.2 458.9)">Pos.</text>
<path d="M466.5 458.5v7.5" stroke-width="0.9" stroke-dasharray="2 1.5" fill="none" stroke="#3aa6cc"/>
<path d="M473.3 458.5v7.5" stroke-width="0.9" stroke-dasharray="2 1.5" fill="none" stroke="#f59a60"/>
<path d="M465 465.5l1.5 3.5 1.5-3.5z" fill="#2aa2cc"/><path d="M471.8 465.5l1.5 3.5 1.5-3.5z" fill="#f38a4a"/>
<path d="M409.1 535.3l0.8-1.2 0.9-11 0.8-0.8 0.8 8.2 0.9-12.1 0.8 8.1 0.8 5.2 0.9-3 0.8-5 0.8-3.9 0.9 1.5 0.8 6.3 0.8 2.2 0.9 4.2 0.8-4.4 0.8 1.1 0.9-3 0.8 5.2 0.8-1.8 0.9 1 0.8 1.4 0.8 0.3 0.9-0.7 0.8 0.4 0.8-7 0.9 0.1 0.8 5.6 0.8-6 0.9-0.9 0.8-5.4 0.8 4.9 0.9 0.9 0.8 1.8 0.8-3.3 0.9-2.7 0.8 0.3 0.8 1.4 0.9-3.4 0.8 0.7 0.8-0.9 0.9 4.1 0.8-4 0.8 3.4 0.8-0.2 0.9-4.5 0.8-9.4 0.8 1.7 0.9 4 0.8 0.6 0.8-5.6 0.9-4.1 0.8-1.4 0.8 4.3 0.9-1.5 0.8 0.3 0.8-1.4 0.9 0.6 0.8-3.6 0.8 5.5 0.9-3.3 0.8-8 0.8 2.9 0.9-5.9 0.8 5.3 0.8-3.1 0.9-5.2 0.8 3.1 0.8-1.8 0.9-14.6 0.8 7.8 0.8 0.4 0.9-3.4 0.8-5.9 0.8-1.9 0.9-1.7 0.8 2.2 0.8 7.2 0.9 3.6 0.8 7 0.8 4 0.9 0.1 0.8-3.1 0.8 4.3 0.9-4.6 0.8-10.9 0.8-5.6 0.9-14.2 0.8 6.5 0.8 7.2 0.9 4.4 0.8-1.7 0.8 8.2 0.9 6.9 0.8-0.4 0.8-0.3 0.9 7.5 0.8 3.7 0.8-3.6 0.9 0.5 0.8 1.4 0.8 8.2 0.9-1.1 0.8-0.3 0.8 9 0.9-9.3 0.8 2.5 0.8 2.9 0.9-9.3 0.8 6.6 0.8 5.7 0.9-0.8 0.8-2.3 0.8-1.1 0.9 3.5 0.8 4.2 0.8 0.7 0.9 0.8 0.8 1.4 0.8-3.6 0.9 1.2 0.8-1.7 0.8 3.3 0.9 1.2 0.8-2.2 0.8 0.3 0.9-5.8 0.8 7.1 0.8-2.7 0.8 0.2 0.9 5.1 0.8-6.9 0.8 0.4 0.9 9.2 0.8-8.6 0.8-3.6 0.9 6.1 0.8-8.6 0.8 4 0.9 6.2 0.8-5.4 0.8 2.3 0.9 4.4 0.8 4 0.8-8.8 0.9 1.4 0.8-5.4 0.8-0.6 0.9 3.2 0.8 0.6 0.8-9.3 0.9-2.4 0.8 3 0.8 4.9 0.9 3.5 0.8-1.7 0.8-9.1 0.9 1.4 0.8 2.4 0.8 3.4 0.9-5.7 0.8 1.8 0.8-4.1 0.9-4.9 0.8-3.5 0.8 3.7 0.9 4.1 0.8-0.2 0.8-5.3 0.9 5.4 0.8 9.5 0 7.9-0.8-9.5-0.9-5.4-0.8 5.3-0.8 0.2-0.9-4.1-0.8-3.7-0.8 3.5-0.9 4.9-0.8 4.1-0.8-1.8-0.9 5.7-0.8-3.4-0.8-2.5-0.9-1.4-0.8 9.1-0.8 1.8-0.9-3.5-0.8-4.9-0.8-3-0.9 2.4-0.8 9.3-0.8-0.6-0.9-3.2-0.8 0.6-0.8 5.4-0.9-1.5-0.8 8.9-0.8-4-0.9-4.4-0.8-2.3-0.8 5.4-0.9-6.2-0.8-4-0.8 8.6-0.9-6.1-0.8 3.6-0.8 8.6-0.9-9.2-0.8-0.4-0.8 6.9-0.9-5.1-0.8-0.2-0.8 2.7-0.8-7.1-0.9 5.8-0.8-0.3-0.8 2.2-0.9-1.2-0.8-3.3-0.8 1.6-0.9-1.2-0.8 3.6-0.8-1.3-0.9-0.9-0.8-0.6-0.8-4.3-0.9-3.4-0.8 1.1-0.8 2.2-0.9 0.8-0.8-5.6-0.8-6.6-0.9 9.3-0.8-2.9-0.8-2.5-0.9 9.3-0.8-9.1-0.8 0.4-0.9 1.1-0.8-8.3-0.8-1.3-0.9-0.6-0.8 3.6-0.8-3.6-0.9-7.6-0.8 0.3-0.8 0.5-0.9-6.9-0.8-8.2-0.8 1.7-0.9-4.5-0.8-7.2-0.8-6.4-0.9 14.2-0.8 5.6-0.8 10.9-0.9 4.6-0.8-4.3-0.8 3.1-0.9-0.1-0.8-4-0.8-7.1-0.9-3.5-0.8-7.2-0.8-2.2-0.9 1.7-0.8 1.9-0.8 5.9-0.9 3.4-0.8-0.5-0.8-7.7-0.9 14.6-0.8 1.8-0.8-3.1-0.9 5.2-0.8 3.1-0.8-5.3-0.9 5.8-0.8-2.8-0.8 8-0.9 3.3-0.8-5.5-0.8 3.6-0.9-0.6-0.8 1.4-0.8-0.4-0.9 1.6-0.8-4.3-0.8 1.4-0.9 4-0.8 5.7-0.8-0.7-0.9-3.9-0.8-1.7-0.8 9.4-0.9 4.5-0.8 0.2-0.8-3.4-0.8 4-0.9-4.1-0.8 0.9-0.8-0.7-0.9 3.3-0.8-1.4-0.8-0.2-0.9 2.7-0.8 3.2-0.8-1.7-0.9-0.9-0.8-5-0.8 5.4-0.9 1-0.8 6-0.8-5.7-0.9 0-0.8 7-0.8-0.4-0.9 0.6-0.8-0.2-0.8-1.5-0.9-0.9-0.8 1.8-0.8-5.3-0.9 3.1-0.8-1.1-0.8 4.4-0.9-4.2-0.8-2.2-0.8-6.4-0.9-1.4-0.8 3.8-0.8 5.1-0.9 3-0.8-5.3-0.8-8.1-0.9 12.2-0.8-8.2-0.8 0.8-0.9 11-0.8 1.2z" fill="#f9c6a2" opacity="0.8"/>
<path d="M409.1 533.6l0.8 2 0.9-5.8 0.8 11 0.8-5 0.9 7.9 0.8-11.2 0.8-0.3 0.9-5.5 0.8 5.2 0.8-3 0.9 1.1 0.8 1.9 0.8-3.2 0.9 4.6 0.8-2.6 0.8-4.9 0.9 1.1 0.8 1.9 0.8-9.9 0.9 5.7 0.8 3.8 0.8-2.1 0.9 1.9 0.8-0.2 0.8-0.4 0.9-9.6 0.8 5.3 0.8 0.6 0.9-2.2 0.8-6.3 0.8 6.9 0.9 2.9 0.8-11.9 0.8 12.2 0.9-1.7 0.8-4.9 0.8-7.9 0.9 10.3 0.8 8 0.8-10.7 0.9 1.3 0.8-1 0.8-4.2 0.8-0.9 0.9-1.1 0.8 1.8 0.8-7 0.9-3.3 0.8 3.9 0.8 1.8 0.9-5.2 0.8-1.4 0.8 4.6 0.9-2.3 0.8-8.8 0.8 0.4 0.9-1 0.8-4.3 0.8-2.1 0.9-2.6 0.8 4.8 0.8-15.4 0.9 2.1 0.8 5.2 0.8-5.9 0.9 1.3 0.8 1.6 0.8-3.5 0.9-3.3 0.8 7.7 0.8-0.3 0.9-0.6 0.8 14.1 0.8 3.3 0.9-2.6 0.8 8.8 0.8-3.5 0.9-7.1 0.8-0.7 0.8 2.7 0.9 11.8 0.8-12.6 0.8 5.2 0.9-3 0.8-8.3 0.8-0.4 0.9-4.8 0.8-4 0.8-12 0.9 10.9 0.8 2.8 0.8 3.2 0.9 0.2 0.8 2.9 0.8 4.3 0.9 9.7 0.8 11.2 0.8-9 0.9-1.4 0.8-2.8 0.8 5.9 0.9 4.7 0.8-2.5 0.8 7.6 0.9 0.4 0.8 0.5 0.8-4.5 0.9-7.7 0.8 3.8 0.8 0 0.9 4.1 0.8 1.4 0.8 3.7 0.9 0.5 0.8 8.7 0.8-2.5 0.9-0.1 0.8-8.3 0.8-1.2 0.9-2 0.8-2 0.8 7 0.9-3.5 0.8-4.2 0.8 6.8 0.9-2.5 0.8 4.5 0.8 7 0.8-5 0.9 2.5 0.8-2.9 0.8 1.6 0.9-2.5 0.8 9.1 0.8-14.2 0.9-0.6 0.8 6.6 0.8 4 0.9-2.5 0.8-3.1 0.8 0.3 0.9 0.1 0.8 9.2 0.8-1.2 0.9-10.2 0.8 1.7 0.8 7.2 0.9-1 0.8 1.9 0.8-1.3 0.9-9.2 0.8 3.1 0.8-4.8 0.9 2.4 0.8 7.2 0.8-1.8 0.9-12.2 0.8 9.1 0.8 3.3 0.9-8.4 0.8 2.4 0.8 0.9 0.9-5.8 0.8 11.4 0.8-5.4 0.9 5.1 0.8 3.2 0.8-1 0.9-7.6 0.8 3.8 0 7.8-0.8-3.8-0.9 7.7-0.8 1-0.8-3.2-0.9-5.1-0.8 5.4-0.8-11.4-0.9 5.7-0.8-0.9-0.8-2.3-0.9 8.4-0.8-3.4-0.8-9-0.9 12.2-0.8 1.8-0.8-7.2-0.9-2.4-0.8 4.7-0.8-3-0.9 9.1-0.8 1.4-0.8-1.9-0.9 0.9-0.8-7.2-0.8-1.6-0.9 10.2-0.8 1.2-0.8-9.2-0.9-0.2-0.8-0.3-0.8 3.2-0.9 2.5-0.8-4-0.8-6.7-0.9 0.6-0.8 14.3-0.8-9.2-0.9 2.6-0.8-1.6-0.8 2.9-0.9-2.6-0.8 5-0.8-6.9-0.8-4.5-0.9 2.5-0.8-6.9-0.8 4.3-0.9 3.4-0.8-6.9-0.8 1.9-0.9 2.1-0.8 1.2-0.8 8.2-0.9 0.2-0.8 2.5-0.8-8.7-0.9-0.5-0.8-3.7-0.8-1.4-0.9-4.1-0.8 0-0.8-3.8-0.9 7.7-0.8 4.5-0.8-0.5-0.9-0.4-0.8-7.7-0.8 2.6-0.9-4.8-0.8-5.8-0.8 2.8-0.9 1.4-0.8 9-0.8-11.2-0.9-9.7-0.8-4.3-0.8-2.9-0.9-0.2-0.8-3.2-0.8-2.8-0.9-10.9-0.8 11.9-0.8 4.1-0.9 4.8-0.8 0.4-0.8 8.3-0.9 2.9-0.8-5.1-0.8 12.5-0.9-11.7-0.8-2.8-0.8 0.8-0.9 7-0.8 3.6-0.8-8.8-0.9 2.6-0.8-3.3-0.8-14.1-0.9 0.6-0.8 0.3-0.8-7.7-0.9 3.2-0.8 3.6-0.8-1.6-0.9-1.3-0.8 5.9-0.8-5.2-0.9-2.1-0.8 15.4-0.8-4.9-0.9 2.7-0.8 2.1-0.8 4.3-0.9 1-0.8-0.4-0.8 8.7-0.9 2.4-0.8-4.6-0.8 1.4-0.9 5.2-0.8-1.8-0.8-3.9-0.9 3.3-0.8 7-0.8-1.8-0.9 1.1-0.8 0.9-0.8 4.2-0.8 0.9-0.9-1.2-0.8 10.7-0.8-8-0.9-10.4-0.8 8-0.8 4.9-0.9 1.7-0.8-12.2-0.8 11.9-0.9-2.9-0.8-6.9-0.8 6.3-0.9 2.2-0.8-0.6-0.8-5.3-0.9 9.6-0.8 0.4-0.8 0.2-0.9-2-0.8 2.2-0.8-3.8-0.9-5.7-0.8 9.9-0.8-2-0.9-1.1-0.8 5-0.8 2.6-0.9-4.6-0.8 3.1-0.8-1.8-0.9-1.1-0.8 3-0.8-5.2-0.9 5.4-0.8 0.4-0.8 11.2-0.9-7.9-0.8 5-0.8-11-0.9 5.8-0.8-2.1z" fill="#a8d8ea" opacity="0.8"/>
<path d="M409.1 539.2l0.8-1.1 0.9-11 0.8-0.8 0.8 8.2 0.9-12.2 0.8 8.1 0.8 5.3 0.9-3 0.8-5.1 0.8-3.9 0.9 1.5 0.8 6.3 0.8 2.2 0.9 4.3 0.8-4.4 0.8 1 0.9-3 0.8 5.2 0.8-1.8 0.9 1 0.8 1.5 0.8 0.2 0.9-0.7 0.8 0.5 0.8-7.1 0.9 0.1 0.8 5.7 0.8-6.1 0.9-0.9 0.8-5.4 0.8 4.9 0.9 0.9 0.8 1.8 0.8-3.2 0.9-2.7 0.8 0.2 0.8 1.4 0.9-3.3 0.8 0.6 0.8-0.8 0.9 4.1 0.8-4 0.8 3.4 0.8-0.2 0.9-4.6 0.8-9.4 0.8 1.7 0.9 4 0.8 0.6 0.8-5.6 0.9-4 0.8-1.4 0.8 4.2 0.9-1.5 0.8 0.3 0.8-1.4 0.9 0.7 0.8-3.6 0.8 5.5 0.9-3.4 0.8-7.9 0.8 2.8 0.9-5.9 0.8 5.3 0.8-3 0.9-5.3 0.8 3.2 0.8-1.9 0.9-14.6 0.8 7.8 0.8 0.4 0.9-3.4 0.8-5.9 0.8-1.8 0.9-1.8 0.8 2.2 0.8 7.3 0.9 3.5 0.8 7.1 0.8 4 0.9 0.1 0.8-3.2 0.8 4.3 0.9-4.5 0.8-11 0.8-5.5 0.9-14.2 0.8 6.4 0.8 7.2 0.9 4.5 0.8-1.7 0.8 8.1 0.9 6.9 0.8-0.4 0.8-0.3 0.9 7.5 0.8 3.7 0.8-3.6 0.9 0.6 0.8 1.3 0.8 8.3 0.9-1.2 0.8-0.3 0.8 9.1 0.9-9.4 0.8 2.6 0.8 2.8 0.9-9.3 0.8 6.7 0.8 5.6 0.9-0.8 0.8-2.3 0.8-1.1 0.9 3.5 0.8 4.3 0.8 0.6 0.9 0.8 0.8 1.4 0.8-3.6 0.9 1.2 0.8-1.7 0.8 3.4 0.9 1.2 0.8-2.3 0.8 0.3 0.9-5.7 0.8 7 0.8-2.6 0.8 0.2 0.9 5.1 0.8-7 0.8 0.5 0.9 9.2 0.8-8.7 0.8-3.5 0.9 6 0.8-8.5 0.8 3.9 0.9 6.3 0.8-5.4 0.8 2.3 0.9 4.3 0.8 4.1 0.8-8.9 0.9 1.5 0.8-5.5 0.8-0.6 0.9 3.3 0.8 0.6 0.8-9.4 0.9-2.3 0.8 2.9 0.8 5 0.9 3.5 0.8-1.8 0.8-9.1 0.9 1.4 0.8 2.4 0.8 3.4 0.9-5.7 0.8 1.8 0.8-4 0.9-4.9 0.8-3.5 0.8 3.6 0.9 4.2 0.8-0.3 0.8-5.3 0.9 5.4 0.8 9.6" stroke="#f58d4e" stroke-width="1.1" fill="none"/>
<path d="M409.1 537.5l0.8 2.1 0.9-5.9 0.8 11 0.8-4.9 0.9 7.9 0.8-11.2 0.8-0.4 0.9-5.4 0.8 5.2 0.8-3.1 0.9 1.2 0.8 1.8 0.8-3.1 0.9 4.5 0.8-2.5 0.8-5 0.9 1.1 0.8 1.9 0.8-9.9 0.9 5.8 0.8 3.8 0.8-2.2 0.9 2 0.8-0.3 0.8-0.3 0.9-9.6 0.8 5.3 0.8 0.5 0.9-2.2 0.8-6.2 0.8 6.8 0.9 2.9 0.8-11.8 0.8 12.1 0.9-1.6 0.8-4.9 0.8-8 0.9 10.3 0.8 8.1 0.8-10.7 0.9 1.2 0.8-0.9 0.8-4.3 0.8-0.8 0.9-1.2 0.8 1.9 0.8-7 0.9-3.3 0.8 3.9 0.8 1.8 0.9-5.3 0.8-1.3 0.8 4.6 0.9-2.4 0.8-8.8 0.8 0.4 0.9-0.9 0.8-4.4 0.8-2 0.9-2.7 0.8 4.8 0.8-15.4 0.9 2.2 0.8 5.1 0.8-5.9 0.9 1.3 0.8 1.6 0.8-3.5 0.9-3.3 0.8 7.8 0.8-0.4 0.9-0.6 0.8 14.1 0.8 3.3 0.9-2.5 0.8 8.7 0.8-3.5 0.9-7 0.8-0.8 0.8 2.7 0.9 11.8 0.8-12.6 0.8 5.2 0.9-2.9 0.8-8.3 0.8-0.4 0.9-4.8 0.8-4.1 0.8-12 0.9 11 0.8 2.8 0.8 3.1 0.9 0.2 0.8 3 0.8 4.2 0.9 9.7 0.8 11.3 0.8-9.1 0.9-1.3 0.8-2.8 0.8 5.8 0.9 4.8 0.8-2.6 0.8 7.6 0.9 0.4 0.8 0.5 0.8-4.4 0.9-7.7 0.8 3.8 0.8 0 0.9 4.1 0.8 1.3 0.8 3.8 0.9 0.4 0.8 8.7 0.8-2.5 0.9-0.1 0.8-8.3 0.8-1.2 0.9-2 0.8-2 0.8 7 0.9-3.5 0.8-4.2 0.8 6.8 0.9-2.4 0.8 4.5 0.8 6.9 0.8-5 0.9 2.6 0.8-3 0.8 1.7 0.9-2.6 0.8 9.1 0.8-14.2 0.9-0.6 0.8 6.7 0.8 4 0.9-2.5 0.8-3.2 0.8 0.3 0.9 0.2 0.8 9.1 0.8-1.1 0.9-10.2 0.8 1.6 0.8 7.2 0.9-0.9 0.8 1.9 0.8-1.4 0.9-9.2 0.8 3.1 0.8-4.7 0.9 2.4 0.8 7.1 0.8-1.7 0.9-12.3 0.8 9.1 0.8 3.3 0.9-8.4 0.8 2.4 0.8 0.9 0.9-5.8 0.8 11.5 0.8-5.5 0.9 5.2 0.8 3.2 0.8-1.1 0.9-7.6 0.8 3.8" stroke="#2ea6cc" stroke-width="1.1" fill="none"/>
<path d="M408.4 460.8L408.4 551.4" stroke="#777" stroke-width="0.7"/>
<path d="M408.4 551.4L551 551.4" stroke="#777" stroke-width="0.7"/>
<path d="M409.1 551.4L409.1 549.8" stroke="#777" stroke-width="0.6"/>
<path d="M444.5 551.4L444.5 549.8" stroke="#777" stroke-width="0.6"/>
<path d="M479.9 551.4L479.9 549.8" stroke="#777" stroke-width="0.6"/>
<path d="M515.3 551.4L515.3 549.8" stroke="#777" stroke-width="0.6"/>
<path d="M550.7 551.4L550.7 549.8" stroke="#777" stroke-width="0.6"/>
<path d="M408.4 536.8L410 536.8" stroke="#777" stroke-width="0.6"/>
<path d="M408.4 517.1L410 517.1" stroke="#777" stroke-width="0.6"/>
<path d="M408.4 497.4L410 497.4" stroke="#777" stroke-width="0.6"/>
<path d="M408.4 477.7L410 477.7" stroke="#777" stroke-width="0.6"/>
<path d="M479.9 437L479.9 551.4" stroke="#3aa845" stroke-width="1.9"/>
<path d="M477.1 428.5L482.6 428.5L479.9 433.5z" fill="#3aa845"/>
<text x="386.7" y="482.1" font-size="12.3">0.4</text>
<text x="387" y="501.8" font-size="12.3">0.2</text>
<text x="397.1" y="521.5" font-size="12.3">0</text>
<text x="382.9" y="541.2" font-size="12.3">-0.2</text>
<text x="433.9" y="566.5" font-size="12.3">-1.5</text>
<text x="476.5" y="566.5" font-size="12.3">0</text>
<text x="506.5" y="566.5" font-size="12.3">1.5</text>
<text x="455.9" y="581.4" font-size="13.2">Time (s)</text>
<text x="384.5" y="529" font-size="13.2" transform="rotate(-90 384.5 529)">Z-score</text>
<text x="566" y="424.6" font-size="17">f</text>
<rect x="605.9" y="466.2" width="6.3" height="84.9" fill="#c9c9c9" stroke="#a9a9a9" stroke-width="0.5"/>
<rect x="613.1" y="462.3" width="6.3" height="88.8" fill="#c9c9c9" stroke="#a9a9a9" stroke-width="0.5"/>
<rect x="620.4" y="476.1" width="6.3" height="75" fill="#c9c9c9" stroke="#a9a9a9" stroke-width="0.5"/>
<rect x="627.6" y="507.1" width="6.3" height="44" fill="#c9c9c9" stroke="#a9a9a9" stroke-width="0.5"/>
<rect x="634.9" y="477.1" width="6.3" height="74" fill="#c9c9c9" stroke="#a9a9a9" stroke-width="0.5"/>
<rect x="649.3" y="524.5" width="6.3" height="26.6" fill="#c9c9c9" stroke="#a9a9a9" stroke-width="0.5"/>
<rect x="656.6" y="540.2" width="6.3" height="10.9" fill="#c9c9c9" stroke="#a9a9a9" stroke-width="0.5"/>
<rect x="663.8" y="545.2" width="6.3" height="5.9" fill="#c9c9c9" stroke="#a9a9a9" stroke-width="0.5"/>
<rect x="603.8" y="516.6" width="6.5" height="34.5" fill="#0d0d0d" stroke="#fff" stroke-width="0.5" fill-opacity="0.78"/>
<rect x="611" y="521.5" width="6.5" height="29.6" fill="#0d0d0d" stroke="#fff" stroke-width="0.5" fill-opacity="0.78"/>
<rect x="618.3" y="516.6" width="6.5" height="34.5" fill="#0d0d0d" stroke="#fff" stroke-width="0.5" fill-opacity="0.78"/>
<rect x="625.5" y="518.5" width="6.5" height="32.6" fill="#0d0d0d" stroke="#fff" stroke-width="0.5" fill-opacity="0.78"/>
<rect x="632.8" y="503.7" width="6.5" height="47.4" fill="#0d0d0d" stroke="#fff" stroke-width="0.5" fill-opacity="0.78"/>
<rect x="640" y="505.7" width="6.5" height="45.4" fill="#0d0d0d" stroke="#fff" stroke-width="0.5" fill-opacity="0.78"/>
<rect x="647.2" y="501.8" width="6.5" height="49.4" fill="#0d0d0d" stroke="#fff" stroke-width="0.5" fill-opacity="0.78"/>
<rect x="654.5" y="487.9" width="6.5" height="63.2" fill="#0d0d0d" stroke="#fff" stroke-width="0.5" fill-opacity="0.78"/>
<rect x="661.7" y="486.9" width="6.5" height="64.2" fill="#0d0d0d" stroke="#fff" stroke-width="0.5" fill-opacity="0.78"/>
<rect x="669" y="496.8" width="6.5" height="54.3" fill="#0d0d0d" stroke="#fff" stroke-width="0.5" fill-opacity="0.78"/>
<path d="M598.3 452.3L598.3 551.1" stroke="#444" stroke-width="0.8"/>
<path d="M598.3 551.1L681.7 551.1" stroke="#444" stroke-width="0.8"/>
<path d="M598.3 551.1L600 551.1" stroke="#444" stroke-width="0.6"/>
<path d="M598.3 531.4L600 531.4" stroke="#444" stroke-width="0.6"/>
<path d="M598.3 511.6L600 511.6" stroke="#444" stroke-width="0.6"/>
<path d="M598.3 491.9L600 491.9" stroke="#444" stroke-width="0.6"/>
<path d="M598.3 472.1L600 472.1" stroke="#444" stroke-width="0.6"/>
<path d="M598.3 452.4L600 452.4" stroke="#444" stroke-width="0.6"/>
<path d="M603.5 551.1L603.5 552.8" stroke="#444" stroke-width="0.6"/>
<path d="M639.7 551.1L639.7 552.8" stroke="#444" stroke-width="0.6"/>
<path d="M675.9 551.1L675.9 552.8" stroke="#444" stroke-width="0.6"/>
<text x="573.4" y="462.4" font-size="12.3">100</text>
<text x="580.2" y="496.3" font-size="12.3">60</text>
<text x="580.2" y="535.8" font-size="12.3">20</text>
<text x="600" y="566.6" font-size="12.3">0</text>
<text x="631" y="566.6" font-size="12.3">0.5</text>
<text x="665.5" y="566.6" font-size="12.3">1.0</text>
<text x="607.4" y="581.4" font-size="13.2">Corr. Value</text>
<text x="578.3" y="515.1" font-size="13.2" transform="rotate(-90 578.3 515.1)">N cells</text>
<path d="M602.2 440.5H675.4M602.2 449.4H677.8" stroke="#999" stroke-width="0.6" stroke-dasharray="2.2 1.6" fill="none"/>
<path d="M602.2 438.5v4M675.4 438.5v4M602.2 447.4v4M677.8 447.4v4" stroke="#999" stroke-width="0.6"/>
<rect x="611.2" y="437.2" width="26.8" height="6.6" fill="#c9c9c9" stroke="#aaa" stroke-width="0.5"/>
<path d="M622.6 437.2L622.6 443.8" stroke="#aaa" stroke-width="0.6"/>
<rect x="629.6" y="446" width="35" height="6.6" fill="#000"/>
<path d="M648.6 446L648.6 452.6" stroke="#fff" stroke-width="0.7"/>
<text x="680.1" y="449.5" font-size="9" text-anchor="middle">*</text>
<text x="0.2" y="602.8" font-size="17">g</text>
<path d="M30.3 720.6l34.2 0 7.3-1 2.1-4.4 1-48.6 1.2-37.9 2.4-9.1 5.8-3.8 7.2-2.7 6.8-0.6 2.4 2.2 2.4 8.1 2.4 11.9 2.4 16.2 2.4 18.9 3.4 16.2 4.8 11.9 5.8 9.2 6.8 9.2 7.2 3.8" stroke="#d4d4d4" stroke-width="2.6" fill="none" stroke-linejoin="round"/>
<path d="M30.3 647.3l1.2-5 1.2 2.6 1.2-0.6 1.2-2.1 1.2 1.6 1.2-5 1.2-3.4 1.2 5.1 1.2-1.6 1.2-1 1.2-1.1 1.2 0.7 1.2-2.5 1.2 2.7 1.2-2.5 1.2-2.6 1.2 4.4 1.2-5.2 1.2-0.2 1.2 4.6 1.2 2 1.2 3.7 1.2-3.6 1.2 1.6 1.2 0 1.2-0.9 1.2 5.6 1.2 0.9 1.2 2.4 1.2-2.2 1.2 1.5 1.2-2 1.2 3.1 1.2-2.3 1.2 2.9 1.2 1.2 1.2-2.2 1.2-3 1.2-0.2 1.2-1.1 1.2 0.7 1.2-2.9 1.2-0.1 1.2 0.1 1.2 0.1 1.2-3 1.2 1.1 1.2-5.3 1.2 2 1.2 4.8 1.2 2.8 1.2 1.3 1.2 1.8 1.2-0.1 1.2 2.6 1.2-2.1 1.2 1.8 1.2-4.7 1.2-3.2 1.2 0 1.2-4.8 1.2-0.2 1.2 0.5 1.2-2.3 1.2-2.7 1.2-2.6 1.2 2.5 1.2 0.5 1.2 4.1 1.2 3.1 1.2-0.5 1.2 2.8 1.2 0.1 1.2-2.8 1.2 1.5 1.2-2.7 1.2-3.1 1.2-1.3 1.2-1.6 1.2-1.3 1.2 0.3 1.2-0.4 1.2 0.9 1.2 1.2 1.2-2.9 1.2 2 1.2 0.2 1.2-0.7 1.2 0.4 1.2 0.1 0 74.9-1.2-3.6-1.2 0.5-1.2 0.2-1.2-4-1.2 1.8-1.2-0.7-1.2-0.3-1.2-6-1.2 2.7-1.2-5.8-1.2-0.5-1.2-0.3-1.2 1.1-1.2 2.5-1.2-0.7-1.2-0.7-1.2 0.4-1.2 0.6-1.2-2.5-1.2-0.9-1.2-4.2-1.2-4.5-1.2-2.4-1.2-1.6-1.2 6.3-1.2 0.7-1.2 2.7-1.2 1.6-1.2 0.2-1.2 7.1-1.2 0-1.2 4.1-1.2 4.2-1.2 2.3-1.2 0.1-1.2-1.6-1.2 1-1.2-1.1-1.2-1.2-1.2-4.3-1.2-2.2-1.2-0.5-1.2-1.1-1.2 0.6-1.2 1.7-1.2 1.4-1.2-0.6-1.2-0.1-1.2 1.3-1.2-1.2-1.2 0.7-1.2-2.3-1.2 2.3-1.2-1.2-1.2-0.3-1.2-3.9-1.2-0.2-1.2-0.9-1.2-0.9-1.2 0.1-1.2-0.3-1.2-2.8-1.2-2.1-1.2 0.8-1.2-1.1-1.2-3.4-1.2 2.2-1.2-1-1.2-0.2-1.2-2.1-1.2-3.4-1.2-0.1-1.2 5-1.2-3.1-1.2 4.7-1.2 3.5-1.2-2.6-1.2 2-1.2-0.5-1.2 0.4-1.2 2.4-1.2 2-1.2-2.8-1.2-0.3-1.2 4.8-1.2-0.9-1.2 3.5-1.2-5.8-1.2 3.5-1.2 2.3z" fill="#67bedb" opacity="0.46"/>
<path d="M30.3 639.1l1.2 1 1.2 2 1.2 2.2 1.2-1.7 1.2 1 1.2 2.6 1.2-1.5 1.2 2.4 1.2-0.9 1.2-2.1 1.2-0.4 1.2-1.7 1.2 0.2 1.2 2 1.2-4 1.2 3.2 1.2-1.2 1.2 3.2 1.2-2.1 1.2 4.1 1.2-3.6 1.2 4.1 1.2-2 1.2-0.1 1.2 0.6 1.2-3.1 1.2 1.4 1.2-0.5 1.2-1.1 1.2 3.7 1.2-0.5 1.2-1.6 1.2 2.7 1.2 3.4 1.2-0.9 1.2 0.8 1.2-0.1 1.2-3.4 1.2 0.8 1.2 2.2 1.2-1.8 1.2-2.3 1.2-0.6 1.2-1.8 1.2-1.7 1.2 2.3 1.2 0.3 1.2-2.9 1.2 1.7 1.2 1.8 1.2 0.4 1.2-0.9 1.2 0.6 1.2-0.3 1.2 1 1.2 1.5 1.2 0.4 1.2-4.5 1.2-2.1 1.2-6 1.2-1.9 1.2-4.3 1.2-0.3 1.2 1 1.2-1.8 1.2 1.2 1.2-3.6 1.2 2 1.2-4.8 1.2 3.4 1.2 1.2 1.2 3.8 1.2 0 1.2 3.7 1.2 1.6 1.2 1.9 1.2 0 1.2 0.3 1.2 2.2 1.2 0.7 1.2 2.4 1.2 1.5 1.2-1.2 1.2 1.8 1.2 0.2 1.2-1.3 1.2 1.9 1.2-2.8 1.2 3.1 1.2-2.5 0 53.2-1.2 2.5-1.2-1.1-1.2 4.4-1.2-1.5-1.2 3-1.2 2.3-1.2-1.3-1.2 3.3-1.2 3.8-1.2-0.3-1.2-0.2-1.2 1.1-1.2 0.8-1.2 2.4-1.2-0.7-1.2-0.2-1.2-2.4-1.2 0.3-1.2-2.1-1.2-0.1-1.2-0.8-1.2 0.1-1.2-0.5-1.2-2.2-1.2-3.4-1.2-1.8-1.2-5.3-1.2-1.7-1.2 2.2-1.2-1.9-1.2 3.8-1.2-0.9-1.2 4-1.2-1.5-1.2 0.3-1.2-3.1-1.2-1.4-1.2-0.6-1.2-0.1-1.2 0-1.2-1.8-1.2 0-1.2 0.4-1.2 3.9-1.2-4.4-1.2 1.5-1.2 4.2-1.2 0.4-1.2 4.8-1.2 0.2-1.2-0.4-1.2 3-1.2 3-1.2-0.2-1.2 0.4-1.2 1.5-1.2-3.5-1.2-0.4-1.2 0.1-1.2 0.4-1.2-4.6-1.2 1.7-1.2-1.7-1.2-1.3-1.2 3.3-1.2-0.5-1.2-2.3-1.2-0.1-1.2-0.8-1.2 0.5-1.2-6.3-1.2-1.8-1.2-0.7-1.2 2-1.2-5.3-1.2-0.7-1.2 0.2-1.2-1-1.2 0.7-1.2-0.7-1.2 4-1.2-2.8-1.2-0.4-1.2 0.6-1.2-0.7-1.2-0.2-1.2 0.8-1.2-0.6-1.2-0.7-1.2-3.9z" fill="#f8ac7e" opacity="0.46"/>
<path d="M30.3 671.2l1.2-2.8 1.2-0.7 1.2 2.2 1.2-2.9 1.2 2.9 1.2-4.3 1.2-2.3 1.2 3.5 1.2-1.8 1.2-2.4 1.2 1.4 1.2-1.1 1.2-1.5 1.2 1.9 1.2-3 1.2-1.5 1.2 1.4 1.2-2.7 1.2-1.3 1.2 2.4 1.2 2.3 1.2 1.7 1.2-0.1 1.2 0.2 1.2 0.8 1.2-0.4 1.2 2.6 1.2 2.1 1.2 0.1 1.2 1.6 1.2 1.7 1.2-1.5 1.2 2.1 1.2-0.7 1.2 2.6 1.2 0.6 1.2-0.2 1.2-3 1.2-0.1 1.2 1.5 1.2-0.3 1.2-1.3 1.2-1 1.2-0.1 1.2-0.4 1.2-2.1 1.2 0.5 1.2-2.1 1.2 0.8 1.2 3.4 1.2 4.1 1.2 0.8 1.2 0.9 1.2 1.8 1.2-0.3 1.2-0.5 1.2-1.7 1.2-2.9 1.2-2.5 1.2-0.7 1.2-6.9 1.2 0 1.2 0 1.2-2.2 1.2-3 1.2-2.7 1.2 2.6 1.2 0.4 1.2 4.8 1.2 2.8 1.2 0.3 1.2 2.1 1.2-0.1 1.2-1 1.2 0 1.2-0.6 1.2-3.3 1.2-1 1.2 0.6 1.2-1.2 1.2 2.4 1.2-0.2 1.2 1.9 1.2 2 1.2-1.2 1.2 0.3 1.2 2.2 1.2-0.4 1.2 0.6 1.2 1.3" stroke="#4b9da4" stroke-width="1.4" fill="none"/>
<path d="M30.3 664l1.2 0.9 1.2 1.8 1.2 1.4 1.2-0.3 1.2 0.6 1.2 1.1 1.2-0.4 1.2 1.3 1.2 0.5 1.2-2.9 1.2-1.2 1.2 0.4 1.2 0.6 1.2 0.1 1.2-0.5 1.2 3 1.2-1.2 1.2 1.7 1.2 1 1.2 4.5 1.2-2 1.2 1.2 1.2-0.4 1.2 1.4 1.2-0.5 1.2-1.6 1.2 1.2 1.2 0.3 1.2-1.7 1.2 3.9 1.2-0.1 1.2-0.5 1.2 1.2 1.2 2.8 1.2-1.4 1.2 1.2 1.2-0.9 1.2-3 1.2-0.9 1.2 1.2 1.2-2.6 1.2-1.9 1.2-1.5 1.2-2.1 1.2-0.8 1.2 2.8 1.2-1.6 1.2-1.6 1.2 0.9 1.2 1.4 1.2 0.6 1.2 0.2 1.2 0.5 1.2 0.3 1.2 2.4 1.2 0.3 1.2 0.9 1.2-3.9 1.2-1.5 1.2-3.7 1.2-1.7 1.2-2.5 1.2 1.3 1.2 2 1.2 0.4 1.2 2.3 1.2 0.4 1.2 0.3 1.2-1.8 1.2 0.8 1.2 0.3 1.2 3.5 1.2 0.7 1.2 2.3 1.2 0.6 1.2 1.9 1.2-1.2 1.2 0.3 1.2 0.2 1.2 0.3 1.2 1.1 1.2-0.8 1.2-1.9 1.2 0.5 1.2-1.2 1.2-1.7 1.2 2.7 1.2-3.4 1.2 1.4 1.2-2.2" stroke="#f78a45" stroke-width="1.4" fill="none"/>
<path d="M30.2 609.7L30.2 722.9" stroke="#222" stroke-width="0.9"/>
<path d="M30.2 722.9L138.5 722.9" stroke="#222" stroke-width="0.9"/>
<path d="M30.2 722.9L32 722.9" stroke="#222" stroke-width="0.6"/>
<path d="M30.2 694.6L32 694.6" stroke="#222" stroke-width="0.6"/>
<path d="M30.2 666.3L32 666.3" stroke="#222" stroke-width="0.6"/>
<path d="M30.2 638L32 638" stroke="#222" stroke-width="0.6"/>
<path d="M30.2 609.7L32 609.7" stroke="#222" stroke-width="0.6"/>
<text x="14.5" y="726.8" font-size="12.3">-1</text>
<text x="18.4" y="671.8" font-size="12.3">0</text>
<text x="18.6" y="619.3" font-size="12.3">1</text>
<path d="M52.5 722.9L52.5 721.1" stroke="#222" stroke-width="0.6"/>
<path d="M100.7 722.9L100.7 721.1" stroke="#222" stroke-width="0.6"/>
<path d="M124.8 722.9L124.8 721.1" stroke="#222" stroke-width="0.6"/>
<path d="M100.7 609.7L100.7 722.9" stroke="#3aa845" stroke-width="1.3"/>
<text x="35.1" y="616.7" font-size="10">Type 1</text>
<path d="M165.7 720.6l34.2 0 7.3-1 2.1-4.4 1-48.6 1.2-37.9 2.4-9.1 5.8-3.8 7.2-2.7 6.8-0.6 2.4 2.2 2.4 8.1 2.4 11.9 2.4 16.2 2.4 18.9 3.4 16.2 4.8 11.9 5.8 9.2 6.8 9.2 7.2 3.8" stroke="#d4d4d4" stroke-width="2.6" fill="none" stroke-linejoin="round"/>
<path d="M165.7 690.8l1.2-0.1 1.2 0.6 1.2-3.5 1.2 1.1 1.2 4.4 1.2-5.9 1.2 2.4 1.2-1.3 1.2-2 1.2 0.1 1.2 0.6 1.2 2.3 1.2-3.2 1.2-0.3 1.2-0.6 1.2 1.9 1.2-1.7 1.2-0.6 1.2-0.3 1.2-1.3 1.2-2.1 1.2-5.4 1.2 1.5 1.2 0.9 1.2 2 1.2-2.9 1.2-2.6 1.2-0.7 1.2-0.3 1.2 2.3 1.2-4.5 1.2 0.8 1.2-0.2 1.2-4.1 1.2-7.3 1.2-3.6 1.2-5.5 1.2 2.5 1.2-3.2 1.2-5.3 1.2-0.9 1.2-2.9 1.2-3.5 1.2-3.3 1.2-0.1 1.2 0.7 1.2-3.7 1.2-1.3 1.2-2 1.2-1 1.2-5.1 1.2-1.5 1.2 1.3 1.2 4.8 1.2 3.3 1.2-0.5 1.2 2.4 1.2-0.8 1.2-2.4 1.2-4.3 1.2-3 1.2-0.7 1.2 0 1.2 1.2 1.2 3.8 1.2 0.4 1.2-3.3 1.2 5.1 1.2 3.9 1.2-0.9 1.2 3.3 1.2-3.9 1.2-0.3 1.2 6.2 1.2 4 1.2 2.2 1.2 7 1.2-2.9 1.2 5.4 1.2-0.9 1.2-2.5 1.2 2.9 1.2 3.4 1.2-0.5 1.2 0.9 1.2 2.1 1.2 4.5 1.2 2.2 1.2 2.1 1.2-0.9 0 26.4-1.2 1-1.2-3.2-1.2-0.3-1.2-4.2-1.2-2.5-1.2 0.4-1.2 0.3-1.2-0.4-1.2-2.7-1.2 0.9-1.2 1.4-1.2-3.6-1.2 2.2-1.2-5.7-1.2-2-1.2-1.9-1.2-5.4-1.2 1.5-1.2 1.7-1.2-2.8-1.2-1.8-1.2-2-1.2-2.7-1.2-1.7-1.2 1.5-1.2-2.1-1.2-5.7-1.2 1.6-1.2 2.7-1.2 1.5-1.2 3.5-1.2-0.4-1.2 1.7-1.2-4.9-1.2 0.5-1.2-2.8-1.2-6.6-1.2 0.4-1.2 1.4-1.2 1.7-1.2 0.1-1.2 6.1-1.2 1-1.2 1.5-1.2 1.4-1.2 0.1-1.2 0.8-1.2 4.3-1.2 3.9-1.2 3.4-1.2 2.5-1.2 3.2-1.2-1.4-1.2-0.2-1.2 3.4-1.2 10.2-1.2 4.1-1.2-0.4-1.2-2.7-1.2 1.2-1.2-1.4-1.2-0.1-1.2-0.5-1.2 1.4-1.2 2.8-1.2-5.6-1.2 0.5-1.2-1.1-1.2 1.5-1.2 0.5-1.2 3.3-1.2-1.7-1.2-0.1-1.2 2.7-1.2-3.3-1.2 1.9-1.2-1.6-1.2 3.8-1.2-3.3-1.2 0.4-1.2 1.4-1.2 0.7-1.2-1-1.2 0.3-1.2 6.7-1.2-3.3-1.2-3.4-1.2 2.1-1.2 1.4-1.2-0.9z" fill="#67bedb" opacity="0.46"/>
<path d="M165.7 690.8l1.2-2.1 1.2-3.1 1.2 1.2 1.2 2.5 1.2 2.4 1.2 0.8 1.2-0.7 1.2-3.6 1.2-4.1 1.2 4 1.2-0.6 1.2 0.8 1.2-0.4 1.2 1.2 1.2 2.5 1.2-4.8 1.2-1.9 1.2 1.9 1.2 0 1.2-4.3 1.2-1 1.2 1.2 1.2-2.8 1.2 2.2 1.2-5.1 1.2 2.4 1.2-1.1 1.2-5.9 1.2 1.1 1.2-2.5 1.2-0.8 1.2-3.5 1.2-1.5 1.2-5 1.2-0.1 1.2 0.5 1.2-2.8 1.2-2.4 1.2-2.8 1.2 0.5 1.2-1.1 1.2-2.5 1.2-1.4 1.2-3.8 1.2-4.4 1.2 1.1 1.2-2.6 1.2-0.4 1.2-5.4 1.2-2.4 1.2 2.9 1.2-6.6 1.2 2.9 1.2-3.5 1.2-2 1.2 1.4 1.2-0.6 1.2-2.1 1.2-2.2 1.2-0.5 1.2-3 1.2 1.1 1.2-1.7 1.2 0.3 1.2-1 1.2 3.6 1.2 6 1.2 2 1.2 1.9 1.2 1.1 1.2 1.9 1.2 1.3 1.2 1.8 1.2 2.9 1.2 0.1 1.2 4.9 1.2-2.7 1.2 2.1 1.2 2.5 1.2 1.2 1.2 1.3 1.2-1 1.2 2.5 1.2 4.2 1.2 2.3 1.2 1.3 1.2 1.8 1.2 0.4 1.2 0.8 1.2 0.1 0 29.6-1.2-1.8-1.2-0.3-1.2 0-1.2-4-1.2 0.4-1.2-5.3-1.2-1.1-1.2-3.7-1.2 3.2-1.2-5.6-1.2-0.7-1.2 1.1-1.2-4.6-1.2 1.9-1.2-1.4-1.2-1.6-1.2-0.8-1.2-3.6-1.2 1.3-1.2-3.3-1.2-0.7-1.2 0.2-1.2-5.8-1.2-0.7-1.2-1.9-1.2-1.8-1.2 1.8-1.2 3.9-1.2-0.3-1.2 2-1.2-0.8-1.2 4.8-1.2 0-1.2-0.4-1.2 0.2-1.2 1.8-1.2 0.7-1.2-3.6-1.2 6.5-1.2-2-1.2 2.2-1.2 4.6-1.2-1.3-1.2 1.2-1.2-0.4-1.2 4.3-1.2 3.4-1.2-3.4-1.2 6.7-1.2-2.4-1.2 2.3-1.2-0.1-1.2 1.4-1.2 0.8-1.2-0.6-1.2 1-1.2 2-1.2-0.5-1.2 3.8-1.2-0.3-1.2 3.2-1.2 0.7-1.2 2.2-1.2 3-1.2-3.2-1.2 1.4-1.2-0.6-1.2 2.6-1.2-0.8-1.2-0.9-1.2 1-1.2-0.1-1.2-0.7-1.2 1.5-1.2 4.3-1.2-0.3-1.2-4.2-1.2 1.5-1.2-0.3-1.2 1.3-1.2-3.5-1.2-0.7-1.2 6.1-1.2-0.6-1.2 1.5-1.2-3.8-1.2 0-1.2-3.4-1.2 0.9-1.2 2.6z" fill="#f8ac7e" opacity="0.46"/>
<path d="M165.7 696.2l1.2 0.1 1.2-1.6 1.2-1.5 1.2 1.6 1.2 2.5 1.2-4.9 1.2 0.4 1.2 0 1.2-1.6 1.2-0.7 1.2 0.8 1.2 3.1 1.2-3.6 1.2 1.3 1.2-2.1 1.2 1 1.2-0.3 1.2-0.3 1.2 0.5 1.2-2.1 1.2-1.5 1.2-4 1.2 1.8 1.2-0.9 1.2 5.3 1.2-2.9 1.2-2.6 1.2 0.2 1.2-0.8 1.2 1.6 1.2-2.7 1.2 0.1 1.2 2.4 1.2-4.5 1.2-8 1.2-2.4 1.2-2.5 1.2-0.5 1.2-3.4 1.2-3.7 1.2-1.5 1.2-4.7 1.2-3.8 1.2-0.2 1.2-0.7 1.2 0 1.2-2.9 1.2-1.3 1.2-3.1 1.2-1.6 1.2-3 1.2-2 1.2 1.4 1.2 4.8 1.2 2.7 1.2 0 1.2 3.4 1.2-0.3 1.2-2.3 1.2-3 1.2-3.1 1.2-2.3 1.2 1.5 1.2 1.4 1.2 3.6 1.2 0.6 1.2-0.7 1.2 3.9 1.2 2.2 1.2 1.1 1.2 1.2 1.2-1.9 1.2 0.3 1.2 4.8 1.2 3.7 1.2 1.7 1.2 4.5 1.2-1.3 1.2 3.5 1.2 0.3 1.2-1.5 1.2 2 1.2 1.7 1.2 0.8 1.2 0.5 1.2 2 1.2 4.1 1.2 1.4 1.2 2.9 1.2-0.2" stroke="#4b9da4" stroke-width="1.4" fill="none"/>
<path d="M165.7 694.3l1.2-1.6 1.2-2.1 1.2 1.8 1.2 1.1 1.2 1.8 1.2 0.5 1.2 0.5 1.2-4.7 1.2-1.6 1.2 4 1.2-1.4 1.2 1 1.2-1.3 1.2 2.5 1.2 2.2 1.2-5.2 1.2-0.2 1.2 1.2 1.2-0.8 1.2-2.1 1.2-0.2 1.2-0.1 1.2-2.2 1.2 1 1.2-2.9 1.2 2 1.2-1.8 1.2-2.8 1.2-0.6 1.2-2.3 1.2-2.3 1.2-0.4 1.2-2 1.2-2.6 1.2-0.6 1.2-0.9 1.2-1.4 1.2-1.4 1.2-3.3 1.2 0.7 1.2-0.1 1.2-3.6 1.2-0.8 1.2-2.1 1.2-3.1 1.2-0.1 1.2-1.9 1.2-0.8 1.2-3 1.2-3.6 1.2 2.1 1.2-5.4 1.2 2.6 1.2-2.5 1.2-1.1 1.2 0.7 1.2-1.7 1.2-0.8 1.2-3.3 1.2 0.2 1.2-1.3 1.2-0.6 1.2-2.6 1.2-0.4 1.2 0.2 1.2 2.7 1.2 3 1.2 4.4 1.2 1.9 1.2 0.9 1.2 1.5 1.2 1.3 1.2 0.7 1.2 2.7 1.2 1.2 1.2 2 1.2-1.3 1.2 1.9 1.2 2.2 1.2 1.2 1.2 3.2 1.2-3.2 1.2 5 1.2 2 1.2 3.4 1.2 1.5 1.2 2 1.2-0.4 1.2 1.3 1.2-0.2" stroke="#f78a45" stroke-width="1.4" fill="none"/>
<path d="M165.6 609.7L165.6 722.9" stroke="#222" stroke-width="0.9"/>
<path d="M165.6 722.9L273.9 722.9" stroke="#222" stroke-width="0.9"/>
<path d="M165.6 722.9L167.4 722.9" stroke="#222" stroke-width="0.6"/>
<path d="M165.6 694.6L167.4 694.6" stroke="#222" stroke-width="0.6"/>
<path d="M165.6 666.3L167.4 666.3" stroke="#222" stroke-width="0.6"/>
<path d="M165.6 638L167.4 638" stroke="#222" stroke-width="0.6"/>
<path d="M165.6 609.7L167.4 609.7" stroke="#222" stroke-width="0.6"/>
<text x="149.9" y="726.8" font-size="12.3">-1</text>
<text x="153.8" y="700.1" font-size="12.3">0</text>
<text x="154" y="671.8" font-size="12.3">1</text>
<text x="154" y="643.5" font-size="12.3">2</text>
<text x="153.9" y="619.3" font-size="12.3">3</text>
<path d="M187.9 722.9L187.9 721.1" stroke="#222" stroke-width="0.6"/>
<path d="M236.1 722.9L236.1 721.1" stroke="#222" stroke-width="0.6"/>
<path d="M260.2 722.9L260.2 721.1" stroke="#222" stroke-width="0.6"/>
<path d="M236.1 609.7L236.1 722.9" stroke="#3aa845" stroke-width="1.3"/>
<text x="170.5" y="616.7" font-size="10">Type 2</text>
<path d="M301.1 720.6l34.3 0 7.2-1 2.1-4.4 1-48.6 1.2-37.9 2.4-9.1 5.8-3.8 7.2-2.7 6.8-0.6 2.4 2.2 2.4 8.1 2.4 11.9 2.4 16.2 2.4 18.9 3.4 16.2 4.8 11.9 5.8 9.2 6.8 9.2 7.2 3.8" stroke="#d4d4d4" stroke-width="2.6" fill="none" stroke-linejoin="round"/>
<path d="M301.1 691.2l1.2 2.4 1.2-3.1 1.2 4.2 1.2-1.1 1.2-0.3 1.2-1.1 1.2-2 1.2 2.4 1.2 1 1.2-0.5 1.2 0 1.2 2.8 1.2-2 1.2-0.2 1.2 0.2 1.2-2.5 1.2 1.4 1.2-4.8 1.2 3.4 1.2-0.4 1.2-1.5 1.2-2 1.2 0.3 1.2-2.3 1.2-1.7 1.2-0.1 1.2 0.9 1.2 0.8 1.2-0.8 1.2-1.5 1.2 1.2 1.2-0.4 1.2 1.4 1.2 0.6 1.2-1.4 1.2 1.4 1.2-0.7 1.2-0.8 1.2-1.7 1.2 0.2 1.2 0.1 1.2 2.5 1.2-0.3 1.2 0.1 1.2 0.5 1.2-0.5 1.2 1.2 1.2-2.7 1.2-0.8 1.2-0.1 1.2 1.7 1.2-3.7 1.2 2.9 1.2 0.9 1.2 0 1.2 1 1.2-2.5 1.2 3.7 1.2-2 1.2 3.1 1.2-4.4 1.2-0.4 1.2-4.9 1.2-1.2 1.2-4.6 1.2-3.7 1.2-3.2 1.2-5.6 1.2-5.1 1.2-5.6 1.2-5.3 1.2-0.5 1.2-3 1.2-2.7 1.2-3.5 1.2 1.3 1.2-3.6 1.2 1.1 1.2 4.6 1.2-2.1 1.2 0.6 1.2-0.8 1.2 3.5 1.2-3.7 1.2 4.6 1.2-1.8 1.2 1.9 1.2 0.2 1.2 1.8 1.2-1 0 25.2-1.2 4.4-1.2-1.5-1.2-0.9-1.2-1.7-1.2 1.2-1.2-3.2-1.2 1.6-1.2-1-1.2-0.2-1.2-3.5-1.2 4.3-1.2-3.1-1.2-0.6-1.2 1.6-1.2-3.1-1.2 2.7-1.2 5.5-1.2 1.7-1.2 1.5-1.2 3.8-1.2 4.3-1.2 6.8-1.2 4.6-1.2 1.4-1.2 4.1-1.2 0-1.2 4.5-1.2 5.7-1.2 2.8-1.2 0.8-1.2-0.6-1.2 1.2-1.2-4-1.2 0.8-1.2-0.2-1.2 2.4-1.2-1.2-1.2-2-1.2 2.1-1.2 1.8-1.2 0.2-1.2-0.4-1.2 1.2-1.2 1.1-1.2 1.9-1.2-2.9-1.2 1.7-1.2 1.5-1.2-3.3-1.2 1.7-1.2 1-1.2 1.7-1.2 1.2-1.2 1.8-1.2-3.7-1.2 4-1.2-1.5-1.2-2.4-1.2 0.9-1.2 0-1.2-0.6-1.2 0-1.2-2.2-1.2 0.7-1.2-2.2-1.2-0.9-1.2 1.2-1.2-1.3-1.2-1.4-1.2 0.2-1.2-3-1.2-2.6-1.2 1.7-1.2-3.1-1.2 0-1.2 0.6-1.2-1.2-1.2 0.3-1.2-2.6-1.2 1.8-1.2-1.9-1.2 0-1.2-0.6-1.2 1.8-1.2-2-1.2 0.4-1.2 1.9-1.2 0.5-1.2-1.5-1.2-1.6z" fill="#67bedb" opacity="0.46"/>
<path d="M301.1 691.8l1.2 0.2 1.2 0.5 1.2 0.6 1.2-1.5 1.2-0.3 1.2 0.2 1.2 0.5 1.2-0.6 1.2-0.3 1.2-1.1 1.2 0 1.2-2.6 1.2 0.7 1.2-2 1.2 2.2 1.2-1.5 1.2 2.1 1.2 3.1 1.2-2.2 1.2 2.4 1.2-3.1 1.2 0.9 1.2 1.4 1.2-1.8 1.2 0 1.2-2.1 1.2-3 1.2 5 1.2-1.1 1.2-2.4 1.2 2.3 1.2-0.1 1.2-1.1 1.2 1.6 1.2-1.3 1.2 1.3 1.2-1.3 1.2-0.4 1.2-1.4 1.2-2.6 1.2 1.2 1.2 1.9 1.2-2 1.2 2.3 1.2 1 1.2 0.9 1.2 1 1.2-3.9 1.2-3 1.2 4 1.2-3.1 1.2-0.7 1.2 0.7 1.2 2.3 1.2-0.5 1.2 2.8 1.2 1.1 1.2 2.9 1.2-3.2 1.2-0.8 1.2 2 1.2-5 1.2-4.3 1.2-2.8 1.2-7.9 1.2-5.2 1.2-3.4 1.2-4.5 1.2-4.7 1.2 0.9 1.2-4.2 1.2-5.1 1.2-3.8 1.2-4.7 1.2-1.7 1.2-2.9 1.2 2.7 1.2-0.6 1.2-0.7 1.2 1.4 1.2-0.4 1.2-0.2 1.2-3.2 1.2-1.5 1.2 0.6 1.2 0.2 1.2 1.6 1.2 4.4 1.2-3.3 1.2 5.7 0 26.4-1.2 0-1.2-0.7-1.2-2.6-1.2-3.6-1.2-0.7-1.2-0.4-1.2 0.4-1.2 2.1-1.2-1.8-1.2 2.4-1.2-1.3-1.2 0.1-1.2-1.3-1.2-1.4-1.2 1.6-1.2 1.1-1.2 4.5-1.2 4.1-1.2 4-1.2 2.9-1.2-1.8-1.2 2.1-1.2 4.8-1.2 6.8-1.2 2.8-1.2 4.5-1.2 2.8-1.2 4.7-1.2 1.3-1.2 0.5-1.2-0.4-1.2 3.4-1.2-2.1-1.2 0.6-1.2-4.2-1.2-0.7-1.2 0.8-1.2-1.3-1.2 0.2-1.2 2.1-1.2 0.4-1.2 3.1-1.2-0.8-1.2-0.2-1.2 0.1-1.2-0.1-1.2-0.5-1.2 1.3-1.2-2.6-1.2 0.1-1.2 2.5-1.2-2-1.2 2.3-1.2 1.6-1.2-2.5-1.2 1-1.2-3.5-1.2 2.2-1.2-0.4-1.2-4.6-1.2 3.4-1.2-1.9-1.2-2.7-1.2 4.5-1.2 0.1-1.2 0.4-1.2-0.2-1.2 1-1.2-2.6-1.2 2.4-1.2-0.9-1.2-0.7-1.2 1.7-1.2-4-1.2 0.4-1.2-1.3-1.2-0.3-1.2 1.8-1.2 1.4-1.2 0.7-1.2 0.2-1.2 2.1-1.2-1.4-1.2 0.4-1.2-0.4-1.2-1.5-1.2 2.9-1.2-3.9-1.2 0.3-1.2-1z" fill="#f8ac7e" opacity="0.46"/>
<path d="M301.1 695.4l1.2 0.8 1.2-0.1 1.2 0.2 1.2 0.9 1.2-0.9 1.2 0.3 1.2-1.2 1.2 0 1.2 1.1 1.2 1.7 1.2-1.2 1.2 2.1 1.2-1.6 1.2 0 1.2 1.2 1.2-0.8 1.2 0.9 1.2-2.1 1.2 1.3 1.2 1.7 1.2-0.1 1.2-0.3 1.2 0.7 1.2-2 1.2 0.8 1.2 1.1 1.2-0.9 1.2 1.8 1.2-0.1 1.2-1.1 1.2 1.5 1.2-0.4 1.2 0.1 1.2 2.6 1.2-2.3 1.2 0.8 1.2-0.8 1.2-1.2 1.2 0.1 1.2-1 1.2-0.9 1.2 1.5 1.2-0.1 1.2-0.7 1.2 1.7 1.2-0.4 1.2-0.8 1.2-2.5 1.2 0.3 1.2 0.6 1.2-0.7 1.2-2.1 1.2 0.5 1.2 1.1 1.2-0.2 1.2 0.2 1.2 0 1.2 2.4 1.2 0 1.2 0.1 1.2-1.5 1.2-2.1 1.2-4.6 1.2-3 1.2-4.1 1.2-2.7 1.2-2.6 1.2-5.7 1.2-3.5 1.2-6.8 1.2-4.5 1.2-0.9 1.2-2.2 1.2-4.8 1.2-2 1.2 0.8 1.2-1.1 1.2-0.6 1.2 4 1.2-2.1 1.2 2.3 1.2-1.1 1.2 1.9 1.2-2.3 1.2 2.5 1.2-1.3 1.2 2.9 1.2 0.4 1.2 2.5 1.2-3" stroke="#4b9da4" stroke-width="1.4" fill="none"/>
<path d="M301.1 694.6l1.2 1 1.2 1 1.2 1.9 1.2-2.8 1.2 1.9 1.2 0.1 1.2-0.8 1.2 0 1.2-0.3 1.2-1.9 1.2 0 1.2-2 1.2 0.7 1.2-1.4 1.2 1.1 1.2-0.2 1.2 1.1 1.2 2.5 1.2-1.5 1.2 1.7 1.2-2.8 1.2 2.9 1.2 0.1 1.2-1.9 1.2-1.2 1.2 1.1 1.2-3.7 1.2 3.6 1.2-0.8 1.2-1.8 1.2 1.8 1.2 1 1.2-1.5 1.2 1.5 1.2 0 1.2 3.3 1.2-3.1 1.2-0.5 1.2 0 1.2-4.1 1.2 1.5 1.2 2.4 1.2-1.1 1.2 1.7 1.2-0.2 1.2 0.2 1.2 0.2 1.2-0.8 1.2-3.3 1.2 2 1.2-2 1.2-1.6 1.2 1.6 1.2 0.5 1.2-0.1 1.2 3.4 1.2 0.5 1.2 0.8 1.2 0.4 1.2-1.4 1.2-0.8 1.2-2.7 1.2-3.7 1.2-3.9 1.2-4.3 1.2-4 1.2-6.3 1.2-5.3 1.2-2 1.2 0.6 1.2-3.7 1.2-4.1 1.2-3.7 1.2-5 1.2-0.9 1.2-3.1 1.2 2.5 1.2-0.4 1.2 0.8 1.2 0.6 1.2-1.2 1.2 0.9 1.2-1.7 1.2-1.3 1.2-0.8 1.2 1.6 1.2 1.1 1.2 4 1.2-0.6 1.2 3" stroke="#f78a45" stroke-width="1.4" fill="none"/>
<path d="M301 609.7L301 722.9" stroke="#222" stroke-width="0.9"/>
<path d="M301 722.9L409.3 722.9" stroke="#222" stroke-width="0.9"/>
<path d="M301 722.9L302.8 722.9" stroke="#222" stroke-width="0.6"/>
<path d="M301 694.6L302.8 694.6" stroke="#222" stroke-width="0.6"/>
<path d="M301 666.3L302.8 666.3" stroke="#222" stroke-width="0.6"/>
<path d="M301 638L302.8 638" stroke="#222" stroke-width="0.6"/>
<path d="M301 609.7L302.8 609.7" stroke="#222" stroke-width="0.6"/>
<text x="285.3" y="726.8" font-size="12.3">-1</text>
<text x="289.2" y="700.1" font-size="12.3">0</text>
<text x="289.4" y="671.8" font-size="12.3">1</text>
<text x="289.4" y="643.5" font-size="12.3">2</text>
<text x="289.3" y="619.3" font-size="12.3">3</text>
<path d="M323.3 722.9L323.3 721.1" stroke="#222" stroke-width="0.6"/>
<path d="M371.5 722.9L371.5 721.1" stroke="#222" stroke-width="0.6"/>
<path d="M395.6 722.9L395.6 721.1" stroke="#222" stroke-width="0.6"/>
<path d="M371.5 609.7L371.5 722.9" stroke="#3aa845" stroke-width="1.3"/>
<text x="305.9" y="616.7" font-size="10">Type 3</text>
<path d="M436.5 720.6l34.3 0 7.2-1 2.1-4.4 1-48.6 1.2-37.9 2.4-9.1 5.8-3.8 7.2-2.7 6.8-0.6 2.4 2.2 2.4 8.1 2.4 11.9 2.4 16.2 2.4 18.9 3.4 16.2 4.8 11.9 5.8 9.2 6.8 9.2 7.2 3.8" stroke="#d4d4d4" stroke-width="2.6" fill="none" stroke-linejoin="round"/>
<path d="M436.5 665.7l1.2-3.8 1.2-2.5 1.2-1.4 1.2 1.2 1.2 0.4 1.2-2.3 1.2 1.2 1.2-3.4 1.2 0.1 1.2 1.2 1.2-0.5 1.2-0.8 1.2-1.8 1.2 4.3 1.2-1.2 1.2-2.9 1.2-2.5 1.2-3.8 1.2 2.3 1.2-2.1 1.2-1.2 1.2 0.2 1.2-4.1 1.2-0.2 1.2-2.4 1.2-5.5 1.2-4.2 1.2-3.1 1.2-0.6 1.2-4.7 1.2 1.4 1.2 0.7 1.2-1.9 1.2-4.5 1.2 0.5 1.2 5.6 1.2 8.9 1.2-0.9 1.2 4.7 1.2 1.1 1.2 3.6 1.2 0.5 1.2 1.5 1.2 2.4 1.2 1.8 1.2 0.9 1.2 3.7 1.2 0 1.2 3.3 1.2-1.8 1.2 2.9 1.2 2.9 1.2 0.4 1.2-2.4 1.2 2.3 1.2 3 1.2 4 1.2 0.7 1.2 0.2 1.2 2.4 1.2-2.1 1.2 1.4 1.2-1.9 1.2 0.1 1.2 4.8 1.2 1.8 1.2-0.2 1.2 0.1 1.2 0.8 1.2 4.4 1.2 0.5 1.2 3.2 1.2 1.6 1.2-1.2 1.2-2.9 1.2-1 1.2-1.1 1.2 2.4 1.2-4.5 1.2 0.4 1.2-0.8 1.2 0.5 1.2 1.1 1.2 1.8 1.2-2.9 1.2 4.6 1.2-1.5 1.2-0.9 1.2 0.5 1.2-1.5 0 24.1-1.2 1.9-1.2-2.9-1.2 4.4-1.2-0.9-1.2-2.2-1.2 2.2-1.2-4-1.2 5.4-1.2-3.1-1.2 3-1.2-1.7-1.2 4.5-1.2-4.3-1.2 3.1-1.2 2.5-1.2 1.8-1.2-1.8-1.2-1.8-1.2-4.1-1.2-1-1.2-1.9-1.2-2.8-1.2-2.2-1.2 3.4-1.2-4.4-1.2-2.8-1.2-1.7-1.2-1.2-1.2 2.8-1.2 0.9-1.2-4.1-1.2 3.6-1.2-2.1-1.2-5.4-1.2-0.6-1.2-1.4-1.2 2.4-1.2 0.8-1.2-3.9-1.2-2.4-1.2 2.5-1.2-1-1.2-2.4-1.2-3.9-1.2 0.4-1.2-1.1-1.2-3.2-1.2 0.6-1.2 0.2-1.2-4.9-1.2-4.5-1.2-0.5-1.2-0.2-1.2-7.3-1.2-7.7-1.2-2.1-1.2 5.6-1.2 0.5-1.2 1.4-1.2-2.4-1.2 2.5-1.2-0.5-1.2 3-1.2 3.9-1.2 1.7-1.2 4-1.2 0.2-1.2 0.9-1.2 0.6-1.2 0.9-1.2 1.3-1.2-0.8-1.2-0.8-1.2 4.9-1.2 2.1-1.2 0.6-1.2-1.5-1.2-2-1.2 2.4-1.2 0.7-1.2-1.2-1.2 1-1.2 1.6-1.2-1.7-1.2 1.1-1.2-0.4-1.2 0-1.2 1.1-1.2 2.2-1.2 0.2z" fill="#67bedb" opacity="0.46"/>
<path d="M436.5 672.7l1.2-5.1 1.2-0.1 1.2 0.4 1.2-3.9 1.2-1.2 1.2-1.2 1.2-3.8 1.2-1.6 1.2 1.3 1.2-0.9 1.2-3.3 1.2 0.5 1.2-0.3 1.2 0.4 1.2 3 1.2 1.1 1.2-10.5 1.2 2.7 1.2-1.6 1.2-1.4 1.2-6.4 1.2-1 1.2-0.3 1.2-3.4 1.2 0.2 1.2-1.5 1.2-5 1.2-2.9 1.2-2.4 1.2-1.6 1.2-0.3 1.2-1.1 1.2-4.3 1.2 7.9 1.2-1.2 1.2-1.3 1.2 1.6 1.2 4.9 1.2 2.1 1.2 3.3 1.2 0 1.2 6.8 1.2-3.7 1.2 2.2 1.2 1.6 1.2 5.5 1.2 1.6 1.2-0.8 1.2 5.1 1.2-1.2 1.2 3 1.2 2 1.2 1.7 1.2 3.1 1.2-0.7 1.2 1 1.2 3.1 1.2 1.8 1.2 3.3 1.2-2 1.2-0.7 1.2 0.4 1.2 2.6 1.2 0.2 1.2 0.5 1.2-1.1 1.2 1.4 1.2-0.4 1.2 2.1 1.2 2.1 1.2 0.2 1.2 2.3 1.2 2.3 1.2-0.2 1.2 0.3 1.2-0.7 1.2 1.7 1.2-3 1.2 2.1 1.2 2.2 1.2-0.2 1.2 4.9 1.2 0.4 1.2-2.8 1.2-2 1.2-0.4 1.2 2 1.2-3.4 1.2-0.3 1.2 1.8 0 20.3-1.2-0.6-1.2 2.6-1.2 3.6-1.2-0.2-1.2-0.5-1.2 0.1-1.2 5.4-1.2 0.9-1.2-4.1-1.2-3.1-1.2 0.4-1.2-1.6-1.2 0.7-1.2-3-1.2 3.2-1.2-1.3-1.2 0.7-1.2-4-1.2 0.5-1.2-2.5-1.2-0.1-1.2-3-1.2 0.6-1.2-3.2-1.2-1.6-1.2 0.7-1.2 0.9-1.2-3.7-1.2 2.3-1.2-3-1.2 3.1-1.2-1.7-1.2-3.5-1.2-3.4-1.2 0.2-1.2 1.1-1.2-1.6-1.2-0.1-1.2-3.9-1.2-1.1-1.2-0.7-1.2-1.1-1.2-0.7-1.2-1.5-1.2-2.7-1.2-2.6-1.2-0.9-1.2 1.6-1.2-3.9-1.2-0.7-1.2-1-1.2-3-1.2-4-1.2-2.9-1.2 0.9-1.2-0.3-1.2-4.8-1.2-0.1-1.2 2.4-1.2-2.7-1.2 5.3-1.2 0.7-1.2 0.5-1.2-0.2-1.2 4.1-1.2-1.2-1.2 3.2-1.2-2-1.2 0.7-1.2 7.2-1.2 0.5-1.2 1-1.2-3.1-1.2 6.8-1.2 0.7-1.2-2.7-1.2 0.2-1.2 0.4-1.2-1.4-1.2 3.9-1.2-0.5-1.2 1.4-1.2 0.3-1.2 0.2-1.2 1.1-1.2 3.5-1.2 2.1-1.2-0.9-1.2 0.8-1.2 5.8z" fill="#f8ac7e" opacity="0.46"/>
<path d="M436.5 671.2l1.2-1.6 1.2-1.7 1.2-1.5 1.2 0.2 1.2-0.3 1.2-1.1 1.2 0.9 1.2-3 1.2 1.1 1.2-0.1 1.2-0.6 1.2 0.6 1.2-1.3 1.2 3.8 1.2-2.5 1.2-1.4 1.2-4 1.2-1.1 1.2 0.1 1.2-1.4 1.2 0.6 1.2-1.4 1.2-1.8 1.2-0.1 1.2-2.9 1.2-4.4 1.2-3.5 1.2-2.2 1.2-2.6 1.2-1.3 1.2 0.1 1.2 0.2 1.2-2.3 1.2-4.7 1.2 2.3 1.2 7.7 1.2 6 1.2 0.6 1.2 2.7 1.2 2.9 1.2 3.5 1.2-1.1 1.2 1.3 1.2 3.3 1.2 2.2 1.2 1 1.2 2 1.2 2.8 1.2-0.1 1.2-0.7 1.2 3.1 1.2 2.1 1.2 0 1.2-1.8 1.2 2.1 1.2 2.3 1.2 2.7 1.2 2 1.2-0.7 1.2 2.3 1.2-0.2 1.2-0.3 1.2-0.5 1.2 0.4 1.2 3.4 1.2 1.7 1.2-0.7 1.2 1.1 1.2 3.3 1.2 1.8 1.2 1.4 1.2 2.7 1.2 1.9 1.2 0.6 1.2-3.6 1.2-0.3 1.2-3.1 1.2 3.3 1.2-3.5 1.2 0.2 1.2-1.8 1.2 2.2 1.2-1.9 1.2 2.7 1.2-1.5 1.2 0.7 1.2 0.8 1.2-2.3 1.2 0.9 1.2-1" stroke="#4b9da4" stroke-width="1.4" fill="none"/>
<path d="M436.5 679.1l1.2-3.7 1.2-0.5 1.2 0.6 1.2-2.9 1.2-3.1 1.2-0.2 1.2-2.2 1.2-0.6 1.2-0.8 1.2-1.3 1.2-2.8 1.2 2.2 1.2-1 1.2 1.1 1.2 1.3 1.2 0.2 1.2-7.8 1.2 0.4 1.2 1 1.2-2.2 1.2-5 1.2-1.3 1.2 1.1 1.2-2.9 1.2 0.2 1.2-3.4 1.2-0.9 1.2-3.1 1.2-1 1.2-3 1.2-0.5 1.2-1.4 1.2-0.6 1.2 5 1.2-0.7 1.2-0.9 1.2 2.6 1.2 5.4 1.2 1.8 1.2 1.4 1.2 1.3 1.2 4.9 1.2-2.5 1.2 1.4 1.2 2.6 1.2 3.9 1.2 2.1 1.2-1.9 1.2 4.2 1.2-0.7 1.2 1.9 1.2 2.8 1.2 3 1.2 1.5 1.2-1.8 1.2 1 1.2 2.1 1.2 3.1 1.2 2 1.2-0.7 1.2 0.1 1.2 0.9 1.2 2.3 1.2-1.1 1.2 0.4 1.2 0.5 1.2 1.2 1.2 0 1.2 2.4 1.2 1 1.2 1.8 1.2 0 1.2 1.6 1.2 1.5 1.2 1 1.2-1.5 1.2 2.4 1.2-1.6 1.2 0.8 1.2 0.4 1.2 3.1 1.2 2.2 1.2-0.1 1.2-3.1 1.2-1.4 1.2 0.7 1.2 0.4 1.2-2.3 1.2-1.6 1.2 1.8" stroke="#f78a45" stroke-width="1.4" fill="none"/>
<path d="M436.4 609.7L436.4 722.9" stroke="#222" stroke-width="0.9"/>
<path d="M436.4 722.9L544.7 722.9" stroke="#222" stroke-width="0.9"/>
<path d="M436.4 722.9L438.2 722.9" stroke="#222" stroke-width="0.6"/>
<path d="M436.4 694.6L438.2 694.6" stroke="#222" stroke-width="0.6"/>
<path d="M436.4 666.3L438.2 666.3" stroke="#222" stroke-width="0.6"/>
<path d="M436.4 638L438.2 638" stroke="#222" stroke-width="0.6"/>
<path d="M436.4 609.7L438.2 609.7" stroke="#222" stroke-width="0.6"/>
<text x="420.7" y="726.8" font-size="12.3">-2</text>
<text x="420.7" y="700.1" font-size="12.3">-1</text>
<text x="424.6" y="671.8" font-size="12.3">0</text>
<text x="424.8" y="643.5" font-size="12.3">1</text>
<text x="424.8" y="619.3" font-size="12.3">2</text>
<path d="M458.7 722.9L458.7 721.1" stroke="#222" stroke-width="0.6"/>
<path d="M506.9 722.9L506.9 721.1" stroke="#222" stroke-width="0.6"/>
<path d="M531 722.9L531 721.1" stroke="#222" stroke-width="0.6"/>
<path d="M506.9 609.7L506.9 722.9" stroke="#3aa845" stroke-width="1.3"/>
<text x="441.3" y="616.7" font-size="10">Type 4</text>
<path d="M571.9 720.6l34.3 0 7.2-1 2.1-4.4 1-48.6 1.2-37.9 2.4-9.1 5.8-3.8 7.2-2.7 6.8-0.6 2.4 2.2 2.4 8.1 2.4 11.9 2.4 16.2 2.4 18.9 3.4 16.2 4.8 11.9 5.8 9.2 6.8 9.2 7.2 3.8" stroke="#d4d4d4" stroke-width="2.6" fill="none" stroke-linejoin="round"/>
<path d="M571.9 662.2l1.2-1 1.2-3.1 1.2 4.6 1.2 0.2 1.2-1.2 1.2 0.1 1.2 1.6 1.2 1.8 1.2-1.2 1.2-1.9 1.2-1.5 1.2-0.8 1.2-2.4 1.2 1 1.2 2.3 1.2 2.8 1.2-2.2 1.2 3.3 1.2-1.9 1.2 1.9 1.2-2 1.2 4.9 1.2-1.7 1.2 1.2 1.2 1.3 1.2-2.3 1.2-0.5 1.2 2.5 1.2 0.7 1.2 0.8 1.2-0.4 1.2 1.3 1.2 2.3 1.2-0.2 1.2 0.4 1.2 4.1 1.2 1 1.2 0.6 1.2-0.7 1.2 5.2 1.2 0.5 1.2-3.1 1.2-2.2 1.2-0.8 1.2 4.9 1.2-4.3 1.2-2.2 1.2 4.4 1.2-2.8 1.2-0.7 1.2-1.7 1.2 3.5 1.2-1.6 1.2-2.4 1.2-0.5 1.2-2.9 1.2-2.8 1.2-0.9 1.2-0.4 1.2-7.1 1.2-5.5 1.2-7.2 1.2-8.9 1.2-7.9 1.2-5.1 1.2-4.4 1.2-9.2 1.2 1.7 1.2-1.6 1.2 2.8 1.2 2.9 1.2 2.2 1.2-0.5 1.2 3 1.2 3.3 1.2 6 1.2-1.5 1.2 1.7 1.2 4 1.2 5.1 1.2 1.5 1.2 3.8 1.2-0.2 1.2 1.3 1.2 1.9 1.2-3.4 1.2 1.6 1.2 3.2 1.2-0.7 1.2 1.6 0 16.5-1.2 0-1.2-2.5-1.2-0.7-1.2 3.4-1.2 1.8-1.2-1-1.2 2-1.2-0.2-1.2-1.9-1.2-1.4-1.2-3.2-1.2-4.3-1.2-0.7-1.2-0.2-1.2-3.1-1.2 0.1-1.2-3-1.2-0.4-1.2-1.9-1.2-2.6-1.2-0.9-1.2 1.6-1.2-2.1-1.2 9.4-1.2 1.9-1.2 2.2-1.2 8.2-1.2 5.4-1.2 3.5-1.2 3.4-1.2 4.9-1.2-1.1-1.2 2.8-1.2 1-1.2 5.5-1.2-0.6-1.2 1.5-1.2-0.5-1.2-3.1-1.2 2.5-1.2 0.8-1.2 0.6-1.2-0.5-1.2 2.1-1.2 2.2-1.2-2.9-1.2 1.1-1.2 5.9-1.2 1.5-1.2-0.4-1.2-5.4-1.2 0.4-1.2-0.5-1.2-0.7-1.2-1.7-1.2 1.8-1.2-2.4-1.2-2.6-1.2-2-1.2-0.7-1.2-2.5-1.2-3.2-1.2 2.9-1.2-3.9-1.2 1.7-1.2 0.6-1.2-2.6-1.2-0.1-1.2-3.7-1.2-0.3-1.2 3.7-1.2-2-1.2-3.7-1.2-1.2-1.2-1.1-1.2-2.7-1.2-0.9-1.2 2-1.2-0.6-1.2 3.5-1.2 0.6-1.2 1.4-1.2-2.3-1.2-1.3-1.2 0.2-1.2-0.3-1.2 1.2-1.2-3.6-1.2 2-1.2-1z" fill="#67bedb" opacity="0.46"/>
<path d="M571.9 658.8l1.2 1.8 1.2 0.1 1.2-0.9 1.2 0.9 1.2-1.7 1.2 0.4 1.2 0.1 1.2-4 1.2 3.1 1.2-0.2 1.2 0.7 1.2 2 1.2-1.2 1.2 2.6 1.2-0.2 1.2-0.6 1.2 2.8 1.2-0.8 1.2-0.3 1.2 0.4 1.2 0.3 1.2 0.9 1.2 0.7 1.2 0.6 1.2-3 1.2 2 1.2 2.7 1.2 0 1.2 3.7 1.2-0.5 1.2 7 1.2-1.1 1.2 2.9 1.2 4.3 1.2 1.6 1.2 0.3 1.2 3 1.2 3.2 1.2 0 1.2-0.6 1.2-3 1.2-0.6 1.2-2.6 1.2-0.6 1.2 1.3 1.2 0.9 1.2-0.9 1.2-5.1 1.2-3 1.2 3.7 1.2-0.5 1.2 1.9 1.2-2.7 1.2-3.7 1.2 1.7 1.2 3 1.2-4.4 1.2-1.6 1.2-1.9 1.2-7.2 1.2-2.8 1.2-2.5 1.2 0.7 1.2-5 1.2-3.7 1.2 0.3 1.2-2.4 1.2-3.7 1.2 1 1.2-1.4 1.2-0.7 1.2-2.7 1.2 3.8 1.2-2.8 1.2 0.8 1.2 3.5 1.2-0.2 1.2 4.8 1.2-3 1.2-1.3 1.2 3.1 1.2 2.5 1.2 1.6 1.2-1.4 1.2 1 1.2 0.9 1.2 0.5 1.2 5.9 1.2-4.6 1.2 2.9 0 24.7-1.2-3.9-1.2-0.8-1.2-3.4-1.2 2.6-1.2-3.2-1.2 1.3-1.2-1.3-1.2-0.2-1.2-2.9-1.2-3.4-1.2 2.5-1.2-0.5-1.2-2.4-1.2 0.2-1.2-4.7-1.2 0.3-1.2 3-1.2-0.5-1.2 0.1-1.2 1.8-1.2 1.6-1.2-1.1-1.2 2.4-1.2-0.5-1.2 5.2-1.2-0.1-1.2 5.3-1.2 0.7-1.2 1.7-1.2 2.9-1.2 4.9-1.2 0.6-1.2 2.9-1.2 1.3-1.2-4.9-1.2 4.8-1.2-1-1.2 2.5-1.2 0.1-1.2-1.1-1.2-0.6-1.2-0.3-1.2 2.9-1.2 1.7-1.2-0.5-1.2 1.5-1.2 0.9-1.2-0.5-1.2 3.8-1.2 0.8-1.2 1.4-1.2-2.7-1.2 0.6-1.2-4.8-1.2 0.8-1.2-2.7-1.2-2.5-1.2-1.4-1.2-1.9-1.2-3.6-1.2-2.2-1.2-1.5-1.2 0.9-1.2-3.3-1.2-3.3-1.2 3-1.2-0.6-1.2-2.5-1.2-0.3-1.2-1.2-1.2-1.8-1.2 0.8-1.2 0.4-1.2-3.4-1.2 0.6-1.2-0.1-1.2-2.3-1.2-0.3-1.2-0.3-1.2-2.1-1.2 0.1-1.2-2.5-1.2 0.6-1.2 0.7-1.2 1.1-1.2-1.2-1.2-0.9-1.2 1.3-1.2-1.6-1.2 1.1z" fill="#f8ac7e" opacity="0.46"/>
<path d="M571.9 667.6l1.2-0.8 1.2-0.6 1.2 2.4 1.2 0.9 1.2-1 1.2 0 1.2 2.1 1.2 0.6 1.2-0.3 1.2-0.9 1.2-3.1 1.2-0.1 1.2-1.9 1.2-0.2 1.2 3.2 1.2 0.7 1.2 2.3 1.2 1.2 1.2 0.5 1.2-0.7 1.2 0.6 1.2 1.7 1.2 0 1.2 0.7 1.2 1.8 1.2-2.5 1.2 0.7 1.2 1.8 1.2 1.7 1.2 1.1 1.2 0.3 1.2 2.2 1.2 1.5 1.2 1.1 1.2-0.4 1.2 3.8 1.2 0.2 1.2 1.6 1.2-0.8 1.2 4.2 1.2 1 1.2-3.3 1.2-3.7 1.2 0.5 1.2 2 1.2-2.9 1.2-0.7 1.2 0.8 1.2-1.4 1.2-1.9 1.2 0.8 1.2 1.6 1.2 0.6 1.2-3.9 1.2 2 1.2-5.4 1.2-1.2 1.2-0.7 1.2-1.3 1.2-6 1.2-3.6 1.2-5.9 1.2-7.8 1.2-6.5 1.2-5.7 1.2-2.5 1.2-8.2 1.2 0.9 1.2-0.6 1.2 1.4 1.2 2.7 1.2 2.3 1.2 0.3 1.2 1.7 1.2 3.1 1.2 2.8 1.2-0.8 1.2 3.7 1.2 2.8 1.2 3.7 1.2 1.7 1.2 2.1 1.2-0.2 1.2 1.5 1.2 0.4 1.2-2.2 1.2-0.6 1.2 2.1 1.2 0.6 1.2-0.2" stroke="#4b9da4" stroke-width="1.4" fill="none"/>
<path d="M571.9 666.1l1.2-1.4 1.2 1.6 1.2-0.6 1.2 0.5 1.2-1.2 1.2 1 1.2-1.5 1.2-1.2 1.2 3 1.2-0.2 1.2-0.3 1.2 2.1 1.2-1.1 1.2 2.5 1.2 1.2 1.2-0.4 1.2 1.4 1.2 0.2 1.2-0.7 1.2 2.1 1.2-0.1 1.2 1.5 1.2 1.9 1.2 0 1.2-3.7 1.2 2.5 1.2 3.3 1.2 0.4 1.2 1.4 1.2 2.1 1.2 3.5 1.2 2.1 1.2 1.8 1.2 3 1.2 1.3 1.2-0.3 1.2 4.7 1.2 1.9 1.2 1.3 1.2-1.8 1.2-1.7 1.2-1.3 1.2-0.8 1.2-2.3 1.2 1.1 1.2 0.1 1.2-0.9 1.2-4.4 1.2-0.7 1.2 1.3 1.2 0.6 1.2 1.1 1.2-2.3 1.2-3.2 1.2-0.4 1.2 2.9 1.2-2.2 1.2-1.6 1.2-1.3 1.2-6 1.2-2.4 1.2-2.2 1.2-0.5 1.2-4.8 1.2-1.1 1.2-3.2 1.2-1.3 1.2-3.3 1.2 1.1 1.2-1.2 1.2-0.6 1.2-1.4 1.2 0.8 1.2-1.5 1.2-0.2 1.2 2.4 1.2 1.2 1.2 2.9 1.2-0.4 1.2-2.4 1.2 3.2 1.2 1.5 1.2 1.8 1.2 0.4 1.2 0.9 1.2 0.6 1.2 0.7 1.2 2.6 1.2-0.5 1.2 2" stroke="#f78a45" stroke-width="1.4" fill="none"/>
<path d="M571.8 609.7L571.8 722.9" stroke="#222" stroke-width="0.9"/>
<path d="M571.8 722.9L680.1 722.9" stroke="#222" stroke-width="0.9"/>
<path d="M571.8 722.9L573.6 722.9" stroke="#222" stroke-width="0.6"/>
<path d="M571.8 694.6L573.6 694.6" stroke="#222" stroke-width="0.6"/>
<path d="M571.8 666.3L573.6 666.3" stroke="#222" stroke-width="0.6"/>
<path d="M571.8 638L573.6 638" stroke="#222" stroke-width="0.6"/>
<path d="M571.8 609.7L573.6 609.7" stroke="#222" stroke-width="0.6"/>
<text x="556.1" y="726.8" font-size="12.3">-2</text>
<text x="556.1" y="700.1" font-size="12.3">-1</text>
<text x="560" y="671.8" font-size="12.3">0</text>
<text x="560.2" y="643.5" font-size="12.3">1</text>
<text x="560.2" y="619.3" font-size="12.3">2</text>
<path d="M594.1 722.9L594.1 721.1" stroke="#222" stroke-width="0.6"/>
<path d="M642.3 722.9L642.3 721.1" stroke="#222" stroke-width="0.6"/>
<path d="M666.4 722.9L666.4 721.1" stroke="#222" stroke-width="0.6"/>
<path d="M642.3 609.7L642.3 722.9" stroke="#3aa845" stroke-width="1.3"/>
<text x="576.7" y="616.7" font-size="10">Type 5</text>
<path d="M30.3 843.5l34.2 0 7.3-1.1 2.1-4.3 1-48.2 1.2-37.5 2.4-9.1 5.8-3.8 7.2-2.7 6.8-0.5 2.4 2.1 2.4 8.1 2.4 11.8 2.4 16 2.4 18.8 3.4 16.1 4.8 11.8 5.8 9.1 6.8 9.1 7.2 3.7" stroke="#d4d4d4" stroke-width="2.6" fill="none" stroke-linejoin="round"/>
<path d="M30.3 812.3l1.2 0 1.2-0.1 1.2-2.3 1.2 2.4 1.2 0.5 1.2 1.6 1.2-2 1.2 3.2 1.2-1.5 1.2 0.8 1.2-3.7 1.2-2.7 1.2-0.2 1.2-0.9 1.2-1.9 1.2-0.8 1.2-2.9 1.2 5.6 1.2-2.9 1.2-0.5 1.2-2.4 1.2 0.5 1.2-2.3 1.2-1.7 1.2-3.8 1.2-2.8 1.2-1.4 1.2-1.7 1.2-4 1.2-0.4 1.2-3.8 1.2-2.7 1.2 1.9 1.2-3.3 1.2-1.4 1.2-2.5 1.2-7.7 1.2-5.3 1.2-0.3 1.2 3.5 1.2 5.4 1.2-1.2 1.2-1.9 1.2 2.8 1.2 1 1.2 2.8 1.2-0.3 1.2 1.6 1.2 0.1 1.2 1.9 1.2-0.4 1.2 1.9 1.2 1.2 1.2 3.3 1.2 2.8 1.2-1.4 1.2-1.8 1.2 3.6 1.2-0.6 1.2 3.2 1.2 1.2 1.2-2.4 1.2 2.3 1.2-0.5 1.2 2.4 1.2-1.9 1.2 1.2 1.2 0.5 1.2-3.4 1.2 2.3 1.2-2.7 1.2 1.5 1.2-1 1.2 2.5 1.2-1.6 1.2-5.2 1.2 0.9 1.2-0.1 1.2-3.7 1.2 0.6 1.2 0.7 1.2-2.9 1.2 3.5 1.2-0.3 1.2 2.9 1.2-3.6 1.2 2.6 1.2 1.3 1.2 2.5 1.2-0.6 0 27.1-1.2-2.6-1.2 0.1-1.2-3.6-1.2-1.6-1.2 4.5-1.2-3.5-1.2-2.2-1.2-2.9-1.2 3.5-1.2-2.8-1.2-0.9-1.2 3.7-1.2 1.2-1.2-1.2-1.2 3.4-1.2 1-1.2 0.4-1.2-2.3-1.2 0.1-1.2-0.7-1.2 1.2-1.2 0.2-1.2 0.9-1.2-0.3-1.2-0.4-1.2 1.5-1.2-1.4-1.2-2.1-1.2 2.8-1.2-1.6-1.2-1.2-1.2 0.6-1.2-1.6-1.2-2.9-1.2 3.8-1.2-1.2-1.2-1.4-1.2-2.2-1.2-1.7-1.2-0.1-1.2-2.7-1.2 2.1-1.2-1.8-1.2 1.2-1.2-6-1.2 1.8-1.2-3-1.2 0.7-1.2-1.2-1.2-3.8-1.2-4.8-1.2 2.8-1.2-0.6-1.2 4.9-1.2 3.3-1.2 2.9-1.2 1.8-1.2-1.1-1.2 0.7-1.2 2.1-1.2-0.7-1.2 3.4-1.2 2.8-1.2 1.1-1.2 2.8-1.2 2.1-1.2 1.7-1.2 1.2-1.2 0.1-1.2-0.9-1.2 2.6-1.2 3.2-1.2-4.9-1.2-0.2-1.2 4.5-1.2 0.2-1.2-0.1-1.2 1.5-1.2 1-1.2 4.9-1.2 1.8-1.2-1.5-1.2-0.4-1.2-0.6-1.2 2.3-1.2-3.1-1.2-2.1-1.2 3.2-1.2-0.5-1.2-0.8z" fill="#67bedb" opacity="0.46"/>
<path d="M30.3 817l1.2-0.8 1.2-1.9 1.2 5 1.2-1.6 1.2-2.4 1.2-2.8 1.2-1.1 1.2 3.7 1.2 0.1 1.2-0.3 1.2-3.8 1.2-0.2 1.2-0.7 1.2 2.7 1.2 0.9 1.2-3.7 1.2-2 1.2-0.9 1.2 0.5 1.2-1.8 1.2-6 1.2-1.3 1.2-3.4 1.2-5.5 1.2-0.2 1.2-7.6 1.2 1.1 1.2-4.1 1.2-0.8 1.2-3.6 1.2-3.9 1.2-2.7 1.2-2.9 1.2 3.2 1.2-7.6 1.2-0.7 1.2-3.6 1.2 1.1 1.2 4.5 1.2 1.7 1.2 0.1 1.2 1.8 1.2 2.1 1.2 0.5 1.2 1.7 1.2 2.1 1.2 1.1 1.2-2.2 1.2-2.4 1.2 2.7 1.2-1 1.2-0.5 1.2 4 1.2 1 1.2 3.6 1.2-0.9 1.2-0.8 1.2 2.2 1.2 3.2 1.2-2.8 1.2 3.1 1.2 2.3 1.2-3.5 1.2 1 1.2 5.8 1.2-0.5 1.2 1 1.2 2.5 1.2-2.1 1.2 0.7 1.2 1.7 1.2-0.7 1.2-4.7 1.2 1.2 1.2-0.2 1.2-1 1.2 0.1 1.2-3.9 1.2 1.2 1.2-1.1 1.2-1.8 1.2-0.7 1.2-0.5 1.2-1.6 1.2 1.5 1.2 1.2 1.2-1.4 1.2 3.6 1.2-0.7 1.2 2.2 0 23-1.2-0.9-1.2 0.6-1.2-2-1.2-1.5-1.2-1.6-1.2 1.6-1.2-2.4-1.2 2-1.2 2.3-1.2-1.4-1.2 0.8-1.2-0.4-1.2 4.3-1.2-1.7-1.2 2.6-1.2-2.2-1.2 0.7-1.2 2-1.2 3.3-1.2-1.4-1.2 0.5-1.2 0.3-1.2-2.1-1.2-1.6-1.2 0.6-1.2-2.9-1.2-1.1-1.2 4-1.2-2.5-1.2-1.6-1.2 0.4-1.2 2.7-1.2-2-1.2-1.7-1.2-0.5-1.2-2.7-1.2 2.1-1.2-3.8-1.2-0.4-1.2 0.5-1.2-2.1-1.2 1.1-1.2 0-1.2 1.1-1.2-4-1.2-2-1.2 2.1-1.2-3.5-1.2-3-1.2-1.2-1.2-1.8-1.2-5-1.2-1.4-1.2 2.1-1.2-1.3-1.2 5.9-1.2-0.6-1.2-0.7-1.2 4.2-1.2 1.7-1.2 4.7-1.2 1.2-1.2 2.7-1.2-4.4-1.2 6.9-1.2 2.9-1.2 0.2-1.2 7.4-1.2-0.8-1.2 3.6-1.2 0.2-1.2 1.8-1.2 1-1.2 1-1.2 3.3-1.2 1.6-1.2-1.6-1.2-0.9-1.2 0.6-1.2 1.3-1.2-1.6-1.2 2.7-1.2-0.7-1.2-0.5-1.2-0.6-1.2 2.2-1.2 2.7-1.2-3.1-1.2 0.4-1.2-0.2z" fill="#f8ac7e" opacity="0.46"/>
<path d="M30.3 818.2l1.2 0 1.2 0 1.2-3.3 1.2 3.7 1.2 0.4 1.2 1 1.2-2.3 1.2 3.4 1.2-1.5 1.2-1.5 1.2-2.1 1.2-1.5 1.2-1.9 1.2 0 1.2-1.7 1.2-1.4 1.2-1.7 1.2 4.3 1.2-2.4 1.2-1.5 1.2-1.2 1.2 0.3 1.2-1.5 1.2-1.9 1.2-2.5 1.2-3.8 1.2-0.5 1.2-2.7 1.2-2.7 1.2-0.1 1.2-4 1.2-2 1.2 2.8 1.2-3.8 1.2-1.5 1.2-2.6 1.2-6.2 1.2-2.9 1.2-1.1 1.2 2.8 1.2 5 1.2 0.7 1.2-0.8 1.2 2.1 1.2 1.1 1.2 2 1.2 0.7 1.2 0.9 1.2 0.9 1.2 1.1 1.2 0.6 1.2 0.5 1.2 1.6 1.2 2.5 1.2 2.6 1.2-2.7 1.2 1.1 1.2 2.4 1.2-0.5 1.2 2.2 1.2 0.2 1.2-0.9 1.2-0.2 1.2 1.9 1.2 0.9 1.2-1.6 1.2 0.6 1.2 0.6 1.2-1.4 1.2 0 1.2-0.8 1.2 0.6 1.2 0.2 1.2-0.6 1.2 0 1.2-3 1.2 1.6 1.2-1.5 1.2-4.3 1.2 0.3 1.2 2.4 1.2-2.4 1.2 2.9 1.2 0 1.2 2.2 1.2-2.4 1.2 2.7 1.2 1.8 1.2 0.6 1.2 0.8" stroke="#4b9da4" stroke-width="1.4" fill="none"/>
<path d="M30.3 820.7l1.2 0.4 1.2-1.5 1.2 3.7 1.2-2.4 1.2-1.9 1.2-1.8 1.2 0 1.2 2.9 1.2-0.9 1.2 0.5 1.2-2.4 1.2-1.4 1.2 0.8 1.2 2 1.2-0.3 1.2-4.2 1.2-0.8 1.2-1.1 1.2-0.6 1.2-1.9 1.2-3.1 1.2-1.6 1.2-3.6 1.2-3.4 1.2-2.4 1.2-6.2 1.2 2.1 1.2-4.1 1.2-0.4 1.2-3.7 1.2-3.2 1.2-3.2 1.2-1.1 1.2 0.7 1.2-5.6 1.2-1.1 1.2-1.5 1.2 0.7 1.2 4.8 1.2 2.1 1.2-0.1 1.2 2.7 1.2 3.1 1.2 0.1 1.2 0.3 1.2 3.7 1.2-0.2 1.2-2 1.2 0.5 1.2 0.5 1.2 1.3 1.2-0.6 1.2 2.6 1.2 0.3 1.2 3.4 1.2-0.9 1.2 0 1.2 2.6 1.2-0.3 1.2-0.9 1.2 2.4 1.2 1.6 1.2-2.2 1.2 1.7 1.2 2.3 1.2 0.6 1.2 1.7 1.2 0.9 1.2-0.2 1.2 0 1.2 1.5 1.2-2.5 1.2-2.4 1.2-0.8 1.2 0.3 1.2-0.7 1.2-0.3 1.2-2.8 1.2 1.2 1.2-1.7 1.2-0.6 1.2-1.4 1.2-0.5 1.2 0.2 1.2 0.2 1.2 1.6 1.2-1.4 1.2 3.7 1.2 0.1 1.2 0.6" stroke="#f78a45" stroke-width="1.4" fill="none"/>
<path d="M30.2 733.5L30.2 845.7" stroke="#222" stroke-width="0.9"/>
<path d="M30.2 845.7L138.5 845.7" stroke="#222" stroke-width="0.9"/>
<path d="M30.2 845.7L32 845.7" stroke="#222" stroke-width="0.6"/>
<path d="M30.2 817.7L32 817.7" stroke="#222" stroke-width="0.6"/>
<path d="M30.2 789.6L32 789.6" stroke="#222" stroke-width="0.6"/>
<path d="M30.2 761.5L32 761.5" stroke="#222" stroke-width="0.6"/>
<path d="M30.2 733.5L32 733.5" stroke="#222" stroke-width="0.6"/>
<text x="14.5" y="849.6" font-size="12.3">-1</text>
<text x="18.4" y="823.2" font-size="12.3">0</text>
<text x="18.6" y="795.1" font-size="12.3">1</text>
<text x="18.6" y="767" font-size="12.3">2</text>
<text x="18.5" y="743.1" font-size="12.3">3</text>
<path d="M52.5 845.7L52.5 843.9" stroke="#222" stroke-width="0.6"/>
<path d="M100.7 845.7L100.7 843.9" stroke="#222" stroke-width="0.6"/>
<path d="M124.8 845.7L124.8 843.9" stroke="#222" stroke-width="0.6"/>
<path d="M100.7 733.5L100.7 845.7" stroke="#3aa845" stroke-width="1.3"/>
<text x="35.1" y="740.5" font-size="10">Type 6</text>
<text x="47.1" y="862" font-size="12.3">-1</text>
<text x="97.3" y="862" font-size="12.3">0</text>
<text x="116.3" y="862" font-size="12.3">0.5</text>
<text x="60.8" y="877.2" font-size="13.2">Time (s)</text>
<path d="M165.7 843.5l34.2 0 7.3-1.1 2.1-4.3 1-48.2 1.2-37.5 2.4-9.1 5.8-3.8 7.2-2.7 6.8-0.5 2.4 2.1 2.4 8.1 2.4 11.8 2.4 16 2.4 18.8 3.4 16.1 4.8 11.8 5.8 9.1 6.8 9.1 7.2 3.7" stroke="#d4d4d4" stroke-width="2.6" fill="none" stroke-linejoin="round"/>
<path d="M165.7 812.6l1.2-0.6 1.2-3.8 1.2 2.4 1.2-1.6 1.2-2.4 1.2 0.5 1.2 0.1 1.2-4.7 1.2 1.6 1.2 1 1.2-4.5 1.2-0.3 1.2-1.1 1.2 2.3 1.2-3.2 1.2 2.3 1.2-2.4 1.2-1.5 1.2-3.8 1.2-3.7 1.2-3.9 1.2-0.2 1.2-2.5 1.2-2.6 1.2-1.7 1.2-8.6 1.2-1.8 1.2-1.5 1.2-1.7 1.2-7.4 1.2-4.7 1.2-3.8 1.2 2.5 1.2-3.9 1.2-3.6 1.2-0.7 1.2-2.3 1.2 2.2 1.2-5.3 1.2 0.8 1.2-2.1 1.2 1 1.2 4.5 1.2 1.1 1.2-1 1.2 7.3 1.2 0.3 1.2 2.2 1.2-1.1 1.2 3.4 1.2 2.4 1.2 0.2 1.2-1.1 1.2-0.4 1.2-1.5 1.2-0.6 1.2 2.6 1.2 1.1 1.2 0.1 1.2-2.2 1.2-2 1.2-1.6 1.2-2.3 1.2 2.3 1.2 3.2 1.2-0.7 1.2 7.3 1.2-0.8 1.2 3.1 1.2 6.2 1.2 4.3 1.2 2.8 1.2 1.5 1.2 1.6 1.2 3.3 1.2-0.4 1.2 4.9 1.2 3.2 1.2 2.3 1.2-0.3 1.2 5.1 1.2-3.3 1.2 0.4 1.2 0.6 1.2 2.1 1.2-1.3 1.2 1.9 1.2 3 1.2 1.9 1.2-1.2 0 27.2-1.2 3.9-1.2-3.5-1.2 0.3-1.2-1.9-1.2 2.5-1.2 1.8-1.2-4.6-1.2 2.7-1.2 1.3-1.2-2.8-1.2-2.2-1.2 1.5-1.2-1.7-1.2-4.3-1.2-0.7-1.2-1.1-1.2-3.1-1.2-0.6-1.2-4-1.2-3.4-1.2-5-1.2-4.5-1.2-3.5-1.2-5.6-1.2 0.6-1.2-4.2-1.2-2-1.2 0.6-1.2 1.4-1.2 4.3-1.2 1.9-1.2-2.2-1.2-1.1-1.2-2-1.2 2-1.2 0-1.2 1.8-1.2-1.9-1.2 0.9-1.2-0.9-1.2-2.7-1.2 0.4-1.2-1.6-1.2 1.8-1.2-7.8-1.2 1.4-1.2-0.7-1.2 0-1.2-2.1-1.2 3.8-1.2-0.6-1.2-0.3-1.2 1.9-1.2 1.6-1.2-2.7-1.2 2-1.2 1.9-1.2-0.6-1.2 1-1.2 4-1.2 4.3-1.2 0.7-1.2 0.4-1.2-0.8-1.2 5-1.2 3-1.2 0.7-1.2 1.4-1.2 1-1.2 3.7-1.2-1-1.2 2.4-1.2 1.1-1.2 4.6-1.2-2.6-1.2 2.2-1.2-3-1.2 0.6-1.2 0.3-1.2 1.7-1.2 0.9-1.2-1.9-1.2 4.3-1.2-0.5-1.2 1.9-1.2 1.9-1.2 2.1-1.2 0.6-1.2-1-1.2 0.9z" fill="#67bedb" opacity="0.46"/>
<path d="M165.7 813.2l1.2-0.9 1.2-1.9 1.2-3.1 1.2 2.4 1.2-3.8 1.2-0.3 1.2-0.7 1.2-1.4 1.2-0.1 1.2-1.5 1.2 1.2 1.2-6.6 1.2 2.6 1.2-1.7 1.2 0.3 1.2-3.4 1.2-5.9 1.2 0.3 1.2-0.7 1.2-6.6 1.2-0.8 1.2 0.6 1.2-3.7 1.2-4.4 1.2 0.2 1.2 2.5 1.2-6.5 1.2-6 1.2-3.7 1.2-5.1 1.2 0.8 1.2-7.3 1.2-3.6 1.2 0.2 1.2-5 1.2-1.8 1.2 2.4 1.2-1.2 1.2-0.9 1.2 1.8 1.2 1.2 1.2 1.8 1.2-2.6 1.2 2.1 1.2-1.9 1.2 2.2 1.2-0.3 1.2 0.8 1.2 3.1 1.2 2.8 1.2 1.9 1.2-3.9 1.2 1.2 1.2 0.9 1.2 1.6 1.2 0.4 1.2-0.8 1.2-0.2 1.2-0.2 1.2-3.1 1.2 4.1 1.2 1.5 1.2 3.2 1.2-1.5 1.2 7.1 1.2 2 1.2 1.8 1.2 5.9 1.2 4.1 1.2 6.5 1.2 2 1.2 3.6 1.2 1.1 1.2 5.3 1.2 5.8 1.2 1 1.2 1.7 1.2-2.2 1.2 2.9 1.2 6 1.2-2.2 1.2 2.2 1.2-2.5 1.2 0.4 1.2-1.6 1.2 2.5 1.2 1.1 1.2-2.1 1.2 3.4 1.2-1.1 0 27.1-1.2-1-1.2-5.4-1.2 4.5-1.2-0.9-1.2-0.8-1.2 0.6-1.2-1.3-1.2 1.7-1.2 2-1.2-1.9-1.2-3.2-1.2-3.5-1.2 0.2-1.2-0.6-1.2-3.4-1.2-3.7-1.2-4.6-1.2 0.2-1.2-2.1-1.2-6.7-1.2-2-1.2-4.3-1.2-3.5-1.2-0.9-1.2-3.8-1.2-6.2-1.2 1.1-1.2-2.9-1.2-0.1-1.2-1.3-1.2-0.2-1.2 1.6-1.2 1-1.2 2.6-1.2-1.6-1.2-1.1-1.2 0.9-1.2-1.1-1.2 0.7-1.2-1.9-1.2-3.4-1.2-5.6-1.2 3.8-1.2-1.5-1.2-1-1.2 0-1.2-2.1-1.2 0.2-1.2-0.8-1.2-1.4-1.2-3.5-1.2 2.1-1.2 0-1.2-2.1-1.2 0.1-1.2 4.5-1.2 1.7-1.2-1.2-1.2 6.9-1.2-0.6-1.2 6.7-1.2 2.5-1.2 4.3-1.2 4.3-1.2 0.3-1.2-1.8-1.2 4.9-1.2-0.4-1.2-0.9-1.2 2.5-1.2 5.8-1.2 0.7-1.2 0.1-1.2 5-1.2 3-1.2-0.4-1.2 0.9-1.2-0.2-1.2 2.8-1.2 2.4-1.2-1.6-1.2 2.3-1.2-0.9-1.2 0-1.2-3.5-1.2 3.3-1.2-0.4-1.2 3-1.2 1.3-1.2 0.8z" fill="#f8ac7e" opacity="0.46"/>
<path d="M165.7 818.6l1.2-0.8 1.2 0.2 1.2-0.4 1.2-1.8 1.2-0.9 1.2-1.7 1.2-0.1 1.2-4.2 1.2 1.5 1.2-0.5 1.2-1.2 1.2-2 1.2 0.1 1.2 1.4 1.2-1.2 1.2 0.9 1.2-2.5 1.2-2.1 1.2-3.5 1.2 0 1.2-3.5 1.2-1.4 1.2-2 1.2-1.1 1.2-3.7 1.2-5.4 1.2-0.4 1.2-1 1.2-2.4 1.2-4.1 1.2-4.9 1.2-2.8 1.2 1.1 1.2-2.8 1.2-3.1 1.2 1.8 1.2-1.4 1.2-0.8 1.2-1.7 1.2 1.5 1.2-4.8 1.2 1.2 1.2 1.5 1.2 2.2 1.2 0 1.2 5.3 1.2 0.3 1.2 2.2 1.2 0 1.2 0.5 1.2 2.9 1.2-0.9 1.2 1.2 1.2-1.4 1.2-0.1 1.2-0.8 1.2 2.7 1.2 0.3 1.2 1.5 1.2-2 1.2-3.7 1.2-2.5 1.2-1.2 1.2 3.4 1.2 2.7 1.2 0.4 1.2 5.6 1.2 2 1.2 3.7 1.2 4.7 1.2 4.8 1.2 2.6 1.2 0.9 1.2 2.8 1.2 1.9 1.2 1.7 1.2 3.1 1.2 2.9 1.2 0.8 1.2 1.6 1.2 2 1.2-2.1 1.2 0.4 1.2 1.7 1.2 0.7 1.2-1.9 1.2 1.7 1.2 1.3 1.2 2.5 1.2-2.5" stroke="#4b9da4" stroke-width="1.4" fill="none"/>
<path d="M165.7 819l1.2-0.9 1.2-0.9 1.2-3.5 1.2 1.8 1.2-2.3 1.2 0.1 1.2-0.5 1.2-0.1 1.2-1.1 1.2 0.9 1.2-1.8 1.2-3.4 1.2 1 1.2-2.1 1.2 0.4 1.2-2.6 1.2-5.4 1.2 0.8 1.2-2.9 1.2-4.7 1.2-1.6 1.2 0.5 1.2-2.3 1.2-3.4 1.2-0.9 1.2 1.7 1.2-4 1.2-4.9 1.2-3.8 1.2-5.2 1.2-1.8 1.2-5.5 1.2-1.4 1.2-0.6 1.2-4 1.2-2.8 1.2 1.3 1.2 0.1 1.2 0.4 1.2 1.9 1.2 0.9 1.2 0.8 1.2-0.1 1.2 1.3 1.2-0.1 1.2 0.8 1.2 1.3 1.2-0.8 1.2 4.3 1.2 2.5 1.2 1.4 1.2-1.7 1.2 1 1.2 0 1.2 1.1 1.2 0.6 1.2-2.3 1.2 0.2 1.2-1 1.2-0.5 1.2 2.8 1.2 0.7 1.2 2.7 1.2-0.1 1.2 5.8 1.2 2.5 1.2 2.1 1.2 4.9 1.2 3.4 1.2 3.9 1.2 4.4 1.2 1.8 1.2 1.7 1.2 4.2 1.2 4.9 1.2 2.3 1.2 1.3 1.2-0.6 1.2 3.5 1.2 1.4 1.2 1.2 1.2 1.1 1.2-0.9 1.2 1.2 1.2-2.6 1.2 2.2 1.2-1 1.2-1.8 1.2 4.3 1.2-0.4" stroke="#f78a45" stroke-width="1.4" fill="none"/>
<path d="M165.6 733.5L165.6 845.7" stroke="#222" stroke-width="0.9"/>
<path d="M165.6 845.7L273.9 845.7" stroke="#222" stroke-width="0.9"/>
<path d="M165.6 845.7L167.4 845.7" stroke="#222" stroke-width="0.6"/>
<path d="M165.6 808.3L167.4 808.3" stroke="#222" stroke-width="0.6"/>
<path d="M165.6 770.9L167.4 770.9" stroke="#222" stroke-width="0.6"/>
<path d="M165.6 733.5L167.4 733.5" stroke="#222" stroke-width="0.6"/>
<text x="149.9" y="849.6" font-size="12.3">-1</text>
<text x="153.8" y="813.8" font-size="12.3">0</text>
<text x="154" y="776.4" font-size="12.3">1</text>
<text x="154" y="743.1" font-size="12.3">2</text>
<path d="M187.9 845.7L187.9 843.9" stroke="#222" stroke-width="0.6"/>
<path d="M236.1 845.7L236.1 843.9" stroke="#222" stroke-width="0.6"/>
<path d="M260.2 845.7L260.2 843.9" stroke="#222" stroke-width="0.6"/>
<path d="M236.1 733.5L236.1 845.7" stroke="#3aa845" stroke-width="1.3"/>
<text x="170.5" y="740.5" font-size="10">Type 7</text>
<text x="182.5" y="862" font-size="12.3">-1</text>
<text x="232.7" y="862" font-size="12.3">0</text>
<text x="251.7" y="862" font-size="12.3">0.5</text>
<text x="196.2" y="877.2" font-size="13.2">Time (s)</text>
<path d="M301.1 843.5l34.3 0 7.2-1.1 2.1-4.3 1-48.2 1.2-37.5 2.4-9.1 5.8-3.8 7.2-2.7 6.8-0.5 2.4 2.1 2.4 8.1 2.4 11.8 2.4 16 2.4 18.8 3.4 16.1 4.8 11.8 5.8 9.1 6.8 9.1 7.2 3.7" stroke="#d4d4d4" stroke-width="2.6" fill="none" stroke-linejoin="round"/>
<path d="M301.1 754.4l1.2 2 1.2-1.9 1.2-0.1 1.2 0 1.2 1.6 1.2-1.2 1.2 0.6 1.2-0.3 1.2 1.4 1.2-1.2 1.2 2.3 1.2-0.2 1.2-0.1 1.2 0.4 1.2 0.9 1.2 1.4 1.2-2.6 1.2 0.9 1.2-2.5 1.2 1.4 1.2 0 1.2 4.9 1.2-2.1 1.2 2.3 1.2 0.5 1.2-1.5 1.2 5 1.2 0.7 1.2 0.3 1.2 2 1.2 0.2 1.2 4.8 1.2 2.4 1.2 1.9 1.2 4.7 1.2 2.1 1.2 2.5 1.2 0.9 1.2 3.3 1.2 1.3 1.2 1.1 1.2 2.4 1.2 1.1 1.2 3 1.2-0.3 1.2 0.9 1.2 0.7 1.2-3.8 1.2-0.1 1.2-0.4 1.2 1.1 1.2-0.4 1.2-0.9 1.2 0.8 1.2 2.1 1.2-0.3 1.2-0.2 1.2 0.9 1.2-0.2 1.2 2.5 1.2-3.2 1.2 5.4 1.2 0.4 1.2 1.4 1.2-0.3 1.2 2.6 1.2-1 1.2-0.3 1.2-0.6 1.2-0.2 1.2 0 1.2-1.1 1.2-0.8 1.2-1.2 1.2 2.4 1.2-2.7 1.2-5.1 1.2 0 1.2 2.3 1.2-3.8 1.2 2.5 1.2 3 1.2-1.7 1.2 1.6 1.2 1.4 1.2-0.8 1.2-1.4 1.2 1 1.2 3.9 1.2-4.2 0 33.8-1.2 3-1.2-2.3-1.2-0.5-1.2-1-1.2 1.8-1.2-1.7-1.2 0.5-1.2 0.3-1.2-4.3-1.2 0.4-1.2 0.2-1.2-0.9-1.2-1.8-1.2 1.7-1.2 4.6-1.2-2.7-1.2 1.9-1.2-2-1.2 0.4-1.2-1.4-1.2 1-1.2 0.5-1.2-0.3-1.2-1.4-1.2-3.5-1.2 3-1.2-0.9-1.2-4.2-1.2-4.5-1.2 4.3-1.2-4.2-1.2 6.4-1.2-2.2-1.2 0.9-1.2-0.6-1.2-1.3-1.2-0.5-1.2 0.4-1.2 1.3-1.2-0.7-1.2 0.9-1.2-0.1-1.2 2.6-1.2 1.3-1.2-0.6-1.2 2.2-1.2-3.5-1.2-2-1.2-2.5-1.2-1.6-1.2-2.9-1.2-2.2-1.2-0.5-1.2-3.2-1.2-4.3-1.2-4.5-1.2-2.4-1.2-2.7-1.2-4.3-1.2-3.9-1.2 1.3-1.2-2.6-1.2 0.4-1.2-4.7-1.2-0.9-1.2 0.6-1.2-3.4-1.2-0.7-1.2-2.9-1.2-3.5-1.2 1.9-1.2 2.6-1.2-1.4-1.2 1.8-1.2 0.8-1.2-2.8-1.2 3.6-1.2-4.1-1.2 1.6-1.2 0.2-1.2-1.6-1.2-1.8-1.2 0.8-1.2 3.1-1.2-1.4-1.2 0.7-1.2-0.6-1.2-1.5-1.2 1.9-1.2-3.2z" fill="#67bedb" opacity="0.46"/>
<path d="M301.1 764.4l1.2 3.4 1.2-7.2 1.2 2.9 1.2 3 1.2-2.3 1.2-2.8 1.2-1.8 1.2-3 1.2-1.6 1.2 0.7 1.2 0.5 1.2 0.8 1.2-1.3 1.2-0.3 1.2 1.2 1.2-3.3 1.2 0.3 1.2-1.5 1.2-1.5 1.2-0.3 1.2-1 1.2 3.4 1.2 2.3 1.2 2.2 1.2-1.1 1.2-0.2 1.2 0.8 1.2 0.9 1.2 7.9 1.2 2.7 1.2 4.6 1.2 2.6 1.2 6 1.2 2.9 1.2 2.5 1.2 1.9 1.2 5.6 1.2 2.8 1.2-0.5 1.2 2.7 1.2 1.5 1.2 3.8 1.2-7.8 1.2 7.1 1.2-3.5 1.2 2 1.2-1.7 1.2 2.7 1.2-0.9 1.2-1 1.2 1.1 1.2 2 1.2-0.3 1.2 0.9 1.2-0.7 1.2 1 1.2-1.2 1.2-0.1 1.2 1.7 1.2-0.4 1.2 1.9 1.2-1.7 1.2 3.4 1.2 0.2 1.2 1 1.2 1.5 1.2-1.9 1.2-2.5 1.2 0.7 1.2-2.2 1.2 1.9 1.2 0.1 1.2 0.4 1.2 0.6 1.2-0.9 1.2 0.3 1.2-0.2 1.2-1.2 1.2 1.5 1.2-7.5 1.2 2.8 1.2-2.1 1.2 0.1 1.2 1.3 1.2-0.7 1.2-1.6 1.2 0.9 1.2-1.2 1.2 1.7 1.2 1.6 0 24.6-1.2-0.2-1.2-4.2-1.2 5.1-1.2 0.6-1.2 1-1.2-0.2-1.2-1.6-1.2 3.2-1.2-2.3-1.2-0.7-1.2 4.8-1.2-2.7-1.2 3.4-1.2 1.5-1.2-2.5-1.2-1.1-1.2 3.4-1.2-4.6-1.2 0.5-1.2-0.7-1.2 2.9-1.2-2.3-1.2 1.2-1.2-1-1.2-0.2-1.2-2-1.2-1.3-1.2 0.5-1.2-1.2-1.2-0.1-1.2 0-1.2-2.1-1.2 0.2-1.2-0.5-1.2-0.6-1.2 0.8-1.2 2.9-1.2-3.1-1.2-1.2-1.2 1.4-1.2-0.3-1.2-0.4-1.2-1.4-1.2 4-1.2-3.7-1.2 5.2-1.2-6.5-1.2 2.9-1.2-0.9-1.2-1.4-1.2-2.5-1.2 2.3-1.2-5.7-1.2-3-1.2-0.8-1.2-4-1.2-5.7-1.2-3.4-1.2-4.3-1.2-4.9-1.2-3.4-1.2-6.2-1.2-2.1-1.2-2.8-1.2-1.4-1.2 2.2-1.2-3.4-1.2-0.4-1.2-3.9-1.2 0.3-1.2 2-1.2-1.6-1.2 4.1-1.2 0.8-1.2 1-1.2-0.8-1.2 0.7-1.2 0.3-1.2 1.4-1.2 0.5-1.2-2-1.2 3.5-1.2 0.7-1.2 5.7-1.2-2.9-1.2 4.6-1.2-1.1-1.2 0.7-1.2 0.1-1.2 0.3z" fill="#f8ac7e" opacity="0.46"/>
<path d="M301.1 765.4l1.2 3.5 1.2-2.4 1.2-0.3 1.2 0.9 1.2 0.4 1.2 0.2 1.2-0.8 1.2-0.9 1.2 0.8 1.2 0.5 1.2 1 1.2-1.3 1.2 2 1.2-0.5 1.2 1.3 1.2-0.2 1.2-1.5 1.2 1.2 1.2-2.6 1.2-0.3 1.2 1.8 1.2 3.7 1.2-0.4 1.2 2.6 1.2-0.2 1.2 1.2 1.2 2.2 1.2-0.7 1.2 3.1 1.2 0.9 1.2 3.3 1.2 3.4 1.2 2.3 1.2 4.2 1.2 2.6 1.2 3.3 1.2 2.6 1.2 1.3 1.2 2.7 1.2 1.7 1.2 1.5 1.2 2 1.2 2.2 1.2 2.2 1.2-0.4 1.2 0.9 1.2-0.2 1.2-2.4 1.2-0.8 1.2-1.2 1.2 0.8 1.2-2.1 1.2 2.5 1.2-0.2 1.2 0.7 1.2 0.8 1.2-0.2 1.2 0.9 1.2-1.7 1.2 1.5 1.2-3.1 1.2 6 1.2 0.4 1.2 0 1.2-0.5 1.2 3.4 1.2 0.9 1.2-0.6 1.2 0.9 1.2-1.8 1.2 0.5 1.2-1.6 1.2 2.2 1.2-1.1 1.2 0.1 1.2-2.2 1.2-2.1 1.2-0.7 1.2 1.5 1.2-0.6 1.2-0.3 1.2 3.6 1.2-0.9 1.2 0.3 1.2 3 1.2-1.5 1.2-0.1 1.2-0.4 1.2 3.6 1.2-4.6" stroke="#4b9da4" stroke-width="1.4" fill="none"/>
<path d="M301.1 776.5l1.2 2.4 1.2-3.3 1.2-0.3 1.2 0.7 1.2-1.6 1.2-1.1 1.2-2.8 1.2-2.7 1.2-1.4 1.2 0.3 1.2 0.8 1.2-0.4 1.2-1.4 1.2 0.4 1.2 0.6 1.2-2.4 1.2-1.2 1.2-1.6 1.2-2.2 1.2 0.9 1.2 0.7 1.2 1.7 1.2 3.7 1.2 1.2 1.2-2.2 1.2 0.3 1.2 2.5 1.2 2.8 1.2 4.2 1.2 5.1 1.2 4.1 1.2 3 1.2 4.9 1.2 4.5 1.2 3.7 1.2 1.3 1.2 3.2 1.2 5.3 1.2-1 1.2 2.2 1.2 0.3 1.2 2.2 1.2-3.8 1.2 4.9 1.2-2.4 1.2 2.4 1.2-1.5 1.2 1.6 1.2-1 1.2-0.1 1.2 0.1 1.2 0.6 1.2 1.7 1.2-1.1 1.2-0.3 1.2-0.6 1.2 0.5 1.2-0.3 1.2 1.7 1.2 0.6 1.2 1 1.2-0.7 1.2 1.6 1.2 0.6 1.2 2.2 1.2-0.2 1.2-1.1 1.2-0.5 1.2 0.9 1.2-2.1 1.2 1.3 1.2 0.3 1.2 1.1 1.2 0.2 1.2-0.6 1.2 0 1.2 0.1 1.2-1.7 1.2 1.7 1.2-5 1.2 0.1 1.2 0.7 1.2-2 1.2 0.6 1.2-0.3 1.2 0.2 1.2 0.7 1.2-2.8 1.2 1.6 1.2 0.9" stroke="#f78a45" stroke-width="1.4" fill="none"/>
<path d="M301 733.5L301 845.7" stroke="#222" stroke-width="0.9"/>
<path d="M301 845.7L409.3 845.7" stroke="#222" stroke-width="0.9"/>
<path d="M301 845.7L302.8 845.7" stroke="#222" stroke-width="0.6"/>
<path d="M301 808.3L302.8 808.3" stroke="#222" stroke-width="0.6"/>
<path d="M301 770.9L302.8 770.9" stroke="#222" stroke-width="0.6"/>
<path d="M301 733.5L302.8 733.5" stroke="#222" stroke-width="0.6"/>
<text x="285.3" y="849.6" font-size="12.3">-2</text>
<text x="285.3" y="813.8" font-size="12.3">-1</text>
<text x="289.2" y="776.4" font-size="12.3">0</text>
<text x="289.4" y="743.1" font-size="12.3">1</text>
<path d="M323.3 845.7L323.3 843.9" stroke="#222" stroke-width="0.6"/>
<path d="M371.5 845.7L371.5 843.9" stroke="#222" stroke-width="0.6"/>
<path d="M395.6 845.7L395.6 843.9" stroke="#222" stroke-width="0.6"/>
<path d="M371.5 733.5L371.5 845.7" stroke="#3aa845" stroke-width="1.3"/>
<text x="305.9" y="740.5" font-size="10">Type 8</text>
<text x="317.9" y="862" font-size="12.3">-1</text>
<text x="368.1" y="862" font-size="12.3">0</text>
<text x="387.1" y="862" font-size="12.3">0.5</text>
<text x="331.6" y="877.2" font-size="13.2">Time (s)</text>
<path d="M436.5 843.5l34.3 0 7.2-1.1 2.1-4.3 1-48.2 1.2-37.5 2.4-9.1 5.8-3.8 7.2-2.7 6.8-0.5 2.4 2.1 2.4 8.1 2.4 11.8 2.4 16 2.4 18.8 3.4 16.1 4.8 11.8 5.8 9.1 6.8 9.1 7.2 3.7" stroke="#d4d4d4" stroke-width="2.6" fill="none" stroke-linejoin="round"/>
<path d="M436.5 756.9l1.2-0.9 1.2 2.2 1.2-3.8 1.2 2.8 1.2-1.2 1.2-1.7 1.2 0.6 1.2-1.4 1.2 0 1.2-2 1.2 0.7 1.2 4.2 1.2 1 1.2-3.7 1.2 3.4 1.2 2.2 1.2-1.8 1.2-1.5 1.2 0.1 1.2-0.1 1.2 1.3 1.2-1.6 1.2 3.1 1.2 3 1.2-2.7 1.2 0.2 1.2 3.3 1.2 2.8 1.2 0.9 1.2 1 1.2-3.5 1.2 3.8 1.2 0.4 1.2 2.6 1.2 0.4 1.2 0.8 1.2 2.2 1.2 2.3 1.2 0 1.2 1.8 1.2 0.2 1.2 4 1.2 2.9 1.2 2.9 1.2-1 1.2 3.3 1.2 0.8 1.2 1.5 1.2 0.7 1.2-0.5 1.2-2.3 1.2 4.9 1.2 1.3 1.2 2.6 1.2 3 1.2-4.8 1.2-1.5 1.2 2.7 1.2 1.3 1.2-2.5 1.2 3 1.2-5.6 1.2 0.6 1.2-2.4 1.2-1.6 1.2-0.8 1.2-5.5 1.2 1.5 1.2-3.8 1.2-1.8 1.2-1.3 1.2-1.6 1.2-7.8 1.2-0.3 1.2-5.9 1.2-5.2 1.2-2.7 1.2 1.7 1.2-3.8 1.2 0.8 1.2-5.2 1.2 0.5 1.2-0.3 1.2-2.4 1.2-1.9 1.2-2 1.2 1.2 1.2-1.1 1.2-0.9 1.2 1.8 0 33.2-1.2-4.3-1.2 1.5-1.2 0.9-1.2-2-1.2 2.4-1.2 0.3-1.2 0.5-1.2 2.8-1.2-0.5-1.2 2.4-1.2 1.5-1.2 2.4-1.2-0.8-1.2 1.6-1.2 4.8-1.2 4.4-1.2 4.5-1.2 3.2-1.2 4.5-1.2-0.1-1.2 3-1.2 1.1-1.2 3.5-1.2 1.5-1.2 5.5-1.2-0.2-1.2 4.1-1.2-1.2-1.2 5.7-1.2-0.3-1.2 0.9-1.2-0.8-1.2-2.1-1.2 1.2-1.2 3.8-1.2-0.5-1.2-3.1-1.2-0.9-1.2-7.2-1.2 1.7-1.2-0.4-1.2-0.9-1.2-1.8-1.2 0-1.2-4.3-1.2-0.7-1.2-3.8-1.2-3.8-1.2-0.5-1.2-3.6-1.2-1.1-1.2-2.9-1.2-5.2-1.2-1-1.2-1.6-1.2 2.7-1.2-4.3-1.2-1.5-1.2-3-1.2 4.4-1.2-1.2-1.2-2.3-1.2-2.6-1.2-2.2-1.2 0.1-1.2 1.8-1.2-2.6-1.2-0.9-1.2-2.6-1.2 2.8-1.2 0.7-1.2-0.4-1.2 0.4-1.2 1.7-1.2-1.3-1.2-4.3-1.2 4.4-1.2-2-1.2 0.3-1.2-4.6-1.2 2.7-1.2-2-1.2 3.2-1.2 3-1.2-3.2-1.2 0.5-1.2-2.1-1.2 3.6-1.2-2.3-1.2 1z" fill="#67bedb" opacity="0.46"/>
<path d="M436.5 757.8l1.2 3 1.2-2.6 1.2 0.8 1.2-1.5 1.2-0.1 1.2-2 1.2 3.4 1.2-2.2 1.2-0.9 1.2-1.2 1.2 1.3 1.2-0.3 1.2-1.6 1.2 2.1 1.2-0.2 1.2-1.1 1.2 1.3 1.2-1.1 1.2-4 1.2 1 1.2 4.4 1.2 1.5 1.2-2.1 1.2 0.7 1.2 2.8 1.2-0.8 1.2 1.1 1.2 3 1.2-2.5 1.2 3.3 1.2-1.7 1.2 1.7 1.2-2.9 1.2 4.1 1.2 5.9 1.2 3 1.2 0.6 1.2 0.8 1.2 0.5 1.2 1.8 1.2-1.8 1.2 4.3 1.2-0.9 1.2 1.9 1.2 3.1 1.2 3.2 1.2-0.3 1.2-2.1 1.2 3.2 1.2 2.9 1.2-4.4 1.2 4.1 1.2 2.3 1.2 0.7 1.2-2.5 1.2 5.5 1.2-2.2 1.2 4.7 1.2-0.2 1.2 8.3 1.2-2 1.2 5.3 1.2-5.7 1.2-1.4 1.2-3.3 1.2-0.9 1.2-2.7 1.2-3.5 1.2-6 1.2 0.1 1.2-0.2 1.2-2.7 1.2-4.1 1.2-4.4 1.2-4.9 1.2-1.4 1.2-0.8 1.2-4.2 1.2-0.9 1.2-7 1.2-3.3 1.2 2.2 1.2 0.2 1.2 0.5 1.2 0.1 1.2-1.1 1.2 0.2 1.2 1.5 1.2-1 1.2 2.6 0 44.8-1.2-1.5-1.2 1.8-1.2-2.7-1.2-1.1-1.2 2.6-1.2-0.8-1.2 0-1.2-2.2-1.2 1.5-1.2-0.6-1.2 4.9-1.2-0.4-1.2 4.8-1.2 1.6-1.2-1-1.2 4.2-1.2 2.7-1.2 1.7-1.2 3.8-1.2 0.1-1.2 2.1-1.2 3-1.2 3.1-1.2 1.1-1.2-0.2-1.2 3.6-1.2-0.8-1.2 7-1.2-6.4-1.2 2.7-1.2-8-1.2-1.2-1.2-2.1-1.2 0.6-1.2-2-1.2 2-1.2-2.8-1.2-1.5-1.2-2.7-1.2 4.4-1.2-2.3-1.2-3.3-1.2 2-1.2-0.4-1.2-1.1-1.2-4.4-1.2-1.2-1.2-0.4-1.2-1.3-1.2 3.2-1.2-5.8-1.2-3.8-1.2 0.8-1.2 0.1-1.2-6.9-1.2-4.5-1.2-1.5-1.2-0.4-1.2-2.2-1.2-2.2-1.2-0.4-1.2-1-1.2-1.6-1.2-2.6-1.2 1.9-1.2-5.2-1.2 1-1.2 0.3-1.2-4.1-1.2-0.4-1.2-2.5-1.2 1.8-1.2 1.9-1.2 1.2-1.2-2.6-1.2 3.9-1.2 0.7-1.2-0.9-1.2-2.2-1.2-0.2-1.2 0.9-1.2 1.6-1.2-0.3-1.2 0.5-1.2 0.8-1.2 0.8-1.2 2.5-1.2-1.1-1.2 0.3-1.2 2.3z" fill="#f8ac7e" opacity="0.46"/>
<path d="M436.5 768.5l1.2-1 1.2 0.5 1.2-0.5 1.2 1 1.2-1.5 1.2 0.8 1.2-0.8 1.2-2.3 1.2 2 1.2-0.7 1.2-0.6 1.2 3.2 1.2 0.1 1.2-2.3 1.2 2.7 1.2 2.2 1.2-1.5 1.2-0.9 1.2-0.4 1.2-1.2 1.2 1.4 1.2-0.3 1.2 1.9 1.2 2.4 1.2-1.3 1.2-0.5 1.2 2.6 1.2 2.7 1.2 0.3 1.2 1 1.2-1.7 1.2 2.4 1.2 0.4 1.2 3.1 1.2 0.4 1.2 1.2 1.2 0.3 1.2 4.5 1.2 0.7 1.2 2.1 1.2 3.4 1.2 0.7 1.2 3.5 1.2 2.6 1.2 2.1 1.2 0.7 1.2 1.9 1.2 1.8 1.2-0.2 1.2 1.3 1.2-2.2 1.2 4.8 1.2 3.4 1.2 2.1 1.2 0.7 1.2-4.1 1.2-0.2 1.2 1 1.2 1.5 1.2-0.9 1.2 0.9 1.2-5.8 1.2 1.2 1.2-4.4 1.2-0.3 1.2-2.9 1.2-3.5 1.2-0.5 1.2-1.5 1.2-3.3 1.2-1.6 1.2-1.9 1.2-3.9 1.2-4.6 1.2-5.4 1.2-4 1.2-2.7 1.2 1.5 1.2-2.8 1.2-1.4 1.2-3.4 1.2-0.2 1.2-1.4 1.2-0.2 1.2-0.7 1.2-2.3 1.2 0.4 1.2-1 1.2 0.2 1.2 1.5" stroke="#4b9da4" stroke-width="1.4" fill="none"/>
<path d="M436.5 772.7l1.2-0.4 1.2-1.2 1.2 0.4 1.2-1.8 1.2-0.6 1.2-0.7 1.2-0.4 1.2-0.3 1.2-0.6 1.2 0 1.2-0.6 1.2 1.6 1.2-1.5 1.2 0.8 1.2-0.9 1.2-0.3 1.2 0.7 1.2-0.7 1.2-2.7 1.2-0.4 1.2 4.3 1.2 1.5 1.2-1.1 1.2 1.2 1.2 2 1.2-0.8 1.2 0.8 1.2 3.7 1.2-0.5 1.2 1.5 1.2 0.6 1.2 1.8 1.2 0.7 1.2 0.8 1.2 5.5 1.2 4.4 1.2-0.3 1.2 0.7 1.2 2.9 1.2 3.1 1.2-2.9 1.2 3.7 1.2 0.5 1.2 0.6 1.2 3.7 1.2 1.8 1.2 0 1.2-1.2 1.2 3.2 1.2 2.1 1.2-3.5 1.2 3.8 1.2 2.1 1.2-0.6 1.2-1.2 1.2 2.9 1.2 0 1.2 2.6 1.2 0.8 1.2 6.9 1.2-0.6 1.2 4.4 1.2-4.7 1.2-1.5 1.2-2.7 1.2-1.2 1.2-1.4 1.2-3.1 1.2-3.6 1.2-1.8 1.2-1.2 1.2-2.6 1.2-3.2 1.2-3.1 1.2-5 1.2-0.4 1.2-1.1 1.2-3.7 1.2-1.5 1.2-3.9 1.2-2 1.2-1.4 1.2 2 1.2 0.9 1.2 0.8 1.2-1.7 1.2 1.6 1.2 0.9 1.2-2 1.2 2.8" stroke="#f78a45" stroke-width="1.4" fill="none"/>
<path d="M436.4 733.5L436.4 845.7" stroke="#222" stroke-width="0.9"/>
<path d="M436.4 845.7L544.7 845.7" stroke="#222" stroke-width="0.9"/>
<path d="M436.4 845.7L438.2 845.7" stroke="#222" stroke-width="0.6"/>
<path d="M436.4 808.3L438.2 808.3" stroke="#222" stroke-width="0.6"/>
<path d="M436.4 770.9L438.2 770.9" stroke="#222" stroke-width="0.6"/>
<path d="M436.4 733.5L438.2 733.5" stroke="#222" stroke-width="0.6"/>
<text x="420.7" y="849.6" font-size="12.3">-2</text>
<text x="420.7" y="813.8" font-size="12.3">-1</text>
<text x="424.6" y="776.4" font-size="12.3">0</text>
<text x="424.8" y="743.1" font-size="12.3">1</text>
<path d="M458.7 845.7L458.7 843.9" stroke="#222" stroke-width="0.6"/>
<path d="M506.9 845.7L506.9 843.9" stroke="#222" stroke-width="0.6"/>
<path d="M531 845.7L531 843.9" stroke="#222" stroke-width="0.6"/>
<path d="M506.9 733.5L506.9 845.7" stroke="#3aa845" stroke-width="1.3"/>
<text x="441.3" y="740.5" font-size="10">Type 9</text>
<text x="453.3" y="862" font-size="12.3">-1</text>
<text x="503.5" y="862" font-size="12.3">0</text>
<text x="522.5" y="862" font-size="12.3">0.5</text>
<text x="467" y="877.2" font-size="13.2">Time (s)</text>
<path d="M571.9 843.5l34.3 0 7.2-1.1 2.1-4.3 1-48.2 1.2-37.5 2.4-9.1 5.8-3.8 7.2-2.7 6.8-0.5 2.4 2.1 2.4 8.1 2.4 11.8 2.4 16 2.4 18.8 3.4 16.1 4.8 11.8 5.8 9.1 6.8 9.1 7.2 3.7" stroke="#d4d4d4" stroke-width="2.6" fill="none" stroke-linejoin="round"/>
<path d="M571.9 788.5l1.2-2.7 1.2 4.4 1.2-3 1.2-1.3 1.2-1.8 1.2 1.5 1.2 0.2 1.2-3.2 1.2 1.5 1.2 2.3 1.2-2.4 1.2 0.8 1.2-1.4 1.2-2.8 1.2 2.1 1.2 3.9 1.2-4.3 1.2-2.4 1.2 1.8 1.2-1.1 1.2-0.3 1.2 0.5 1.2-3.3 1.2 0.2 1.2-0.7 1.2-0.9 1.2 3 1.2-0.6 1.2-1.2 1.2 2.1 1.2-1.4 1.2-0.2 1.2 1 1.2 1.9 1.2 1.9 1.2 0.8 1.2 0.6 1.2 4.1 1.2 6.7 1.2-0.5 1.2 0.9 1.2-0.5 1.2-1.6 1.2-4.2 1.2-0.4 1.2-2.3 1.2-0.1 1.2-2.2 1.2-0.8 1.2-1.3 1.2-2 1.2-1.5 1.2-5.5 1.2 3.3 1.2-0.9 1.2-0.6 1.2-8 1.2 2 1.2-0.5 1.2-1.8 1.2-5.3 1.2 3.4 1.2-1.2 1.2 1.2 1.2 1 1.2-2.1 1.2 3.1 1.2 5.4 1.2-0.1 1.2 3.3 1.2 4.1 1.2 5.9 1.2-0.4 1.2 3.7 1.2 5.3 1.2 3.1 1.2-0.2 1.2 1.4 1.2 0.8 1.2 1.8 1.2 0.7 1.2 0 1.2 3.9 1.2-0.2 1.2 0.4 1.2-0.3 1.2-0.9 1.2-1.5 1.2-1 1.2 2.1 0 20-1.2-5.6-1.2 5-1.2-1-1.2 2.1-1.2-1-1.2-0.9-1.2 0.2-1.2-5-1.2-0.4-1.2 1.6-1.2-1.3-1.2-3.2-1.2-1-1.2-0.5-1.2-3.4-1.2-1.9-1.2-7.9-1.2 2.5-1.2-4.8-1.2-6-1.2 0-1.2-2.2-1.2-0.9-1.2-2.4-1.2-2.4-1.2 0.9-1.2 0.2-1.2 1.6-1.2-1.7-1.2 2.8-1.2 3.2-1.2-2.2-1.2-1.1-1.2 7.1-1.2 3.6-1.2-2.5-1.2 1.3-1.2 2.8-1.2-0.8-1.2 4.6-1.2 0.8-1.2 1.5-1.2 0.9-1.2-0.1-1.2 3.9-1.2 0.2-1.2 2.7-1.2 2.9-1.2-0.6-1.2 1.7-1.2-2.4-1.2-1.2-1.2-4.2-1.2-4.2-1.2 1.9-1.2-1.3-1.2 0.1-1.2-1.7-1.2-1-1.2 0.9-1.2-2.2-1.2-0.7-1.2-0.3-1.2-1.9-1.2-1.5-1.2 2.3-1.2-0.3-1.2-0.7-1.2 0.2-1.2 1.3-1.2 4.3-1.2-3.9-1.2 1.7-1.2 0.8-1.2-0.6-1.2-2.9-1.2 2.8-1.2 0.9-1.2-0.2-1.2 3.2-1.2-6.5-1.2 1.1-1.2 2.4-1.2-1.9-1.2-0.5-1.2 0.3-1.2-0.1-1.2 1.1-1.2-2.8-1.2-0.3z" fill="#67bedb" opacity="0.46"/>
<path d="M571.9 792.1l1.2-0.7 1.2 2.3 1.2-0.9 1.2-0.9 1.2-0.8 1.2-1.3 1.2-1.6 1.2 4.5 1.2-2.6 1.2-3.3 1.2 0.4 1.2 0.9 1.2-3.3 1.2 0 1.2-2.7 1.2 1.4 1.2 0.9 1.2-3.8 1.2-1.4 1.2 1.8 1.2 0.4 1.2 0.6 1.2 3.1 1.2-0.3 1.2 4.6 1.2-2.7 1.2 2.8 1.2-0.6 1.2-0.9 1.2 2.8 1.2-2.8 1.2 1 1.2-3.1 1.2 4.5 1.2 2.7 1.2-3 1.2-0.3 1.2 3.7 1.2-1.8 1.2-1.6 1.2-0.1 1.2 1.2 1.2-0.5 1.2-3.4 1.2-0.9 1.2 1.9 1.2-1.6 1.2-3.5 1.2 2.2 1.2-4.6 1.2-0.4 1.2-0.7 1.2-2.1 1.2-2.1 1.2-3.4 1.2 1 1.2-0.4 1.2-9.1 1.2-3.7 1.2-10.2 1.2-5.5 1.2 0.1 1.2-1.3 1.2-1.4 1.2-3.5 1.2-0.1 1.2-0.7 1.2 4.9 1.2 7.1 1.2 9.4 1.2 4.2 1.2 8.9 1.2 3.4 1.2 9.4 1.2 3.6 1.2 3 1.2 1.7 1.2 2.2 1.2 1.1 1.2 4.1 1.2 1.9 1.2 2.4 1.2-3.4 1.2-1.5 1.2-1.1 1.2-1.8 1.2 1.3 1.2-3.4 1.2-1.3 1.2 1.7 0 28.8-1.2-0.1-1.2-0.8-1.2 1.6-1.2 0.5-1.2-0.2-1.2 0-1.2 3.4-1.2 2.1-1.2-1.4-1.2-5.8-1.2-4.6-1.2 2.5-1.2-3.3-1.2 2.2-1.2-3.5-1.2-3.4-1.2-5.4-1.2-3.3-1.2-3.6-1.2-6.4-1.2-6-1.2-6-1.2-4.9-1.2-0.6-1.2 3.8-1.2 2.7-1.2-0.2-1.2-4.5-1.2-3.3-1.2 1.6-1.2 4.5-1.2 6.7-1.2 9.2-1.2 0.5-1.2-4.5-1.2 5-1.2 1.7-1.2-0.2-1.2 1.2-1.2-0.2-1.2 2.5-1.2 0.1-1.2 1.2-1.2 1.3-1.2-1.2-1.2 2.7-1.2-2.4-1.2 2.2-1.2-0.3-1.2-1.9-1.2 4.1-1.2 1.3-1.2-1.6-1.2-0.1-1.2 0.6-1.2-2.3-1.2-2.6-1.2 3.1-1.2 1-1.2-1.2-1.2-0.4-1.2-0.7-1.2 1.3-1.2-0.7-1.2 2.7-1.2-3.8-1.2-1.8-1.2-0.7-1.2-2.2-1.2-0.4-1.2-2.3-1.2 0.8-1.2 1.1-1.2-0.1-1.2-1.3-1.2 1.2-1.2 0.9-1.2 1.7-1.2-1.8-1.2 2.1-1.2 0.5-1.2 1.6-1.2-3.2-1.2 4.1-1.2-6.4-1.2 4.6-1.2-2.7-1.2 1.5-1.2 3.9-1.2-3.3z" fill="#f8ac7e" opacity="0.46"/>
<path d="M571.9 794.1l1.2-0.9 1.2 2.7 1.2-1.6 1.2-0.8 1.2-1.2 1.2 0.1 1.2 1.3 1.2-2.7 1.2 1.3 1.2 4.1 1.2-2.3 1.2-2 1.2 0.3 1.2-0.7 1.2 1.8 1.2 0.9 1.2-1.8 1.2-1.4 1.2 2.2 1.2-3 1.2-1 1.2 0.6 1.2-1.7 1.2 0.4 1.2-0.7 1.2-0.5 1.2 3.1 1.2-0.5 1.2-0.1 1.2 1.6 1.2-1.1 1.2 2 1.2-0.6 1.2 0.1 1.2 2.8 1.2-1.2 1.2 2.9 1.2 3.2 1.2 5.4 1.2 0 1.2 0.1 1.2-0.8 1.2-2.1 1.2-3.1 1.2 0.1 1.2-2.8 1.2 0.5 1.2-2.4 1.2-0.9 1.2-1.5 1.2-2.1 1.2-1.6 1.2-2.9 1.2 1.1 1.2-0.7 1.2-2 1.2-5.2 1.2-0.8 1.2 2 1.2-3.2 1.2-4.2 1.2 1.7 1.2-0.8 1.2 0.2 1.2 0.5 1.2 0.9 1.2 2.3 1.2 1.3 1.2 3.3 1.2 0.6 1.2 6 1.2 3.6 1.2 0.1 1.2 6.5 1.2 3.4 1.2 1.2 1.2 1.7 1.2 0.4 1.2 2.8 1.2 1.7 1.2-0.6 1.2 0.9 1.2 3.5 1.2 0.6 1.2 0 1.2-1.1 1.2 0.1 1.2-0.6 1.2-2.5 1.2 2.9" stroke="#4b9da4" stroke-width="1.4" fill="none"/>
<path d="M571.9 796.7l1.2 2.2 1.2-1 1.2-0.9 1.2 0.7 1.2-2.4 1.2 1.4 1.2-0.7 1.2 3.5 1.2-3.5 1.2-1.5 1.2 0.2 1.2 1.2 1.2-2.8 1.2-0.1 1.2-1.5 1.2 0.1 1.2 0.8 1.2-2.6 1.2-0.7 1.2 0.7 1.2 1.6 1.2 0.9 1.2 2 1.2 1.5 1.2 2.9 1.2-1.1 1.2 0.4 1.2-0.3 1.2-0.9 1.2 1.8 1.2-1.1 1.2 0.1 1.2-1.3 1.2 2.8 1.2 2 1.2-1.1 1.2-1.1 1.2 2.3 1.2-1.4 1.2-1.8 1.2 0.9 1.2 0.5 1.2-2.2 1.2 0 1.2-1.3 1.2 1.3 1.2-0.9 1.2-1.7 1.2 0.7 1.2-4 1.2-0.3 1.2-2 1.2 0 1.2-1.8 1.2-4.5 1.2 2.8 1.2-0.6 1.2-9 1.2-5.3 1.2-6.8 1.2-5 1.2 4.1 1.2 1.2 1.2-0.7 1.2-3.5 1.2-2.3 1.2-0.6 1.2 5.5 1.2 5.6 1.2 7.7 1.2 6.3 1.2 5.8 1.2 4.1 1.2 6.8 1.2 4.4 1.2 2.5 1.2-0.4 1.2 3.6 1.2 0.8 1.2 2.8 1.2 2.2 1.2 2.5 1.2-2.7 1.2-2.2 1.2-0.6 1.2-0.3 1.2-1.2 1.2-1.9 1.2 0.3 1.2 1.5" stroke="#f78a45" stroke-width="1.4" fill="none"/>
<path d="M571.8 733.5L571.8 845.7" stroke="#222" stroke-width="0.9"/>
<path d="M571.8 845.7L680.1 845.7" stroke="#222" stroke-width="0.9"/>
<path d="M571.8 845.7L573.6 845.7" stroke="#222" stroke-width="0.6"/>
<path d="M571.8 817.7L573.6 817.7" stroke="#222" stroke-width="0.6"/>
<path d="M571.8 789.6L573.6 789.6" stroke="#222" stroke-width="0.6"/>
<path d="M571.8 761.5L573.6 761.5" stroke="#222" stroke-width="0.6"/>
<path d="M571.8 733.5L573.6 733.5" stroke="#222" stroke-width="0.6"/>
<text x="556.1" y="849.6" font-size="12.3">-2</text>
<text x="556.1" y="823.2" font-size="12.3">-1</text>
<text x="560" y="795.1" font-size="12.3">0</text>
<text x="560.2" y="767" font-size="12.3">1</text>
<text x="560.2" y="743.1" font-size="12.3">2</text>
<path d="M594.1 845.7L594.1 843.9" stroke="#222" stroke-width="0.6"/>
<path d="M642.3 845.7L642.3 843.9" stroke="#222" stroke-width="0.6"/>
<path d="M666.4 845.7L666.4 843.9" stroke="#222" stroke-width="0.6"/>
<path d="M642.3 733.5L642.3 845.7" stroke="#3aa845" stroke-width="1.3"/>
<text x="576.7" y="740.5" font-size="10">Type 10</text>
<text x="588.7" y="862" font-size="12.3">-1</text>
<text x="638.9" y="862" font-size="12.3">0</text>
<text x="657.9" y="862" font-size="12.3">0.5</text>
<text x="602.4" y="877.2" font-size="13.2">Time (s)</text>
<text x="10.2" y="686.7" font-size="13.2" transform="rotate(-90 10.2 686.7)">Zscore</text>
<text x="10.2" y="810.1" font-size="13.2" transform="rotate(-90 10.2 810.1)">Zscore</text>
<text x="0.9" y="902.5" font-size="17">h</text>
<rect x="38.7" y="920.3" width="8.6" height="117.4" fill="#36a6c4" stroke="#1a1a1a" stroke-width="0.7"/>
<rect x="47.3" y="920.3" width="8.5" height="117.4" fill="#fb9a56" stroke="#1a1a1a" stroke-width="0.7"/>
<text x="43.7" y="1053.6" font-size="12.3">1</text>
<rect x="69.2" y="992.4" width="8.6" height="45.3" fill="#36a6c4" stroke="#1a1a1a" stroke-width="0.7"/>
<rect x="77.8" y="988.2" width="8.5" height="49.5" fill="#fb9a56" stroke="#1a1a1a" stroke-width="0.7"/>
<text x="74.3" y="1053.6" font-size="12.3">2</text>
<rect x="99.6" y="991" width="8.6" height="46.7" fill="#36a6c4" stroke="#1a1a1a" stroke-width="0.7"/>
<rect x="108.2" y="983.9" width="8.5" height="53.8" fill="#fb9a56" stroke="#1a1a1a" stroke-width="0.7"/>
<text x="104.8" y="1053.6" font-size="12.3">3</text>
<rect x="130" y="961.3" width="8.6" height="76.4" fill="#36a6c4" stroke="#1a1a1a" stroke-width="0.7"/>
<rect x="138.6" y="967" width="8.5" height="70.8" fill="#fb9a56" stroke="#1a1a1a" stroke-width="0.7"/>
<text x="135.3" y="1053.6" font-size="12.3">4</text>
<rect x="160.5" y="982.5" width="8.6" height="55.2" fill="#36a6c4" stroke="#1a1a1a" stroke-width="0.7"/>
<rect x="169.1" y="975.4" width="8.5" height="62.3" fill="#fb9a56" stroke="#1a1a1a" stroke-width="0.7"/>
<text x="165.7" y="1053.6" font-size="12.3">5</text>
<rect x="191" y="974" width="8.6" height="63.7" fill="#36a6c4" stroke="#1a1a1a" stroke-width="0.7"/>
<rect x="199.6" y="983.9" width="8.5" height="53.8" fill="#fb9a56" stroke="#1a1a1a" stroke-width="0.7"/>
<text x="196.1" y="1053.6" font-size="12.3">6</text>
<rect x="221.4" y="976.9" width="8.6" height="60.8" fill="#36a6c4" stroke="#1a1a1a" stroke-width="0.7"/>
<rect x="230" y="959.9" width="8.5" height="77.8" fill="#fb9a56" stroke="#1a1a1a" stroke-width="0.7"/>
<text x="226.6" y="1053.6" font-size="12.3">7</text>
<rect x="251.8" y="962.7" width="8.6" height="75" fill="#36a6c4" stroke="#1a1a1a" stroke-width="0.7"/>
<rect x="260.4" y="961.3" width="8.5" height="76.4" fill="#fb9a56" stroke="#1a1a1a" stroke-width="0.7"/>
<text x="257" y="1053.6" font-size="12.3">8</text>
<rect x="282.3" y="976.9" width="8.6" height="60.8" fill="#36a6c4" stroke="#1a1a1a" stroke-width="0.7"/>
<rect x="290.9" y="996.7" width="8.5" height="41" fill="#fb9a56" stroke="#1a1a1a" stroke-width="0.7"/>
<text x="287.5" y="1053.6" font-size="12.3">9</text>
<rect x="312.8" y="986.8" width="8.6" height="50.9" fill="#36a6c4" stroke="#1a1a1a" stroke-width="0.7"/>
<rect x="321.4" y="988.2" width="8.5" height="49.5" fill="#fb9a56" stroke="#1a1a1a" stroke-width="0.7"/>
<text x="314.3" y="1053.6" font-size="12.3">10</text>
<path d="M31.5 909.7L31.5 1037.7" stroke="#333" stroke-width="0.8"/>
<path d="M29.8 1037.7L31.5 1037.7" stroke="#333" stroke-width="0.6"/>
<path d="M29.8 1009.4L31.5 1009.4" stroke="#333" stroke-width="0.6"/>
<path d="M29.8 981.1L31.5 981.1" stroke="#333" stroke-width="0.6"/>
<path d="M29.8 952.8L31.5 952.8" stroke="#333" stroke-width="0.6"/>
<path d="M29.8 924.5L31.5 924.5" stroke="#333" stroke-width="0.6"/>
<text x="20" y="1042.1" font-size="12.3">0</text>
<text x="13.2" y="985.5" font-size="12.3">40</text>
<text x="13.2" y="928.9" font-size="12.3">80</text>
<text x="166.1" y="1067.2" font-size="13.2">Type</text>
<text x="12" y="992" font-size="13.2" transform="rotate(-90 12 992)"># Cells</text>
<text x="347.1" y="901.2" font-size="17">i</text>
<path d="M395.5 971.2V959.5" stroke="#f5a474" stroke-width="0.9"/>
<path d="M395.5 959.5V945.5" stroke="#f5a474" stroke-width="0.9" stroke-dasharray="4 2.6"/>
<path d="M393.7 945.5L397.3 945.5" stroke="#f5a474" stroke-width="0.9"/>
<path d="M395.5 1008.7V1025.8" stroke="#f5a474" stroke-width="0.9"/>
<path d="M393.7 1025.8L397.3 1025.8" stroke="#f5a474" stroke-width="0.9"/>
<rect x="391.3" y="971.2" width="8.4" height="37.5" fill="#fcd6bf" stroke="#f5a474" stroke-width="0.9"/>
<path d="M391.3 995.8L399.7 995.8" stroke="#f5a474" stroke-width="0.9"/>
<path d="M406.3 977.2V965.9" stroke="#3fadcc" stroke-width="0.9"/>
<path d="M406.3 965.9V928.4" stroke="#3fadcc" stroke-width="0.9" stroke-dasharray="4 2.6"/>
<path d="M404.5 928.4L408.1 928.4" stroke="#3fadcc" stroke-width="0.9"/>
<path d="M406.3 1010.8V1025.8" stroke="#3fadcc" stroke-width="0.9"/>
<path d="M404.5 1025.8L408.1 1025.8" stroke="#3fadcc" stroke-width="0.9"/>
<rect x="402.1" y="977.2" width="8.4" height="33.6" fill="#bde3ef" stroke="#3fadcc" stroke-width="0.9"/>
<path d="M402.1 995.2L410.5 995.2" stroke="#3fadcc" stroke-width="0.9"/>
<text x="397.3" y="1053.3" font-size="12.3">1</text>
<path d="M425.5 1002.3V991.6" stroke="#f5a474" stroke-width="0.9"/>
<path d="M425.5 991.6V972.3" stroke="#f5a474" stroke-width="0.9" stroke-dasharray="4 2.6"/>
<path d="M423.7 972.3L427.3 972.3" stroke="#f5a474" stroke-width="0.9"/>
<rect x="421.3" y="1002.3" width="8.4" height="23.5" fill="#fcd6bf" stroke="#f5a474" stroke-width="0.9"/>
<path d="M421.3 1013.6L429.7 1013.6" stroke="#f5a474" stroke-width="0.9"/>
<path d="M436.3 1000.1V989.4" stroke="#3fadcc" stroke-width="0.9"/>
<path d="M436.3 989.4V972.3" stroke="#3fadcc" stroke-width="0.9" stroke-dasharray="4 2.6"/>
<path d="M434.5 972.3L438.1 972.3" stroke="#3fadcc" stroke-width="0.9"/>
<rect x="432.1" y="1000.1" width="8.4" height="25.7" fill="#bde3ef" stroke="#3fadcc" stroke-width="0.9"/>
<path d="M432.1 1013.4L440.5 1013.4" stroke="#3fadcc" stroke-width="0.9"/>
<text x="427.5" y="1053.3" font-size="12.3">2</text>
<path d="M455.5 995.8V985.1" stroke="#f5a474" stroke-width="0.9"/>
<path d="M455.5 985.1V972.3" stroke="#f5a474" stroke-width="0.9" stroke-dasharray="4 2.6"/>
<path d="M453.7 972.3L457.3 972.3" stroke="#f5a474" stroke-width="0.9"/>
<rect x="451.3" y="995.8" width="8.4" height="30" fill="#fcd6bf" stroke="#f5a474" stroke-width="0.9"/>
<path d="M451.3 1021.5L459.7 1021.5" stroke="#f5a474" stroke-width="0.9"/>
<path d="M466.3 998V987.3" stroke="#3fadcc" stroke-width="0.9"/>
<path d="M464.5 987.3L468.1 987.3" stroke="#3fadcc" stroke-width="0.9"/>
<rect x="462.1" y="998" width="8.4" height="27.8" fill="#bde3ef" stroke="#3fadcc" stroke-width="0.9"/>
<path d="M462.1 1008.7L470.5 1008.7" stroke="#3fadcc" stroke-width="0.9"/>
<text x="457.5" y="1053.3" font-size="12.3">3</text>
<path d="M485.5 983V972.3" stroke="#f5a474" stroke-width="0.9"/>
<path d="M485.5 972.3V965.9" stroke="#f5a474" stroke-width="0.9" stroke-dasharray="4 2.6"/>
<path d="M483.7 965.9L487.3 965.9" stroke="#f5a474" stroke-width="0.9"/>
<path d="M485.5 1013V1025.8" stroke="#f5a474" stroke-width="0.9"/>
<path d="M483.7 1025.8L487.3 1025.8" stroke="#f5a474" stroke-width="0.9"/>
<rect x="481.3" y="983" width="8.4" height="30" fill="#fcd6bf" stroke="#f5a474" stroke-width="0.9"/>
<path d="M481.3 996.9L489.7 996.9" stroke="#f5a474" stroke-width="0.9"/>
<path d="M496.3 990.1V978.7" stroke="#3fadcc" stroke-width="0.9"/>
<path d="M496.3 978.7V954.1" stroke="#3fadcc" stroke-width="0.9" stroke-dasharray="4 2.6"/>
<path d="M494.5 954.1L498.1 954.1" stroke="#3fadcc" stroke-width="0.9"/>
<path d="M496.3 1016.2V1025.8" stroke="#3fadcc" stroke-width="0.9"/>
<path d="M494.5 1025.8L498.1 1025.8" stroke="#3fadcc" stroke-width="0.9"/>
<rect x="492.1" y="990.1" width="8.4" height="26.1" fill="#bde3ef" stroke="#3fadcc" stroke-width="0.9"/>
<path d="M492.1 1000.1L500.5 1000.1" stroke="#3fadcc" stroke-width="0.9"/>
<text x="487.5" y="1053.3" font-size="12.3">4</text>
<path d="M515.5 998.4V987.3" stroke="#f5a474" stroke-width="0.9"/>
<path d="M515.5 987.3V964.8" stroke="#f5a474" stroke-width="0.9" stroke-dasharray="4 2.6"/>
<path d="M513.7 964.8L517.3 964.8" stroke="#f5a474" stroke-width="0.9"/>
<rect x="511.3" y="998.4" width="8.4" height="27.4" fill="#fcd6bf" stroke="#f5a474" stroke-width="0.9"/>
<path d="M511.3 1011.9L519.7 1011.9" stroke="#f5a474" stroke-width="0.9"/>
<path d="M526.3 995.8V981.9" stroke="#3fadcc" stroke-width="0.9"/>
<path d="M524.5 981.9L528.1 981.9" stroke="#3fadcc" stroke-width="0.9"/>
<rect x="522.1" y="995.8" width="8.4" height="30" fill="#bde3ef" stroke="#3fadcc" stroke-width="0.9"/>
<path d="M522.1 1010.8L530.5 1010.8" stroke="#3fadcc" stroke-width="0.9"/>
<text x="517.5" y="1053.3" font-size="12.3">5</text>
<path d="M545.5 989.4V978.7" stroke="#f5a474" stroke-width="0.9"/>
<path d="M545.5 978.7V954.1" stroke="#f5a474" stroke-width="0.9" stroke-dasharray="4 2.6"/>
<path d="M543.7 954.1L547.3 954.1" stroke="#f5a474" stroke-width="0.9"/>
<path d="M545.5 1015.1V1025.8" stroke="#f5a474" stroke-width="0.9"/>
<path d="M543.7 1025.8L547.3 1025.8" stroke="#f5a474" stroke-width="0.9"/>
<rect x="541.3" y="989.4" width="8.4" height="25.7" fill="#fcd6bf" stroke="#f5a474" stroke-width="0.9"/>
<path d="M541.3 1007.6L549.7 1007.6" stroke="#f5a474" stroke-width="0.9"/>
<path d="M556.3 994.8V983" stroke="#3fadcc" stroke-width="0.9"/>
<path d="M556.3 983V954.1" stroke="#3fadcc" stroke-width="0.9" stroke-dasharray="4 2.6"/>
<path d="M554.5 954.1L558.1 954.1" stroke="#3fadcc" stroke-width="0.9"/>
<rect x="552.1" y="994.8" width="8.4" height="31" fill="#bde3ef" stroke="#3fadcc" stroke-width="0.9"/>
<path d="M552.1 1008.7L560.5 1008.7" stroke="#3fadcc" stroke-width="0.9"/>
<text x="547.4" y="1053.3" font-size="12.3">6</text>
<path d="M575.5 996.9V985.1" stroke="#f5a474" stroke-width="0.9"/>
<path d="M575.5 985.1V975.5" stroke="#f5a474" stroke-width="0.9" stroke-dasharray="4 2.6"/>
<path d="M573.7 975.5L577.3 975.5" stroke="#f5a474" stroke-width="0.9"/>
<rect x="571.3" y="996.9" width="8.4" height="28.9" fill="#fcd6bf" stroke="#f5a474" stroke-width="0.9"/>
<path d="M571.3 1007.6L579.7 1007.6" stroke="#f5a474" stroke-width="0.9"/>
<path d="M586.3 987.3V976.6" stroke="#3fadcc" stroke-width="0.9"/>
<path d="M586.3 976.6V954.1" stroke="#3fadcc" stroke-width="0.9" stroke-dasharray="4 2.6"/>
<path d="M584.5 954.1L588.1 954.1" stroke="#3fadcc" stroke-width="0.9"/>
<path d="M586.3 1015.1V1025.8" stroke="#3fadcc" stroke-width="0.9"/>
<path d="M584.5 1025.8L588.1 1025.8" stroke="#3fadcc" stroke-width="0.9"/>
<rect x="582.1" y="987.3" width="8.4" height="27.8" fill="#bde3ef" stroke="#3fadcc" stroke-width="0.9"/>
<path d="M582.1 998L590.5 998" stroke="#3fadcc" stroke-width="0.9"/>
<text x="577.5" y="1053.3" font-size="12.3">7</text>
<path d="M605.5 990.5V978.7" stroke="#f5a474" stroke-width="0.9"/>
<path d="M605.5 978.7V962.7" stroke="#f5a474" stroke-width="0.9" stroke-dasharray="4 2.6"/>
<path d="M603.7 962.7L607.3 962.7" stroke="#f5a474" stroke-width="0.9"/>
<path d="M605.5 1011.9V1025.8" stroke="#f5a474" stroke-width="0.9"/>
<path d="M603.7 1025.8L607.3 1025.8" stroke="#f5a474" stroke-width="0.9"/>
<rect x="601.3" y="990.5" width="8.4" height="21.4" fill="#fcd6bf" stroke="#f5a474" stroke-width="0.9"/>
<path d="M601.3 1005.5L609.7 1005.5" stroke="#f5a474" stroke-width="0.9"/>
<path d="M616.3 993.7V983" stroke="#3fadcc" stroke-width="0.9"/>
<path d="M616.3 983V965.9" stroke="#3fadcc" stroke-width="0.9" stroke-dasharray="4 2.6"/>
<path d="M614.5 965.9L618.1 965.9" stroke="#3fadcc" stroke-width="0.9"/>
<path d="M616.3 1014V1025.8" stroke="#3fadcc" stroke-width="0.9"/>
<path d="M614.5 1025.8L618.1 1025.8" stroke="#3fadcc" stroke-width="0.9"/>
<rect x="612.1" y="993.7" width="8.4" height="20.3" fill="#bde3ef" stroke="#3fadcc" stroke-width="0.9"/>
<path d="M612.1 1002.3L620.5 1002.3" stroke="#3fadcc" stroke-width="0.9"/>
<text x="607.5" y="1053.3" font-size="12.3">8</text>
<path d="M635.5 996.9V987.3" stroke="#f5a474" stroke-width="0.9"/>
<path d="M635.5 987.3V977.6" stroke="#f5a474" stroke-width="0.9" stroke-dasharray="4 2.6"/>
<path d="M633.7 977.6L637.3 977.6" stroke="#f5a474" stroke-width="0.9"/>
<rect x="631.3" y="996.9" width="8.4" height="28.9" fill="#fcd6bf" stroke="#f5a474" stroke-width="0.9"/>
<path d="M631.3 1007.6L639.7 1007.6" stroke="#f5a474" stroke-width="0.9"/>
<path d="M646.3 1001.2V989.4" stroke="#3fadcc" stroke-width="0.9"/>
<path d="M646.3 989.4V966.9" stroke="#3fadcc" stroke-width="0.9" stroke-dasharray="4 2.6"/>
<path d="M644.5 966.9L648.1 966.9" stroke="#3fadcc" stroke-width="0.9"/>
<rect x="642.1" y="1001.2" width="8.4" height="24.6" fill="#bde3ef" stroke="#3fadcc" stroke-width="0.9"/>
<path d="M642.1 1016.2L650.5 1016.2" stroke="#3fadcc" stroke-width="0.9"/>
<text x="637.5" y="1053.3" font-size="12.3">9</text>
<path d="M665.5 1000.1V989.4" stroke="#f5a474" stroke-width="0.9"/>
<path d="M665.5 989.4V972.3" stroke="#f5a474" stroke-width="0.9" stroke-dasharray="4 2.6"/>
<path d="M663.7 972.3L667.3 972.3" stroke="#f5a474" stroke-width="0.9"/>
<rect x="661.3" y="1000.1" width="8.4" height="25.7" fill="#fcd6bf" stroke="#f5a474" stroke-width="0.9"/>
<path d="M661.3 1009.8L669.7 1009.8" stroke="#f5a474" stroke-width="0.9"/>
<path d="M676.3 999V987.3" stroke="#3fadcc" stroke-width="0.9"/>
<path d="M676.3 987.3V964.8" stroke="#3fadcc" stroke-width="0.9" stroke-dasharray="4 2.6"/>
<path d="M674.5 964.8L678.1 964.8" stroke="#3fadcc" stroke-width="0.9"/>
<rect x="672.1" y="999" width="8.4" height="26.8" fill="#bde3ef" stroke="#3fadcc" stroke-width="0.9"/>
<path d="M672.1 1013L680.5 1013" stroke="#3fadcc" stroke-width="0.9"/>
<text x="663.8" y="1053.3" font-size="12.3">10</text>
<path d="M386.8 908.4L386.8 1036.3" stroke="#333" stroke-width="0.8"/>
<path d="M385 1025.8L386.8 1025.8" stroke="#333" stroke-width="0.6"/>
<text x="373.2" y="1030.2" font-size="12.3">0</text>
<path d="M385 983L386.8 983" stroke="#333" stroke-width="0.6"/>
<text x="366.4" y="987.4" font-size="12.3">20</text>
<path d="M385 940.2L386.8 940.2" stroke="#333" stroke-width="0.6"/>
<text x="366.4" y="944.6" font-size="12.3">40</text>
<text x="522.2" y="1067.2" font-size="13.2">Type</text>
<text x="357.8" y="1017.6" font-size="13.2" transform="rotate(-90 357.8 1017.6)">Occurrence (%)</text></svg></body></html>
